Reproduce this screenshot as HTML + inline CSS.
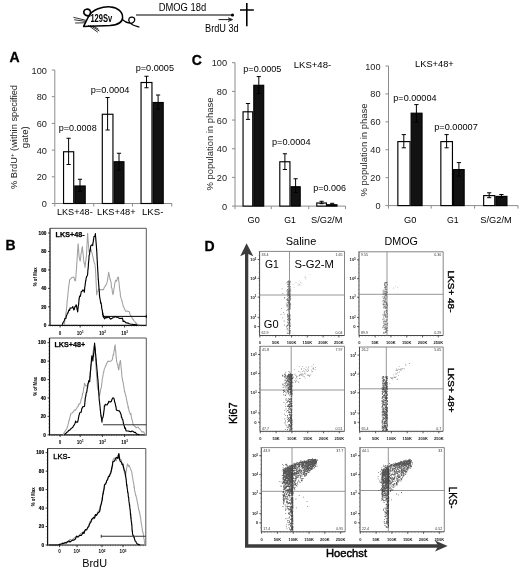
<!DOCTYPE html>
<html><head><meta charset="utf-8"><style>
html,body{margin:0;padding:0;background:#fff;}
svg{display:block;filter:blur(0.3px);}
</style></head><body>
<svg width="520" height="570" viewBox="0 0 520 570" font-family="Liberation Sans, sans-serif" style="font-family:'Liberation Sans',sans-serif">
<rect width="520" height="570" fill="#fff"/>
<g fill="none" stroke="#000" stroke-linecap="round" stroke-linejoin="round">
<path d="M83.6,26.4 L89.2,15.2 C93,9.5 102,6.4 110.5,6.9 C118,7.4 122.8,12 122.6,17.6 C122.4,22.6 117.5,25 110,25.6 C101,26.1 92,25.9 83.6,26.4 Z" stroke-width="1.5"/>
<path d="M89.8,15.6 C86.5,16.4 83.4,14.4 83.8,11.6 C84.3,8.9 88,8.5 89.8,10.2 C90.8,11.3 90.9,12.8 90.2,14" stroke-width="1.7"/>
<path d="M85.5,20.2 L73.8,17.4 M85.5,21.4 L74.5,19.8 M85.2,22.8 L75.5,23" stroke-width="0.8"/>
<path d="M88.5,25.5 L97.5,32 M90.5,25.6 L99,30.8 M93,25.8 L98.2,29" stroke-width="0.8"/>
<path d="M122.3,19.5 C124.5,21.5 127,22.8 129.5,23.2 C132.5,23.6 135.2,21.5 134.7,19 C134.2,16.8 130.8,16.4 129.3,18.2 C127.8,20.3 129.5,23.5 133,25 C135,25.9 137,26.4 139,27" stroke-width="1.2"/>
</g>
<text x="90.4" y="21.6" font-size="10" text-anchor="start" font-weight="bold" fill="#000" textLength="21.8" lengthAdjust="spacingAndGlyphs" >129Sv</text>
<line x1="136" y1="15" x2="232.5" y2="15" stroke="#000" stroke-width="1.1"/>
<circle cx="232.5" cy="15" r="1.6" fill="#000"/>
<text x="158.7" y="11.3" font-size="10" text-anchor="start" fill="#000" textLength="47.5" lengthAdjust="spacingAndGlyphs" >DMOG 18d</text>
<line x1="218.5" y1="19.6" x2="231" y2="19.6" stroke="#000" stroke-width="0.9"/>
<path d="M228,17.8 L232.5,19.6 L228,21.4" fill="none" stroke="#000" stroke-width="0.9"/>
<text x="205" y="32" font-size="10" text-anchor="start" fill="#000" textLength="33.7" lengthAdjust="spacingAndGlyphs" >BrdU 3d</text>
<line x1="246.8" y1="3" x2="246.8" y2="26.3" stroke="#000" stroke-width="1.6"/>
<line x1="240" y1="10" x2="253.8" y2="10" stroke="#000" stroke-width="1.5"/>
<text x="9.5" y="62.3" font-size="14" text-anchor="start" font-weight="bold" fill="#000" stroke="#000" stroke-width="0.3">A</text>
<line x1="54.8" y1="70" x2="54.8" y2="203.5" stroke="#8c8c8c" stroke-width="1"/>
<line x1="51.8" y1="203.50" x2="54.8" y2="203.50" stroke="#8c8c8c" stroke-width="1"/>
<text x="46.9" y="207.00" font-size="9.8" text-anchor="end" fill="#222" textLength="5.12" lengthAdjust="spacingAndGlyphs" >0</text>
<line x1="51.8" y1="176.80" x2="54.8" y2="176.80" stroke="#8c8c8c" stroke-width="1"/>
<text x="46.9" y="180.30" font-size="9.8" text-anchor="end" fill="#222" textLength="10.23" lengthAdjust="spacingAndGlyphs" >20</text>
<line x1="51.8" y1="150.10" x2="54.8" y2="150.10" stroke="#8c8c8c" stroke-width="1"/>
<text x="46.9" y="153.60" font-size="9.8" text-anchor="end" fill="#222" textLength="10.23" lengthAdjust="spacingAndGlyphs" >40</text>
<line x1="51.8" y1="123.40" x2="54.8" y2="123.40" stroke="#8c8c8c" stroke-width="1"/>
<text x="46.9" y="126.90" font-size="9.8" text-anchor="end" fill="#222" textLength="10.23" lengthAdjust="spacingAndGlyphs" >60</text>
<line x1="51.8" y1="96.70" x2="54.8" y2="96.70" stroke="#8c8c8c" stroke-width="1"/>
<text x="46.9" y="100.20" font-size="9.8" text-anchor="end" fill="#222" textLength="10.23" lengthAdjust="spacingAndGlyphs" >80</text>
<line x1="51.8" y1="70.00" x2="54.8" y2="70.00" stroke="#8c8c8c" stroke-width="1"/>
<text x="46.9" y="73.50" font-size="9.8" text-anchor="end" fill="#222" textLength="15.35" lengthAdjust="spacingAndGlyphs" >100</text>
<line x1="54.8" y1="203.5" x2="172" y2="203.5" stroke="#8c8c8c" stroke-width="1"/>
<line x1="54.8" y1="203.5" x2="54.8" y2="206.5" stroke="#8c8c8c" stroke-width="1"/>
<line x1="93.75" y1="203.5" x2="93.75" y2="206.5" stroke="#8c8c8c" stroke-width="1"/>
<line x1="132.5" y1="203.5" x2="132.5" y2="206.5" stroke="#8c8c8c" stroke-width="1"/>
<line x1="171.75" y1="203.5" x2="171.75" y2="206.5" stroke="#8c8c8c" stroke-width="1"/>
<rect x="63.55" y="151.75" width="10.15" height="51.75" fill="#fff" stroke="#000" stroke-width="1.15"/>
<rect x="74.8" y="186.0" width="10.4" height="17.5" fill="#121212" stroke="#000" stroke-width="1.15"/>
<rect x="102.3" y="114.25" width="10.65" height="89.25" fill="#fff" stroke="#000" stroke-width="1.15"/>
<rect x="114.05" y="161.75" width="9.9" height="41.75" fill="#121212" stroke="#000" stroke-width="1.15"/>
<rect x="141.05" y="82.5" width="10.9" height="121.0" fill="#fff" stroke="#000" stroke-width="1.15"/>
<rect x="153.05" y="102.5" width="10.15" height="101.0" fill="#121212" stroke="#000" stroke-width="1.15"/>
<path d="M68.6,138.25 V164.5 M66.5,138.25 H70.69999999999999 M66.5,164.5 H70.69999999999999" stroke="#000" stroke-width="1" fill="none"/>
<path d="M80,179.25 V191.25 M77.9,179.25 H82.1 M77.9,191.25 H82.1" stroke="#000" stroke-width="1" fill="none"/>
<path d="M107.6,97.5 V130 M105.5,97.5 H109.69999999999999 M105.5,130 H109.69999999999999" stroke="#000" stroke-width="1" fill="none"/>
<path d="M119,153.25 V170 M116.9,153.25 H121.1 M116.9,170 H121.1" stroke="#000" stroke-width="1" fill="none"/>
<path d="M146.5,76.25 V87.75 M144.4,76.25 H148.6 M144.4,87.75 H148.6" stroke="#000" stroke-width="1" fill="none"/>
<path d="M158.1,95 V109 M156.0,95 H160.2 M156.0,109 H160.2" stroke="#000" stroke-width="1" fill="none"/>
<text x="58.7" y="131" font-size="8.9" text-anchor="start" fill="#000" textLength="38" lengthAdjust="spacingAndGlyphs" >p=0.0008</text>
<text x="90.7" y="92.9" font-size="8.9" text-anchor="start" fill="#000" textLength="38.8" lengthAdjust="spacingAndGlyphs" >p=0.0004</text>
<text x="135.7" y="71.0" font-size="8.9" text-anchor="start" fill="#000" textLength="38.3" lengthAdjust="spacingAndGlyphs" >p=0.0005</text>
<text x="56.9" y="215.1" font-size="9.8" text-anchor="start" fill="#000" textLength="35.8" lengthAdjust="spacingAndGlyphs" >LKS+48-</text>
<text x="97" y="215.1" font-size="9.8" text-anchor="start" fill="#000" textLength="38.7" lengthAdjust="spacingAndGlyphs" >LKS+48+</text>
<text x="142" y="215.1" font-size="9.8" text-anchor="start" fill="#000" textLength="21.4" lengthAdjust="spacingAndGlyphs" >LKS-</text>
<text transform="translate(16.9,137) rotate(-90)" font-size="9.6" text-anchor="middle" textLength="104" lengthAdjust="spacingAndGlyphs" fill="#222">% BrdU<tspan font-size="6.2" dy="-3.4">+</tspan><tspan dy="3.4"> (within specified</tspan></text>
<text transform="translate(27.6,137.2) rotate(-90)" font-size="9.6" text-anchor="middle" fill="#222">gate)</text>
<text x="191.7" y="65.2" font-size="14" text-anchor="start" font-weight="bold" fill="#000" stroke="#000" stroke-width="0.3">C</text>
<line x1="235" y1="62.7" x2="235" y2="206.1" stroke="#8c8c8c" stroke-width="1"/>
<line x1="232" y1="206.10" x2="235" y2="206.10" stroke="#8c8c8c" stroke-width="1"/>
<text x="227.1" y="209.60" font-size="9.8" text-anchor="end" fill="#222" textLength="5.12" lengthAdjust="spacingAndGlyphs" >0</text>
<line x1="232" y1="177.42" x2="235" y2="177.42" stroke="#8c8c8c" stroke-width="1"/>
<text x="227.1" y="180.92" font-size="9.8" text-anchor="end" fill="#222" textLength="10.23" lengthAdjust="spacingAndGlyphs" >20</text>
<line x1="232" y1="148.74" x2="235" y2="148.74" stroke="#8c8c8c" stroke-width="1"/>
<text x="227.1" y="152.24" font-size="9.8" text-anchor="end" fill="#222" textLength="10.23" lengthAdjust="spacingAndGlyphs" >40</text>
<line x1="232" y1="120.06" x2="235" y2="120.06" stroke="#8c8c8c" stroke-width="1"/>
<text x="227.1" y="123.56" font-size="9.8" text-anchor="end" fill="#222" textLength="10.23" lengthAdjust="spacingAndGlyphs" >60</text>
<line x1="232" y1="91.38" x2="235" y2="91.38" stroke="#8c8c8c" stroke-width="1"/>
<text x="227.1" y="94.88" font-size="9.8" text-anchor="end" fill="#222" textLength="10.23" lengthAdjust="spacingAndGlyphs" >80</text>
<line x1="232" y1="62.70" x2="235" y2="62.70" stroke="#8c8c8c" stroke-width="1"/>
<text x="227.1" y="66.20" font-size="9.8" text-anchor="end" fill="#222" textLength="15.35" lengthAdjust="spacingAndGlyphs" >100</text>
<line x1="235" y1="206.1" x2="345.5" y2="206.1" stroke="#8c8c8c" stroke-width="1"/>
<line x1="235" y1="206.1" x2="235" y2="209.1" stroke="#8c8c8c" stroke-width="1"/>
<line x1="271.25" y1="206.1" x2="271.25" y2="209.1" stroke="#8c8c8c" stroke-width="1"/>
<line x1="308.75" y1="206.1" x2="308.75" y2="209.1" stroke="#8c8c8c" stroke-width="1"/>
<line x1="345.5" y1="206.1" x2="345.5" y2="209.1" stroke="#8c8c8c" stroke-width="1"/>
<rect x="243.05" y="111.8" width="9.65" height="94.3" fill="#fff" stroke="#000" stroke-width="1.15"/>
<rect x="253.8" y="85.3" width="9.9" height="120.8" fill="#121212" stroke="#000" stroke-width="1.15"/>
<rect x="279.8" y="161.75" width="10.15" height="44.349999999999994" fill="#fff" stroke="#000" stroke-width="1.15"/>
<rect x="291.05" y="186.75" width="9.15" height="19.349999999999994" fill="#121212" stroke="#000" stroke-width="1.15"/>
<rect x="316.8" y="203.0" width="9.65" height="3.0999999999999943" fill="#fff" stroke="#000" stroke-width="1.15"/>
<rect x="327.55" y="204.75" width="9.4" height="1.3499999999999943" fill="#121212" stroke="#000" stroke-width="1.15"/>
<path d="M248,103.5 V119.4 M245.9,103.5 H250.1 M245.9,119.4 H250.1" stroke="#000" stroke-width="1" fill="none"/>
<path d="M258.8,76.6 V93.5 M256.7,76.6 H260.90000000000003 M256.7,93.5 H260.90000000000003" stroke="#000" stroke-width="1" fill="none"/>
<path d="M284.9,153.75 V169.5 M282.79999999999995,153.75 H287.0 M282.79999999999995,169.5 H287.0" stroke="#000" stroke-width="1" fill="none"/>
<path d="M295.6,178.75 V192.5 M293.5,178.75 H297.70000000000005 M293.5,192.5 H297.70000000000005" stroke="#000" stroke-width="1" fill="none"/>
<path d="M321.6,201.3 V203.7 M319.5,201.3 H323.70000000000005 M319.5,203.7 H323.70000000000005" stroke="#000" stroke-width="1" fill="none"/>
<path d="M332.2,203.3 V205 M330.09999999999997,203.3 H334.3 M330.09999999999997,205 H334.3" stroke="#000" stroke-width="1" fill="none"/>
<text x="243.3" y="72.4" font-size="8.9" text-anchor="start" fill="#000" textLength="38.1" lengthAdjust="spacingAndGlyphs" >p=0.0005</text>
<text x="293.7" y="68.2" font-size="9.2" text-anchor="start" fill="#000" textLength="37.5" lengthAdjust="spacingAndGlyphs" >LKS+48-</text>
<text x="272" y="145" font-size="8.9" text-anchor="start" fill="#000" textLength="38.5" lengthAdjust="spacingAndGlyphs" >p=0.0004</text>
<text x="313.3" y="191.2" font-size="8.9" text-anchor="start" fill="#000" textLength="32.8" lengthAdjust="spacingAndGlyphs" >p=0.006</text>
<text x="247.6" y="223.2" font-size="9.4" text-anchor="start" fill="#000" textLength="12.2" lengthAdjust="spacingAndGlyphs" >G0</text>
<text x="284.3" y="223.2" font-size="9.4" text-anchor="start" fill="#000" textLength="11.6" lengthAdjust="spacingAndGlyphs" >G1</text>
<text x="311" y="223.2" font-size="9.4" text-anchor="start" fill="#000" textLength="31.4" lengthAdjust="spacingAndGlyphs" >S/G2/M</text>
<text transform="translate(213,144) rotate(-90)" font-size="9.6" fill="#222" text-anchor="middle" textLength="93" lengthAdjust="spacingAndGlyphs">% population in phase</text>
<line x1="388.5" y1="66" x2="388.5" y2="205.6" stroke="#8c8c8c" stroke-width="1"/>
<line x1="385.5" y1="205.60" x2="388.5" y2="205.60" stroke="#8c8c8c" stroke-width="1"/>
<text x="380.6" y="209.10" font-size="9.8" text-anchor="end" fill="#222" textLength="5.12" lengthAdjust="spacingAndGlyphs" >0</text>
<line x1="385.5" y1="177.68" x2="388.5" y2="177.68" stroke="#8c8c8c" stroke-width="1"/>
<text x="380.6" y="181.18" font-size="9.8" text-anchor="end" fill="#222" textLength="10.23" lengthAdjust="spacingAndGlyphs" >20</text>
<line x1="385.5" y1="149.76" x2="388.5" y2="149.76" stroke="#8c8c8c" stroke-width="1"/>
<text x="380.6" y="153.26" font-size="9.8" text-anchor="end" fill="#222" textLength="10.23" lengthAdjust="spacingAndGlyphs" >40</text>
<line x1="385.5" y1="121.84" x2="388.5" y2="121.84" stroke="#8c8c8c" stroke-width="1"/>
<text x="380.6" y="125.34" font-size="9.8" text-anchor="end" fill="#222" textLength="10.23" lengthAdjust="spacingAndGlyphs" >60</text>
<line x1="385.5" y1="93.92" x2="388.5" y2="93.92" stroke="#8c8c8c" stroke-width="1"/>
<text x="380.6" y="97.42" font-size="9.8" text-anchor="end" fill="#222" textLength="10.23" lengthAdjust="spacingAndGlyphs" >80</text>
<line x1="385.5" y1="66.00" x2="388.5" y2="66.00" stroke="#8c8c8c" stroke-width="1"/>
<text x="380.6" y="69.50" font-size="9.8" text-anchor="end" fill="#222" textLength="15.35" lengthAdjust="spacingAndGlyphs" >100</text>
<line x1="388.5" y1="205.6" x2="518" y2="205.6" stroke="#8c8c8c" stroke-width="1"/>
<line x1="388.5" y1="205.6" x2="388.5" y2="208.6" stroke="#8c8c8c" stroke-width="1"/>
<line x1="431.2" y1="205.6" x2="431.2" y2="208.6" stroke="#8c8c8c" stroke-width="1"/>
<line x1="474.6" y1="205.6" x2="474.6" y2="208.6" stroke="#8c8c8c" stroke-width="1"/>
<line x1="518" y1="205.6" x2="518" y2="208.6" stroke="#8c8c8c" stroke-width="1"/>
<rect x="397.85" y="141.6" width="12.200000000000012" height="64.0" fill="#fff" stroke="#000" stroke-width="1.15"/>
<rect x="411.15000000000003" y="113.2" width="10.9" height="92.39999999999999" fill="#121212" stroke="#000" stroke-width="1.15"/>
<rect x="440.85" y="141.6" width="11.599999999999989" height="64.0" fill="#fff" stroke="#000" stroke-width="1.15"/>
<rect x="453.55" y="169.6" width="10.599999999999989" height="36.0" fill="#121212" stroke="#000" stroke-width="1.15"/>
<rect x="483.65000000000003" y="195.6" width="11.099999999999989" height="10.0" fill="#fff" stroke="#000" stroke-width="1.15"/>
<rect x="495.85" y="196.4" width="11.099999999999989" height="9.199999999999989" fill="#121212" stroke="#000" stroke-width="1.15"/>
<path d="M403.8,134.6 V147.8 M401.7,134.6 H405.90000000000003 M401.7,147.8 H405.90000000000003" stroke="#000" stroke-width="1" fill="none"/>
<path d="M416.4,104.6 V122 M414.29999999999995,104.6 H418.5 M414.29999999999995,122 H418.5" stroke="#000" stroke-width="1" fill="none"/>
<path d="M446.6,134.6 V147.8 M444.5,134.6 H448.70000000000005 M444.5,147.8 H448.70000000000005" stroke="#000" stroke-width="1" fill="none"/>
<path d="M458.9,162.6 V176 M456.79999999999995,162.6 H461.0 M456.79999999999995,176 H461.0" stroke="#000" stroke-width="1" fill="none"/>
<path d="M489.2,192.8 V197.7 M487.09999999999997,192.8 H491.3 M487.09999999999997,197.7 H491.3" stroke="#000" stroke-width="1" fill="none"/>
<path d="M501.4,194.5 V197.2 M499.29999999999995,194.5 H503.5 M499.29999999999995,197.2 H503.5" stroke="#000" stroke-width="1" fill="none"/>
<text x="415" y="67.3" font-size="9" text-anchor="start" fill="#000" textLength="38.8" lengthAdjust="spacingAndGlyphs" >LKS+48+</text>
<text x="393.3" y="100.6" font-size="8.9" text-anchor="start" fill="#000" textLength="43.2" lengthAdjust="spacingAndGlyphs" >p=0.00004</text>
<text x="434.2" y="130.3" font-size="8.9" text-anchor="start" fill="#000" textLength="43.6" lengthAdjust="spacingAndGlyphs" >p=0.00007</text>
<text x="404" y="223.2" font-size="9.4" text-anchor="start" fill="#000" textLength="12.4" lengthAdjust="spacingAndGlyphs" >G0</text>
<text x="447" y="223.2" font-size="9.4" text-anchor="start" fill="#000" textLength="11.6" lengthAdjust="spacingAndGlyphs" >G1</text>
<text x="480.3" y="223.2" font-size="9.4" text-anchor="start" fill="#000" textLength="31.4" lengthAdjust="spacingAndGlyphs" >S/G2/M</text>
<text transform="translate(366.6,150) rotate(-90)" font-size="9.6" fill="#222" text-anchor="middle" textLength="93" lengthAdjust="spacingAndGlyphs">% population in phase</text>
<text x="5.4" y="249.6" font-size="14" text-anchor="start" font-weight="bold" fill="#000" stroke="#000" stroke-width="0.3">B</text>
<path d="M50,228.3 H146.3 V325.3" stroke="#444" stroke-width="0.9" fill="none"/>
<path d="M50,228.3 V325.3 H146.3" stroke="#111" stroke-width="1.2" fill="none"/>
<line x1="48" y1="325.30" x2="50" y2="325.30" stroke="#111" stroke-width="0.8"/>
<text x="46.4" y="327.00" font-size="4.7" text-anchor="end" font-weight="bold" fill="#000" stroke="#000" stroke-width="0.15">0</text>
<line x1="48" y1="306.84" x2="50" y2="306.84" stroke="#111" stroke-width="0.8"/>
<text x="46.4" y="308.54" font-size="4.7" text-anchor="end" font-weight="bold" fill="#000" stroke="#000" stroke-width="0.15">20</text>
<line x1="48" y1="288.38" x2="50" y2="288.38" stroke="#111" stroke-width="0.8"/>
<text x="46.4" y="290.08" font-size="4.7" text-anchor="end" font-weight="bold" fill="#000" stroke="#000" stroke-width="0.15">40</text>
<line x1="48" y1="269.92" x2="50" y2="269.92" stroke="#111" stroke-width="0.8"/>
<text x="46.4" y="271.62" font-size="4.7" text-anchor="end" font-weight="bold" fill="#000" stroke="#000" stroke-width="0.15">60</text>
<line x1="48" y1="251.46" x2="50" y2="251.46" stroke="#111" stroke-width="0.8"/>
<text x="46.4" y="253.16" font-size="4.7" text-anchor="end" font-weight="bold" fill="#000" stroke="#000" stroke-width="0.15">80</text>
<line x1="48" y1="233.00" x2="50" y2="233.00" stroke="#111" stroke-width="0.8"/>
<text x="46.4" y="234.70" font-size="4.7" text-anchor="end" font-weight="bold" fill="#000" stroke="#000" stroke-width="0.15">100</text>
<line x1="49" y1="325.30" x2="50" y2="325.30" stroke="#333" stroke-width="0.5"/>
<line x1="49" y1="321.61" x2="50" y2="321.61" stroke="#333" stroke-width="0.5"/>
<line x1="49" y1="317.92" x2="50" y2="317.92" stroke="#333" stroke-width="0.5"/>
<line x1="49" y1="314.22" x2="50" y2="314.22" stroke="#333" stroke-width="0.5"/>
<line x1="49" y1="310.53" x2="50" y2="310.53" stroke="#333" stroke-width="0.5"/>
<line x1="49" y1="306.84" x2="50" y2="306.84" stroke="#333" stroke-width="0.5"/>
<line x1="49" y1="303.15" x2="50" y2="303.15" stroke="#333" stroke-width="0.5"/>
<line x1="49" y1="299.46" x2="50" y2="299.46" stroke="#333" stroke-width="0.5"/>
<line x1="49" y1="295.76" x2="50" y2="295.76" stroke="#333" stroke-width="0.5"/>
<line x1="49" y1="292.07" x2="50" y2="292.07" stroke="#333" stroke-width="0.5"/>
<line x1="49" y1="288.38" x2="50" y2="288.38" stroke="#333" stroke-width="0.5"/>
<line x1="49" y1="284.69" x2="50" y2="284.69" stroke="#333" stroke-width="0.5"/>
<line x1="49" y1="281.00" x2="50" y2="281.00" stroke="#333" stroke-width="0.5"/>
<line x1="49" y1="277.30" x2="50" y2="277.30" stroke="#333" stroke-width="0.5"/>
<line x1="49" y1="273.61" x2="50" y2="273.61" stroke="#333" stroke-width="0.5"/>
<line x1="49" y1="269.92" x2="50" y2="269.92" stroke="#333" stroke-width="0.5"/>
<line x1="49" y1="266.23" x2="50" y2="266.23" stroke="#333" stroke-width="0.5"/>
<line x1="49" y1="262.54" x2="50" y2="262.54" stroke="#333" stroke-width="0.5"/>
<line x1="49" y1="258.84" x2="50" y2="258.84" stroke="#333" stroke-width="0.5"/>
<line x1="49" y1="255.15" x2="50" y2="255.15" stroke="#333" stroke-width="0.5"/>
<line x1="49" y1="251.46" x2="50" y2="251.46" stroke="#333" stroke-width="0.5"/>
<line x1="49" y1="247.77" x2="50" y2="247.77" stroke="#333" stroke-width="0.5"/>
<line x1="49" y1="244.08" x2="50" y2="244.08" stroke="#333" stroke-width="0.5"/>
<line x1="49" y1="240.38" x2="50" y2="240.38" stroke="#333" stroke-width="0.5"/>
<line x1="49" y1="236.69" x2="50" y2="236.69" stroke="#333" stroke-width="0.5"/>
<line x1="50.00" y1="325.3" x2="50.00" y2="326.5" stroke="#333" stroke-width="0.5"/>
<line x1="52.47" y1="325.3" x2="52.47" y2="326.5" stroke="#333" stroke-width="0.5"/>
<line x1="54.94" y1="325.3" x2="54.94" y2="326.5" stroke="#333" stroke-width="0.5"/>
<line x1="57.41" y1="325.3" x2="57.41" y2="326.5" stroke="#333" stroke-width="0.5"/>
<line x1="59.88" y1="325.3" x2="59.88" y2="326.5" stroke="#333" stroke-width="0.5"/>
<line x1="62.35" y1="325.3" x2="62.35" y2="326.5" stroke="#333" stroke-width="0.5"/>
<line x1="64.82" y1="325.3" x2="64.82" y2="326.5" stroke="#333" stroke-width="0.5"/>
<line x1="67.28" y1="325.3" x2="67.28" y2="326.5" stroke="#333" stroke-width="0.5"/>
<line x1="69.75" y1="325.3" x2="69.75" y2="326.5" stroke="#333" stroke-width="0.5"/>
<line x1="72.22" y1="325.3" x2="72.22" y2="326.5" stroke="#333" stroke-width="0.5"/>
<line x1="74.69" y1="325.3" x2="74.69" y2="326.5" stroke="#333" stroke-width="0.5"/>
<line x1="77.16" y1="325.3" x2="77.16" y2="326.5" stroke="#333" stroke-width="0.5"/>
<line x1="79.63" y1="325.3" x2="79.63" y2="326.5" stroke="#333" stroke-width="0.5"/>
<line x1="82.10" y1="325.3" x2="82.10" y2="326.5" stroke="#333" stroke-width="0.5"/>
<line x1="84.57" y1="325.3" x2="84.57" y2="326.5" stroke="#333" stroke-width="0.5"/>
<line x1="87.04" y1="325.3" x2="87.04" y2="326.5" stroke="#333" stroke-width="0.5"/>
<line x1="89.51" y1="325.3" x2="89.51" y2="326.5" stroke="#333" stroke-width="0.5"/>
<line x1="91.98" y1="325.3" x2="91.98" y2="326.5" stroke="#333" stroke-width="0.5"/>
<line x1="94.45" y1="325.3" x2="94.45" y2="326.5" stroke="#333" stroke-width="0.5"/>
<line x1="96.92" y1="325.3" x2="96.92" y2="326.5" stroke="#333" stroke-width="0.5"/>
<line x1="99.38" y1="325.3" x2="99.38" y2="326.5" stroke="#333" stroke-width="0.5"/>
<line x1="101.85" y1="325.3" x2="101.85" y2="326.5" stroke="#333" stroke-width="0.5"/>
<line x1="104.32" y1="325.3" x2="104.32" y2="326.5" stroke="#333" stroke-width="0.5"/>
<line x1="106.79" y1="325.3" x2="106.79" y2="326.5" stroke="#333" stroke-width="0.5"/>
<line x1="109.26" y1="325.3" x2="109.26" y2="326.5" stroke="#333" stroke-width="0.5"/>
<line x1="111.73" y1="325.3" x2="111.73" y2="326.5" stroke="#333" stroke-width="0.5"/>
<line x1="114.20" y1="325.3" x2="114.20" y2="326.5" stroke="#333" stroke-width="0.5"/>
<line x1="116.67" y1="325.3" x2="116.67" y2="326.5" stroke="#333" stroke-width="0.5"/>
<line x1="119.14" y1="325.3" x2="119.14" y2="326.5" stroke="#333" stroke-width="0.5"/>
<line x1="121.61" y1="325.3" x2="121.61" y2="326.5" stroke="#333" stroke-width="0.5"/>
<line x1="124.08" y1="325.3" x2="124.08" y2="326.5" stroke="#333" stroke-width="0.5"/>
<line x1="126.55" y1="325.3" x2="126.55" y2="326.5" stroke="#333" stroke-width="0.5"/>
<line x1="129.02" y1="325.3" x2="129.02" y2="326.5" stroke="#333" stroke-width="0.5"/>
<line x1="131.48" y1="325.3" x2="131.48" y2="326.5" stroke="#333" stroke-width="0.5"/>
<line x1="133.95" y1="325.3" x2="133.95" y2="326.5" stroke="#333" stroke-width="0.5"/>
<line x1="136.42" y1="325.3" x2="136.42" y2="326.5" stroke="#333" stroke-width="0.5"/>
<line x1="138.89" y1="325.3" x2="138.89" y2="326.5" stroke="#333" stroke-width="0.5"/>
<line x1="141.36" y1="325.3" x2="141.36" y2="326.5" stroke="#333" stroke-width="0.5"/>
<line x1="143.83" y1="325.3" x2="143.83" y2="326.5" stroke="#333" stroke-width="0.5"/>
<line x1="146.30" y1="325.3" x2="146.30" y2="326.5" stroke="#333" stroke-width="0.5"/>
<line x1="60.10" y1="325.3" x2="60.10" y2="327.5" stroke="#111" stroke-width="0.8"/>
<line x1="80.20" y1="325.3" x2="80.20" y2="327.5" stroke="#111" stroke-width="0.8"/>
<line x1="102.40" y1="325.3" x2="102.40" y2="327.5" stroke="#111" stroke-width="0.8"/>
<line x1="124.60" y1="325.3" x2="124.60" y2="327.5" stroke="#111" stroke-width="0.8"/>
<text x="60.10" y="335" font-size="4.6" text-anchor="middle" font-weight="bold" fill="#000" >0</text>
<text x="80.20" y="335" font-size="4.6" text-anchor="middle" font-weight="bold" fill="#000" >10<tspan font-size="3" dy="-1.6">1</tspan></text>
<text x="102.40" y="335" font-size="4.6" text-anchor="middle" font-weight="bold" fill="#000" >10<tspan font-size="3" dy="-1.6">2</tspan></text>
<text x="124.60" y="335" font-size="4.6" text-anchor="middle" font-weight="bold" fill="#000" >10<tspan font-size="3" dy="-1.6">3</tspan></text>
<text x="55.6" y="237.3" font-size="7.2" text-anchor="start" font-weight="bold" fill="#000" stroke="#000" stroke-width="0.25">LKS+48-</text>
<text transform="translate(37.1,276.8) rotate(-90)" font-size="5.2" font-weight="bold" text-anchor="middle" textLength="18.9" lengthAdjust="spacingAndGlyphs">% of Max</text>
<polyline points="64.33,324.85 64.49,323.68 64.65,322.71 64.82,321.14 64.98,319.54 65.14,318.67 65.30,317.12 65.47,316.69 65.63,316.41 65.79,313.96 65.95,312.70 66.12,312.30 66.28,311.04 66.44,309.69 66.55,307.85 66.66,307.37 66.78,306.76 66.89,304.22 67.00,303.73 67.11,301.60 67.22,300.92 67.33,299.42 67.44,299.43 67.56,297.59 67.67,297.56 67.78,296.36 67.89,295.01 68.00,292.27 68.11,292.54 68.22,291.77 68.34,290.77 68.45,288.50 68.56,288.13 68.71,286.57 68.86,285.48 69.01,285.58 69.16,283.06 69.31,282.39 69.46,281.83 69.62,279.59 70.32,279.08 71.03,278.39 71.73,277.51 73.85,277.03 74.41,279.00 74.97,280.95 75.54,279.97 75.62,280.54 75.70,278.91 75.79,277.26 75.87,277.99 75.95,276.01 76.03,273.52 76.11,273.29 76.20,272.53 76.28,270.88 76.36,270.37 76.44,268.73 76.53,268.13 76.61,267.55 76.69,264.95 76.77,264.45 76.85,262.87 76.94,262.17 77.02,260.13 77.09,259.43 77.15,258.58 77.22,258.22 77.28,257.27 77.35,254.42 77.42,253.66 77.48,253.55 77.55,250.58 77.61,250.52 77.68,249.66 77.75,249.48 77.81,247.96 77.88,246.12 77.94,244.97 78.01,243.93 78.08,244.05 78.17,243.83 78.25,245.06 78.34,246.67 78.43,247.48 78.52,248.57 78.61,249.08 78.69,250.99 78.78,251.84 78.87,254.11 78.96,254.90 79.05,255.57 79.13,257.20 79.49,257.90 79.84,260.29 80.19,260.96 80.36,260.23 80.52,257.78 80.68,257.79 80.84,255.22 81.01,253.84 81.17,253.91 81.33,252.36 81.49,251.96 81.66,252.28 81.82,248.99 81.98,248.00 82.14,247.44 82.31,246.50 82.42,247.16 82.53,248.27 82.65,250.03 82.76,251.03 82.87,251.07 82.98,252.87 83.10,254.08 83.21,254.44 83.32,256.49 83.44,256.84 83.55,259.24 83.66,259.83 83.77,260.88 83.89,261.53 84.00,262.99 84.35,263.09 84.71,265.11 85.06,267.56 85.19,264.66 85.33,265.59 85.46,262.62 85.60,263.22 85.73,260.95 85.87,260.93 86.00,259.32 86.13,257.00 86.27,257.80 86.40,256.78 86.54,254.57 86.59,253.31 86.65,252.28 86.71,250.59 86.76,250.93 86.82,248.67 86.87,247.90 86.93,246.27 86.98,245.27 87.04,243.70 87.10,244.36 87.15,242.26 87.21,241.93 87.26,240.15 87.32,238.54 87.37,237.69 87.43,236.41 87.48,235.69 87.54,234.31 87.60,233.25 87.68,233.62 87.77,235.14 87.86,237.98 87.94,237.47 88.03,238.32 88.12,240.42 88.21,242.29 88.29,241.40 88.38,243.39 88.47,244.22 88.55,244.55 88.64,247.41 88.73,248.00 88.82,249.19 88.90,249.73 88.99,251.70 89.08,252.12 89.50,251.34 89.92,249.61 90.35,248.48 90.77,249.20 91.07,249.12 91.37,250.89 91.68,251.87 91.98,252.80 92.28,253.96 92.58,255.96 92.88,256.52 93.17,257.80 93.45,259.10 93.73,261.08 94.01,261.91 94.29,262.87 94.58,263.39 94.86,263.99 95.14,266.80 95.42,267.98 95.47,268.31 95.52,269.89 95.58,271.15 95.63,272.29 95.68,273.45 95.73,273.59 95.78,276.07 95.83,275.24 95.88,277.81 95.93,278.65 95.98,280.02 96.03,281.82 96.08,282.65 96.13,281.91 96.18,282.63 96.24,285.48 96.29,285.30 96.34,287.10 96.39,288.80 96.44,288.16 96.49,288.93 96.54,291.69 96.59,292.64 96.64,293.54 96.69,294.83 97.06,293.15 97.43,291.63 97.80,291.52 98.17,289.90 99.23,288.90 100.29,289.87 101.88,289.48 103.46,289.80 104.10,287.77 104.73,286.94 105.37,285.65 106.00,284.67 106.63,284.37 106.85,282.52 107.06,282.15 107.27,280.98 107.48,280.99 107.69,277.44 107.90,277.87 108.12,276.02 108.33,274.91 108.54,272.74 108.75,272.27 108.99,274.29 109.22,274.89 109.46,276.18 109.69,277.09 109.93,279.28 110.16,279.63 110.40,279.28 110.63,281.51 110.87,281.79 111.08,282.06 111.29,285.13 111.50,287.60 111.71,287.86 111.92,288.17 112.13,289.50 112.35,292.11 112.56,292.59 112.77,293.68 112.98,294.77 113.17,293.68 113.37,293.06 113.56,291.73 113.75,290.34 113.94,288.31 114.13,288.24 114.33,286.25 114.52,286.34 114.71,283.53 114.90,283.17 115.10,282.11 115.73,280.13 116.37,281.21 117.00,279.96 117.63,277.56 118.27,277.37 118.40,278.22 118.53,277.25 118.67,280.37 118.80,281.28 118.93,282.50 119.06,282.82 119.19,284.50 119.33,285.69 119.46,287.77 119.59,288.30 119.72,289.18 119.86,291.38 119.99,291.05 120.12,292.29 120.25,292.41 120.38,295.91 120.69,296.69 120.99,297.87 121.29,298.90 121.59,299.72 121.90,301.00 122.20,301.88 122.50,303.13 122.85,304.36 123.21,306.44 123.56,306.83 123.91,307.46 124.26,308.15 124.62,309.17 125.67,311.27 126.73,311.03 127.79,311.25 128.85,311.49 129.38,312.01 129.90,313.80 130.43,315.52 130.96,315.69 131.49,316.86 132.02,317.92 132.55,319.21 133.08,319.08 133.92,320.87 134.77,321.29 135.62,323.35 136.46,323.04 137.31,324.42 138.89,324.63 140.48,324.85" fill="none" stroke="#a0a0a0" stroke-width="1.05" stroke-linejoin="round"/>
<polyline points="62.21,324.85 62.74,323.52 63.27,322.20 63.80,321.65 64.33,320.40 64.86,318.60 65.38,318.51 65.91,318.48 66.44,315.78 66.97,314.76 67.50,313.11 68.03,313.01 68.56,310.86 69.09,309.90 69.62,310.51 70.14,307.92 70.67,308.26 71.73,308.04 72.79,306.62 73.28,307.89 73.78,309.92 74.27,309.48 74.61,308.14 74.95,306.55 75.28,306.47 75.62,306.42 75.96,305.00 76.24,304.90 76.53,306.20 76.81,307.68 77.09,309.47 77.37,310.35 77.65,311.88 77.79,310.78 77.92,309.21 78.06,308.24 78.19,307.26 78.33,305.90 78.46,305.16 78.60,304.96 78.73,302.91 78.87,301.39 79.00,299.01 79.13,299.31 79.49,296.62 79.84,295.94 80.19,296.46 80.54,295.30 80.90,293.65 81.25,291.50 81.96,291.37 82.66,290.10 83.37,289.97 84.42,292.16 84.58,289.57 84.73,287.72 84.88,286.30 85.04,285.92 85.19,284.68 85.35,282.85 85.50,282.58 85.65,280.54 85.81,280.97 85.96,279.78 86.12,278.64 86.61,276.50 87.10,276.13 87.60,274.62 87.69,273.32 87.78,272.23 87.87,270.43 87.97,269.21 88.06,269.65 88.15,267.83 88.24,267.00 88.34,266.42 88.43,263.38 88.52,262.92 88.61,262.47 88.71,261.50 88.80,259.84 88.89,259.70 88.98,258.00 89.08,255.88 89.26,254.90 89.45,254.94 89.64,253.53 89.83,250.70 90.02,251.80 90.21,250.10 90.39,249.44 90.58,247.06 90.77,245.95 92.46,244.31 92.71,245.64 92.96,242.51 93.20,242.51 93.45,239.71 93.70,239.04 93.94,236.52 94.44,236.37 94.93,236.27 95.42,233.64 95.51,236.40 95.60,237.02 95.70,237.19 95.79,238.70 95.88,239.86 95.97,241.28 96.06,242.08 96.15,243.01 96.24,244.51 96.33,245.13 96.42,246.08 96.51,248.08 96.60,249.87 96.69,249.31 96.75,251.49 96.81,252.13 96.87,253.00 96.93,255.38 96.99,255.52 97.05,258.03 97.11,257.54 97.17,259.46 97.23,260.13 97.28,260.86 97.34,262.90 97.40,263.48 97.46,265.11 97.52,265.75 97.58,266.12 97.64,267.91 97.70,269.12 97.76,270.86 97.82,270.65 97.88,272.36 97.94,272.28 98.00,275.04 98.05,274.93 98.11,275.52 98.17,277.84 98.26,279.78 98.35,279.06 98.43,280.48 98.52,281.84 98.61,282.69 98.70,284.87 98.78,285.16 98.87,286.34 98.96,288.37 99.04,288.55 99.13,290.51 99.22,290.64 99.31,291.59 99.39,292.28 99.48,295.99 99.57,295.58 99.65,297.09 99.90,298.11 100.14,299.45 100.38,300.58 100.62,303.09 100.86,302.24 101.10,303.09 101.35,304.68 101.53,305.63 101.72,308.26 101.91,309.48 102.10,309.41 102.29,310.29 102.47,312.19 102.66,314.58 102.85,312.81 103.04,316.33 103.78,316.27 104.52,318.81 105.71,317.32 106.90,317.88 108.09,317.02 109.28,317.39 110.47,319.05 111.66,318.65 112.85,317.80 114.04,317.47 115.10,316.40 116.15,317.10 117.21,317.00 118.27,317.67 119.33,318.36 120.38,318.35 121.44,318.56 122.50,318.05 122.85,320.04 123.21,321.50 123.56,321.15 124.62,321.42 125.67,322.61 126.73,322.94 128.00,323.06 129.27,323.75 130.54,324.00 131.81,324.21 133.08,324.42 134.49,324.56 135.90,324.71 137.31,324.85" fill="none" stroke="#000" stroke-width="1.15" stroke-linejoin="round"/>
<path d="M103.46,316.38 H146.3 M103.46,314.88 V317.88 M146.3,314.88 V317.88" stroke="#000" stroke-width="1" fill="none"/>
<path d="M49.5,338 H146.3 V434.8" stroke="#444" stroke-width="0.9" fill="none"/>
<path d="M49.5,338 V434.8 H146.3" stroke="#111" stroke-width="1.2" fill="none"/>
<line x1="47.5" y1="434.80" x2="49.5" y2="434.80" stroke="#111" stroke-width="0.8"/>
<text x="45.9" y="436.50" font-size="4.7" text-anchor="end" font-weight="bold" fill="#000" stroke="#000" stroke-width="0.15">0</text>
<line x1="47.5" y1="416.38" x2="49.5" y2="416.38" stroke="#111" stroke-width="0.8"/>
<text x="45.9" y="418.08" font-size="4.7" text-anchor="end" font-weight="bold" fill="#000" stroke="#000" stroke-width="0.15">20</text>
<line x1="47.5" y1="397.96" x2="49.5" y2="397.96" stroke="#111" stroke-width="0.8"/>
<text x="45.9" y="399.66" font-size="4.7" text-anchor="end" font-weight="bold" fill="#000" stroke="#000" stroke-width="0.15">40</text>
<line x1="47.5" y1="379.54" x2="49.5" y2="379.54" stroke="#111" stroke-width="0.8"/>
<text x="45.9" y="381.24" font-size="4.7" text-anchor="end" font-weight="bold" fill="#000" stroke="#000" stroke-width="0.15">60</text>
<line x1="47.5" y1="361.12" x2="49.5" y2="361.12" stroke="#111" stroke-width="0.8"/>
<text x="45.9" y="362.82" font-size="4.7" text-anchor="end" font-weight="bold" fill="#000" stroke="#000" stroke-width="0.15">80</text>
<line x1="47.5" y1="342.70" x2="49.5" y2="342.70" stroke="#111" stroke-width="0.8"/>
<text x="45.9" y="344.40" font-size="4.7" text-anchor="end" font-weight="bold" fill="#000" stroke="#000" stroke-width="0.15">100</text>
<line x1="48.5" y1="434.80" x2="49.5" y2="434.80" stroke="#333" stroke-width="0.5"/>
<line x1="48.5" y1="431.12" x2="49.5" y2="431.12" stroke="#333" stroke-width="0.5"/>
<line x1="48.5" y1="427.43" x2="49.5" y2="427.43" stroke="#333" stroke-width="0.5"/>
<line x1="48.5" y1="423.75" x2="49.5" y2="423.75" stroke="#333" stroke-width="0.5"/>
<line x1="48.5" y1="420.06" x2="49.5" y2="420.06" stroke="#333" stroke-width="0.5"/>
<line x1="48.5" y1="416.38" x2="49.5" y2="416.38" stroke="#333" stroke-width="0.5"/>
<line x1="48.5" y1="412.70" x2="49.5" y2="412.70" stroke="#333" stroke-width="0.5"/>
<line x1="48.5" y1="409.01" x2="49.5" y2="409.01" stroke="#333" stroke-width="0.5"/>
<line x1="48.5" y1="405.33" x2="49.5" y2="405.33" stroke="#333" stroke-width="0.5"/>
<line x1="48.5" y1="401.64" x2="49.5" y2="401.64" stroke="#333" stroke-width="0.5"/>
<line x1="48.5" y1="397.96" x2="49.5" y2="397.96" stroke="#333" stroke-width="0.5"/>
<line x1="48.5" y1="394.28" x2="49.5" y2="394.28" stroke="#333" stroke-width="0.5"/>
<line x1="48.5" y1="390.59" x2="49.5" y2="390.59" stroke="#333" stroke-width="0.5"/>
<line x1="48.5" y1="386.91" x2="49.5" y2="386.91" stroke="#333" stroke-width="0.5"/>
<line x1="48.5" y1="383.22" x2="49.5" y2="383.22" stroke="#333" stroke-width="0.5"/>
<line x1="48.5" y1="379.54" x2="49.5" y2="379.54" stroke="#333" stroke-width="0.5"/>
<line x1="48.5" y1="375.86" x2="49.5" y2="375.86" stroke="#333" stroke-width="0.5"/>
<line x1="48.5" y1="372.17" x2="49.5" y2="372.17" stroke="#333" stroke-width="0.5"/>
<line x1="48.5" y1="368.49" x2="49.5" y2="368.49" stroke="#333" stroke-width="0.5"/>
<line x1="48.5" y1="364.80" x2="49.5" y2="364.80" stroke="#333" stroke-width="0.5"/>
<line x1="48.5" y1="361.12" x2="49.5" y2="361.12" stroke="#333" stroke-width="0.5"/>
<line x1="48.5" y1="357.44" x2="49.5" y2="357.44" stroke="#333" stroke-width="0.5"/>
<line x1="48.5" y1="353.75" x2="49.5" y2="353.75" stroke="#333" stroke-width="0.5"/>
<line x1="48.5" y1="350.07" x2="49.5" y2="350.07" stroke="#333" stroke-width="0.5"/>
<line x1="48.5" y1="346.38" x2="49.5" y2="346.38" stroke="#333" stroke-width="0.5"/>
<line x1="49.50" y1="434.8" x2="49.50" y2="436.0" stroke="#333" stroke-width="0.5"/>
<line x1="51.98" y1="434.8" x2="51.98" y2="436.0" stroke="#333" stroke-width="0.5"/>
<line x1="54.46" y1="434.8" x2="54.46" y2="436.0" stroke="#333" stroke-width="0.5"/>
<line x1="56.95" y1="434.8" x2="56.95" y2="436.0" stroke="#333" stroke-width="0.5"/>
<line x1="59.43" y1="434.8" x2="59.43" y2="436.0" stroke="#333" stroke-width="0.5"/>
<line x1="61.91" y1="434.8" x2="61.91" y2="436.0" stroke="#333" stroke-width="0.5"/>
<line x1="64.39" y1="434.8" x2="64.39" y2="436.0" stroke="#333" stroke-width="0.5"/>
<line x1="66.87" y1="434.8" x2="66.87" y2="436.0" stroke="#333" stroke-width="0.5"/>
<line x1="69.36" y1="434.8" x2="69.36" y2="436.0" stroke="#333" stroke-width="0.5"/>
<line x1="71.84" y1="434.8" x2="71.84" y2="436.0" stroke="#333" stroke-width="0.5"/>
<line x1="74.32" y1="434.8" x2="74.32" y2="436.0" stroke="#333" stroke-width="0.5"/>
<line x1="76.80" y1="434.8" x2="76.80" y2="436.0" stroke="#333" stroke-width="0.5"/>
<line x1="79.28" y1="434.8" x2="79.28" y2="436.0" stroke="#333" stroke-width="0.5"/>
<line x1="81.77" y1="434.8" x2="81.77" y2="436.0" stroke="#333" stroke-width="0.5"/>
<line x1="84.25" y1="434.8" x2="84.25" y2="436.0" stroke="#333" stroke-width="0.5"/>
<line x1="86.73" y1="434.8" x2="86.73" y2="436.0" stroke="#333" stroke-width="0.5"/>
<line x1="89.21" y1="434.8" x2="89.21" y2="436.0" stroke="#333" stroke-width="0.5"/>
<line x1="91.69" y1="434.8" x2="91.69" y2="436.0" stroke="#333" stroke-width="0.5"/>
<line x1="94.18" y1="434.8" x2="94.18" y2="436.0" stroke="#333" stroke-width="0.5"/>
<line x1="96.66" y1="434.8" x2="96.66" y2="436.0" stroke="#333" stroke-width="0.5"/>
<line x1="99.14" y1="434.8" x2="99.14" y2="436.0" stroke="#333" stroke-width="0.5"/>
<line x1="101.62" y1="434.8" x2="101.62" y2="436.0" stroke="#333" stroke-width="0.5"/>
<line x1="104.11" y1="434.8" x2="104.11" y2="436.0" stroke="#333" stroke-width="0.5"/>
<line x1="106.59" y1="434.8" x2="106.59" y2="436.0" stroke="#333" stroke-width="0.5"/>
<line x1="109.07" y1="434.8" x2="109.07" y2="436.0" stroke="#333" stroke-width="0.5"/>
<line x1="111.55" y1="434.8" x2="111.55" y2="436.0" stroke="#333" stroke-width="0.5"/>
<line x1="114.03" y1="434.8" x2="114.03" y2="436.0" stroke="#333" stroke-width="0.5"/>
<line x1="116.52" y1="434.8" x2="116.52" y2="436.0" stroke="#333" stroke-width="0.5"/>
<line x1="119.00" y1="434.8" x2="119.00" y2="436.0" stroke="#333" stroke-width="0.5"/>
<line x1="121.48" y1="434.8" x2="121.48" y2="436.0" stroke="#333" stroke-width="0.5"/>
<line x1="123.96" y1="434.8" x2="123.96" y2="436.0" stroke="#333" stroke-width="0.5"/>
<line x1="126.44" y1="434.8" x2="126.44" y2="436.0" stroke="#333" stroke-width="0.5"/>
<line x1="128.93" y1="434.8" x2="128.93" y2="436.0" stroke="#333" stroke-width="0.5"/>
<line x1="131.41" y1="434.8" x2="131.41" y2="436.0" stroke="#333" stroke-width="0.5"/>
<line x1="133.89" y1="434.8" x2="133.89" y2="436.0" stroke="#333" stroke-width="0.5"/>
<line x1="136.37" y1="434.8" x2="136.37" y2="436.0" stroke="#333" stroke-width="0.5"/>
<line x1="138.85" y1="434.8" x2="138.85" y2="436.0" stroke="#333" stroke-width="0.5"/>
<line x1="141.34" y1="434.8" x2="141.34" y2="436.0" stroke="#333" stroke-width="0.5"/>
<line x1="143.82" y1="434.8" x2="143.82" y2="436.0" stroke="#333" stroke-width="0.5"/>
<line x1="146.30" y1="434.8" x2="146.30" y2="436.0" stroke="#333" stroke-width="0.5"/>
<line x1="60.10" y1="434.8" x2="60.10" y2="437.0" stroke="#111" stroke-width="0.8"/>
<line x1="80.20" y1="434.8" x2="80.20" y2="437.0" stroke="#111" stroke-width="0.8"/>
<line x1="102.40" y1="434.8" x2="102.40" y2="437.0" stroke="#111" stroke-width="0.8"/>
<line x1="124.60" y1="434.8" x2="124.60" y2="437.0" stroke="#111" stroke-width="0.8"/>
<text x="60.10" y="443.9" font-size="4.6" text-anchor="middle" font-weight="bold" fill="#000" >0</text>
<text x="80.20" y="443.9" font-size="4.6" text-anchor="middle" font-weight="bold" fill="#000" >10<tspan font-size="3" dy="-1.6">1</tspan></text>
<text x="102.40" y="443.9" font-size="4.6" text-anchor="middle" font-weight="bold" fill="#000" >10<tspan font-size="3" dy="-1.6">2</tspan></text>
<text x="124.60" y="443.9" font-size="4.6" text-anchor="middle" font-weight="bold" fill="#000" >10<tspan font-size="3" dy="-1.6">3</tspan></text>
<text x="54.4" y="347.3" font-size="7.2" text-anchor="start" font-weight="bold" fill="#000" stroke="#000" stroke-width="0.25">LKS+48+</text>
<text transform="translate(36.6,386.4) rotate(-90)" font-size="5.2" font-weight="bold" text-anchor="middle" textLength="18.9" lengthAdjust="spacingAndGlyphs">% of Max</text>
<polyline points="63.27,434.71 63.87,433.14 64.48,431.93 65.08,431.37 65.69,430.10 66.29,429.59 66.90,428.36 67.50,426.35 67.79,426.20 68.08,424.06 68.37,423.41 68.65,422.49 68.94,420.09 69.23,420.45 69.52,419.34 69.81,417.97 70.10,416.63 70.38,415.51 70.67,413.93 71.73,413.37 72.79,412.11 73.58,411.77 74.38,410.07 75.17,410.29 75.96,409.43 76.67,408.17 77.37,406.90 78.08,406.54 78.78,403.93 79.49,404.36 80.19,403.15 80.49,402.12 80.80,401.13 81.10,399.35 81.40,398.57 81.70,398.14 82.01,396.94 82.31,395.72 82.54,393.34 82.78,393.60 83.01,392.87 83.25,391.58 83.48,389.86 83.72,387.44 83.95,388.01 84.19,386.07 84.42,383.23 86.12,386.32 87.60,385.01 87.97,383.83 88.34,382.97 88.71,382.98 89.08,380.51 89.23,379.81 89.38,379.69 89.54,378.42 89.69,376.08 89.85,374.83 90.00,372.96 90.15,372.21 90.31,371.84 90.46,370.66 90.62,369.31 90.77,368.77 90.92,366.38 91.08,365.73 91.23,365.13 91.38,363.87 91.54,363.06 91.69,361.43 91.85,359.78 92.00,359.10 92.15,356.99 92.31,355.39 92.46,355.79 92.70,354.17 92.93,353.25 93.17,350.67 93.40,350.43 93.64,349.09 93.87,347.73 94.11,345.58 94.34,345.75 94.58,345.44 94.65,346.18 94.72,346.60 94.79,348.12 94.86,349.77 94.93,348.42 95.00,351.37 95.07,352.94 95.14,354.15 95.21,355.97 95.28,356.68 95.35,357.22 95.42,358.32 95.49,359.76 95.56,359.94 95.63,361.40 95.71,363.17 95.78,365.01 95.85,364.64 95.92,365.83 95.99,367.11 96.06,369.02 96.14,369.17 96.22,371.34 96.30,370.75 96.39,372.41 96.47,373.52 96.55,375.33 96.63,376.62 96.72,375.95 96.80,377.48 96.88,379.48 96.96,379.90 97.04,380.41 97.13,383.32 97.21,384.05 97.29,385.17 97.37,385.61 97.46,387.78 97.54,388.01 97.84,390.00 98.14,389.65 98.45,390.75 98.75,392.55 99.05,392.97 99.35,394.99 99.65,395.76 99.87,393.74 100.08,393.25 100.29,391.76 100.50,391.46 100.71,389.18 100.92,388.13 101.13,388.10 101.35,387.62 101.52,386.22 101.70,383.63 101.88,382.51 102.05,382.20 102.23,379.80 102.40,377.97 102.64,377.56 102.87,376.62 103.11,374.55 103.34,372.80 103.58,371.77 103.81,372.07 104.05,369.90 104.28,369.15 104.52,368.23 105.05,367.45 105.58,365.73 106.11,365.25 106.63,363.22 107.34,362.54 108.04,361.01 108.75,361.47 109.81,361.18 110.87,361.21 111.61,360.43 112.35,359.46 112.60,358.84 112.85,355.96 113.11,355.08 113.36,354.27 113.62,355.04 113.80,352.83 113.99,350.97 114.17,350.44 114.36,350.27 114.54,347.55 114.73,346.35 114.91,346.34 115.10,344.73 115.19,346.01 115.29,346.34 115.39,349.20 115.49,350.21 115.59,350.56 115.69,351.80 115.79,351.06 115.89,354.08 115.98,354.66 116.08,356.25 116.18,357.58 116.28,358.02 116.38,358.23 116.48,360.83 116.58,361.21 116.88,362.56 117.18,363.42 117.48,364.66 117.79,364.34 118.09,367.87 118.39,368.25 118.69,369.91 118.93,369.31 119.18,366.73 119.42,364.25 119.66,363.67 119.90,362.25 120.14,361.53 120.38,360.73 120.51,360.40 120.63,363.18 120.75,363.02 120.87,365.41 120.99,366.26 121.11,367.25 121.23,368.55 121.35,369.36 121.47,370.44 121.59,370.83 121.71,373.12 121.84,375.56 121.96,376.79 122.08,377.46 122.27,378.19 122.46,378.37 122.65,381.01 122.85,381.11 123.04,382.26 123.23,383.26 123.42,384.68 123.62,385.46 123.81,386.86 124.00,387.32 124.19,388.97 124.47,392.00 124.76,391.53 125.04,392.59 125.32,394.30 125.60,395.60 125.88,395.50 126.17,397.31 126.45,399.28 126.73,400.00 126.97,401.07 127.20,403.25 127.44,402.86 127.67,404.57 127.91,405.32 128.14,407.90 128.38,406.67 128.61,408.74 128.85,410.01 129.38,411.91 129.90,412.92 130.43,414.53 130.96,413.51 131.20,416.32 131.43,416.76 131.67,417.68 131.90,419.69 132.14,419.85 132.37,420.21 132.61,422.58 132.84,422.97 133.08,424.74 134.13,425.98 135.19,426.47 136.25,427.89 137.31,427.17 138.15,427.08 139.00,428.47 139.85,429.20 140.69,429.84 141.54,431.84 142.60,431.88 143.65,431.74 144.71,433.92 145.77,434.71" fill="none" stroke="#a0a0a0" stroke-width="1.05" stroke-linejoin="round"/>
<polyline points="64.33,434.71 65.21,433.83 66.09,433.20 66.97,432.14 67.85,431.63 68.73,430.33 69.62,430.29 70.67,428.93 71.73,428.11 72.79,427.33 73.85,425.23 74.27,425.08 74.69,423.95 75.12,423.22 75.54,421.07 75.96,422.11 76.81,422.09 77.65,422.23 77.87,420.67 78.08,420.46 78.29,419.39 78.50,417.74 78.71,417.10 78.92,415.38 79.13,415.00 79.66,413.05 80.19,412.47 80.72,412.13 81.25,412.18 81.78,408.62 82.31,407.94 82.84,406.62 83.37,406.70 84.42,406.41 84.56,405.68 84.69,404.81 84.82,402.96 84.95,401.78 85.08,400.93 85.22,398.60 85.35,397.87 85.48,397.40 85.72,396.62 85.95,395.21 86.19,392.92 86.42,392.67 86.66,392.38 86.89,391.03 87.13,389.41 87.36,387.67 87.60,387.56 87.81,385.44 88.02,383.76 88.23,382.75 88.44,383.05 88.65,380.92 89.71,381.58 89.81,379.28 89.90,379.12 90.00,376.89 90.10,376.04 90.19,376.74 90.29,374.38 90.38,372.34 90.48,371.48 90.58,370.61 90.67,370.08 90.77,367.73 90.87,365.70 90.96,365.57 91.06,364.63 91.15,363.54 91.25,363.23 91.35,361.38 91.44,360.57 91.54,358.08 91.63,358.30 91.73,358.01 91.83,355.93 92.18,356.97 92.53,358.31 92.88,360.87 93.04,357.76 93.19,357.12 93.34,356.31 93.49,355.30 93.64,353.27 93.79,352.58 93.94,350.96 94.05,350.00 94.15,348.59 94.26,346.65 94.37,346.20 94.47,345.60 94.58,343.07 94.72,344.82 94.86,346.68 95.00,346.70 95.14,348.81 95.28,349.18 95.42,351.95 95.52,353.91 95.62,354.85 95.72,354.42 95.81,356.23 95.91,356.93 96.01,358.06 96.11,360.21 96.20,359.34 96.30,362.14 96.40,362.51 96.50,364.67 96.59,364.95 96.69,365.49 96.79,367.28 96.89,368.73 96.99,369.37 97.09,370.82 97.19,371.24 97.28,371.24 97.38,374.49 97.48,375.48 97.58,376.22 97.68,377.29 97.78,379.10 97.88,379.18 97.98,380.13 98.07,381.62 98.17,383.72 98.24,383.04 98.31,385.98 98.38,385.82 98.46,386.63 98.53,389.41 98.60,389.59 98.67,389.87 98.74,391.66 98.81,393.69 98.88,395.00 98.95,395.00 99.02,396.71 99.09,398.05 99.16,398.23 99.23,400.06 99.36,400.92 99.49,401.71 99.62,402.88 99.75,404.41 99.88,405.52 100.01,406.25 100.14,407.48 100.27,409.70 100.40,410.21 100.53,411.82 100.66,413.18 100.79,413.89 100.92,416.21 101.13,415.31 101.35,417.72 101.56,418.20 101.77,420.99 101.98,422.15 102.28,418.32 102.57,417.74 102.87,417.62 103.17,416.44 103.46,415.13 103.61,413.36 103.76,412.52 103.91,411.45 104.07,409.73 104.22,409.29 104.37,405.78 104.52,406.60 105.26,404.37 106.00,404.71 107.27,404.94 107.76,403.42 108.26,403.24 108.75,401.29 109.81,401.81 110.87,401.88 111.22,401.55 111.57,400.51 111.92,399.47 112.77,397.91 113.62,398.00 113.91,398.42 114.21,399.49 114.50,401.10 114.80,402.58 115.10,402.74 115.34,404.04 115.59,405.34 115.84,406.74 116.08,407.29 116.33,409.87 116.58,410.10 118.27,410.71 119.33,410.86 120.38,412.75 120.74,413.83 121.09,414.32 121.44,417.09 121.79,416.99 122.15,419.03 122.50,419.52 122.76,419.57 123.03,420.96 123.29,422.72 123.56,423.65 123.82,424.83 124.09,425.79 124.35,425.91 124.62,428.21 125.32,427.87 126.03,430.74 126.73,431.03 128.14,431.04 129.55,431.38 130.96,431.73 132.02,431.06 133.08,431.37 134.13,432.38 135.19,432.22 136.60,434.01 138.01,434.36 139.42,434.71" fill="none" stroke="#000" stroke-width="1.15" stroke-linejoin="round"/>
<path d="M103.04,424.77 H146.3" stroke="#333" stroke-width="1" fill="none"/>
<path d="M47.6,448.5 H145.8 V545" stroke="#444" stroke-width="0.9" fill="none"/>
<path d="M47.6,448.5 V545 H145.8" stroke="#111" stroke-width="1.2" fill="none"/>
<line x1="45.6" y1="545.00" x2="47.6" y2="545.00" stroke="#111" stroke-width="0.8"/>
<text x="44.0" y="546.70" font-size="4.7" text-anchor="end" font-weight="bold" fill="#000" stroke="#000" stroke-width="0.15">0</text>
<line x1="45.6" y1="526.54" x2="47.6" y2="526.54" stroke="#111" stroke-width="0.8"/>
<text x="44.0" y="528.24" font-size="4.7" text-anchor="end" font-weight="bold" fill="#000" stroke="#000" stroke-width="0.15">20</text>
<line x1="45.6" y1="508.08" x2="47.6" y2="508.08" stroke="#111" stroke-width="0.8"/>
<text x="44.0" y="509.78" font-size="4.7" text-anchor="end" font-weight="bold" fill="#000" stroke="#000" stroke-width="0.15">40</text>
<line x1="45.6" y1="489.62" x2="47.6" y2="489.62" stroke="#111" stroke-width="0.8"/>
<text x="44.0" y="491.32" font-size="4.7" text-anchor="end" font-weight="bold" fill="#000" stroke="#000" stroke-width="0.15">60</text>
<line x1="45.6" y1="471.16" x2="47.6" y2="471.16" stroke="#111" stroke-width="0.8"/>
<text x="44.0" y="472.86" font-size="4.7" text-anchor="end" font-weight="bold" fill="#000" stroke="#000" stroke-width="0.15">80</text>
<line x1="45.6" y1="452.70" x2="47.6" y2="452.70" stroke="#111" stroke-width="0.8"/>
<text x="44.0" y="454.40" font-size="4.7" text-anchor="end" font-weight="bold" fill="#000" stroke="#000" stroke-width="0.15">100</text>
<line x1="46.6" y1="545.00" x2="47.6" y2="545.00" stroke="#333" stroke-width="0.5"/>
<line x1="46.6" y1="541.31" x2="47.6" y2="541.31" stroke="#333" stroke-width="0.5"/>
<line x1="46.6" y1="537.62" x2="47.6" y2="537.62" stroke="#333" stroke-width="0.5"/>
<line x1="46.6" y1="533.92" x2="47.6" y2="533.92" stroke="#333" stroke-width="0.5"/>
<line x1="46.6" y1="530.23" x2="47.6" y2="530.23" stroke="#333" stroke-width="0.5"/>
<line x1="46.6" y1="526.54" x2="47.6" y2="526.54" stroke="#333" stroke-width="0.5"/>
<line x1="46.6" y1="522.85" x2="47.6" y2="522.85" stroke="#333" stroke-width="0.5"/>
<line x1="46.6" y1="519.16" x2="47.6" y2="519.16" stroke="#333" stroke-width="0.5"/>
<line x1="46.6" y1="515.46" x2="47.6" y2="515.46" stroke="#333" stroke-width="0.5"/>
<line x1="46.6" y1="511.77" x2="47.6" y2="511.77" stroke="#333" stroke-width="0.5"/>
<line x1="46.6" y1="508.08" x2="47.6" y2="508.08" stroke="#333" stroke-width="0.5"/>
<line x1="46.6" y1="504.39" x2="47.6" y2="504.39" stroke="#333" stroke-width="0.5"/>
<line x1="46.6" y1="500.70" x2="47.6" y2="500.70" stroke="#333" stroke-width="0.5"/>
<line x1="46.6" y1="497.00" x2="47.6" y2="497.00" stroke="#333" stroke-width="0.5"/>
<line x1="46.6" y1="493.31" x2="47.6" y2="493.31" stroke="#333" stroke-width="0.5"/>
<line x1="46.6" y1="489.62" x2="47.6" y2="489.62" stroke="#333" stroke-width="0.5"/>
<line x1="46.6" y1="485.93" x2="47.6" y2="485.93" stroke="#333" stroke-width="0.5"/>
<line x1="46.6" y1="482.24" x2="47.6" y2="482.24" stroke="#333" stroke-width="0.5"/>
<line x1="46.6" y1="478.54" x2="47.6" y2="478.54" stroke="#333" stroke-width="0.5"/>
<line x1="46.6" y1="474.85" x2="47.6" y2="474.85" stroke="#333" stroke-width="0.5"/>
<line x1="46.6" y1="471.16" x2="47.6" y2="471.16" stroke="#333" stroke-width="0.5"/>
<line x1="46.6" y1="467.47" x2="47.6" y2="467.47" stroke="#333" stroke-width="0.5"/>
<line x1="46.6" y1="463.78" x2="47.6" y2="463.78" stroke="#333" stroke-width="0.5"/>
<line x1="46.6" y1="460.08" x2="47.6" y2="460.08" stroke="#333" stroke-width="0.5"/>
<line x1="46.6" y1="456.39" x2="47.6" y2="456.39" stroke="#333" stroke-width="0.5"/>
<line x1="47.60" y1="545" x2="47.60" y2="546.2" stroke="#333" stroke-width="0.5"/>
<line x1="50.12" y1="545" x2="50.12" y2="546.2" stroke="#333" stroke-width="0.5"/>
<line x1="52.64" y1="545" x2="52.64" y2="546.2" stroke="#333" stroke-width="0.5"/>
<line x1="55.15" y1="545" x2="55.15" y2="546.2" stroke="#333" stroke-width="0.5"/>
<line x1="57.67" y1="545" x2="57.67" y2="546.2" stroke="#333" stroke-width="0.5"/>
<line x1="60.19" y1="545" x2="60.19" y2="546.2" stroke="#333" stroke-width="0.5"/>
<line x1="62.71" y1="545" x2="62.71" y2="546.2" stroke="#333" stroke-width="0.5"/>
<line x1="65.23" y1="545" x2="65.23" y2="546.2" stroke="#333" stroke-width="0.5"/>
<line x1="67.74" y1="545" x2="67.74" y2="546.2" stroke="#333" stroke-width="0.5"/>
<line x1="70.26" y1="545" x2="70.26" y2="546.2" stroke="#333" stroke-width="0.5"/>
<line x1="72.78" y1="545" x2="72.78" y2="546.2" stroke="#333" stroke-width="0.5"/>
<line x1="75.30" y1="545" x2="75.30" y2="546.2" stroke="#333" stroke-width="0.5"/>
<line x1="77.82" y1="545" x2="77.82" y2="546.2" stroke="#333" stroke-width="0.5"/>
<line x1="80.33" y1="545" x2="80.33" y2="546.2" stroke="#333" stroke-width="0.5"/>
<line x1="82.85" y1="545" x2="82.85" y2="546.2" stroke="#333" stroke-width="0.5"/>
<line x1="85.37" y1="545" x2="85.37" y2="546.2" stroke="#333" stroke-width="0.5"/>
<line x1="87.89" y1="545" x2="87.89" y2="546.2" stroke="#333" stroke-width="0.5"/>
<line x1="90.41" y1="545" x2="90.41" y2="546.2" stroke="#333" stroke-width="0.5"/>
<line x1="92.92" y1="545" x2="92.92" y2="546.2" stroke="#333" stroke-width="0.5"/>
<line x1="95.44" y1="545" x2="95.44" y2="546.2" stroke="#333" stroke-width="0.5"/>
<line x1="97.96" y1="545" x2="97.96" y2="546.2" stroke="#333" stroke-width="0.5"/>
<line x1="100.48" y1="545" x2="100.48" y2="546.2" stroke="#333" stroke-width="0.5"/>
<line x1="102.99" y1="545" x2="102.99" y2="546.2" stroke="#333" stroke-width="0.5"/>
<line x1="105.51" y1="545" x2="105.51" y2="546.2" stroke="#333" stroke-width="0.5"/>
<line x1="108.03" y1="545" x2="108.03" y2="546.2" stroke="#333" stroke-width="0.5"/>
<line x1="110.55" y1="545" x2="110.55" y2="546.2" stroke="#333" stroke-width="0.5"/>
<line x1="113.07" y1="545" x2="113.07" y2="546.2" stroke="#333" stroke-width="0.5"/>
<line x1="115.58" y1="545" x2="115.58" y2="546.2" stroke="#333" stroke-width="0.5"/>
<line x1="118.10" y1="545" x2="118.10" y2="546.2" stroke="#333" stroke-width="0.5"/>
<line x1="120.62" y1="545" x2="120.62" y2="546.2" stroke="#333" stroke-width="0.5"/>
<line x1="123.14" y1="545" x2="123.14" y2="546.2" stroke="#333" stroke-width="0.5"/>
<line x1="125.66" y1="545" x2="125.66" y2="546.2" stroke="#333" stroke-width="0.5"/>
<line x1="128.17" y1="545" x2="128.17" y2="546.2" stroke="#333" stroke-width="0.5"/>
<line x1="130.69" y1="545" x2="130.69" y2="546.2" stroke="#333" stroke-width="0.5"/>
<line x1="133.21" y1="545" x2="133.21" y2="546.2" stroke="#333" stroke-width="0.5"/>
<line x1="135.73" y1="545" x2="135.73" y2="546.2" stroke="#333" stroke-width="0.5"/>
<line x1="138.25" y1="545" x2="138.25" y2="546.2" stroke="#333" stroke-width="0.5"/>
<line x1="140.76" y1="545" x2="140.76" y2="546.2" stroke="#333" stroke-width="0.5"/>
<line x1="143.28" y1="545" x2="143.28" y2="546.2" stroke="#333" stroke-width="0.5"/>
<line x1="145.80" y1="545" x2="145.80" y2="546.2" stroke="#333" stroke-width="0.5"/>
<line x1="59.50" y1="545" x2="59.50" y2="547.2" stroke="#111" stroke-width="0.8"/>
<line x1="77.00" y1="545" x2="77.00" y2="547.2" stroke="#111" stroke-width="0.8"/>
<line x1="102.00" y1="545" x2="102.00" y2="547.2" stroke="#111" stroke-width="0.8"/>
<line x1="123.00" y1="545" x2="123.00" y2="547.2" stroke="#111" stroke-width="0.8"/>
<text x="59.50" y="553.3" font-size="4.6" text-anchor="middle" font-weight="bold" fill="#000" >0</text>
<text x="77.00" y="553.3" font-size="4.6" text-anchor="middle" font-weight="bold" fill="#000" >10<tspan font-size="3" dy="-1.6">1</tspan></text>
<text x="102.00" y="553.3" font-size="4.6" text-anchor="middle" font-weight="bold" fill="#000" >10<tspan font-size="3" dy="-1.6">2</tspan></text>
<text x="123.00" y="553.3" font-size="4.6" text-anchor="middle" font-weight="bold" fill="#000" >10<tspan font-size="3" dy="-1.6">3</tspan></text>
<text x="53.3" y="458.5" font-size="7.6" text-anchor="start" fill="#000" stroke="#000" stroke-width="0.35">LKS-</text>
<text transform="translate(34.7,496.8) rotate(-90)" font-size="5.2" font-weight="bold" text-anchor="middle" textLength="18.9" lengthAdjust="spacingAndGlyphs">% of Max</text>
<polyline points="48.75,545.00 50.00,545.00 51.25,545.00 52.50,545.00 53.75,545.00 55.00,545.00 56.25,545.00 57.50,545.00 58.75,544.56 60.00,544.12 61.25,543.77 62.50,542.57 63.75,543.22 65.00,542.20 66.25,542.52 67.50,541.47 68.75,542.22 70.00,539.11 71.25,539.79 72.50,540.12 73.50,538.60 74.50,537.65 75.50,537.36 76.50,535.93 77.50,536.33 78.50,537.31 79.50,535.75 80.50,533.52 81.50,533.04 82.50,532.72 83.44,532.95 84.38,530.92 85.31,530.27 86.25,530.62 87.12,529.61 88.00,527.74 88.50,525.97 89.00,524.42 89.50,523.76 90.00,521.44 90.67,522.36 91.33,520.23 92.00,519.84 92.88,519.56 93.75,517.82 94.62,515.44 95.50,516.11 96.50,515.06 97.50,512.48 98.17,511.33 98.83,510.92 99.50,508.88 99.75,509.96 100.00,506.17 100.25,506.01 100.50,505.53 100.75,504.48 101.00,503.69 101.25,502.69 101.50,501.10 101.75,500.80 102.00,497.25 102.25,497.50 102.50,495.75 102.72,495.23 102.94,494.18 103.17,492.28 103.39,491.36 103.61,491.25 103.83,489.83 104.06,488.00 104.28,488.79 104.50,487.87 104.94,483.98 105.38,483.96 105.81,484.26 106.25,481.80 107.50,479.65 108.00,478.23 108.50,476.87 109.00,475.98 109.50,474.61 109.94,474.27 110.38,472.22 110.81,470.94 111.25,469.16 111.44,468.85 111.64,467.15 111.83,466.54 112.03,466.28 112.22,464.70 112.42,463.69 112.61,462.47 112.81,461.15 113.00,459.91 113.75,458.53 114.50,458.03 115.38,457.99 116.25,460.94 116.67,458.77 117.08,456.98 117.50,455.91 118.75,454.53 119.17,456.36 119.58,457.00 120.00,459.55 120.62,459.45 121.25,459.66 121.69,461.99 122.12,462.34 122.56,464.97 123.00,466.99 123.31,467.80 123.62,467.50 123.94,469.00 124.25,471.87 124.56,471.94 124.88,472.82 125.19,474.65 125.50,476.72 125.70,474.78 125.90,472.85 126.10,471.87 126.30,470.93 126.50,468.95 126.70,467.51 126.90,467.16 127.10,465.34 127.30,464.83 127.50,463.82 128.75,466.64 129.25,465.40 129.75,466.91 130.25,467.88 130.75,469.31 131.25,470.73 131.44,470.77 131.64,471.65 131.83,472.18 132.03,473.80 132.22,475.93 132.42,476.70 132.61,477.07 132.81,478.63 133.00,480.02 133.18,481.49 133.36,481.86 133.55,483.23 133.73,483.27 133.91,484.88 134.09,487.95 134.27,486.42 134.45,488.85 134.64,490.38 134.82,491.10 135.00,491.93 135.28,493.57 135.56,494.72 135.83,495.78 136.11,495.63 136.39,497.95 136.67,498.57 136.94,499.89 137.22,501.55 137.50,502.95 137.73,504.26 137.95,504.43 138.18,506.56 138.41,507.87 138.64,508.98 138.86,510.29 139.09,510.35 139.32,511.47 139.55,513.30 139.77,512.91 140.00,515.15 140.18,515.76 140.36,517.01 140.55,517.19 140.73,518.92 140.91,520.67 141.09,522.44 141.27,523.65 141.45,524.03 141.64,525.09 141.82,525.78 142.00,527.78 142.19,528.44 142.39,530.15 142.58,532.06 142.78,531.92 142.97,532.01 143.17,533.56 143.36,534.26 143.56,535.55 143.75,538.41 143.96,538.91 144.17,538.94 144.38,541.71 144.58,543.38 144.79,543.50 145.00,545.00" fill="none" stroke="#a0a0a0" stroke-width="1.05" stroke-linejoin="round"/>
<polyline points="48.75,545.00 50.00,545.00 51.25,545.00 52.50,545.00 53.75,545.00 55.00,545.00 56.25,545.00 57.50,545.00 58.75,544.69 60.00,544.38 61.25,544.06 62.50,543.66 63.75,543.53 65.00,542.61 66.25,543.08 67.50,541.75 68.75,540.85 70.00,542.01 71.25,540.97 72.50,540.15 73.50,540.15 74.50,539.74 75.50,538.74 76.50,536.28 77.50,537.03 78.50,536.43 79.50,535.31 80.50,535.39 81.50,535.33 82.50,533.41 83.25,532.11 84.00,533.47 84.75,530.88 85.50,529.49 86.25,529.67 87.12,528.80 88.00,527.01 88.67,526.80 89.33,524.66 90.00,523.10 90.50,522.63 91.00,521.79 91.50,519.56 92.00,518.98 93.75,517.43 94.62,518.23 95.50,514.50 96.50,515.34 97.50,513.71 98.50,512.41 99.50,511.76 99.75,510.80 100.00,509.99 100.25,508.27 100.50,506.54 100.75,505.52 101.00,505.18 101.25,504.16 101.50,503.48 101.75,501.54 102.00,500.74 102.25,499.81 102.50,497.62 102.68,495.32 102.86,494.40 103.05,493.08 103.23,494.07 103.41,491.22 103.59,491.54 103.77,489.96 103.95,489.61 104.14,487.97 104.32,486.06 104.50,484.86 105.38,483.81 106.25,482.62 106.67,480.88 107.08,479.98 107.50,479.88 108.50,476.31 109.50,476.43 109.94,474.37 110.38,473.88 110.81,473.09 111.25,471.21 111.47,470.70 111.69,467.95 111.91,468.74 112.12,466.45 112.34,466.22 112.56,464.82 112.78,461.78 113.00,461.97 113.75,461.40 114.50,461.09 115.38,458.95 116.25,457.68 117.50,457.76 117.81,458.50 118.12,457.51 118.44,455.02 118.75,453.60 119.00,453.87 119.25,456.87 119.50,459.39 119.75,459.25 120.00,460.88 120.62,461.63 121.25,461.81 122.12,464.69 123.00,464.14 123.29,465.92 123.57,467.34 123.86,468.83 124.14,469.58 124.43,470.63 124.71,470.90 125.00,471.60 125.16,473.64 125.31,474.19 125.47,474.87 125.62,475.99 125.78,477.63 125.94,477.77 126.09,479.21 126.25,480.11 126.41,482.47 126.56,483.72 126.72,485.94 126.88,484.58 127.03,486.24 127.19,488.45 127.34,488.75 127.50,489.77 127.65,492.35 127.81,492.07 127.96,492.65 128.12,493.69 128.27,496.00 128.42,497.14 128.58,497.12 128.73,498.54 128.88,500.76 129.04,501.94 129.19,502.24 129.35,504.28 129.50,505.40 129.63,504.91 129.77,507.09 129.90,508.75 130.04,509.21 130.17,509.27 130.31,511.72 130.44,513.60 130.58,515.34 130.71,513.85 130.85,518.37 130.98,516.90 131.12,519.52 131.25,520.86 131.36,521.82 131.48,522.38 131.59,522.60 131.70,524.98 131.82,525.18 131.93,525.05 132.05,529.93 132.16,529.59 132.27,531.50 132.39,530.73 132.50,533.53 132.79,534.68 133.07,535.73 133.36,535.70 133.64,535.94 133.93,537.73 134.21,537.39 134.50,538.81 135.12,541.00 135.75,541.18 136.38,542.70 137.00,543.67 138.50,544.38 140.00,545.00" fill="none" stroke="#000" stroke-width="1.15" stroke-linejoin="round"/>
<path d="M101.25,536.25 H145.8 M101.25,534.75 V537.75" stroke="#333" stroke-width="1" fill="none"/>
<text x="82.2" y="566.5" font-size="11" text-anchor="start" fill="#000" textLength="24.8" lengthAdjust="spacingAndGlyphs" >BrdU</text>
<text x="204.5" y="250.8" font-size="14" text-anchor="start" font-weight="bold" fill="#000" stroke="#000" stroke-width="0.3">D</text>
<text x="301" y="245" font-size="11" text-anchor="middle" fill="#000" textLength="30.5" lengthAdjust="spacingAndGlyphs" >Saline</text>
<text x="401.2" y="245" font-size="11" text-anchor="middle" fill="#000" textLength="33.5" lengthAdjust="spacingAndGlyphs" >DMOG</text>
<path d="M259.6,251.4 H344.5 V335.5" fill="none" stroke="#666" stroke-width="0.8"/>
<path d="M259.6,251.4 V335.5 H344.5" fill="none" stroke="#333" stroke-width="0.9"/>
<line x1="289.5" y1="251.4" x2="289.5" y2="335.5" stroke="#8a8a8a" stroke-width="0.9"/>
<line x1="259.6" y1="295" x2="344.5" y2="295" stroke="#8a8a8a" stroke-width="0.9"/>
<line x1="257.6" y1="259.47" x2="259.6" y2="259.47" stroke="#222" stroke-width="0.7"/>
<text x="256.3" y="260.97" font-size="4.2" text-anchor="end" font-weight="bold" fill="#222" >10<tspan font-size="2.6" dy="-1.4">5</tspan></text>
<line x1="257.6" y1="278.40" x2="259.6" y2="278.40" stroke="#222" stroke-width="0.7"/>
<text x="256.3" y="279.90" font-size="4.2" text-anchor="end" font-weight="bold" fill="#222" >10<tspan font-size="2.6" dy="-1.4">4</tspan></text>
<line x1="257.6" y1="297.07" x2="259.6" y2="297.07" stroke="#222" stroke-width="0.7"/>
<text x="256.3" y="298.57" font-size="4.2" text-anchor="end" font-weight="bold" fill="#222" >10<tspan font-size="2.6" dy="-1.4">3</tspan></text>
<line x1="257.6" y1="317.33" x2="259.6" y2="317.33" stroke="#222" stroke-width="0.7"/>
<text x="256.3" y="318.83" font-size="4.2" text-anchor="end" font-weight="bold" fill="#222" >10<tspan font-size="2.6" dy="-1.4">2</tspan></text>
<line x1="257.6" y1="326.50" x2="259.6" y2="326.50" stroke="#222" stroke-width="0.7"/>
<text x="256.3" y="328.00" font-size="4.2" text-anchor="end" font-weight="bold" fill="#222" >0</text>
<line x1="258.6" y1="251.40" x2="259.6" y2="251.40" stroke="#444" stroke-width="0.4"/>
<line x1="258.6" y1="255.61" x2="259.6" y2="255.61" stroke="#444" stroke-width="0.4"/>
<line x1="258.6" y1="259.81" x2="259.6" y2="259.81" stroke="#444" stroke-width="0.4"/>
<line x1="258.6" y1="264.01" x2="259.6" y2="264.01" stroke="#444" stroke-width="0.4"/>
<line x1="258.6" y1="268.22" x2="259.6" y2="268.22" stroke="#444" stroke-width="0.4"/>
<line x1="258.6" y1="272.43" x2="259.6" y2="272.43" stroke="#444" stroke-width="0.4"/>
<line x1="258.6" y1="276.63" x2="259.6" y2="276.63" stroke="#444" stroke-width="0.4"/>
<line x1="258.6" y1="280.83" x2="259.6" y2="280.83" stroke="#444" stroke-width="0.4"/>
<line x1="258.6" y1="285.04" x2="259.6" y2="285.04" stroke="#444" stroke-width="0.4"/>
<line x1="258.6" y1="289.25" x2="259.6" y2="289.25" stroke="#444" stroke-width="0.4"/>
<line x1="258.6" y1="293.45" x2="259.6" y2="293.45" stroke="#444" stroke-width="0.4"/>
<line x1="258.6" y1="297.65" x2="259.6" y2="297.65" stroke="#444" stroke-width="0.4"/>
<line x1="258.6" y1="301.86" x2="259.6" y2="301.86" stroke="#444" stroke-width="0.4"/>
<line x1="258.6" y1="306.06" x2="259.6" y2="306.06" stroke="#444" stroke-width="0.4"/>
<line x1="258.6" y1="310.27" x2="259.6" y2="310.27" stroke="#444" stroke-width="0.4"/>
<line x1="258.6" y1="314.48" x2="259.6" y2="314.48" stroke="#444" stroke-width="0.4"/>
<line x1="258.6" y1="318.68" x2="259.6" y2="318.68" stroke="#444" stroke-width="0.4"/>
<line x1="258.6" y1="322.88" x2="259.6" y2="322.88" stroke="#444" stroke-width="0.4"/>
<line x1="258.6" y1="327.09" x2="259.6" y2="327.09" stroke="#444" stroke-width="0.4"/>
<line x1="258.6" y1="331.30" x2="259.6" y2="331.30" stroke="#444" stroke-width="0.4"/>
<line x1="259.90" y1="335.5" x2="259.90" y2="337.5" stroke="#222" stroke-width="0.7"/>
<text x="259.90" y="344.30" font-size="4.0" text-anchor="middle" font-weight="bold" fill="#222" >0</text>
<line x1="275.70" y1="335.5" x2="275.70" y2="337.5" stroke="#222" stroke-width="0.7"/>
<text x="275.70" y="344.30" font-size="4.0" text-anchor="middle" font-weight="bold" fill="#222" >50K</text>
<line x1="291.50" y1="335.5" x2="291.50" y2="337.5" stroke="#222" stroke-width="0.7"/>
<text x="291.50" y="344.30" font-size="4.0" text-anchor="middle" font-weight="bold" fill="#222" >100K</text>
<line x1="307.30" y1="335.5" x2="307.30" y2="337.5" stroke="#222" stroke-width="0.7"/>
<text x="307.30" y="344.30" font-size="4.0" text-anchor="middle" font-weight="bold" fill="#222" >150K</text>
<line x1="323.10" y1="335.5" x2="323.10" y2="337.5" stroke="#222" stroke-width="0.7"/>
<text x="323.10" y="344.30" font-size="4.0" text-anchor="middle" font-weight="bold" fill="#222" >200K</text>
<line x1="338.90" y1="335.5" x2="338.90" y2="337.5" stroke="#222" stroke-width="0.7"/>
<text x="338.90" y="344.30" font-size="4.0" text-anchor="middle" font-weight="bold" fill="#222" >250K</text>
<line x1="259.60" y1="335.5" x2="259.60" y2="336.5" stroke="#444" stroke-width="0.4"/>
<line x1="262.87" y1="335.5" x2="262.87" y2="336.5" stroke="#444" stroke-width="0.4"/>
<line x1="266.13" y1="335.5" x2="266.13" y2="336.5" stroke="#444" stroke-width="0.4"/>
<line x1="269.40" y1="335.5" x2="269.40" y2="336.5" stroke="#444" stroke-width="0.4"/>
<line x1="272.66" y1="335.5" x2="272.66" y2="336.5" stroke="#444" stroke-width="0.4"/>
<line x1="275.93" y1="335.5" x2="275.93" y2="336.5" stroke="#444" stroke-width="0.4"/>
<line x1="279.19" y1="335.5" x2="279.19" y2="336.5" stroke="#444" stroke-width="0.4"/>
<line x1="282.46" y1="335.5" x2="282.46" y2="336.5" stroke="#444" stroke-width="0.4"/>
<line x1="285.72" y1="335.5" x2="285.72" y2="336.5" stroke="#444" stroke-width="0.4"/>
<line x1="288.99" y1="335.5" x2="288.99" y2="336.5" stroke="#444" stroke-width="0.4"/>
<line x1="292.25" y1="335.5" x2="292.25" y2="336.5" stroke="#444" stroke-width="0.4"/>
<line x1="295.52" y1="335.5" x2="295.52" y2="336.5" stroke="#444" stroke-width="0.4"/>
<line x1="298.78" y1="335.5" x2="298.78" y2="336.5" stroke="#444" stroke-width="0.4"/>
<line x1="302.05" y1="335.5" x2="302.05" y2="336.5" stroke="#444" stroke-width="0.4"/>
<line x1="305.32" y1="335.5" x2="305.32" y2="336.5" stroke="#444" stroke-width="0.4"/>
<line x1="308.58" y1="335.5" x2="308.58" y2="336.5" stroke="#444" stroke-width="0.4"/>
<line x1="311.85" y1="335.5" x2="311.85" y2="336.5" stroke="#444" stroke-width="0.4"/>
<line x1="315.11" y1="335.5" x2="315.11" y2="336.5" stroke="#444" stroke-width="0.4"/>
<line x1="318.38" y1="335.5" x2="318.38" y2="336.5" stroke="#444" stroke-width="0.4"/>
<line x1="321.64" y1="335.5" x2="321.64" y2="336.5" stroke="#444" stroke-width="0.4"/>
<line x1="324.91" y1="335.5" x2="324.91" y2="336.5" stroke="#444" stroke-width="0.4"/>
<line x1="328.17" y1="335.5" x2="328.17" y2="336.5" stroke="#444" stroke-width="0.4"/>
<line x1="331.44" y1="335.5" x2="331.44" y2="336.5" stroke="#444" stroke-width="0.4"/>
<line x1="334.70" y1="335.5" x2="334.70" y2="336.5" stroke="#444" stroke-width="0.4"/>
<line x1="337.97" y1="335.5" x2="337.97" y2="336.5" stroke="#444" stroke-width="0.4"/>
<line x1="341.23" y1="335.5" x2="341.23" y2="336.5" stroke="#444" stroke-width="0.4"/>
<text x="261.6" y="255.8" font-size="3.6" text-anchor="start" fill="#333" >33.4</text>
<text x="342.5" y="255.8" font-size="3.6" text-anchor="end" fill="#333" >1.65</text>
<text x="261.6" y="333.7" font-size="3.6" text-anchor="start" fill="#333" >62.9</text>
<text x="342.5" y="333.7" font-size="3.6" text-anchor="end" fill="#333" >0.04</text>
<path d="M359,251.8 H443.2 V335.5" fill="none" stroke="#666" stroke-width="0.8"/>
<path d="M359,251.8 V335.5 H443.2" fill="none" stroke="#333" stroke-width="0.9"/>
<line x1="387" y1="251.8" x2="387" y2="335.5" stroke="#8a8a8a" stroke-width="0.9"/>
<line x1="359" y1="294.3" x2="443.2" y2="294.3" stroke="#8a8a8a" stroke-width="0.9"/>
<line x1="357" y1="259.84" x2="359" y2="259.84" stroke="#222" stroke-width="0.7"/>
<text x="355.7" y="261.34" font-size="4.2" text-anchor="end" font-weight="bold" fill="#222" >10<tspan font-size="2.6" dy="-1.4">5</tspan></text>
<line x1="357" y1="278.67" x2="359" y2="278.67" stroke="#222" stroke-width="0.7"/>
<text x="355.7" y="280.17" font-size="4.2" text-anchor="end" font-weight="bold" fill="#222" >10<tspan font-size="2.6" dy="-1.4">4</tspan></text>
<line x1="357" y1="297.25" x2="359" y2="297.25" stroke="#222" stroke-width="0.7"/>
<text x="355.7" y="298.75" font-size="4.2" text-anchor="end" font-weight="bold" fill="#222" >10<tspan font-size="2.6" dy="-1.4">3</tspan></text>
<line x1="357" y1="317.42" x2="359" y2="317.42" stroke="#222" stroke-width="0.7"/>
<text x="355.7" y="318.92" font-size="4.2" text-anchor="end" font-weight="bold" fill="#222" >10<tspan font-size="2.6" dy="-1.4">2</tspan></text>
<line x1="357" y1="326.54" x2="359" y2="326.54" stroke="#222" stroke-width="0.7"/>
<text x="355.7" y="328.04" font-size="4.2" text-anchor="end" font-weight="bold" fill="#222" >0</text>
<line x1="358" y1="251.80" x2="359" y2="251.80" stroke="#444" stroke-width="0.4"/>
<line x1="358" y1="255.99" x2="359" y2="255.99" stroke="#444" stroke-width="0.4"/>
<line x1="358" y1="260.17" x2="359" y2="260.17" stroke="#444" stroke-width="0.4"/>
<line x1="358" y1="264.36" x2="359" y2="264.36" stroke="#444" stroke-width="0.4"/>
<line x1="358" y1="268.54" x2="359" y2="268.54" stroke="#444" stroke-width="0.4"/>
<line x1="358" y1="272.73" x2="359" y2="272.73" stroke="#444" stroke-width="0.4"/>
<line x1="358" y1="276.91" x2="359" y2="276.91" stroke="#444" stroke-width="0.4"/>
<line x1="358" y1="281.10" x2="359" y2="281.10" stroke="#444" stroke-width="0.4"/>
<line x1="358" y1="285.28" x2="359" y2="285.28" stroke="#444" stroke-width="0.4"/>
<line x1="358" y1="289.47" x2="359" y2="289.47" stroke="#444" stroke-width="0.4"/>
<line x1="358" y1="293.65" x2="359" y2="293.65" stroke="#444" stroke-width="0.4"/>
<line x1="358" y1="297.83" x2="359" y2="297.83" stroke="#444" stroke-width="0.4"/>
<line x1="358" y1="302.02" x2="359" y2="302.02" stroke="#444" stroke-width="0.4"/>
<line x1="358" y1="306.20" x2="359" y2="306.20" stroke="#444" stroke-width="0.4"/>
<line x1="358" y1="310.39" x2="359" y2="310.39" stroke="#444" stroke-width="0.4"/>
<line x1="358" y1="314.57" x2="359" y2="314.57" stroke="#444" stroke-width="0.4"/>
<line x1="358" y1="318.76" x2="359" y2="318.76" stroke="#444" stroke-width="0.4"/>
<line x1="358" y1="322.94" x2="359" y2="322.94" stroke="#444" stroke-width="0.4"/>
<line x1="358" y1="327.13" x2="359" y2="327.13" stroke="#444" stroke-width="0.4"/>
<line x1="358" y1="331.31" x2="359" y2="331.31" stroke="#444" stroke-width="0.4"/>
<line x1="359.30" y1="335.5" x2="359.30" y2="337.5" stroke="#222" stroke-width="0.7"/>
<text x="359.30" y="344.30" font-size="4.0" text-anchor="middle" font-weight="bold" fill="#222" >0</text>
<line x1="375.10" y1="335.5" x2="375.10" y2="337.5" stroke="#222" stroke-width="0.7"/>
<text x="375.10" y="344.30" font-size="4.0" text-anchor="middle" font-weight="bold" fill="#222" >50K</text>
<line x1="390.90" y1="335.5" x2="390.90" y2="337.5" stroke="#222" stroke-width="0.7"/>
<text x="390.90" y="344.30" font-size="4.0" text-anchor="middle" font-weight="bold" fill="#222" >100K</text>
<line x1="406.70" y1="335.5" x2="406.70" y2="337.5" stroke="#222" stroke-width="0.7"/>
<text x="406.70" y="344.30" font-size="4.0" text-anchor="middle" font-weight="bold" fill="#222" >150K</text>
<line x1="422.50" y1="335.5" x2="422.50" y2="337.5" stroke="#222" stroke-width="0.7"/>
<text x="422.50" y="344.30" font-size="4.0" text-anchor="middle" font-weight="bold" fill="#222" >200K</text>
<line x1="438.30" y1="335.5" x2="438.30" y2="337.5" stroke="#222" stroke-width="0.7"/>
<text x="438.30" y="344.30" font-size="4.0" text-anchor="middle" font-weight="bold" fill="#222" >250K</text>
<line x1="359.00" y1="335.5" x2="359.00" y2="336.5" stroke="#444" stroke-width="0.4"/>
<line x1="362.24" y1="335.5" x2="362.24" y2="336.5" stroke="#444" stroke-width="0.4"/>
<line x1="365.48" y1="335.5" x2="365.48" y2="336.5" stroke="#444" stroke-width="0.4"/>
<line x1="368.72" y1="335.5" x2="368.72" y2="336.5" stroke="#444" stroke-width="0.4"/>
<line x1="371.95" y1="335.5" x2="371.95" y2="336.5" stroke="#444" stroke-width="0.4"/>
<line x1="375.19" y1="335.5" x2="375.19" y2="336.5" stroke="#444" stroke-width="0.4"/>
<line x1="378.43" y1="335.5" x2="378.43" y2="336.5" stroke="#444" stroke-width="0.4"/>
<line x1="381.67" y1="335.5" x2="381.67" y2="336.5" stroke="#444" stroke-width="0.4"/>
<line x1="384.91" y1="335.5" x2="384.91" y2="336.5" stroke="#444" stroke-width="0.4"/>
<line x1="388.15" y1="335.5" x2="388.15" y2="336.5" stroke="#444" stroke-width="0.4"/>
<line x1="391.38" y1="335.5" x2="391.38" y2="336.5" stroke="#444" stroke-width="0.4"/>
<line x1="394.62" y1="335.5" x2="394.62" y2="336.5" stroke="#444" stroke-width="0.4"/>
<line x1="397.86" y1="335.5" x2="397.86" y2="336.5" stroke="#444" stroke-width="0.4"/>
<line x1="401.10" y1="335.5" x2="401.10" y2="336.5" stroke="#444" stroke-width="0.4"/>
<line x1="404.34" y1="335.5" x2="404.34" y2="336.5" stroke="#444" stroke-width="0.4"/>
<line x1="407.58" y1="335.5" x2="407.58" y2="336.5" stroke="#444" stroke-width="0.4"/>
<line x1="410.82" y1="335.5" x2="410.82" y2="336.5" stroke="#444" stroke-width="0.4"/>
<line x1="414.05" y1="335.5" x2="414.05" y2="336.5" stroke="#444" stroke-width="0.4"/>
<line x1="417.29" y1="335.5" x2="417.29" y2="336.5" stroke="#444" stroke-width="0.4"/>
<line x1="420.53" y1="335.5" x2="420.53" y2="336.5" stroke="#444" stroke-width="0.4"/>
<line x1="423.77" y1="335.5" x2="423.77" y2="336.5" stroke="#444" stroke-width="0.4"/>
<line x1="427.01" y1="335.5" x2="427.01" y2="336.5" stroke="#444" stroke-width="0.4"/>
<line x1="430.25" y1="335.5" x2="430.25" y2="336.5" stroke="#444" stroke-width="0.4"/>
<line x1="433.48" y1="335.5" x2="433.48" y2="336.5" stroke="#444" stroke-width="0.4"/>
<line x1="436.72" y1="335.5" x2="436.72" y2="336.5" stroke="#444" stroke-width="0.4"/>
<line x1="439.96" y1="335.5" x2="439.96" y2="336.5" stroke="#444" stroke-width="0.4"/>
<text x="361" y="256.2" font-size="3.6" text-anchor="start" fill="#333" >9.55</text>
<text x="441.2" y="256.2" font-size="3.6" text-anchor="end" fill="#333" >0.30</text>
<text x="361" y="333.7" font-size="3.6" text-anchor="start" fill="#333" >89.9</text>
<text x="441.2" y="333.7" font-size="3.6" text-anchor="end" fill="#333" >0.29</text>
<path d="M260,346.3 H344.5 V431.3" fill="none" stroke="#666" stroke-width="0.8"/>
<path d="M260,346.3 V431.3 H344.5" fill="none" stroke="#333" stroke-width="0.9"/>
<line x1="291.2" y1="346.3" x2="291.2" y2="431.3" stroke="#8a8a8a" stroke-width="0.9"/>
<line x1="260" y1="390" x2="344.5" y2="390" stroke="#8a8a8a" stroke-width="0.9"/>
<line x1="258" y1="354.46" x2="260" y2="354.46" stroke="#222" stroke-width="0.7"/>
<text x="256.7" y="355.96" font-size="4.2" text-anchor="end" font-weight="bold" fill="#222" >10<tspan font-size="2.6" dy="-1.4">5</tspan></text>
<line x1="258" y1="373.59" x2="260" y2="373.59" stroke="#222" stroke-width="0.7"/>
<text x="256.7" y="375.09" font-size="4.2" text-anchor="end" font-weight="bold" fill="#222" >10<tspan font-size="2.6" dy="-1.4">4</tspan></text>
<line x1="258" y1="392.46" x2="260" y2="392.46" stroke="#222" stroke-width="0.7"/>
<text x="256.7" y="393.96" font-size="4.2" text-anchor="end" font-weight="bold" fill="#222" >10<tspan font-size="2.6" dy="-1.4">3</tspan></text>
<line x1="258" y1="412.94" x2="260" y2="412.94" stroke="#222" stroke-width="0.7"/>
<text x="256.7" y="414.44" font-size="4.2" text-anchor="end" font-weight="bold" fill="#222" >10<tspan font-size="2.6" dy="-1.4">2</tspan></text>
<line x1="258" y1="422.21" x2="260" y2="422.21" stroke="#222" stroke-width="0.7"/>
<text x="256.7" y="423.71" font-size="4.2" text-anchor="end" font-weight="bold" fill="#222" >0</text>
<line x1="259" y1="346.30" x2="260" y2="346.30" stroke="#444" stroke-width="0.4"/>
<line x1="259" y1="350.55" x2="260" y2="350.55" stroke="#444" stroke-width="0.4"/>
<line x1="259" y1="354.80" x2="260" y2="354.80" stroke="#444" stroke-width="0.4"/>
<line x1="259" y1="359.05" x2="260" y2="359.05" stroke="#444" stroke-width="0.4"/>
<line x1="259" y1="363.30" x2="260" y2="363.30" stroke="#444" stroke-width="0.4"/>
<line x1="259" y1="367.55" x2="260" y2="367.55" stroke="#444" stroke-width="0.4"/>
<line x1="259" y1="371.80" x2="260" y2="371.80" stroke="#444" stroke-width="0.4"/>
<line x1="259" y1="376.05" x2="260" y2="376.05" stroke="#444" stroke-width="0.4"/>
<line x1="259" y1="380.30" x2="260" y2="380.30" stroke="#444" stroke-width="0.4"/>
<line x1="259" y1="384.55" x2="260" y2="384.55" stroke="#444" stroke-width="0.4"/>
<line x1="259" y1="388.80" x2="260" y2="388.80" stroke="#444" stroke-width="0.4"/>
<line x1="259" y1="393.05" x2="260" y2="393.05" stroke="#444" stroke-width="0.4"/>
<line x1="259" y1="397.30" x2="260" y2="397.30" stroke="#444" stroke-width="0.4"/>
<line x1="259" y1="401.55" x2="260" y2="401.55" stroke="#444" stroke-width="0.4"/>
<line x1="259" y1="405.80" x2="260" y2="405.80" stroke="#444" stroke-width="0.4"/>
<line x1="259" y1="410.05" x2="260" y2="410.05" stroke="#444" stroke-width="0.4"/>
<line x1="259" y1="414.30" x2="260" y2="414.30" stroke="#444" stroke-width="0.4"/>
<line x1="259" y1="418.55" x2="260" y2="418.55" stroke="#444" stroke-width="0.4"/>
<line x1="259" y1="422.80" x2="260" y2="422.80" stroke="#444" stroke-width="0.4"/>
<line x1="259" y1="427.05" x2="260" y2="427.05" stroke="#444" stroke-width="0.4"/>
<line x1="260.30" y1="431.3" x2="260.30" y2="433.3" stroke="#222" stroke-width="0.7"/>
<text x="260.30" y="440.10" font-size="4.0" text-anchor="middle" font-weight="bold" fill="#222" >0</text>
<line x1="276.10" y1="431.3" x2="276.10" y2="433.3" stroke="#222" stroke-width="0.7"/>
<text x="276.10" y="440.10" font-size="4.0" text-anchor="middle" font-weight="bold" fill="#222" >50K</text>
<line x1="291.90" y1="431.3" x2="291.90" y2="433.3" stroke="#222" stroke-width="0.7"/>
<text x="291.90" y="440.10" font-size="4.0" text-anchor="middle" font-weight="bold" fill="#222" >100K</text>
<line x1="307.70" y1="431.3" x2="307.70" y2="433.3" stroke="#222" stroke-width="0.7"/>
<text x="307.70" y="440.10" font-size="4.0" text-anchor="middle" font-weight="bold" fill="#222" >150K</text>
<line x1="323.50" y1="431.3" x2="323.50" y2="433.3" stroke="#222" stroke-width="0.7"/>
<text x="323.50" y="440.10" font-size="4.0" text-anchor="middle" font-weight="bold" fill="#222" >200K</text>
<line x1="339.30" y1="431.3" x2="339.30" y2="433.3" stroke="#222" stroke-width="0.7"/>
<text x="339.30" y="440.10" font-size="4.0" text-anchor="middle" font-weight="bold" fill="#222" >250K</text>
<line x1="260.00" y1="431.3" x2="260.00" y2="432.3" stroke="#444" stroke-width="0.4"/>
<line x1="263.25" y1="431.3" x2="263.25" y2="432.3" stroke="#444" stroke-width="0.4"/>
<line x1="266.50" y1="431.3" x2="266.50" y2="432.3" stroke="#444" stroke-width="0.4"/>
<line x1="269.75" y1="431.3" x2="269.75" y2="432.3" stroke="#444" stroke-width="0.4"/>
<line x1="273.00" y1="431.3" x2="273.00" y2="432.3" stroke="#444" stroke-width="0.4"/>
<line x1="276.25" y1="431.3" x2="276.25" y2="432.3" stroke="#444" stroke-width="0.4"/>
<line x1="279.50" y1="431.3" x2="279.50" y2="432.3" stroke="#444" stroke-width="0.4"/>
<line x1="282.75" y1="431.3" x2="282.75" y2="432.3" stroke="#444" stroke-width="0.4"/>
<line x1="286.00" y1="431.3" x2="286.00" y2="432.3" stroke="#444" stroke-width="0.4"/>
<line x1="289.25" y1="431.3" x2="289.25" y2="432.3" stroke="#444" stroke-width="0.4"/>
<line x1="292.50" y1="431.3" x2="292.50" y2="432.3" stroke="#444" stroke-width="0.4"/>
<line x1="295.75" y1="431.3" x2="295.75" y2="432.3" stroke="#444" stroke-width="0.4"/>
<line x1="299.00" y1="431.3" x2="299.00" y2="432.3" stroke="#444" stroke-width="0.4"/>
<line x1="302.25" y1="431.3" x2="302.25" y2="432.3" stroke="#444" stroke-width="0.4"/>
<line x1="305.50" y1="431.3" x2="305.50" y2="432.3" stroke="#444" stroke-width="0.4"/>
<line x1="308.75" y1="431.3" x2="308.75" y2="432.3" stroke="#444" stroke-width="0.4"/>
<line x1="312.00" y1="431.3" x2="312.00" y2="432.3" stroke="#444" stroke-width="0.4"/>
<line x1="315.25" y1="431.3" x2="315.25" y2="432.3" stroke="#444" stroke-width="0.4"/>
<line x1="318.50" y1="431.3" x2="318.50" y2="432.3" stroke="#444" stroke-width="0.4"/>
<line x1="321.75" y1="431.3" x2="321.75" y2="432.3" stroke="#444" stroke-width="0.4"/>
<line x1="325.00" y1="431.3" x2="325.00" y2="432.3" stroke="#444" stroke-width="0.4"/>
<line x1="328.25" y1="431.3" x2="328.25" y2="432.3" stroke="#444" stroke-width="0.4"/>
<line x1="331.50" y1="431.3" x2="331.50" y2="432.3" stroke="#444" stroke-width="0.4"/>
<line x1="334.75" y1="431.3" x2="334.75" y2="432.3" stroke="#444" stroke-width="0.4"/>
<line x1="338.00" y1="431.3" x2="338.00" y2="432.3" stroke="#444" stroke-width="0.4"/>
<line x1="341.25" y1="431.3" x2="341.25" y2="432.3" stroke="#444" stroke-width="0.4"/>
<text x="262" y="350.7" font-size="3.6" text-anchor="start" fill="#333" >41.8</text>
<text x="342.5" y="350.7" font-size="3.6" text-anchor="end" fill="#333" >7.97</text>
<text x="262" y="429.5" font-size="3.6" text-anchor="start" fill="#333" >47.7</text>
<text x="342.5" y="429.5" font-size="3.6" text-anchor="end" fill="#333" >0.51</text>
<path d="M359.5,347 H443.2 V431.3" fill="none" stroke="#666" stroke-width="0.8"/>
<path d="M359.5,347 V431.3 H443.2" fill="none" stroke="#333" stroke-width="0.9"/>
<line x1="386.3" y1="347" x2="386.3" y2="431.3" stroke="#8a8a8a" stroke-width="0.9"/>
<line x1="359.5" y1="388.8" x2="443.2" y2="388.8" stroke="#8a8a8a" stroke-width="0.9"/>
<line x1="357.5" y1="355.09" x2="359.5" y2="355.09" stroke="#222" stroke-width="0.7"/>
<text x="356.2" y="356.59" font-size="4.2" text-anchor="end" font-weight="bold" fill="#222" >10<tspan font-size="2.6" dy="-1.4">5</tspan></text>
<line x1="357.5" y1="374.06" x2="359.5" y2="374.06" stroke="#222" stroke-width="0.7"/>
<text x="356.2" y="375.56" font-size="4.2" text-anchor="end" font-weight="bold" fill="#222" >10<tspan font-size="2.6" dy="-1.4">4</tspan></text>
<line x1="357.5" y1="392.77" x2="359.5" y2="392.77" stroke="#222" stroke-width="0.7"/>
<text x="356.2" y="394.27" font-size="4.2" text-anchor="end" font-weight="bold" fill="#222" >10<tspan font-size="2.6" dy="-1.4">3</tspan></text>
<line x1="357.5" y1="413.09" x2="359.5" y2="413.09" stroke="#222" stroke-width="0.7"/>
<text x="356.2" y="414.59" font-size="4.2" text-anchor="end" font-weight="bold" fill="#222" >10<tspan font-size="2.6" dy="-1.4">2</tspan></text>
<line x1="357.5" y1="422.28" x2="359.5" y2="422.28" stroke="#222" stroke-width="0.7"/>
<text x="356.2" y="423.78" font-size="4.2" text-anchor="end" font-weight="bold" fill="#222" >0</text>
<line x1="358.5" y1="347.00" x2="359.5" y2="347.00" stroke="#444" stroke-width="0.4"/>
<line x1="358.5" y1="351.21" x2="359.5" y2="351.21" stroke="#444" stroke-width="0.4"/>
<line x1="358.5" y1="355.43" x2="359.5" y2="355.43" stroke="#444" stroke-width="0.4"/>
<line x1="358.5" y1="359.64" x2="359.5" y2="359.64" stroke="#444" stroke-width="0.4"/>
<line x1="358.5" y1="363.86" x2="359.5" y2="363.86" stroke="#444" stroke-width="0.4"/>
<line x1="358.5" y1="368.07" x2="359.5" y2="368.07" stroke="#444" stroke-width="0.4"/>
<line x1="358.5" y1="372.29" x2="359.5" y2="372.29" stroke="#444" stroke-width="0.4"/>
<line x1="358.5" y1="376.50" x2="359.5" y2="376.50" stroke="#444" stroke-width="0.4"/>
<line x1="358.5" y1="380.72" x2="359.5" y2="380.72" stroke="#444" stroke-width="0.4"/>
<line x1="358.5" y1="384.94" x2="359.5" y2="384.94" stroke="#444" stroke-width="0.4"/>
<line x1="358.5" y1="389.15" x2="359.5" y2="389.15" stroke="#444" stroke-width="0.4"/>
<line x1="358.5" y1="393.37" x2="359.5" y2="393.37" stroke="#444" stroke-width="0.4"/>
<line x1="358.5" y1="397.58" x2="359.5" y2="397.58" stroke="#444" stroke-width="0.4"/>
<line x1="358.5" y1="401.80" x2="359.5" y2="401.80" stroke="#444" stroke-width="0.4"/>
<line x1="358.5" y1="406.01" x2="359.5" y2="406.01" stroke="#444" stroke-width="0.4"/>
<line x1="358.5" y1="410.23" x2="359.5" y2="410.23" stroke="#444" stroke-width="0.4"/>
<line x1="358.5" y1="414.44" x2="359.5" y2="414.44" stroke="#444" stroke-width="0.4"/>
<line x1="358.5" y1="418.65" x2="359.5" y2="418.65" stroke="#444" stroke-width="0.4"/>
<line x1="358.5" y1="422.87" x2="359.5" y2="422.87" stroke="#444" stroke-width="0.4"/>
<line x1="358.5" y1="427.09" x2="359.5" y2="427.09" stroke="#444" stroke-width="0.4"/>
<line x1="359.80" y1="431.3" x2="359.80" y2="433.3" stroke="#222" stroke-width="0.7"/>
<text x="359.80" y="440.10" font-size="4.0" text-anchor="middle" font-weight="bold" fill="#222" >0</text>
<line x1="375.60" y1="431.3" x2="375.60" y2="433.3" stroke="#222" stroke-width="0.7"/>
<text x="375.60" y="440.10" font-size="4.0" text-anchor="middle" font-weight="bold" fill="#222" >50K</text>
<line x1="391.40" y1="431.3" x2="391.40" y2="433.3" stroke="#222" stroke-width="0.7"/>
<text x="391.40" y="440.10" font-size="4.0" text-anchor="middle" font-weight="bold" fill="#222" >100K</text>
<line x1="407.20" y1="431.3" x2="407.20" y2="433.3" stroke="#222" stroke-width="0.7"/>
<text x="407.20" y="440.10" font-size="4.0" text-anchor="middle" font-weight="bold" fill="#222" >150K</text>
<line x1="423.00" y1="431.3" x2="423.00" y2="433.3" stroke="#222" stroke-width="0.7"/>
<text x="423.00" y="440.10" font-size="4.0" text-anchor="middle" font-weight="bold" fill="#222" >200K</text>
<line x1="438.80" y1="431.3" x2="438.80" y2="433.3" stroke="#222" stroke-width="0.7"/>
<text x="438.80" y="440.10" font-size="4.0" text-anchor="middle" font-weight="bold" fill="#222" >250K</text>
<line x1="359.50" y1="431.3" x2="359.50" y2="432.3" stroke="#444" stroke-width="0.4"/>
<line x1="362.72" y1="431.3" x2="362.72" y2="432.3" stroke="#444" stroke-width="0.4"/>
<line x1="365.94" y1="431.3" x2="365.94" y2="432.3" stroke="#444" stroke-width="0.4"/>
<line x1="369.16" y1="431.3" x2="369.16" y2="432.3" stroke="#444" stroke-width="0.4"/>
<line x1="372.38" y1="431.3" x2="372.38" y2="432.3" stroke="#444" stroke-width="0.4"/>
<line x1="375.60" y1="431.3" x2="375.60" y2="432.3" stroke="#444" stroke-width="0.4"/>
<line x1="378.82" y1="431.3" x2="378.82" y2="432.3" stroke="#444" stroke-width="0.4"/>
<line x1="382.03" y1="431.3" x2="382.03" y2="432.3" stroke="#444" stroke-width="0.4"/>
<line x1="385.25" y1="431.3" x2="385.25" y2="432.3" stroke="#444" stroke-width="0.4"/>
<line x1="388.47" y1="431.3" x2="388.47" y2="432.3" stroke="#444" stroke-width="0.4"/>
<line x1="391.69" y1="431.3" x2="391.69" y2="432.3" stroke="#444" stroke-width="0.4"/>
<line x1="394.91" y1="431.3" x2="394.91" y2="432.3" stroke="#444" stroke-width="0.4"/>
<line x1="398.13" y1="431.3" x2="398.13" y2="432.3" stroke="#444" stroke-width="0.4"/>
<line x1="401.35" y1="431.3" x2="401.35" y2="432.3" stroke="#444" stroke-width="0.4"/>
<line x1="404.57" y1="431.3" x2="404.57" y2="432.3" stroke="#444" stroke-width="0.4"/>
<line x1="407.79" y1="431.3" x2="407.79" y2="432.3" stroke="#444" stroke-width="0.4"/>
<line x1="411.01" y1="431.3" x2="411.01" y2="432.3" stroke="#444" stroke-width="0.4"/>
<line x1="414.23" y1="431.3" x2="414.23" y2="432.3" stroke="#444" stroke-width="0.4"/>
<line x1="417.45" y1="431.3" x2="417.45" y2="432.3" stroke="#444" stroke-width="0.4"/>
<line x1="420.67" y1="431.3" x2="420.67" y2="432.3" stroke="#444" stroke-width="0.4"/>
<line x1="423.88" y1="431.3" x2="423.88" y2="432.3" stroke="#444" stroke-width="0.4"/>
<line x1="427.10" y1="431.3" x2="427.10" y2="432.3" stroke="#444" stroke-width="0.4"/>
<line x1="430.32" y1="431.3" x2="430.32" y2="432.3" stroke="#444" stroke-width="0.4"/>
<line x1="433.54" y1="431.3" x2="433.54" y2="432.3" stroke="#444" stroke-width="0.4"/>
<line x1="436.76" y1="431.3" x2="436.76" y2="432.3" stroke="#444" stroke-width="0.4"/>
<line x1="439.98" y1="431.3" x2="439.98" y2="432.3" stroke="#444" stroke-width="0.4"/>
<text x="361.5" y="351.4" font-size="3.6" text-anchor="start" fill="#333" >26.2</text>
<text x="441.2" y="351.4" font-size="3.6" text-anchor="end" fill="#333" >5.65</text>
<text x="361.5" y="429.5" font-size="3.6" text-anchor="start" fill="#333" >65.4</text>
<text x="441.2" y="429.5" font-size="3.6" text-anchor="end" fill="#333" >0.7</text>
<path d="M261.3,447.6 H345.2 V531.8" fill="none" stroke="#666" stroke-width="0.8"/>
<path d="M261.3,447.6 V531.8 H345.2" fill="none" stroke="#333" stroke-width="0.9"/>
<line x1="292" y1="447.6" x2="292" y2="531.8" stroke="#8a8a8a" stroke-width="0.9"/>
<line x1="261.3" y1="491.3" x2="345.2" y2="491.3" stroke="#8a8a8a" stroke-width="0.9"/>
<line x1="259.3" y1="455.68" x2="261.3" y2="455.68" stroke="#222" stroke-width="0.7"/>
<text x="258.0" y="457.18" font-size="4.2" text-anchor="end" font-weight="bold" fill="#222" >10<tspan font-size="2.6" dy="-1.4">5</tspan></text>
<line x1="259.3" y1="474.63" x2="261.3" y2="474.63" stroke="#222" stroke-width="0.7"/>
<text x="258.0" y="476.13" font-size="4.2" text-anchor="end" font-weight="bold" fill="#222" >10<tspan font-size="2.6" dy="-1.4">4</tspan></text>
<line x1="259.3" y1="493.32" x2="261.3" y2="493.32" stroke="#222" stroke-width="0.7"/>
<text x="258.0" y="494.82" font-size="4.2" text-anchor="end" font-weight="bold" fill="#222" >10<tspan font-size="2.6" dy="-1.4">3</tspan></text>
<line x1="259.3" y1="513.61" x2="261.3" y2="513.61" stroke="#222" stroke-width="0.7"/>
<text x="258.0" y="515.11" font-size="4.2" text-anchor="end" font-weight="bold" fill="#222" >10<tspan font-size="2.6" dy="-1.4">2</tspan></text>
<line x1="259.3" y1="522.79" x2="261.3" y2="522.79" stroke="#222" stroke-width="0.7"/>
<text x="258.0" y="524.29" font-size="4.2" text-anchor="end" font-weight="bold" fill="#222" >0</text>
<line x1="260.3" y1="447.60" x2="261.3" y2="447.60" stroke="#444" stroke-width="0.4"/>
<line x1="260.3" y1="451.81" x2="261.3" y2="451.81" stroke="#444" stroke-width="0.4"/>
<line x1="260.3" y1="456.02" x2="261.3" y2="456.02" stroke="#444" stroke-width="0.4"/>
<line x1="260.3" y1="460.23" x2="261.3" y2="460.23" stroke="#444" stroke-width="0.4"/>
<line x1="260.3" y1="464.44" x2="261.3" y2="464.44" stroke="#444" stroke-width="0.4"/>
<line x1="260.3" y1="468.65" x2="261.3" y2="468.65" stroke="#444" stroke-width="0.4"/>
<line x1="260.3" y1="472.86" x2="261.3" y2="472.86" stroke="#444" stroke-width="0.4"/>
<line x1="260.3" y1="477.07" x2="261.3" y2="477.07" stroke="#444" stroke-width="0.4"/>
<line x1="260.3" y1="481.28" x2="261.3" y2="481.28" stroke="#444" stroke-width="0.4"/>
<line x1="260.3" y1="485.49" x2="261.3" y2="485.49" stroke="#444" stroke-width="0.4"/>
<line x1="260.3" y1="489.70" x2="261.3" y2="489.70" stroke="#444" stroke-width="0.4"/>
<line x1="260.3" y1="493.91" x2="261.3" y2="493.91" stroke="#444" stroke-width="0.4"/>
<line x1="260.3" y1="498.12" x2="261.3" y2="498.12" stroke="#444" stroke-width="0.4"/>
<line x1="260.3" y1="502.33" x2="261.3" y2="502.33" stroke="#444" stroke-width="0.4"/>
<line x1="260.3" y1="506.54" x2="261.3" y2="506.54" stroke="#444" stroke-width="0.4"/>
<line x1="260.3" y1="510.75" x2="261.3" y2="510.75" stroke="#444" stroke-width="0.4"/>
<line x1="260.3" y1="514.96" x2="261.3" y2="514.96" stroke="#444" stroke-width="0.4"/>
<line x1="260.3" y1="519.17" x2="261.3" y2="519.17" stroke="#444" stroke-width="0.4"/>
<line x1="260.3" y1="523.38" x2="261.3" y2="523.38" stroke="#444" stroke-width="0.4"/>
<line x1="260.3" y1="527.59" x2="261.3" y2="527.59" stroke="#444" stroke-width="0.4"/>
<line x1="261.60" y1="531.8" x2="261.60" y2="533.8" stroke="#222" stroke-width="0.7"/>
<text x="261.60" y="540.60" font-size="4.0" text-anchor="middle" font-weight="bold" fill="#222" >0</text>
<line x1="277.40" y1="531.8" x2="277.40" y2="533.8" stroke="#222" stroke-width="0.7"/>
<text x="277.40" y="540.60" font-size="4.0" text-anchor="middle" font-weight="bold" fill="#222" >50K</text>
<line x1="293.20" y1="531.8" x2="293.20" y2="533.8" stroke="#222" stroke-width="0.7"/>
<text x="293.20" y="540.60" font-size="4.0" text-anchor="middle" font-weight="bold" fill="#222" >100K</text>
<line x1="309.00" y1="531.8" x2="309.00" y2="533.8" stroke="#222" stroke-width="0.7"/>
<text x="309.00" y="540.60" font-size="4.0" text-anchor="middle" font-weight="bold" fill="#222" >150K</text>
<line x1="324.80" y1="531.8" x2="324.80" y2="533.8" stroke="#222" stroke-width="0.7"/>
<text x="324.80" y="540.60" font-size="4.0" text-anchor="middle" font-weight="bold" fill="#222" >200K</text>
<line x1="340.60" y1="531.8" x2="340.60" y2="533.8" stroke="#222" stroke-width="0.7"/>
<text x="340.60" y="540.60" font-size="4.0" text-anchor="middle" font-weight="bold" fill="#222" >250K</text>
<line x1="261.30" y1="531.8" x2="261.30" y2="532.8" stroke="#444" stroke-width="0.4"/>
<line x1="264.53" y1="531.8" x2="264.53" y2="532.8" stroke="#444" stroke-width="0.4"/>
<line x1="267.75" y1="531.8" x2="267.75" y2="532.8" stroke="#444" stroke-width="0.4"/>
<line x1="270.98" y1="531.8" x2="270.98" y2="532.8" stroke="#444" stroke-width="0.4"/>
<line x1="274.21" y1="531.8" x2="274.21" y2="532.8" stroke="#444" stroke-width="0.4"/>
<line x1="277.43" y1="531.8" x2="277.43" y2="532.8" stroke="#444" stroke-width="0.4"/>
<line x1="280.66" y1="531.8" x2="280.66" y2="532.8" stroke="#444" stroke-width="0.4"/>
<line x1="283.89" y1="531.8" x2="283.89" y2="532.8" stroke="#444" stroke-width="0.4"/>
<line x1="287.12" y1="531.8" x2="287.12" y2="532.8" stroke="#444" stroke-width="0.4"/>
<line x1="290.34" y1="531.8" x2="290.34" y2="532.8" stroke="#444" stroke-width="0.4"/>
<line x1="293.57" y1="531.8" x2="293.57" y2="532.8" stroke="#444" stroke-width="0.4"/>
<line x1="296.80" y1="531.8" x2="296.80" y2="532.8" stroke="#444" stroke-width="0.4"/>
<line x1="300.02" y1="531.8" x2="300.02" y2="532.8" stroke="#444" stroke-width="0.4"/>
<line x1="303.25" y1="531.8" x2="303.25" y2="532.8" stroke="#444" stroke-width="0.4"/>
<line x1="306.48" y1="531.8" x2="306.48" y2="532.8" stroke="#444" stroke-width="0.4"/>
<line x1="309.70" y1="531.8" x2="309.70" y2="532.8" stroke="#444" stroke-width="0.4"/>
<line x1="312.93" y1="531.8" x2="312.93" y2="532.8" stroke="#444" stroke-width="0.4"/>
<line x1="316.16" y1="531.8" x2="316.16" y2="532.8" stroke="#444" stroke-width="0.4"/>
<line x1="319.38" y1="531.8" x2="319.38" y2="532.8" stroke="#444" stroke-width="0.4"/>
<line x1="322.61" y1="531.8" x2="322.61" y2="532.8" stroke="#444" stroke-width="0.4"/>
<line x1="325.84" y1="531.8" x2="325.84" y2="532.8" stroke="#444" stroke-width="0.4"/>
<line x1="329.07" y1="531.8" x2="329.07" y2="532.8" stroke="#444" stroke-width="0.4"/>
<line x1="332.29" y1="531.8" x2="332.29" y2="532.8" stroke="#444" stroke-width="0.4"/>
<line x1="335.52" y1="531.8" x2="335.52" y2="532.8" stroke="#444" stroke-width="0.4"/>
<line x1="338.75" y1="531.8" x2="338.75" y2="532.8" stroke="#444" stroke-width="0.4"/>
<line x1="341.97" y1="531.8" x2="341.97" y2="532.8" stroke="#444" stroke-width="0.4"/>
<text x="263.3" y="452.0" font-size="3.6" text-anchor="start" fill="#333" >43.9</text>
<text x="343.2" y="452.0" font-size="3.6" text-anchor="end" fill="#333" >37.7</text>
<text x="263.3" y="530.0" font-size="3.6" text-anchor="start" fill="#333" >17.4</text>
<text x="343.2" y="530.0" font-size="3.6" text-anchor="end" fill="#333" >0.95</text>
<path d="M360,447.6 H444.3 V531.8" fill="none" stroke="#666" stroke-width="0.8"/>
<path d="M360,447.6 V531.8 H444.3" fill="none" stroke="#333" stroke-width="0.9"/>
<line x1="388.3" y1="447.6" x2="388.3" y2="531.8" stroke="#8a8a8a" stroke-width="0.9"/>
<line x1="360" y1="490.5" x2="444.3" y2="490.5" stroke="#8a8a8a" stroke-width="0.9"/>
<line x1="358" y1="455.68" x2="360" y2="455.68" stroke="#222" stroke-width="0.7"/>
<text x="356.7" y="457.18" font-size="4.2" text-anchor="end" font-weight="bold" fill="#222" >10<tspan font-size="2.6" dy="-1.4">5</tspan></text>
<line x1="358" y1="474.63" x2="360" y2="474.63" stroke="#222" stroke-width="0.7"/>
<text x="356.7" y="476.13" font-size="4.2" text-anchor="end" font-weight="bold" fill="#222" >10<tspan font-size="2.6" dy="-1.4">4</tspan></text>
<line x1="358" y1="493.32" x2="360" y2="493.32" stroke="#222" stroke-width="0.7"/>
<text x="356.7" y="494.82" font-size="4.2" text-anchor="end" font-weight="bold" fill="#222" >10<tspan font-size="2.6" dy="-1.4">3</tspan></text>
<line x1="358" y1="513.61" x2="360" y2="513.61" stroke="#222" stroke-width="0.7"/>
<text x="356.7" y="515.11" font-size="4.2" text-anchor="end" font-weight="bold" fill="#222" >10<tspan font-size="2.6" dy="-1.4">2</tspan></text>
<line x1="358" y1="522.79" x2="360" y2="522.79" stroke="#222" stroke-width="0.7"/>
<text x="356.7" y="524.29" font-size="4.2" text-anchor="end" font-weight="bold" fill="#222" >0</text>
<line x1="359" y1="447.60" x2="360" y2="447.60" stroke="#444" stroke-width="0.4"/>
<line x1="359" y1="451.81" x2="360" y2="451.81" stroke="#444" stroke-width="0.4"/>
<line x1="359" y1="456.02" x2="360" y2="456.02" stroke="#444" stroke-width="0.4"/>
<line x1="359" y1="460.23" x2="360" y2="460.23" stroke="#444" stroke-width="0.4"/>
<line x1="359" y1="464.44" x2="360" y2="464.44" stroke="#444" stroke-width="0.4"/>
<line x1="359" y1="468.65" x2="360" y2="468.65" stroke="#444" stroke-width="0.4"/>
<line x1="359" y1="472.86" x2="360" y2="472.86" stroke="#444" stroke-width="0.4"/>
<line x1="359" y1="477.07" x2="360" y2="477.07" stroke="#444" stroke-width="0.4"/>
<line x1="359" y1="481.28" x2="360" y2="481.28" stroke="#444" stroke-width="0.4"/>
<line x1="359" y1="485.49" x2="360" y2="485.49" stroke="#444" stroke-width="0.4"/>
<line x1="359" y1="489.70" x2="360" y2="489.70" stroke="#444" stroke-width="0.4"/>
<line x1="359" y1="493.91" x2="360" y2="493.91" stroke="#444" stroke-width="0.4"/>
<line x1="359" y1="498.12" x2="360" y2="498.12" stroke="#444" stroke-width="0.4"/>
<line x1="359" y1="502.33" x2="360" y2="502.33" stroke="#444" stroke-width="0.4"/>
<line x1="359" y1="506.54" x2="360" y2="506.54" stroke="#444" stroke-width="0.4"/>
<line x1="359" y1="510.75" x2="360" y2="510.75" stroke="#444" stroke-width="0.4"/>
<line x1="359" y1="514.96" x2="360" y2="514.96" stroke="#444" stroke-width="0.4"/>
<line x1="359" y1="519.17" x2="360" y2="519.17" stroke="#444" stroke-width="0.4"/>
<line x1="359" y1="523.38" x2="360" y2="523.38" stroke="#444" stroke-width="0.4"/>
<line x1="359" y1="527.59" x2="360" y2="527.59" stroke="#444" stroke-width="0.4"/>
<line x1="360.30" y1="531.8" x2="360.30" y2="533.8" stroke="#222" stroke-width="0.7"/>
<text x="360.30" y="540.60" font-size="4.0" text-anchor="middle" font-weight="bold" fill="#222" >0</text>
<line x1="376.10" y1="531.8" x2="376.10" y2="533.8" stroke="#222" stroke-width="0.7"/>
<text x="376.10" y="540.60" font-size="4.0" text-anchor="middle" font-weight="bold" fill="#222" >50K</text>
<line x1="391.90" y1="531.8" x2="391.90" y2="533.8" stroke="#222" stroke-width="0.7"/>
<text x="391.90" y="540.60" font-size="4.0" text-anchor="middle" font-weight="bold" fill="#222" >100K</text>
<line x1="407.70" y1="531.8" x2="407.70" y2="533.8" stroke="#222" stroke-width="0.7"/>
<text x="407.70" y="540.60" font-size="4.0" text-anchor="middle" font-weight="bold" fill="#222" >150K</text>
<line x1="423.50" y1="531.8" x2="423.50" y2="533.8" stroke="#222" stroke-width="0.7"/>
<text x="423.50" y="540.60" font-size="4.0" text-anchor="middle" font-weight="bold" fill="#222" >200K</text>
<line x1="439.30" y1="531.8" x2="439.30" y2="533.8" stroke="#222" stroke-width="0.7"/>
<text x="439.30" y="540.60" font-size="4.0" text-anchor="middle" font-weight="bold" fill="#222" >250K</text>
<line x1="360.00" y1="531.8" x2="360.00" y2="532.8" stroke="#444" stroke-width="0.4"/>
<line x1="363.24" y1="531.8" x2="363.24" y2="532.8" stroke="#444" stroke-width="0.4"/>
<line x1="366.48" y1="531.8" x2="366.48" y2="532.8" stroke="#444" stroke-width="0.4"/>
<line x1="369.73" y1="531.8" x2="369.73" y2="532.8" stroke="#444" stroke-width="0.4"/>
<line x1="372.97" y1="531.8" x2="372.97" y2="532.8" stroke="#444" stroke-width="0.4"/>
<line x1="376.21" y1="531.8" x2="376.21" y2="532.8" stroke="#444" stroke-width="0.4"/>
<line x1="379.45" y1="531.8" x2="379.45" y2="532.8" stroke="#444" stroke-width="0.4"/>
<line x1="382.70" y1="531.8" x2="382.70" y2="532.8" stroke="#444" stroke-width="0.4"/>
<line x1="385.94" y1="531.8" x2="385.94" y2="532.8" stroke="#444" stroke-width="0.4"/>
<line x1="389.18" y1="531.8" x2="389.18" y2="532.8" stroke="#444" stroke-width="0.4"/>
<line x1="392.42" y1="531.8" x2="392.42" y2="532.8" stroke="#444" stroke-width="0.4"/>
<line x1="395.67" y1="531.8" x2="395.67" y2="532.8" stroke="#444" stroke-width="0.4"/>
<line x1="398.91" y1="531.8" x2="398.91" y2="532.8" stroke="#444" stroke-width="0.4"/>
<line x1="402.15" y1="531.8" x2="402.15" y2="532.8" stroke="#444" stroke-width="0.4"/>
<line x1="405.39" y1="531.8" x2="405.39" y2="532.8" stroke="#444" stroke-width="0.4"/>
<line x1="408.63" y1="531.8" x2="408.63" y2="532.8" stroke="#444" stroke-width="0.4"/>
<line x1="411.88" y1="531.8" x2="411.88" y2="532.8" stroke="#444" stroke-width="0.4"/>
<line x1="415.12" y1="531.8" x2="415.12" y2="532.8" stroke="#444" stroke-width="0.4"/>
<line x1="418.36" y1="531.8" x2="418.36" y2="532.8" stroke="#444" stroke-width="0.4"/>
<line x1="421.60" y1="531.8" x2="421.60" y2="532.8" stroke="#444" stroke-width="0.4"/>
<line x1="424.85" y1="531.8" x2="424.85" y2="532.8" stroke="#444" stroke-width="0.4"/>
<line x1="428.09" y1="531.8" x2="428.09" y2="532.8" stroke="#444" stroke-width="0.4"/>
<line x1="431.33" y1="531.8" x2="431.33" y2="532.8" stroke="#444" stroke-width="0.4"/>
<line x1="434.57" y1="531.8" x2="434.57" y2="532.8" stroke="#444" stroke-width="0.4"/>
<line x1="437.82" y1="531.8" x2="437.82" y2="532.8" stroke="#444" stroke-width="0.4"/>
<line x1="441.06" y1="531.8" x2="441.06" y2="532.8" stroke="#444" stroke-width="0.4"/>
<text x="362" y="452.0" font-size="3.6" text-anchor="start" fill="#333" >44.1</text>
<text x="442.3" y="452.0" font-size="3.6" text-anchor="end" fill="#333" >33</text>
<text x="362" y="530.0" font-size="3.6" text-anchor="start" fill="#333" >22.4</text>
<text x="442.3" y="530.0" font-size="3.6" text-anchor="end" fill="#333" >0.52</text>
<text x="265" y="267.9" font-size="11.4" text-anchor="start" fill="#000" textLength="13.8" lengthAdjust="spacingAndGlyphs" >G1</text>
<text x="294.5" y="267.9" font-size="11.4" text-anchor="start" fill="#000" textLength="39.3" lengthAdjust="spacingAndGlyphs" >S-G2-M</text>
<text x="263.8" y="327.8" font-size="11.4" text-anchor="start" fill="#000" textLength="14.8" lengthAdjust="spacingAndGlyphs" >G0</text>
<path d="M289.9,299.2h0.8v0.8h-0.8zM288.5,307.3h0.8v0.8h-0.8zM289.4,290.8h0.8v0.8h-0.8zM289.6,296.8h0.8v0.8h-0.8zM288.6,296.7h0.8v0.8h-0.8zM288.9,332.9h0.8v0.8h-0.8zM290.3,298.3h0.8v0.8h-0.8zM290.0,292.6h0.8v0.8h-0.8zM289.4,330.3h0.8v0.8h-0.8zM290.0,287.8h0.8v0.8h-0.8zM286.7,331.7h0.8v0.8h-0.8zM286.5,325.7h0.8v0.8h-0.8zM289.4,314.8h0.8v0.8h-0.8zM288.0,303.2h0.8v0.8h-0.8zM288.0,291.0h0.8v0.8h-0.8zM288.6,286.1h0.8v0.8h-0.8zM287.4,286.0h0.8v0.8h-0.8zM288.4,299.0h0.8v0.8h-0.8zM288.1,302.1h0.8v0.8h-0.8zM288.5,329.5h0.8v0.8h-0.8zM287.4,308.9h0.8v0.8h-0.8zM287.1,333.0h0.8v0.8h-0.8zM288.6,318.7h0.8v0.8h-0.8zM288.2,288.3h0.8v0.8h-0.8zM287.7,309.8h0.8v0.8h-0.8zM289.5,288.9h0.8v0.8h-0.8zM288.7,282.6h0.8v0.8h-0.8zM289.6,330.5h0.8v0.8h-0.8zM287.3,298.4h0.8v0.8h-0.8zM287.0,290.5h0.8v0.8h-0.8zM288.1,285.9h0.8v0.8h-0.8zM289.4,315.1h0.8v0.8h-0.8zM289.6,304.9h0.8v0.8h-0.8zM289.8,281.1h0.8v0.8h-0.8zM288.8,318.4h0.8v0.8h-0.8zM289.5,294.1h0.8v0.8h-0.8zM288.4,321.9h0.8v0.8h-0.8zM288.8,306.4h0.8v0.8h-0.8zM288.7,308.9h0.8v0.8h-0.8zM288.3,304.7h0.8v0.8h-0.8zM287.1,316.3h0.8v0.8h-0.8zM287.7,333.0h0.8v0.8h-0.8zM289.7,322.8h0.8v0.8h-0.8zM289.6,284.2h0.8v0.8h-0.8zM288.9,306.7h0.8v0.8h-0.8zM290.0,292.9h0.8v0.8h-0.8zM287.7,285.9h0.8v0.8h-0.8zM289.2,290.8h0.8v0.8h-0.8zM288.5,293.7h0.8v0.8h-0.8zM289.3,331.4h0.8v0.8h-0.8zM288.7,320.0h0.8v0.8h-0.8zM289.4,325.7h0.8v0.8h-0.8zM289.7,317.5h0.8v0.8h-0.8zM288.9,297.2h0.8v0.8h-0.8zM289.0,301.2h0.8v0.8h-0.8zM287.6,303.9h0.8v0.8h-0.8zM289.2,296.1h0.8v0.8h-0.8zM289.2,302.8h0.8v0.8h-0.8zM286.9,321.4h0.8v0.8h-0.8zM288.1,284.5h0.8v0.8h-0.8zM287.9,295.2h0.8v0.8h-0.8zM288.7,305.9h0.8v0.8h-0.8zM289.2,316.3h0.8v0.8h-0.8zM289.9,314.7h0.8v0.8h-0.8zM290.1,318.9h0.8v0.8h-0.8zM288.2,286.1h0.8v0.8h-0.8zM288.2,290.1h0.8v0.8h-0.8zM289.3,296.9h0.8v0.8h-0.8zM287.4,295.4h0.8v0.8h-0.8zM288.2,320.5h0.8v0.8h-0.8zM289.5,333.1h0.8v0.8h-0.8zM287.0,316.7h0.8v0.8h-0.8zM286.6,282.3h0.8v0.8h-0.8zM287.5,296.3h0.8v0.8h-0.8zM288.4,323.1h0.8v0.8h-0.8zM286.9,329.5h0.8v0.8h-0.8zM288.9,312.0h0.8v0.8h-0.8zM286.9,299.0h0.8v0.8h-0.8zM286.5,299.3h0.8v0.8h-0.8zM289.4,314.1h0.8v0.8h-0.8zM290.0,326.3h0.8v0.8h-0.8zM290.1,298.6h0.8v0.8h-0.8zM287.4,290.6h0.8v0.8h-0.8zM288.1,280.6h0.8v0.8h-0.8zM289.4,287.8h0.8v0.8h-0.8zM287.0,325.6h0.8v0.8h-0.8zM288.8,313.6h0.8v0.8h-0.8zM289.5,333.0h0.8v0.8h-0.8zM287.0,284.2h0.8v0.8h-0.8zM288.4,299.9h0.8v0.8h-0.8zM289.6,322.7h0.8v0.8h-0.8zM289.6,315.5h0.8v0.8h-0.8zM288.6,284.0h0.8v0.8h-0.8zM287.5,301.8h0.8v0.8h-0.8zM287.0,314.3h0.8v0.8h-0.8zM289.3,317.0h0.8v0.8h-0.8zM290.4,304.4h0.8v0.8h-0.8zM288.8,290.5h0.8v0.8h-0.8zM289.1,331.7h0.8v0.8h-0.8zM288.9,305.2h0.8v0.8h-0.8zM289.4,318.5h0.8v0.8h-0.8zM289.8,308.8h0.8v0.8h-0.8zM288.7,284.8h0.8v0.8h-0.8zM289.8,293.0h0.8v0.8h-0.8zM287.8,283.8h0.8v0.8h-0.8zM286.3,290.6h0.8v0.8h-0.8zM288.4,291.1h0.8v0.8h-0.8zM288.3,302.5h0.8v0.8h-0.8zM288.2,297.5h0.8v0.8h-0.8zM288.1,299.7h0.8v0.8h-0.8zM287.0,323.8h0.8v0.8h-0.8zM288.5,281.6h0.8v0.8h-0.8zM290.2,286.0h0.8v0.8h-0.8zM289.4,323.3h0.8v0.8h-0.8zM287.9,308.8h0.8v0.8h-0.8zM289.6,303.8h0.8v0.8h-0.8zM288.5,294.7h0.8v0.8h-0.8zM288.7,309.2h0.8v0.8h-0.8zM288.2,292.2h0.8v0.8h-0.8zM289.2,326.0h0.8v0.8h-0.8zM288.6,324.2h0.8v0.8h-0.8zM289.7,297.6h0.8v0.8h-0.8zM290.0,281.8h0.8v0.8h-0.8zM286.3,327.5h0.8v0.8h-0.8zM290.0,296.3h0.8v0.8h-0.8zM287.1,315.3h0.8v0.8h-0.8zM289.4,326.0h0.8v0.8h-0.8zM288.9,322.8h0.8v0.8h-0.8zM286.2,326.2h0.8v0.8h-0.8zM289.3,306.4h0.8v0.8h-0.8zM289.0,325.1h0.8v0.8h-0.8zM286.8,304.9h0.8v0.8h-0.8zM289.3,294.5h0.8v0.8h-0.8zM286.7,306.0h0.8v0.8h-0.8zM287.2,298.3h0.8v0.8h-0.8zM289.4,321.2h0.8v0.8h-0.8zM289.9,324.6h0.8v0.8h-0.8zM288.2,288.0h0.8v0.8h-0.8zM288.8,289.2h0.8v0.8h-0.8zM288.9,300.8h0.8v0.8h-0.8zM289.6,305.1h0.8v0.8h-0.8zM289.7,331.2h0.8v0.8h-0.8zM288.4,330.4h0.8v0.8h-0.8zM289.3,331.8h0.8v0.8h-0.8zM288.1,319.2h0.8v0.8h-0.8zM288.1,316.4h0.8v0.8h-0.8zM288.0,294.8h0.8v0.8h-0.8zM289.8,300.3h0.8v0.8h-0.8zM288.2,280.6h0.8v0.8h-0.8zM288.1,324.6h0.8v0.8h-0.8zM288.6,295.1h0.8v0.8h-0.8zM288.6,284.7h0.8v0.8h-0.8zM289.0,297.2h0.8v0.8h-0.8zM287.8,297.6h0.8v0.8h-0.8zM288.6,318.9h0.8v0.8h-0.8zM289.7,280.8h0.8v0.8h-0.8zM289.7,292.7h0.8v0.8h-0.8zM289.6,328.0h0.8v0.8h-0.8zM289.1,325.8h0.8v0.8h-0.8zM287.1,313.8h0.8v0.8h-0.8zM287.9,310.1h0.8v0.8h-0.8zM287.3,292.3h0.8v0.8h-0.8zM288.7,326.9h0.8v0.8h-0.8zM288.8,320.8h0.8v0.8h-0.8zM289.9,307.7h0.8v0.8h-0.8zM287.3,289.0h0.8v0.8h-0.8zM289.0,291.9h0.8v0.8h-0.8zM288.2,300.6h0.8v0.8h-0.8zM289.4,298.0h0.8v0.8h-0.8zM288.5,283.7h0.8v0.8h-0.8zM287.5,302.0h0.8v0.8h-0.8zM290.2,304.3h0.8v0.8h-0.8zM289.4,295.7h0.8v0.8h-0.8zM288.9,300.9h0.8v0.8h-0.8zM287.5,298.1h0.8v0.8h-0.8zM288.1,300.5h0.8v0.8h-0.8zM287.9,313.3h0.8v0.8h-0.8zM289.3,306.9h0.8v0.8h-0.8zM288.8,291.0h0.8v0.8h-0.8zM289.9,322.6h0.8v0.8h-0.8zM288.8,307.7h0.8v0.8h-0.8zM287.0,304.8h0.8v0.8h-0.8zM288.0,318.3h0.8v0.8h-0.8zM289.1,320.4h0.8v0.8h-0.8zM289.5,325.5h0.8v0.8h-0.8zM288.0,323.5h0.8v0.8h-0.8zM287.9,316.0h0.8v0.8h-0.8zM287.2,318.7h0.8v0.8h-0.8zM289.7,288.8h0.8v0.8h-0.8zM289.6,317.6h0.8v0.8h-0.8zM289.1,294.0h0.8v0.8h-0.8zM289.6,294.2h0.8v0.8h-0.8zM287.9,286.9h0.8v0.8h-0.8zM288.0,301.5h0.8v0.8h-0.8zM289.2,281.6h0.8v0.8h-0.8zM288.2,315.3h0.8v0.8h-0.8zM288.2,320.1h0.8v0.8h-0.8zM288.9,321.6h0.8v0.8h-0.8zM289.6,287.3h0.8v0.8h-0.8zM287.6,314.5h0.8v0.8h-0.8zM286.7,324.9h0.8v0.8h-0.8zM286.3,282.4h0.8v0.8h-0.8zM289.8,290.7h0.8v0.8h-0.8zM288.4,294.7h0.8v0.8h-0.8zM287.2,305.0h0.8v0.8h-0.8zM289.9,289.6h0.8v0.8h-0.8zM287.3,309.1h0.8v0.8h-0.8zM289.8,298.7h0.8v0.8h-0.8zM287.4,315.2h0.8v0.8h-0.8zM288.2,308.7h0.8v0.8h-0.8zM287.7,316.9h0.8v0.8h-0.8zM288.4,293.6h0.8v0.8h-0.8zM289.1,318.0h0.8v0.8h-0.8zM287.3,319.4h0.8v0.8h-0.8zM289.3,318.8h0.8v0.8h-0.8zM288.6,284.1h0.8v0.8h-0.8zM289.6,330.6h0.8v0.8h-0.8zM288.6,311.1h0.8v0.8h-0.8zM288.9,294.9h0.8v0.8h-0.8zM288.0,303.5h0.8v0.8h-0.8zM289.6,307.9h0.8v0.8h-0.8zM289.4,307.9h0.8v0.8h-0.8zM286.8,293.6h0.8v0.8h-0.8zM287.4,294.5h0.8v0.8h-0.8zM287.3,299.8h0.8v0.8h-0.8zM288.5,321.9h0.8v0.8h-0.8zM289.1,303.7h0.8v0.8h-0.8zM287.6,282.5h0.8v0.8h-0.8zM289.0,304.5h0.8v0.8h-0.8zM289.8,291.2h0.8v0.8h-0.8zM287.3,281.2h0.8v0.8h-0.8zM288.8,332.3h0.8v0.8h-0.8zM289.4,296.1h0.8v0.8h-0.8zM288.8,309.0h0.8v0.8h-0.8zM286.6,299.5h0.8v0.8h-0.8zM289.4,283.3h0.8v0.8h-0.8zM288.8,328.2h0.8v0.8h-0.8zM289.9,330.1h0.8v0.8h-0.8zM289.8,290.4h0.8v0.8h-0.8zM290.2,302.7h0.8v0.8h-0.8zM287.1,300.3h0.8v0.8h-0.8zM289.6,289.4h0.8v0.8h-0.8zM289.6,315.6h0.8v0.8h-0.8zM288.9,321.9h0.8v0.8h-0.8zM289.3,320.8h0.8v0.8h-0.8zM287.8,316.3h0.8v0.8h-0.8zM287.5,281.4h0.8v0.8h-0.8zM288.1,292.7h0.8v0.8h-0.8zM287.9,307.8h0.8v0.8h-0.8zM289.0,317.8h0.8v0.8h-0.8zM289.0,301.0h0.8v0.8h-0.8zM289.3,304.3h0.8v0.8h-0.8zM287.4,325.1h0.8v0.8h-0.8zM288.3,281.7h0.8v0.8h-0.8zM290.2,294.7h0.8v0.8h-0.8zM289.8,295.9h0.8v0.8h-0.8zM287.7,333.1h0.8v0.8h-0.8zM288.5,292.6h0.8v0.8h-0.8zM289.4,283.0h0.8v0.8h-0.8zM287.6,302.6h0.8v0.8h-0.8zM288.7,314.9h0.8v0.8h-0.8zM288.2,288.6h0.8v0.8h-0.8zM289.4,325.0h0.8v0.8h-0.8zM289.2,290.9h0.8v0.8h-0.8zM288.4,317.8h0.8v0.8h-0.8zM287.0,289.1h0.8v0.8h-0.8zM288.9,327.2h0.8v0.8h-0.8zM287.6,291.2h0.8v0.8h-0.8zM287.1,319.3h0.8v0.8h-0.8zM287.3,325.0h0.8v0.8h-0.8zM287.7,294.0h0.8v0.8h-0.8zM288.5,285.4h0.8v0.8h-0.8zM288.4,311.6h0.8v0.8h-0.8zM289.2,306.9h0.8v0.8h-0.8zM290.0,305.9h0.8v0.8h-0.8zM287.4,321.9h0.8v0.8h-0.8zM288.4,305.0h0.8v0.8h-0.8zM286.9,306.8h0.8v0.8h-0.8zM288.3,306.3h0.8v0.8h-0.8zM287.3,304.6h0.8v0.8h-0.8zM289.2,302.0h0.8v0.8h-0.8zM289.1,289.0h0.8v0.8h-0.8zM290.2,296.2h0.8v0.8h-0.8zM288.9,294.5h0.8v0.8h-0.8zM289.0,293.7h0.8v0.8h-0.8zM289.2,322.0h0.8v0.8h-0.8zM287.5,286.5h0.8v0.8h-0.8zM287.8,291.4h0.8v0.8h-0.8zM289.5,308.4h0.8v0.8h-0.8zM288.9,297.1h0.8v0.8h-0.8zM287.5,293.2h0.8v0.8h-0.8zM289.0,300.3h0.8v0.8h-0.8zM289.5,307.1h0.8v0.8h-0.8zM288.2,316.2h0.8v0.8h-0.8zM289.8,332.0h0.8v0.8h-0.8zM289.9,325.7h0.8v0.8h-0.8zM289.6,303.3h0.8v0.8h-0.8zM289.1,304.4h0.8v0.8h-0.8zM289.5,302.5h0.8v0.8h-0.8zM287.1,293.2h0.8v0.8h-0.8zM287.2,327.9h0.8v0.8h-0.8zM289.0,296.3h0.8v0.8h-0.8zM289.2,318.1h0.8v0.8h-0.8zM282.4,317.4h0.8v0.8h-0.8zM289.2,302.4h0.8v0.8h-0.8zM284.0,297.7h0.8v0.8h-0.8zM286.8,329.2h0.8v0.8h-0.8zM289.5,289.8h0.8v0.8h-0.8zM286.0,299.4h0.8v0.8h-0.8zM285.8,302.7h0.8v0.8h-0.8zM280.7,314.3h0.8v0.8h-0.8zM286.0,304.6h0.8v0.8h-0.8zM282.4,293.0h0.8v0.8h-0.8zM283.9,313.7h0.8v0.8h-0.8zM283.8,320.6h0.8v0.8h-0.8zM289.7,319.7h0.8v0.8h-0.8zM286.4,310.0h0.8v0.8h-0.8zM287.2,301.8h0.8v0.8h-0.8zM281.7,288.5h0.8v0.8h-0.8zM283.0,312.0h0.8v0.8h-0.8zM288.8,316.3h0.8v0.8h-0.8zM281.2,307.9h0.8v0.8h-0.8zM289.5,331.2h0.8v0.8h-0.8zM284.3,297.1h0.8v0.8h-0.8zM283.9,324.6h0.8v0.8h-0.8z" fill="#444" fill-opacity="0.75"/>
<path d="M301.3,282.8h0.8v0.8h-0.8zM299.3,283.9h0.8v0.8h-0.8zM299.5,280.5h0.8v0.8h-0.8zM299.6,285.2h0.8v0.8h-0.8zM305.4,277.0h0.8v0.8h-0.8zM292.5,284.0h0.8v0.8h-0.8zM293.6,286.9h0.8v0.8h-0.8zM297.8,283.0h0.8v0.8h-0.8zM290.5,290.7h0.8v0.8h-0.8zM298.5,284.1h0.8v0.8h-0.8zM300.2,282.1h0.8v0.8h-0.8zM305.4,278.6h0.8v0.8h-0.8zM290.5,289.2h0.8v0.8h-0.8zM297.7,285.5h0.8v0.8h-0.8zM309.5,274.4h0.8v0.8h-0.8zM295.5,282.1h0.8v0.8h-0.8zM303.9,277.3h0.8v0.8h-0.8zM305.1,275.6h0.8v0.8h-0.8z" fill="#999" fill-opacity="0.6"/>
<path d="M385.1,304.5h0.8v0.8h-0.8zM384.7,328.5h0.8v0.8h-0.8zM383.8,310.8h0.8v0.8h-0.8zM383.6,303.9h0.8v0.8h-0.8zM383.0,332.3h0.8v0.8h-0.8zM382.6,300.2h0.8v0.8h-0.8zM385.7,319.4h0.8v0.8h-0.8zM385.2,294.0h0.8v0.8h-0.8zM384.2,321.0h0.8v0.8h-0.8zM385.8,320.7h0.8v0.8h-0.8zM383.6,324.6h0.8v0.8h-0.8zM386.7,307.0h0.8v0.8h-0.8zM385.7,293.4h0.8v0.8h-0.8zM384.3,314.5h0.8v0.8h-0.8zM384.7,328.9h0.8v0.8h-0.8zM385.5,298.0h0.8v0.8h-0.8zM384.6,283.0h0.8v0.8h-0.8zM385.0,291.5h0.8v0.8h-0.8zM386.1,330.0h0.8v0.8h-0.8zM386.5,282.3h0.8v0.8h-0.8zM384.0,284.8h0.8v0.8h-0.8zM384.9,287.1h0.8v0.8h-0.8zM386.6,327.9h0.8v0.8h-0.8zM383.5,301.7h0.8v0.8h-0.8zM383.4,317.6h0.8v0.8h-0.8zM383.6,318.4h0.8v0.8h-0.8zM384.2,304.4h0.8v0.8h-0.8zM386.6,319.7h0.8v0.8h-0.8zM385.2,305.8h0.8v0.8h-0.8zM386.5,309.9h0.8v0.8h-0.8zM384.4,297.8h0.8v0.8h-0.8zM386.2,282.1h0.8v0.8h-0.8zM384.2,312.6h0.8v0.8h-0.8zM386.2,295.7h0.8v0.8h-0.8zM384.8,296.2h0.8v0.8h-0.8zM384.7,327.3h0.8v0.8h-0.8zM385.2,300.6h0.8v0.8h-0.8zM385.2,287.3h0.8v0.8h-0.8zM382.5,314.5h0.8v0.8h-0.8zM385.9,309.7h0.8v0.8h-0.8zM385.0,285.0h0.8v0.8h-0.8zM383.1,300.0h0.8v0.8h-0.8zM384.7,313.5h0.8v0.8h-0.8zM382.1,296.4h0.8v0.8h-0.8zM383.0,332.8h0.8v0.8h-0.8zM387.3,323.1h0.8v0.8h-0.8zM385.0,308.0h0.8v0.8h-0.8zM385.9,329.1h0.8v0.8h-0.8zM384.7,283.8h0.8v0.8h-0.8zM385.4,293.6h0.8v0.8h-0.8zM385.8,329.1h0.8v0.8h-0.8zM386.7,308.2h0.8v0.8h-0.8zM384.6,290.8h0.8v0.8h-0.8zM384.2,311.4h0.8v0.8h-0.8zM383.6,319.6h0.8v0.8h-0.8zM387.0,313.1h0.8v0.8h-0.8zM386.9,284.4h0.8v0.8h-0.8zM384.1,283.9h0.8v0.8h-0.8zM385.7,303.0h0.8v0.8h-0.8zM384.6,282.8h0.8v0.8h-0.8zM385.0,286.3h0.8v0.8h-0.8zM385.4,315.1h0.8v0.8h-0.8zM383.2,304.6h0.8v0.8h-0.8zM386.0,286.4h0.8v0.8h-0.8zM384.3,327.1h0.8v0.8h-0.8zM385.7,301.0h0.8v0.8h-0.8zM382.3,327.5h0.8v0.8h-0.8zM386.7,313.4h0.8v0.8h-0.8zM385.1,314.0h0.8v0.8h-0.8zM386.8,303.8h0.8v0.8h-0.8zM385.3,316.6h0.8v0.8h-0.8zM383.7,294.5h0.8v0.8h-0.8zM385.0,295.3h0.8v0.8h-0.8zM382.5,327.1h0.8v0.8h-0.8zM383.9,292.5h0.8v0.8h-0.8zM386.0,301.9h0.8v0.8h-0.8zM384.4,320.4h0.8v0.8h-0.8zM385.5,299.0h0.8v0.8h-0.8zM382.5,300.8h0.8v0.8h-0.8zM385.8,328.8h0.8v0.8h-0.8zM384.7,292.6h0.8v0.8h-0.8zM385.6,294.4h0.8v0.8h-0.8zM386.1,327.7h0.8v0.8h-0.8zM384.8,296.2h0.8v0.8h-0.8zM384.9,299.0h0.8v0.8h-0.8zM387.0,327.4h0.8v0.8h-0.8zM384.7,298.5h0.8v0.8h-0.8zM383.8,333.3h0.8v0.8h-0.8zM384.3,324.3h0.8v0.8h-0.8zM383.3,325.6h0.8v0.8h-0.8zM383.5,293.6h0.8v0.8h-0.8zM385.3,293.2h0.8v0.8h-0.8zM385.6,320.8h0.8v0.8h-0.8zM387.0,324.6h0.8v0.8h-0.8zM386.2,293.6h0.8v0.8h-0.8zM383.6,292.6h0.8v0.8h-0.8zM385.4,294.5h0.8v0.8h-0.8zM385.5,289.1h0.8v0.8h-0.8zM382.2,303.7h0.8v0.8h-0.8zM385.5,307.9h0.8v0.8h-0.8zM386.8,314.4h0.8v0.8h-0.8zM384.1,284.9h0.8v0.8h-0.8zM387.0,291.9h0.8v0.8h-0.8zM385.3,288.0h0.8v0.8h-0.8zM383.6,295.9h0.8v0.8h-0.8zM386.3,291.6h0.8v0.8h-0.8zM387.3,330.2h0.8v0.8h-0.8zM384.3,301.2h0.8v0.8h-0.8zM386.3,289.2h0.8v0.8h-0.8zM387.0,316.3h0.8v0.8h-0.8zM385.5,332.1h0.8v0.8h-0.8zM383.5,322.9h0.8v0.8h-0.8zM385.1,315.4h0.8v0.8h-0.8zM383.7,301.5h0.8v0.8h-0.8zM386.5,302.8h0.8v0.8h-0.8zM384.3,297.6h0.8v0.8h-0.8zM385.3,323.5h0.8v0.8h-0.8zM385.5,323.4h0.8v0.8h-0.8zM384.9,307.2h0.8v0.8h-0.8zM383.6,326.4h0.8v0.8h-0.8zM384.9,315.6h0.8v0.8h-0.8zM386.6,317.3h0.8v0.8h-0.8zM384.2,295.8h0.8v0.8h-0.8zM386.0,294.4h0.8v0.8h-0.8zM382.4,293.7h0.8v0.8h-0.8zM385.9,329.0h0.8v0.8h-0.8zM383.8,323.2h0.8v0.8h-0.8zM385.6,328.3h0.8v0.8h-0.8zM385.2,324.4h0.8v0.8h-0.8zM385.1,323.5h0.8v0.8h-0.8zM386.2,304.5h0.8v0.8h-0.8zM385.7,321.4h0.8v0.8h-0.8zM385.6,290.6h0.8v0.8h-0.8zM386.6,315.8h0.8v0.8h-0.8zM383.9,284.2h0.8v0.8h-0.8zM386.1,331.7h0.8v0.8h-0.8zM385.1,327.3h0.8v0.8h-0.8zM382.6,290.5h0.8v0.8h-0.8zM384.6,321.6h0.8v0.8h-0.8zM386.4,324.4h0.8v0.8h-0.8zM387.2,284.2h0.8v0.8h-0.8zM386.8,311.2h0.8v0.8h-0.8zM382.9,303.6h0.8v0.8h-0.8zM383.7,313.9h0.8v0.8h-0.8zM384.7,327.6h0.8v0.8h-0.8zM386.8,319.2h0.8v0.8h-0.8zM384.9,292.9h0.8v0.8h-0.8zM385.4,310.6h0.8v0.8h-0.8zM385.6,310.9h0.8v0.8h-0.8zM386.0,282.6h0.8v0.8h-0.8zM383.7,288.8h0.8v0.8h-0.8zM384.1,300.5h0.8v0.8h-0.8zM386.4,291.2h0.8v0.8h-0.8zM385.8,294.2h0.8v0.8h-0.8zM385.0,316.8h0.8v0.8h-0.8zM385.2,331.5h0.8v0.8h-0.8zM386.9,305.6h0.8v0.8h-0.8zM385.4,315.3h0.8v0.8h-0.8zM384.8,321.2h0.8v0.8h-0.8zM386.8,316.7h0.8v0.8h-0.8zM383.2,315.8h0.8v0.8h-0.8zM385.0,282.1h0.8v0.8h-0.8zM386.5,326.8h0.8v0.8h-0.8zM383.6,290.3h0.8v0.8h-0.8zM386.2,291.3h0.8v0.8h-0.8zM383.6,308.3h0.8v0.8h-0.8zM385.8,312.2h0.8v0.8h-0.8zM383.1,320.9h0.8v0.8h-0.8zM384.7,297.1h0.8v0.8h-0.8zM385.4,330.7h0.8v0.8h-0.8zM382.9,314.4h0.8v0.8h-0.8zM382.7,325.5h0.8v0.8h-0.8zM386.1,306.6h0.8v0.8h-0.8zM385.6,285.7h0.8v0.8h-0.8zM384.0,282.6h0.8v0.8h-0.8zM384.1,315.0h0.8v0.8h-0.8zM385.7,303.9h0.8v0.8h-0.8zM383.7,304.7h0.8v0.8h-0.8zM385.8,298.8h0.8v0.8h-0.8zM384.3,291.2h0.8v0.8h-0.8zM383.0,306.4h0.8v0.8h-0.8zM385.6,295.1h0.8v0.8h-0.8zM385.9,328.0h0.8v0.8h-0.8zM382.8,291.2h0.8v0.8h-0.8zM383.6,331.8h0.8v0.8h-0.8zM385.2,326.3h0.8v0.8h-0.8zM385.1,301.8h0.8v0.8h-0.8zM384.8,321.8h0.8v0.8h-0.8zM386.1,311.9h0.8v0.8h-0.8zM384.8,306.0h0.8v0.8h-0.8zM385.1,323.8h0.8v0.8h-0.8zM384.4,324.8h0.8v0.8h-0.8zM382.9,292.4h0.8v0.8h-0.8zM385.4,328.7h0.8v0.8h-0.8zM384.6,283.7h0.8v0.8h-0.8zM385.5,282.3h0.8v0.8h-0.8zM385.0,306.9h0.8v0.8h-0.8zM383.5,297.5h0.8v0.8h-0.8zM386.8,303.8h0.8v0.8h-0.8zM384.0,306.7h0.8v0.8h-0.8zM384.2,306.1h0.8v0.8h-0.8zM384.7,328.8h0.8v0.8h-0.8zM383.7,329.3h0.8v0.8h-0.8zM384.5,299.8h0.8v0.8h-0.8zM386.8,296.8h0.8v0.8h-0.8zM384.7,315.7h0.8v0.8h-0.8zM385.9,292.2h0.8v0.8h-0.8zM383.7,302.6h0.8v0.8h-0.8zM382.3,319.0h0.8v0.8h-0.8zM386.8,282.3h0.8v0.8h-0.8zM383.3,321.7h0.8v0.8h-0.8zM386.8,319.8h0.8v0.8h-0.8zM384.0,301.9h0.8v0.8h-0.8zM385.7,294.8h0.8v0.8h-0.8zM386.7,309.8h0.8v0.8h-0.8zM384.2,297.2h0.8v0.8h-0.8zM385.4,324.3h0.8v0.8h-0.8zM383.7,312.4h0.8v0.8h-0.8zM383.3,297.8h0.8v0.8h-0.8zM385.6,323.6h0.8v0.8h-0.8zM386.9,313.3h0.8v0.8h-0.8zM384.9,288.8h0.8v0.8h-0.8zM386.3,303.3h0.8v0.8h-0.8zM385.6,307.2h0.8v0.8h-0.8zM386.1,330.7h0.8v0.8h-0.8zM382.8,298.5h0.8v0.8h-0.8zM387.2,305.1h0.8v0.8h-0.8zM384.7,332.3h0.8v0.8h-0.8zM386.9,303.9h0.8v0.8h-0.8zM386.6,324.6h0.8v0.8h-0.8zM385.6,287.0h0.8v0.8h-0.8zM385.4,302.3h0.8v0.8h-0.8zM386.3,291.5h0.8v0.8h-0.8zM384.8,327.5h0.8v0.8h-0.8zM386.0,310.5h0.8v0.8h-0.8zM383.7,293.3h0.8v0.8h-0.8zM384.0,286.7h0.8v0.8h-0.8zM385.9,303.7h0.8v0.8h-0.8zM384.4,287.0h0.8v0.8h-0.8zM383.1,307.0h0.8v0.8h-0.8z" fill="#444" fill-opacity="0.75"/>
<path d="M397.4,287.3h0.8v0.8h-0.8zM393.2,287.4h0.8v0.8h-0.8zM393.3,287.9h0.8v0.8h-0.8zM395.3,286.2h0.8v0.8h-0.8z" fill="#999" fill-opacity="0.6"/>
<path d="M289.0,381.3h0.8v0.8h-0.8zM291.0,424.3h0.8v0.8h-0.8zM285.6,382.3h0.8v0.8h-0.8zM290.9,376.4h0.8v0.8h-0.8zM291.4,397.8h0.8v0.8h-0.8zM290.3,416.0h0.8v0.8h-0.8zM288.3,391.3h0.8v0.8h-0.8zM291.5,419.2h0.8v0.8h-0.8zM290.2,391.0h0.8v0.8h-0.8zM289.1,417.3h0.8v0.8h-0.8zM291.6,377.3h0.8v0.8h-0.8zM288.5,385.0h0.8v0.8h-0.8zM289.9,377.7h0.8v0.8h-0.8zM290.0,412.2h0.8v0.8h-0.8zM285.1,395.1h0.8v0.8h-0.8zM289.4,406.6h0.8v0.8h-0.8zM291.7,382.8h0.8v0.8h-0.8zM287.9,411.8h0.8v0.8h-0.8zM289.2,430.0h0.8v0.8h-0.8zM291.1,376.1h0.8v0.8h-0.8zM290.8,386.8h0.8v0.8h-0.8zM288.0,421.1h0.8v0.8h-0.8zM291.7,419.9h0.8v0.8h-0.8zM289.4,421.3h0.8v0.8h-0.8zM291.0,382.2h0.8v0.8h-0.8zM289.0,400.8h0.8v0.8h-0.8zM288.7,376.3h0.8v0.8h-0.8zM291.5,392.9h0.8v0.8h-0.8zM290.4,401.6h0.8v0.8h-0.8zM290.1,383.7h0.8v0.8h-0.8zM290.5,392.4h0.8v0.8h-0.8zM289.7,389.3h0.8v0.8h-0.8zM287.3,376.3h0.8v0.8h-0.8zM288.5,375.7h0.8v0.8h-0.8zM287.2,415.0h0.8v0.8h-0.8zM291.8,374.0h0.8v0.8h-0.8zM290.3,429.5h0.8v0.8h-0.8zM291.4,423.1h0.8v0.8h-0.8zM291.2,429.6h0.8v0.8h-0.8zM291.0,415.3h0.8v0.8h-0.8zM291.8,374.0h0.8v0.8h-0.8zM290.5,377.4h0.8v0.8h-0.8zM290.1,386.8h0.8v0.8h-0.8zM287.7,380.1h0.8v0.8h-0.8zM290.1,375.5h0.8v0.8h-0.8zM291.4,424.5h0.8v0.8h-0.8zM289.5,424.0h0.8v0.8h-0.8zM289.5,414.0h0.8v0.8h-0.8zM291.2,383.5h0.8v0.8h-0.8zM290.9,419.9h0.8v0.8h-0.8zM289.6,417.6h0.8v0.8h-0.8zM288.1,387.0h0.8v0.8h-0.8zM291.6,377.9h0.8v0.8h-0.8zM291.6,378.2h0.8v0.8h-0.8zM285.2,391.7h0.8v0.8h-0.8zM289.7,418.5h0.8v0.8h-0.8zM289.8,376.0h0.8v0.8h-0.8zM291.0,392.8h0.8v0.8h-0.8zM291.5,388.7h0.8v0.8h-0.8zM284.6,422.7h0.8v0.8h-0.8zM291.6,378.9h0.8v0.8h-0.8zM288.7,406.6h0.8v0.8h-0.8zM290.5,387.0h0.8v0.8h-0.8zM290.8,406.0h0.8v0.8h-0.8zM291.2,417.8h0.8v0.8h-0.8zM290.4,418.0h0.8v0.8h-0.8zM288.2,419.4h0.8v0.8h-0.8zM290.4,385.4h0.8v0.8h-0.8zM290.1,384.6h0.8v0.8h-0.8zM290.9,377.7h0.8v0.8h-0.8zM291.1,383.6h0.8v0.8h-0.8zM288.7,377.6h0.8v0.8h-0.8zM285.3,415.2h0.8v0.8h-0.8zM291.8,375.1h0.8v0.8h-0.8zM289.7,380.6h0.8v0.8h-0.8zM291.5,415.6h0.8v0.8h-0.8zM289.7,414.1h0.8v0.8h-0.8zM291.3,428.6h0.8v0.8h-0.8zM291.7,390.3h0.8v0.8h-0.8zM289.9,375.0h0.8v0.8h-0.8zM291.2,416.8h0.8v0.8h-0.8zM287.3,385.1h0.8v0.8h-0.8zM291.4,414.4h0.8v0.8h-0.8zM283.9,374.3h0.8v0.8h-0.8zM288.0,374.7h0.8v0.8h-0.8zM291.6,403.0h0.8v0.8h-0.8zM290.5,408.5h0.8v0.8h-0.8zM290.1,400.7h0.8v0.8h-0.8zM291.2,398.9h0.8v0.8h-0.8zM290.8,402.9h0.8v0.8h-0.8zM289.7,378.0h0.8v0.8h-0.8zM283.5,375.6h0.8v0.8h-0.8zM289.8,388.4h0.8v0.8h-0.8zM285.9,399.8h0.8v0.8h-0.8zM290.4,383.3h0.8v0.8h-0.8zM291.5,380.0h0.8v0.8h-0.8zM290.4,393.8h0.8v0.8h-0.8zM289.6,391.7h0.8v0.8h-0.8zM282.5,384.2h0.8v0.8h-0.8zM289.7,425.2h0.8v0.8h-0.8zM289.4,426.3h0.8v0.8h-0.8zM288.9,375.1h0.8v0.8h-0.8zM291.2,395.8h0.8v0.8h-0.8zM290.6,382.7h0.8v0.8h-0.8zM291.2,387.7h0.8v0.8h-0.8zM289.2,374.6h0.8v0.8h-0.8zM284.4,376.1h0.8v0.8h-0.8zM289.0,374.7h0.8v0.8h-0.8zM290.9,377.8h0.8v0.8h-0.8zM286.9,406.2h0.8v0.8h-0.8zM287.9,376.1h0.8v0.8h-0.8zM284.6,422.3h0.8v0.8h-0.8zM290.2,416.5h0.8v0.8h-0.8zM288.9,384.3h0.8v0.8h-0.8zM290.9,409.0h0.8v0.8h-0.8zM290.2,427.0h0.8v0.8h-0.8zM291.5,377.4h0.8v0.8h-0.8zM291.3,400.6h0.8v0.8h-0.8zM291.6,394.9h0.8v0.8h-0.8zM291.8,386.3h0.8v0.8h-0.8zM291.7,385.2h0.8v0.8h-0.8zM289.3,376.3h0.8v0.8h-0.8zM290.9,406.1h0.8v0.8h-0.8zM290.2,380.9h0.8v0.8h-0.8zM291.2,392.4h0.8v0.8h-0.8zM290.1,425.3h0.8v0.8h-0.8zM287.7,388.3h0.8v0.8h-0.8zM290.2,386.6h0.8v0.8h-0.8zM291.6,425.6h0.8v0.8h-0.8zM289.3,402.1h0.8v0.8h-0.8zM289.5,401.2h0.8v0.8h-0.8zM291.3,382.0h0.8v0.8h-0.8zM287.5,405.7h0.8v0.8h-0.8zM286.9,390.0h0.8v0.8h-0.8zM291.4,399.6h0.8v0.8h-0.8zM284.4,391.0h0.8v0.8h-0.8zM291.1,376.2h0.8v0.8h-0.8zM290.0,421.7h0.8v0.8h-0.8zM289.3,409.0h0.8v0.8h-0.8zM288.1,427.5h0.8v0.8h-0.8zM291.4,386.1h0.8v0.8h-0.8zM290.5,384.9h0.8v0.8h-0.8zM288.4,378.2h0.8v0.8h-0.8zM288.9,386.1h0.8v0.8h-0.8zM290.2,387.1h0.8v0.8h-0.8zM290.5,380.3h0.8v0.8h-0.8zM290.9,384.0h0.8v0.8h-0.8zM291.4,385.5h0.8v0.8h-0.8zM291.7,420.3h0.8v0.8h-0.8zM288.6,393.8h0.8v0.8h-0.8zM289.9,417.6h0.8v0.8h-0.8zM288.7,375.1h0.8v0.8h-0.8zM287.0,380.5h0.8v0.8h-0.8zM291.4,427.1h0.8v0.8h-0.8zM291.1,375.2h0.8v0.8h-0.8zM289.4,375.8h0.8v0.8h-0.8zM290.4,398.0h0.8v0.8h-0.8zM288.8,385.3h0.8v0.8h-0.8zM291.5,380.7h0.8v0.8h-0.8zM290.9,403.6h0.8v0.8h-0.8zM291.3,403.7h0.8v0.8h-0.8zM291.5,380.4h0.8v0.8h-0.8zM289.3,399.3h0.8v0.8h-0.8zM291.5,394.3h0.8v0.8h-0.8zM290.0,419.5h0.8v0.8h-0.8zM286.8,375.7h0.8v0.8h-0.8zM284.6,382.5h0.8v0.8h-0.8zM290.5,400.9h0.8v0.8h-0.8zM288.9,374.7h0.8v0.8h-0.8zM289.2,419.4h0.8v0.8h-0.8zM291.6,428.2h0.8v0.8h-0.8zM291.0,387.3h0.8v0.8h-0.8zM291.2,414.5h0.8v0.8h-0.8zM284.6,383.3h0.8v0.8h-0.8zM290.9,426.7h0.8v0.8h-0.8zM291.7,381.5h0.8v0.8h-0.8zM289.3,374.1h0.8v0.8h-0.8zM285.8,375.7h0.8v0.8h-0.8zM283.1,394.5h0.8v0.8h-0.8zM282.0,374.8h0.8v0.8h-0.8zM287.0,429.1h0.8v0.8h-0.8zM288.2,405.1h0.8v0.8h-0.8zM288.8,401.1h0.8v0.8h-0.8zM289.7,404.7h0.8v0.8h-0.8zM291.1,392.2h0.8v0.8h-0.8zM291.3,422.3h0.8v0.8h-0.8zM291.6,410.4h0.8v0.8h-0.8zM288.1,392.9h0.8v0.8h-0.8zM284.3,385.0h0.8v0.8h-0.8zM290.8,378.6h0.8v0.8h-0.8zM290.5,386.6h0.8v0.8h-0.8zM288.5,388.6h0.8v0.8h-0.8zM291.6,376.1h0.8v0.8h-0.8zM291.0,425.1h0.8v0.8h-0.8zM289.7,383.7h0.8v0.8h-0.8zM285.3,399.4h0.8v0.8h-0.8zM291.7,375.7h0.8v0.8h-0.8zM291.2,400.1h0.8v0.8h-0.8zM291.5,406.0h0.8v0.8h-0.8zM287.1,376.1h0.8v0.8h-0.8zM289.2,428.7h0.8v0.8h-0.8zM286.8,379.4h0.8v0.8h-0.8zM288.2,383.9h0.8v0.8h-0.8zM288.4,412.0h0.8v0.8h-0.8zM286.8,387.7h0.8v0.8h-0.8zM291.5,421.6h0.8v0.8h-0.8zM290.7,382.8h0.8v0.8h-0.8zM283.6,386.5h0.8v0.8h-0.8zM291.6,409.0h0.8v0.8h-0.8zM289.6,420.4h0.8v0.8h-0.8zM291.5,422.1h0.8v0.8h-0.8zM291.3,385.2h0.8v0.8h-0.8zM290.8,398.8h0.8v0.8h-0.8zM288.1,391.8h0.8v0.8h-0.8zM288.1,408.0h0.8v0.8h-0.8zM290.7,382.2h0.8v0.8h-0.8zM287.0,419.0h0.8v0.8h-0.8zM288.4,410.4h0.8v0.8h-0.8zM284.5,379.9h0.8v0.8h-0.8zM287.7,386.5h0.8v0.8h-0.8zM290.4,387.7h0.8v0.8h-0.8zM286.4,425.4h0.8v0.8h-0.8zM290.3,394.4h0.8v0.8h-0.8zM287.9,404.1h0.8v0.8h-0.8zM290.0,425.5h0.8v0.8h-0.8zM286.9,391.0h0.8v0.8h-0.8zM290.4,426.6h0.8v0.8h-0.8zM291.6,385.4h0.8v0.8h-0.8zM283.9,374.2h0.8v0.8h-0.8zM288.7,376.9h0.8v0.8h-0.8zM290.0,409.0h0.8v0.8h-0.8zM291.7,390.1h0.8v0.8h-0.8zM284.4,418.6h0.8v0.8h-0.8zM288.7,398.9h0.8v0.8h-0.8zM285.7,408.6h0.8v0.8h-0.8zM291.1,388.6h0.8v0.8h-0.8zM286.3,402.3h0.8v0.8h-0.8zM288.3,409.4h0.8v0.8h-0.8zM283.1,389.9h0.8v0.8h-0.8zM291.5,396.4h0.8v0.8h-0.8zM289.2,419.3h0.8v0.8h-0.8zM286.4,425.4h0.8v0.8h-0.8zM289.8,388.5h0.8v0.8h-0.8zM287.5,375.7h0.8v0.8h-0.8zM291.4,419.2h0.8v0.8h-0.8zM291.8,393.9h0.8v0.8h-0.8zM291.2,428.3h0.8v0.8h-0.8zM291.5,413.7h0.8v0.8h-0.8zM290.3,389.4h0.8v0.8h-0.8zM288.1,419.8h0.8v0.8h-0.8zM286.8,399.8h0.8v0.8h-0.8zM291.0,410.4h0.8v0.8h-0.8zM290.2,422.2h0.8v0.8h-0.8zM291.6,401.8h0.8v0.8h-0.8zM287.7,426.7h0.8v0.8h-0.8zM283.7,391.1h0.8v0.8h-0.8zM290.1,390.0h0.8v0.8h-0.8zM287.0,405.6h0.8v0.8h-0.8zM291.7,391.4h0.8v0.8h-0.8zM284.4,410.0h0.8v0.8h-0.8zM291.1,398.8h0.8v0.8h-0.8zM289.3,412.4h0.8v0.8h-0.8zM288.0,418.1h0.8v0.8h-0.8zM291.4,401.0h0.8v0.8h-0.8zM289.5,424.3h0.8v0.8h-0.8zM291.0,415.0h0.8v0.8h-0.8zM291.7,420.2h0.8v0.8h-0.8zM288.8,374.3h0.8v0.8h-0.8zM288.3,374.2h0.8v0.8h-0.8zM290.7,405.3h0.8v0.8h-0.8zM290.5,387.5h0.8v0.8h-0.8zM291.1,421.4h0.8v0.8h-0.8zM291.7,390.7h0.8v0.8h-0.8zM289.5,412.5h0.8v0.8h-0.8zM290.5,383.1h0.8v0.8h-0.8zM291.8,405.0h0.8v0.8h-0.8zM290.8,423.3h0.8v0.8h-0.8zM291.6,420.6h0.8v0.8h-0.8zM289.6,389.3h0.8v0.8h-0.8zM290.8,395.9h0.8v0.8h-0.8zM289.8,399.1h0.8v0.8h-0.8zM290.8,388.1h0.8v0.8h-0.8zM291.0,396.0h0.8v0.8h-0.8zM291.8,427.9h0.8v0.8h-0.8zM290.9,421.8h0.8v0.8h-0.8zM289.3,386.6h0.8v0.8h-0.8zM291.7,408.5h0.8v0.8h-0.8zM290.0,426.7h0.8v0.8h-0.8zM288.0,389.1h0.8v0.8h-0.8zM290.4,419.6h0.8v0.8h-0.8zM290.6,416.1h0.8v0.8h-0.8zM290.6,422.3h0.8v0.8h-0.8zM288.8,376.3h0.8v0.8h-0.8zM289.5,424.9h0.8v0.8h-0.8zM289.8,429.1h0.8v0.8h-0.8zM287.5,382.9h0.8v0.8h-0.8zM291.1,405.2h0.8v0.8h-0.8zM290.3,376.5h0.8v0.8h-0.8zM290.1,403.2h0.8v0.8h-0.8zM287.0,410.1h0.8v0.8h-0.8zM291.1,412.6h0.8v0.8h-0.8zM288.3,420.2h0.8v0.8h-0.8zM291.7,385.5h0.8v0.8h-0.8zM291.2,377.4h0.8v0.8h-0.8zM286.8,417.4h0.8v0.8h-0.8zM285.0,374.5h0.8v0.8h-0.8zM291.5,382.5h0.8v0.8h-0.8zM289.3,382.7h0.8v0.8h-0.8zM289.2,414.6h0.8v0.8h-0.8zM291.5,393.6h0.8v0.8h-0.8zM291.4,418.9h0.8v0.8h-0.8zM289.0,407.4h0.8v0.8h-0.8zM291.6,419.2h0.8v0.8h-0.8zM289.8,415.3h0.8v0.8h-0.8zM291.8,421.9h0.8v0.8h-0.8zM290.0,384.6h0.8v0.8h-0.8zM290.8,388.7h0.8v0.8h-0.8zM291.7,404.9h0.8v0.8h-0.8zM283.5,402.0h0.8v0.8h-0.8zM290.3,414.8h0.8v0.8h-0.8zM290.0,416.9h0.8v0.8h-0.8zM290.8,386.1h0.8v0.8h-0.8zM287.9,377.6h0.8v0.8h-0.8zM288.6,412.3h0.8v0.8h-0.8zM289.4,408.7h0.8v0.8h-0.8zM288.3,384.6h0.8v0.8h-0.8zM290.9,375.4h0.8v0.8h-0.8zM291.8,374.4h0.8v0.8h-0.8zM287.7,383.2h0.8v0.8h-0.8zM286.8,384.5h0.8v0.8h-0.8zM287.6,381.3h0.8v0.8h-0.8zM288.6,375.2h0.8v0.8h-0.8zM291.4,379.7h0.8v0.8h-0.8zM289.1,388.4h0.8v0.8h-0.8zM290.6,376.6h0.8v0.8h-0.8zM291.7,381.3h0.8v0.8h-0.8zM291.7,393.3h0.8v0.8h-0.8zM289.6,419.6h0.8v0.8h-0.8zM290.0,421.3h0.8v0.8h-0.8zM290.7,391.5h0.8v0.8h-0.8zM288.7,377.8h0.8v0.8h-0.8zM287.0,384.3h0.8v0.8h-0.8zM288.3,407.9h0.8v0.8h-0.8zM291.1,391.6h0.8v0.8h-0.8zM287.2,401.2h0.8v0.8h-0.8zM289.5,412.0h0.8v0.8h-0.8zM289.1,406.8h0.8v0.8h-0.8zM291.6,420.4h0.8v0.8h-0.8zM290.6,376.3h0.8v0.8h-0.8zM291.0,385.7h0.8v0.8h-0.8zM290.1,374.7h0.8v0.8h-0.8zM288.0,398.2h0.8v0.8h-0.8zM289.4,404.0h0.8v0.8h-0.8zM282.5,383.5h0.8v0.8h-0.8zM282.1,375.3h0.8v0.8h-0.8zM289.2,394.8h0.8v0.8h-0.8zM289.9,379.5h0.8v0.8h-0.8zM288.8,380.7h0.8v0.8h-0.8zM282.9,390.1h0.8v0.8h-0.8zM291.1,426.5h0.8v0.8h-0.8zM291.1,389.0h0.8v0.8h-0.8zM290.6,410.1h0.8v0.8h-0.8zM283.8,389.6h0.8v0.8h-0.8zM288.2,391.5h0.8v0.8h-0.8zM287.1,378.4h0.8v0.8h-0.8zM291.4,380.3h0.8v0.8h-0.8zM289.4,414.3h0.8v0.8h-0.8zM291.6,392.8h0.8v0.8h-0.8zM286.1,385.1h0.8v0.8h-0.8zM291.7,429.6h0.8v0.8h-0.8zM287.0,421.7h0.8v0.8h-0.8zM291.6,384.0h0.8v0.8h-0.8zM291.8,393.1h0.8v0.8h-0.8zM289.1,401.0h0.8v0.8h-0.8zM291.6,379.5h0.8v0.8h-0.8zM288.3,392.7h0.8v0.8h-0.8zM291.7,385.0h0.8v0.8h-0.8zM287.7,417.0h0.8v0.8h-0.8zM289.9,376.6h0.8v0.8h-0.8zM289.8,429.9h0.8v0.8h-0.8zM291.8,382.6h0.8v0.8h-0.8zM291.6,387.4h0.8v0.8h-0.8zM291.4,376.0h0.8v0.8h-0.8zM291.0,424.2h0.8v0.8h-0.8zM290.6,418.2h0.8v0.8h-0.8zM282.1,375.7h0.8v0.8h-0.8zM288.9,398.6h0.8v0.8h-0.8zM287.9,390.6h0.8v0.8h-0.8zM290.2,403.5h0.8v0.8h-0.8zM291.0,387.7h0.8v0.8h-0.8zM286.8,427.3h0.8v0.8h-0.8zM285.9,381.8h0.8v0.8h-0.8zM290.4,417.7h0.8v0.8h-0.8zM289.5,384.2h0.8v0.8h-0.8zM285.2,406.2h0.8v0.8h-0.8zM291.1,392.7h0.8v0.8h-0.8zM291.4,398.5h0.8v0.8h-0.8zM285.8,398.3h0.8v0.8h-0.8zM291.2,404.7h0.8v0.8h-0.8zM291.5,375.7h0.8v0.8h-0.8zM291.1,375.4h0.8v0.8h-0.8zM291.4,428.4h0.8v0.8h-0.8zM287.4,383.5h0.8v0.8h-0.8zM290.5,388.8h0.8v0.8h-0.8zM290.1,382.8h0.8v0.8h-0.8zM291.0,406.0h0.8v0.8h-0.8zM284.9,429.3h0.8v0.8h-0.8zM290.2,391.3h0.8v0.8h-0.8zM282.7,386.9h0.8v0.8h-0.8zM289.5,388.4h0.8v0.8h-0.8zM288.2,374.5h0.8v0.8h-0.8zM291.5,376.5h0.8v0.8h-0.8zM291.6,375.1h0.8v0.8h-0.8zM290.6,387.0h0.8v0.8h-0.8zM287.0,429.4h0.8v0.8h-0.8zM290.3,378.4h0.8v0.8h-0.8zM288.1,399.9h0.8v0.8h-0.8zM291.4,381.3h0.8v0.8h-0.8zM291.6,374.8h0.8v0.8h-0.8zM291.0,418.8h0.8v0.8h-0.8zM288.0,377.9h0.8v0.8h-0.8zM291.0,378.2h0.8v0.8h-0.8zM289.6,417.5h0.8v0.8h-0.8zM291.4,383.0h0.8v0.8h-0.8zM285.9,380.9h0.8v0.8h-0.8zM289.1,426.4h0.8v0.8h-0.8zM286.7,380.7h0.8v0.8h-0.8zM291.4,418.5h0.8v0.8h-0.8zM289.3,386.2h0.8v0.8h-0.8zM287.7,400.9h0.8v0.8h-0.8zM291.0,386.4h0.8v0.8h-0.8zM290.7,387.9h0.8v0.8h-0.8zM287.9,425.6h0.8v0.8h-0.8zM291.5,423.8h0.8v0.8h-0.8zM291.0,379.9h0.8v0.8h-0.8zM288.8,411.2h0.8v0.8h-0.8zM289.8,378.4h0.8v0.8h-0.8zM288.9,385.8h0.8v0.8h-0.8zM290.6,375.8h0.8v0.8h-0.8zM290.1,406.1h0.8v0.8h-0.8zM291.1,411.3h0.8v0.8h-0.8zM291.2,412.6h0.8v0.8h-0.8zM289.7,414.5h0.8v0.8h-0.8zM290.8,390.9h0.8v0.8h-0.8zM291.3,380.0h0.8v0.8h-0.8zM290.0,374.0h0.8v0.8h-0.8zM290.7,393.4h0.8v0.8h-0.8zM291.3,425.6h0.8v0.8h-0.8zM291.6,393.9h0.8v0.8h-0.8zM289.0,404.1h0.8v0.8h-0.8zM285.5,424.5h0.8v0.8h-0.8zM285.0,420.6h0.8v0.8h-0.8zM291.5,412.2h0.8v0.8h-0.8zM289.5,402.6h0.8v0.8h-0.8zM284.9,382.4h0.8v0.8h-0.8zM289.1,412.8h0.8v0.8h-0.8zM289.4,392.2h0.8v0.8h-0.8zM291.0,410.0h0.8v0.8h-0.8zM291.0,382.1h0.8v0.8h-0.8zM290.2,426.2h0.8v0.8h-0.8zM290.4,379.4h0.8v0.8h-0.8zM287.1,415.6h0.8v0.8h-0.8zM291.2,422.6h0.8v0.8h-0.8zM289.4,378.9h0.8v0.8h-0.8zM289.9,420.8h0.8v0.8h-0.8zM288.8,405.9h0.8v0.8h-0.8zM289.6,403.3h0.8v0.8h-0.8zM289.5,383.5h0.8v0.8h-0.8zM286.5,387.3h0.8v0.8h-0.8zM289.1,382.6h0.8v0.8h-0.8zM290.5,393.5h0.8v0.8h-0.8zM287.9,406.1h0.8v0.8h-0.8zM286.2,411.4h0.8v0.8h-0.8zM290.9,409.9h0.8v0.8h-0.8zM290.3,388.3h0.8v0.8h-0.8zM290.4,387.7h0.8v0.8h-0.8zM284.1,413.8h0.8v0.8h-0.8zM289.5,428.6h0.8v0.8h-0.8zM287.7,382.0h0.8v0.8h-0.8zM289.9,391.9h0.8v0.8h-0.8zM290.5,384.6h0.8v0.8h-0.8zM289.3,428.6h0.8v0.8h-0.8zM289.5,374.3h0.8v0.8h-0.8zM290.0,422.7h0.8v0.8h-0.8zM288.8,414.1h0.8v0.8h-0.8zM288.1,387.5h0.8v0.8h-0.8zM289.9,408.3h0.8v0.8h-0.8zM286.4,389.5h0.8v0.8h-0.8zM289.4,405.4h0.8v0.8h-0.8zM291.5,392.6h0.8v0.8h-0.8zM289.0,424.3h0.8v0.8h-0.8zM284.7,394.5h0.8v0.8h-0.8zM290.8,417.1h0.8v0.8h-0.8zM287.1,401.6h0.8v0.8h-0.8zM290.8,389.6h0.8v0.8h-0.8zM290.6,428.1h0.8v0.8h-0.8zM291.3,380.8h0.8v0.8h-0.8zM291.8,423.9h0.8v0.8h-0.8zM291.3,429.1h0.8v0.8h-0.8zM289.0,419.7h0.8v0.8h-0.8zM285.3,403.7h0.8v0.8h-0.8zM289.7,404.5h0.8v0.8h-0.8zM288.8,425.3h0.8v0.8h-0.8zM290.3,393.0h0.8v0.8h-0.8zM290.6,418.0h0.8v0.8h-0.8zM289.7,414.5h0.8v0.8h-0.8zM291.2,420.3h0.8v0.8h-0.8zM286.4,393.5h0.8v0.8h-0.8zM291.8,406.4h0.8v0.8h-0.8zM289.7,376.6h0.8v0.8h-0.8zM289.2,375.9h0.8v0.8h-0.8zM289.5,377.1h0.8v0.8h-0.8zM290.9,411.9h0.8v0.8h-0.8zM290.1,388.7h0.8v0.8h-0.8zM288.3,423.9h0.8v0.8h-0.8zM289.6,376.1h0.8v0.8h-0.8zM286.9,379.7h0.8v0.8h-0.8zM284.4,418.8h0.8v0.8h-0.8zM283.1,392.2h0.8v0.8h-0.8zM289.4,381.9h0.8v0.8h-0.8zM291.2,378.6h0.8v0.8h-0.8zM288.6,384.4h0.8v0.8h-0.8zM290.8,381.9h0.8v0.8h-0.8zM289.3,378.2h0.8v0.8h-0.8zM290.0,380.0h0.8v0.8h-0.8zM288.3,378.1h0.8v0.8h-0.8zM285.0,383.7h0.8v0.8h-0.8zM288.1,375.2h0.8v0.8h-0.8zM289.5,383.8h0.8v0.8h-0.8zM290.8,381.4h0.8v0.8h-0.8zM288.0,374.1h0.8v0.8h-0.8zM290.6,379.0h0.8v0.8h-0.8zM289.6,391.5h0.8v0.8h-0.8zM290.6,384.4h0.8v0.8h-0.8zM285.0,375.2h0.8v0.8h-0.8zM290.2,384.4h0.8v0.8h-0.8zM288.7,386.7h0.8v0.8h-0.8zM291.4,376.4h0.8v0.8h-0.8zM291.3,381.2h0.8v0.8h-0.8zM286.5,377.8h0.8v0.8h-0.8zM290.5,383.8h0.8v0.8h-0.8zM291.2,388.8h0.8v0.8h-0.8zM291.5,378.3h0.8v0.8h-0.8zM291.1,376.5h0.8v0.8h-0.8zM291.4,376.5h0.8v0.8h-0.8zM291.4,385.1h0.8v0.8h-0.8zM290.4,375.2h0.8v0.8h-0.8zM290.4,383.5h0.8v0.8h-0.8zM291.4,388.6h0.8v0.8h-0.8zM290.8,387.8h0.8v0.8h-0.8zM291.4,386.1h0.8v0.8h-0.8zM290.7,374.2h0.8v0.8h-0.8zM288.6,381.8h0.8v0.8h-0.8zM289.0,378.4h0.8v0.8h-0.8zM291.0,383.3h0.8v0.8h-0.8zM289.8,376.7h0.8v0.8h-0.8zM289.5,376.4h0.8v0.8h-0.8zM291.1,391.1h0.8v0.8h-0.8zM291.3,389.9h0.8v0.8h-0.8zM285.0,375.8h0.8v0.8h-0.8zM289.4,388.9h0.8v0.8h-0.8zM285.0,375.2h0.8v0.8h-0.8zM290.9,380.1h0.8v0.8h-0.8zM286.6,391.9h0.8v0.8h-0.8zM286.9,390.9h0.8v0.8h-0.8zM291.0,382.4h0.8v0.8h-0.8zM290.0,386.6h0.8v0.8h-0.8zM288.1,380.9h0.8v0.8h-0.8zM289.0,389.3h0.8v0.8h-0.8zM289.3,379.7h0.8v0.8h-0.8zM290.9,377.7h0.8v0.8h-0.8zM290.0,376.6h0.8v0.8h-0.8zM290.8,385.4h0.8v0.8h-0.8zM291.0,384.0h0.8v0.8h-0.8zM291.4,390.2h0.8v0.8h-0.8zM291.2,376.6h0.8v0.8h-0.8zM291.4,388.5h0.8v0.8h-0.8zM291.3,391.0h0.8v0.8h-0.8zM289.3,387.4h0.8v0.8h-0.8zM290.5,376.1h0.8v0.8h-0.8zM289.8,376.8h0.8v0.8h-0.8zM291.2,375.6h0.8v0.8h-0.8zM285.0,380.0h0.8v0.8h-0.8zM291.4,387.7h0.8v0.8h-0.8zM286.9,376.6h0.8v0.8h-0.8zM290.1,382.1h0.8v0.8h-0.8zM290.8,374.8h0.8v0.8h-0.8zM289.6,386.2h0.8v0.8h-0.8zM290.8,375.8h0.8v0.8h-0.8zM290.7,388.3h0.8v0.8h-0.8zM290.1,385.0h0.8v0.8h-0.8zM290.8,377.4h0.8v0.8h-0.8zM291.0,386.6h0.8v0.8h-0.8zM290.9,380.3h0.8v0.8h-0.8zM290.6,383.4h0.8v0.8h-0.8zM291.2,384.0h0.8v0.8h-0.8zM290.9,378.9h0.8v0.8h-0.8zM288.2,381.5h0.8v0.8h-0.8zM290.8,388.2h0.8v0.8h-0.8zM290.5,389.6h0.8v0.8h-0.8zM290.4,389.3h0.8v0.8h-0.8zM290.1,384.2h0.8v0.8h-0.8zM290.2,389.7h0.8v0.8h-0.8zM291.1,376.5h0.8v0.8h-0.8zM290.5,391.7h0.8v0.8h-0.8zM289.3,374.8h0.8v0.8h-0.8zM287.8,390.2h0.8v0.8h-0.8zM291.3,388.3h0.8v0.8h-0.8zM291.5,381.0h0.8v0.8h-0.8zM289.5,388.2h0.8v0.8h-0.8zM290.7,391.2h0.8v0.8h-0.8zM291.3,377.0h0.8v0.8h-0.8zM285.0,385.7h0.8v0.8h-0.8zM290.9,374.1h0.8v0.8h-0.8zM289.9,386.0h0.8v0.8h-0.8zM287.7,375.1h0.8v0.8h-0.8zM286.5,386.0h0.8v0.8h-0.8zM291.3,374.5h0.8v0.8h-0.8zM291.0,381.3h0.8v0.8h-0.8zM290.9,389.6h0.8v0.8h-0.8zM291.1,379.5h0.8v0.8h-0.8zM287.0,391.4h0.8v0.8h-0.8zM290.0,382.5h0.8v0.8h-0.8zM291.1,377.3h0.8v0.8h-0.8zM290.8,390.9h0.8v0.8h-0.8zM289.7,376.8h0.8v0.8h-0.8zM289.0,384.7h0.8v0.8h-0.8zM291.5,391.0h0.8v0.8h-0.8zM286.9,390.9h0.8v0.8h-0.8zM291.1,384.0h0.8v0.8h-0.8zM290.8,377.8h0.8v0.8h-0.8zM291.2,383.0h0.8v0.8h-0.8zM289.4,379.3h0.8v0.8h-0.8zM289.5,379.7h0.8v0.8h-0.8zM290.3,379.7h0.8v0.8h-0.8zM290.7,377.6h0.8v0.8h-0.8zM288.0,374.7h0.8v0.8h-0.8zM285.0,387.5h0.8v0.8h-0.8zM290.0,374.2h0.8v0.8h-0.8zM290.6,384.3h0.8v0.8h-0.8zM284.6,373.6h0.8v0.8h-0.8zM287.3,379.7h0.8v0.8h-0.8zM289.1,379.5h0.8v0.8h-0.8zM289.8,379.3h0.8v0.8h-0.8zM292.1,374.6h0.8v0.8h-0.8zM284.6,379.6h0.8v0.8h-0.8zM288.6,373.5h0.8v0.8h-0.8zM290.4,382.5h0.8v0.8h-0.8zM285.6,378.4h0.8v0.8h-0.8zM288.4,374.5h0.8v0.8h-0.8zM292.6,382.0h0.8v0.8h-0.8zM291.4,381.5h0.8v0.8h-0.8zM289.7,376.0h0.8v0.8h-0.8zM282.7,384.6h0.8v0.8h-0.8zM288.2,375.0h0.8v0.8h-0.8zM289.4,378.9h0.8v0.8h-0.8zM287.8,381.5h0.8v0.8h-0.8zM288.4,371.2h0.8v0.8h-0.8zM295.3,381.0h0.8v0.8h-0.8zM288.0,377.8h0.8v0.8h-0.8zM286.4,378.0h0.8v0.8h-0.8zM289.0,374.8h0.8v0.8h-0.8zM287.8,379.0h0.8v0.8h-0.8zM287.8,374.7h0.8v0.8h-0.8zM288.3,375.1h0.8v0.8h-0.8zM290.2,376.7h0.8v0.8h-0.8zM289.0,374.3h0.8v0.8h-0.8zM285.9,382.7h0.8v0.8h-0.8zM288.2,374.0h0.8v0.8h-0.8zM289.5,375.7h0.8v0.8h-0.8zM287.5,377.1h0.8v0.8h-0.8zM291.0,378.0h0.8v0.8h-0.8zM290.2,380.4h0.8v0.8h-0.8zM286.3,380.5h0.8v0.8h-0.8zM289.2,377.1h0.8v0.8h-0.8zM292.9,376.8h0.8v0.8h-0.8zM291.9,378.1h0.8v0.8h-0.8zM288.4,380.5h0.8v0.8h-0.8zM290.5,380.1h0.8v0.8h-0.8zM287.0,376.5h0.8v0.8h-0.8zM285.3,371.8h0.8v0.8h-0.8zM289.7,384.4h0.8v0.8h-0.8zM289.0,380.9h0.8v0.8h-0.8zM289.6,378.8h0.8v0.8h-0.8zM288.4,379.0h0.8v0.8h-0.8zM289.2,376.4h0.8v0.8h-0.8zM287.4,375.0h0.8v0.8h-0.8zM289.5,377.0h0.8v0.8h-0.8zM290.3,377.3h0.8v0.8h-0.8zM288.4,376.1h0.8v0.8h-0.8zM290.3,373.6h0.8v0.8h-0.8zM284.6,377.1h0.8v0.8h-0.8zM286.8,379.7h0.8v0.8h-0.8zM291.7,376.5h0.8v0.8h-0.8zM292.4,378.1h0.8v0.8h-0.8zM289.1,371.8h0.8v0.8h-0.8zM288.3,377.4h0.8v0.8h-0.8zM285.7,377.6h0.8v0.8h-0.8zM289.3,374.3h0.8v0.8h-0.8zM290.2,372.8h0.8v0.8h-0.8z" fill="#222" fill-opacity="0.75"/>
<path d="M294.3,369.2h0.8v0.8h-0.8zM290.2,379.1h0.8v0.8h-0.8zM311.5,371.4h0.8v0.8h-0.8zM311.5,365.9h0.8v0.8h-0.8zM312.2,370.9h0.8v0.8h-0.8zM290.2,384.8h0.8v0.8h-0.8zM310.4,374.4h0.8v0.8h-0.8zM304.8,377.8h0.8v0.8h-0.8zM300.8,374.3h0.8v0.8h-0.8zM300.6,375.3h0.8v0.8h-0.8zM313.1,368.6h0.8v0.8h-0.8zM302.2,371.3h0.8v0.8h-0.8zM296.1,375.8h0.8v0.8h-0.8zM299.7,371.6h0.8v0.8h-0.8zM309.1,376.3h0.8v0.8h-0.8zM296.9,375.7h0.8v0.8h-0.8zM305.4,369.1h0.8v0.8h-0.8zM299.1,375.2h0.8v0.8h-0.8zM301.5,374.3h0.8v0.8h-0.8zM295.3,375.3h0.8v0.8h-0.8zM292.5,377.1h0.8v0.8h-0.8zM313.2,364.3h0.8v0.8h-0.8zM298.1,371.3h0.8v0.8h-0.8zM307.9,367.4h0.8v0.8h-0.8zM312.5,368.4h0.8v0.8h-0.8zM298.3,381.9h0.8v0.8h-0.8zM287.8,382.9h0.8v0.8h-0.8zM304.8,377.8h0.8v0.8h-0.8zM299.6,378.1h0.8v0.8h-0.8zM312.8,367.6h0.8v0.8h-0.8zM300.0,374.0h0.8v0.8h-0.8zM308.2,370.0h0.8v0.8h-0.8zM294.7,373.7h0.8v0.8h-0.8zM302.1,375.4h0.8v0.8h-0.8zM295.3,381.9h0.8v0.8h-0.8zM314.8,369.0h0.8v0.8h-0.8zM309.4,374.8h0.8v0.8h-0.8zM308.0,369.7h0.8v0.8h-0.8zM298.9,375.0h0.8v0.8h-0.8zM300.9,374.4h0.8v0.8h-0.8zM308.3,366.5h0.8v0.8h-0.8zM308.1,374.8h0.8v0.8h-0.8zM308.8,375.0h0.8v0.8h-0.8zM303.7,371.0h0.8v0.8h-0.8zM296.7,376.2h0.8v0.8h-0.8zM315.0,366.9h0.8v0.8h-0.8zM299.1,375.4h0.8v0.8h-0.8zM293.6,374.2h0.8v0.8h-0.8zM307.0,371.2h0.8v0.8h-0.8zM295.9,379.9h0.8v0.8h-0.8zM306.0,370.4h0.8v0.8h-0.8zM305.7,366.7h0.8v0.8h-0.8zM299.0,374.4h0.8v0.8h-0.8zM301.1,368.0h0.8v0.8h-0.8zM303.2,375.8h0.8v0.8h-0.8zM296.4,376.2h0.8v0.8h-0.8zM299.0,378.2h0.8v0.8h-0.8zM302.7,373.9h0.8v0.8h-0.8zM295.0,378.4h0.8v0.8h-0.8zM299.1,374.5h0.8v0.8h-0.8zM303.4,370.0h0.8v0.8h-0.8zM304.1,376.2h0.8v0.8h-0.8zM304.8,373.6h0.8v0.8h-0.8zM296.5,378.4h0.8v0.8h-0.8zM307.6,375.3h0.8v0.8h-0.8zM307.4,368.7h0.8v0.8h-0.8zM304.5,372.4h0.8v0.8h-0.8zM305.7,370.5h0.8v0.8h-0.8zM293.9,379.9h0.8v0.8h-0.8zM311.1,369.8h0.8v0.8h-0.8zM304.2,372.8h0.8v0.8h-0.8zM296.0,376.9h0.8v0.8h-0.8zM307.3,371.3h0.8v0.8h-0.8zM307.2,374.6h0.8v0.8h-0.8zM302.3,366.3h0.8v0.8h-0.8zM301.6,373.1h0.8v0.8h-0.8zM303.6,368.2h0.8v0.8h-0.8zM301.1,369.0h0.8v0.8h-0.8zM298.9,366.3h0.8v0.8h-0.8zM297.7,381.2h0.8v0.8h-0.8z" fill="#444" fill-opacity="0.6"/>
<path d="M384.6,413.1h0.8v0.8h-0.8zM386.4,417.5h0.8v0.8h-0.8zM385.4,406.9h0.8v0.8h-0.8zM386.3,409.1h0.8v0.8h-0.8zM381.7,391.3h0.8v0.8h-0.8zM387.1,408.3h0.8v0.8h-0.8zM386.9,422.0h0.8v0.8h-0.8zM384.4,399.9h0.8v0.8h-0.8zM386.9,417.0h0.8v0.8h-0.8zM382.6,403.7h0.8v0.8h-0.8zM383.6,403.9h0.8v0.8h-0.8zM382.5,409.1h0.8v0.8h-0.8zM385.4,383.6h0.8v0.8h-0.8zM386.8,387.7h0.8v0.8h-0.8zM386.9,385.6h0.8v0.8h-0.8zM382.0,405.2h0.8v0.8h-0.8zM386.0,412.5h0.8v0.8h-0.8zM384.7,414.6h0.8v0.8h-0.8zM382.8,387.4h0.8v0.8h-0.8zM386.7,394.2h0.8v0.8h-0.8zM384.6,383.9h0.8v0.8h-0.8zM381.7,411.6h0.8v0.8h-0.8zM383.7,398.9h0.8v0.8h-0.8zM385.5,390.9h0.8v0.8h-0.8zM386.4,388.3h0.8v0.8h-0.8zM382.7,427.7h0.8v0.8h-0.8zM384.9,402.3h0.8v0.8h-0.8zM382.0,430.0h0.8v0.8h-0.8zM386.8,393.5h0.8v0.8h-0.8zM381.6,387.8h0.8v0.8h-0.8zM387.1,415.0h0.8v0.8h-0.8zM384.8,425.7h0.8v0.8h-0.8zM385.9,384.9h0.8v0.8h-0.8zM385.4,423.0h0.8v0.8h-0.8zM384.4,408.0h0.8v0.8h-0.8zM384.0,425.3h0.8v0.8h-0.8zM382.7,427.6h0.8v0.8h-0.8zM383.2,399.3h0.8v0.8h-0.8zM382.0,427.3h0.8v0.8h-0.8zM383.1,385.8h0.8v0.8h-0.8zM385.3,400.2h0.8v0.8h-0.8zM384.7,400.2h0.8v0.8h-0.8zM384.8,389.4h0.8v0.8h-0.8zM384.6,402.4h0.8v0.8h-0.8zM387.0,417.0h0.8v0.8h-0.8zM386.4,381.9h0.8v0.8h-0.8zM383.0,402.2h0.8v0.8h-0.8zM384.7,404.6h0.8v0.8h-0.8zM387.1,386.7h0.8v0.8h-0.8zM383.1,411.0h0.8v0.8h-0.8zM385.6,389.8h0.8v0.8h-0.8zM385.3,407.1h0.8v0.8h-0.8zM385.4,407.2h0.8v0.8h-0.8zM384.7,416.8h0.8v0.8h-0.8zM385.8,426.9h0.8v0.8h-0.8zM383.7,426.5h0.8v0.8h-0.8zM386.9,403.4h0.8v0.8h-0.8zM384.8,390.3h0.8v0.8h-0.8zM383.5,389.2h0.8v0.8h-0.8zM385.2,418.9h0.8v0.8h-0.8zM385.5,417.4h0.8v0.8h-0.8zM386.8,419.3h0.8v0.8h-0.8zM385.2,421.4h0.8v0.8h-0.8zM384.5,406.8h0.8v0.8h-0.8zM383.5,424.9h0.8v0.8h-0.8zM384.0,411.8h0.8v0.8h-0.8zM383.2,410.4h0.8v0.8h-0.8zM385.1,421.6h0.8v0.8h-0.8zM386.5,411.5h0.8v0.8h-0.8zM384.9,417.8h0.8v0.8h-0.8zM382.7,426.7h0.8v0.8h-0.8zM381.7,397.6h0.8v0.8h-0.8zM386.6,416.9h0.8v0.8h-0.8zM383.2,392.3h0.8v0.8h-0.8zM385.5,402.5h0.8v0.8h-0.8zM387.0,423.6h0.8v0.8h-0.8zM387.0,429.1h0.8v0.8h-0.8zM384.7,427.6h0.8v0.8h-0.8zM386.8,417.3h0.8v0.8h-0.8zM383.8,422.2h0.8v0.8h-0.8zM387.0,424.2h0.8v0.8h-0.8zM385.4,409.2h0.8v0.8h-0.8zM382.0,389.3h0.8v0.8h-0.8zM386.2,377.0h0.8v0.8h-0.8zM382.4,417.5h0.8v0.8h-0.8zM387.3,417.4h0.8v0.8h-0.8zM381.8,415.8h0.8v0.8h-0.8zM385.9,407.6h0.8v0.8h-0.8zM382.4,411.9h0.8v0.8h-0.8zM384.6,415.2h0.8v0.8h-0.8zM383.7,405.0h0.8v0.8h-0.8zM386.6,411.9h0.8v0.8h-0.8zM383.1,388.2h0.8v0.8h-0.8zM385.7,405.1h0.8v0.8h-0.8zM387.0,410.3h0.8v0.8h-0.8zM381.9,407.0h0.8v0.8h-0.8zM385.6,390.0h0.8v0.8h-0.8zM382.0,382.9h0.8v0.8h-0.8zM386.0,411.7h0.8v0.8h-0.8zM386.5,382.1h0.8v0.8h-0.8zM382.3,419.3h0.8v0.8h-0.8zM386.6,385.9h0.8v0.8h-0.8zM384.0,418.1h0.8v0.8h-0.8zM383.3,395.4h0.8v0.8h-0.8zM387.1,425.1h0.8v0.8h-0.8zM383.7,388.3h0.8v0.8h-0.8zM382.7,384.6h0.8v0.8h-0.8zM383.4,412.8h0.8v0.8h-0.8zM386.7,418.2h0.8v0.8h-0.8zM387.2,395.0h0.8v0.8h-0.8zM384.1,401.7h0.8v0.8h-0.8zM384.4,412.1h0.8v0.8h-0.8zM385.0,392.1h0.8v0.8h-0.8zM386.4,397.2h0.8v0.8h-0.8zM381.6,406.9h0.8v0.8h-0.8zM386.1,392.5h0.8v0.8h-0.8zM387.1,384.0h0.8v0.8h-0.8zM383.9,425.5h0.8v0.8h-0.8zM384.0,382.7h0.8v0.8h-0.8zM387.1,429.8h0.8v0.8h-0.8zM383.9,422.0h0.8v0.8h-0.8zM383.7,400.4h0.8v0.8h-0.8zM386.5,422.9h0.8v0.8h-0.8zM384.2,379.5h0.8v0.8h-0.8zM385.3,406.7h0.8v0.8h-0.8zM383.2,395.3h0.8v0.8h-0.8zM385.4,392.4h0.8v0.8h-0.8zM383.6,424.8h0.8v0.8h-0.8zM386.0,378.1h0.8v0.8h-0.8zM384.4,423.0h0.8v0.8h-0.8zM386.8,380.3h0.8v0.8h-0.8zM384.7,412.9h0.8v0.8h-0.8zM386.5,391.6h0.8v0.8h-0.8zM384.1,404.7h0.8v0.8h-0.8zM385.4,426.4h0.8v0.8h-0.8zM383.0,419.5h0.8v0.8h-0.8zM384.9,381.4h0.8v0.8h-0.8zM385.3,392.6h0.8v0.8h-0.8zM382.6,402.6h0.8v0.8h-0.8zM384.7,415.1h0.8v0.8h-0.8zM386.8,376.3h0.8v0.8h-0.8zM382.7,423.1h0.8v0.8h-0.8zM384.3,421.9h0.8v0.8h-0.8zM386.4,428.1h0.8v0.8h-0.8zM384.0,387.0h0.8v0.8h-0.8zM381.7,387.6h0.8v0.8h-0.8zM384.5,421.4h0.8v0.8h-0.8zM384.2,404.1h0.8v0.8h-0.8zM386.9,389.4h0.8v0.8h-0.8zM385.4,376.9h0.8v0.8h-0.8zM386.0,387.8h0.8v0.8h-0.8zM383.6,412.8h0.8v0.8h-0.8zM386.7,415.9h0.8v0.8h-0.8zM386.3,395.3h0.8v0.8h-0.8zM382.0,426.0h0.8v0.8h-0.8zM385.3,403.8h0.8v0.8h-0.8zM386.7,404.2h0.8v0.8h-0.8zM385.3,397.5h0.8v0.8h-0.8zM387.1,398.0h0.8v0.8h-0.8zM383.0,395.6h0.8v0.8h-0.8zM384.9,420.9h0.8v0.8h-0.8zM384.6,400.0h0.8v0.8h-0.8zM383.2,388.6h0.8v0.8h-0.8zM386.0,399.7h0.8v0.8h-0.8zM384.0,426.4h0.8v0.8h-0.8zM385.3,410.8h0.8v0.8h-0.8zM386.0,381.7h0.8v0.8h-0.8zM385.7,398.8h0.8v0.8h-0.8zM382.1,401.4h0.8v0.8h-0.8zM381.8,376.8h0.8v0.8h-0.8zM386.3,428.4h0.8v0.8h-0.8zM385.3,425.9h0.8v0.8h-0.8zM382.4,381.5h0.8v0.8h-0.8zM382.3,406.1h0.8v0.8h-0.8zM384.4,393.0h0.8v0.8h-0.8zM382.5,387.5h0.8v0.8h-0.8zM386.9,390.9h0.8v0.8h-0.8zM382.8,378.9h0.8v0.8h-0.8zM387.0,413.5h0.8v0.8h-0.8zM385.7,396.0h0.8v0.8h-0.8zM384.7,414.1h0.8v0.8h-0.8zM385.4,420.4h0.8v0.8h-0.8zM385.5,407.2h0.8v0.8h-0.8zM383.2,394.7h0.8v0.8h-0.8zM384.3,383.6h0.8v0.8h-0.8zM381.9,411.5h0.8v0.8h-0.8zM381.8,412.8h0.8v0.8h-0.8zM387.0,418.6h0.8v0.8h-0.8zM386.4,383.5h0.8v0.8h-0.8zM385.9,378.5h0.8v0.8h-0.8zM382.1,423.9h0.8v0.8h-0.8zM385.1,409.0h0.8v0.8h-0.8zM385.6,381.1h0.8v0.8h-0.8zM384.0,414.6h0.8v0.8h-0.8zM383.7,379.1h0.8v0.8h-0.8zM385.7,410.4h0.8v0.8h-0.8zM381.6,406.2h0.8v0.8h-0.8zM384.2,415.0h0.8v0.8h-0.8zM383.0,381.1h0.8v0.8h-0.8zM384.1,425.5h0.8v0.8h-0.8zM384.7,427.3h0.8v0.8h-0.8zM383.9,429.7h0.8v0.8h-0.8zM386.6,417.7h0.8v0.8h-0.8zM386.6,393.0h0.8v0.8h-0.8zM385.9,429.3h0.8v0.8h-0.8zM386.1,409.5h0.8v0.8h-0.8zM384.4,415.2h0.8v0.8h-0.8zM383.1,412.0h0.8v0.8h-0.8zM386.2,387.3h0.8v0.8h-0.8zM382.2,422.5h0.8v0.8h-0.8zM384.9,411.3h0.8v0.8h-0.8zM385.2,388.0h0.8v0.8h-0.8zM382.1,396.6h0.8v0.8h-0.8zM382.7,383.8h0.8v0.8h-0.8zM385.4,399.6h0.8v0.8h-0.8zM386.5,429.9h0.8v0.8h-0.8zM383.8,396.9h0.8v0.8h-0.8zM384.6,397.6h0.8v0.8h-0.8zM385.6,419.8h0.8v0.8h-0.8zM384.9,380.5h0.8v0.8h-0.8zM384.2,382.5h0.8v0.8h-0.8zM385.2,416.6h0.8v0.8h-0.8zM385.6,383.1h0.8v0.8h-0.8zM386.1,409.3h0.8v0.8h-0.8zM384.8,420.5h0.8v0.8h-0.8zM385.3,406.7h0.8v0.8h-0.8zM382.6,380.4h0.8v0.8h-0.8zM382.4,387.3h0.8v0.8h-0.8zM386.2,405.5h0.8v0.8h-0.8zM382.8,428.0h0.8v0.8h-0.8zM384.0,411.6h0.8v0.8h-0.8zM386.6,414.0h0.8v0.8h-0.8zM382.4,408.5h0.8v0.8h-0.8zM385.4,393.8h0.8v0.8h-0.8zM382.9,409.1h0.8v0.8h-0.8zM385.1,376.5h0.8v0.8h-0.8zM386.2,398.6h0.8v0.8h-0.8zM386.3,420.2h0.8v0.8h-0.8zM386.0,387.1h0.8v0.8h-0.8zM384.5,411.3h0.8v0.8h-0.8zM384.7,415.3h0.8v0.8h-0.8zM382.5,384.5h0.8v0.8h-0.8zM382.2,422.8h0.8v0.8h-0.8zM385.8,389.3h0.8v0.8h-0.8zM381.8,428.5h0.8v0.8h-0.8zM386.9,394.8h0.8v0.8h-0.8zM382.6,409.3h0.8v0.8h-0.8zM385.7,427.7h0.8v0.8h-0.8zM384.1,420.7h0.8v0.8h-0.8zM385.1,402.5h0.8v0.8h-0.8zM385.9,386.6h0.8v0.8h-0.8zM383.2,409.5h0.8v0.8h-0.8zM386.3,408.0h0.8v0.8h-0.8zM385.9,379.5h0.8v0.8h-0.8zM384.9,396.8h0.8v0.8h-0.8zM384.8,426.2h0.8v0.8h-0.8zM383.7,404.7h0.8v0.8h-0.8zM387.1,385.9h0.8v0.8h-0.8zM383.7,411.1h0.8v0.8h-0.8zM382.9,400.7h0.8v0.8h-0.8zM384.7,425.8h0.8v0.8h-0.8zM386.8,402.7h0.8v0.8h-0.8zM386.9,377.4h0.8v0.8h-0.8zM384.9,384.8h0.8v0.8h-0.8zM383.8,385.6h0.8v0.8h-0.8zM385.8,427.8h0.8v0.8h-0.8zM384.7,395.6h0.8v0.8h-0.8zM386.3,395.0h0.8v0.8h-0.8zM386.3,429.2h0.8v0.8h-0.8zM385.6,387.2h0.8v0.8h-0.8zM387.1,409.9h0.8v0.8h-0.8zM385.3,427.7h0.8v0.8h-0.8zM387.2,425.6h0.8v0.8h-0.8zM385.3,384.7h0.8v0.8h-0.8zM382.8,401.7h0.8v0.8h-0.8zM385.1,389.7h0.8v0.8h-0.8zM386.0,414.1h0.8v0.8h-0.8zM384.0,389.4h0.8v0.8h-0.8zM382.5,385.6h0.8v0.8h-0.8zM383.5,390.8h0.8v0.8h-0.8zM386.0,383.1h0.8v0.8h-0.8zM382.7,415.0h0.8v0.8h-0.8zM381.6,391.2h0.8v0.8h-0.8zM386.6,397.8h0.8v0.8h-0.8zM387.1,391.0h0.8v0.8h-0.8zM386.5,396.7h0.8v0.8h-0.8zM386.1,392.6h0.8v0.8h-0.8zM385.7,395.3h0.8v0.8h-0.8zM384.7,414.6h0.8v0.8h-0.8zM385.3,385.5h0.8v0.8h-0.8zM385.8,413.4h0.8v0.8h-0.8zM383.4,394.9h0.8v0.8h-0.8zM382.7,381.1h0.8v0.8h-0.8zM385.5,382.5h0.8v0.8h-0.8zM385.0,425.1h0.8v0.8h-0.8zM387.2,378.3h0.8v0.8h-0.8zM383.9,391.1h0.8v0.8h-0.8zM383.9,423.1h0.8v0.8h-0.8zM382.2,380.3h0.8v0.8h-0.8zM381.6,387.5h0.8v0.8h-0.8zM382.3,390.6h0.8v0.8h-0.8zM384.9,421.6h0.8v0.8h-0.8zM387.1,382.3h0.8v0.8h-0.8zM382.2,427.5h0.8v0.8h-0.8zM382.4,382.5h0.8v0.8h-0.8zM385.5,406.8h0.8v0.8h-0.8zM383.3,418.1h0.8v0.8h-0.8zM381.8,406.4h0.8v0.8h-0.8zM386.6,403.7h0.8v0.8h-0.8zM382.4,399.8h0.8v0.8h-0.8zM384.0,389.8h0.8v0.8h-0.8zM385.9,430.1h0.8v0.8h-0.8zM386.0,398.0h0.8v0.8h-0.8zM387.0,410.9h0.8v0.8h-0.8zM384.9,407.7h0.8v0.8h-0.8zM382.4,428.4h0.8v0.8h-0.8zM382.0,389.3h0.8v0.8h-0.8zM385.2,384.4h0.8v0.8h-0.8zM384.6,425.0h0.8v0.8h-0.8zM382.9,403.7h0.8v0.8h-0.8zM382.5,410.9h0.8v0.8h-0.8zM383.5,410.1h0.8v0.8h-0.8zM383.2,418.6h0.8v0.8h-0.8zM383.6,421.7h0.8v0.8h-0.8zM383.5,414.2h0.8v0.8h-0.8zM385.9,376.3h0.8v0.8h-0.8zM384.2,421.6h0.8v0.8h-0.8zM386.4,378.3h0.8v0.8h-0.8zM384.4,422.7h0.8v0.8h-0.8zM383.2,376.1h0.8v0.8h-0.8zM386.9,418.2h0.8v0.8h-0.8zM385.3,410.8h0.8v0.8h-0.8zM386.4,377.4h0.8v0.8h-0.8zM382.9,417.1h0.8v0.8h-0.8zM387.1,407.6h0.8v0.8h-0.8zM385.2,382.6h0.8v0.8h-0.8zM383.7,423.8h0.8v0.8h-0.8zM383.0,408.2h0.8v0.8h-0.8zM382.1,401.2h0.8v0.8h-0.8zM381.7,427.5h0.8v0.8h-0.8zM382.6,387.1h0.8v0.8h-0.8zM383.3,385.6h0.8v0.8h-0.8zM384.6,424.6h0.8v0.8h-0.8zM383.8,384.7h0.8v0.8h-0.8zM381.8,420.6h0.8v0.8h-0.8zM382.3,387.4h0.8v0.8h-0.8zM381.6,420.4h0.8v0.8h-0.8zM381.7,398.2h0.8v0.8h-0.8zM383.2,409.6h0.8v0.8h-0.8zM385.2,409.1h0.8v0.8h-0.8zM382.4,397.5h0.8v0.8h-0.8zM386.6,404.3h0.8v0.8h-0.8zM387.2,411.4h0.8v0.8h-0.8zM385.1,383.4h0.8v0.8h-0.8zM381.8,425.9h0.8v0.8h-0.8zM382.6,420.9h0.8v0.8h-0.8zM384.5,387.3h0.8v0.8h-0.8zM386.9,388.3h0.8v0.8h-0.8zM387.2,397.5h0.8v0.8h-0.8zM385.8,418.1h0.8v0.8h-0.8zM386.7,404.2h0.8v0.8h-0.8zM382.1,393.2h0.8v0.8h-0.8zM384.4,417.9h0.8v0.8h-0.8zM384.3,386.7h0.8v0.8h-0.8zM382.8,414.6h0.8v0.8h-0.8zM384.8,417.1h0.8v0.8h-0.8zM384.8,381.6h0.8v0.8h-0.8zM387.1,407.1h0.8v0.8h-0.8zM381.9,408.4h0.8v0.8h-0.8zM383.2,428.9h0.8v0.8h-0.8zM382.5,392.3h0.8v0.8h-0.8zM382.8,401.1h0.8v0.8h-0.8zM383.3,427.0h0.8v0.8h-0.8zM383.6,383.1h0.8v0.8h-0.8zM387.1,424.9h0.8v0.8h-0.8zM383.4,395.9h0.8v0.8h-0.8zM384.3,394.7h0.8v0.8h-0.8zM382.5,430.2h0.8v0.8h-0.8zM382.8,397.3h0.8v0.8h-0.8zM382.8,389.5h0.8v0.8h-0.8zM384.8,387.3h0.8v0.8h-0.8zM383.2,413.9h0.8v0.8h-0.8zM383.1,410.7h0.8v0.8h-0.8zM384.5,389.0h0.8v0.8h-0.8zM381.6,403.0h0.8v0.8h-0.8zM386.5,391.6h0.8v0.8h-0.8zM381.8,421.6h0.8v0.8h-0.8zM383.9,395.5h0.8v0.8h-0.8zM387.2,409.6h0.8v0.8h-0.8zM382.5,425.8h0.8v0.8h-0.8zM381.8,389.0h0.8v0.8h-0.8zM384.3,427.9h0.8v0.8h-0.8zM385.2,402.5h0.8v0.8h-0.8zM383.7,410.9h0.8v0.8h-0.8zM382.8,390.8h0.8v0.8h-0.8zM385.5,413.8h0.8v0.8h-0.8zM384.9,415.4h0.8v0.8h-0.8zM383.5,408.3h0.8v0.8h-0.8zM385.1,423.0h0.8v0.8h-0.8zM386.4,401.7h0.8v0.8h-0.8zM384.5,376.8h0.8v0.8h-0.8zM383.7,425.8h0.8v0.8h-0.8zM385.1,407.0h0.8v0.8h-0.8zM384.4,409.5h0.8v0.8h-0.8zM382.1,408.6h0.8v0.8h-0.8zM386.7,378.2h0.8v0.8h-0.8zM382.2,391.7h0.8v0.8h-0.8zM385.8,380.9h0.8v0.8h-0.8zM384.0,411.4h0.8v0.8h-0.8zM386.0,422.6h0.8v0.8h-0.8zM384.5,412.0h0.8v0.8h-0.8zM386.3,420.3h0.8v0.8h-0.8zM384.2,394.1h0.8v0.8h-0.8zM382.9,377.7h0.8v0.8h-0.8zM386.0,398.3h0.8v0.8h-0.8zM386.3,385.2h0.8v0.8h-0.8zM384.4,392.6h0.8v0.8h-0.8zM386.9,389.0h0.8v0.8h-0.8zM385.6,385.8h0.8v0.8h-0.8zM386.9,413.5h0.8v0.8h-0.8zM382.6,408.6h0.8v0.8h-0.8zM387.0,420.8h0.8v0.8h-0.8zM386.0,429.6h0.8v0.8h-0.8zM387.0,388.9h0.8v0.8h-0.8zM383.5,427.1h0.8v0.8h-0.8zM384.7,417.8h0.8v0.8h-0.8zM386.7,406.7h0.8v0.8h-0.8zM385.4,429.0h0.8v0.8h-0.8zM383.2,403.9h0.8v0.8h-0.8zM383.2,377.5h0.8v0.8h-0.8zM387.0,382.8h0.8v0.8h-0.8zM385.4,393.0h0.8v0.8h-0.8zM381.8,413.9h0.8v0.8h-0.8zM383.0,406.9h0.8v0.8h-0.8zM384.7,413.2h0.8v0.8h-0.8zM382.6,377.0h0.8v0.8h-0.8zM384.2,389.5h0.8v0.8h-0.8zM385.4,406.2h0.8v0.8h-0.8zM382.0,411.7h0.8v0.8h-0.8zM383.0,399.5h0.8v0.8h-0.8zM386.6,387.9h0.8v0.8h-0.8zM381.7,392.9h0.8v0.8h-0.8zM382.1,417.5h0.8v0.8h-0.8zM386.3,415.1h0.8v0.8h-0.8zM385.4,389.5h0.8v0.8h-0.8zM384.2,427.8h0.8v0.8h-0.8zM386.5,378.4h0.8v0.8h-0.8zM382.7,388.8h0.8v0.8h-0.8zM381.5,399.9h0.8v0.8h-0.8zM386.2,419.8h0.8v0.8h-0.8zM385.2,406.8h0.8v0.8h-0.8zM383.5,412.8h0.8v0.8h-0.8zM384.9,427.8h0.8v0.8h-0.8zM382.0,396.0h0.8v0.8h-0.8zM383.3,385.9h0.8v0.8h-0.8zM384.8,398.3h0.8v0.8h-0.8zM386.4,406.7h0.8v0.8h-0.8zM383.3,383.3h0.8v0.8h-0.8zM381.9,378.1h0.8v0.8h-0.8zM382.0,415.6h0.8v0.8h-0.8zM383.3,429.9h0.8v0.8h-0.8zM385.1,426.8h0.8v0.8h-0.8zM385.6,396.5h0.8v0.8h-0.8zM385.5,400.8h0.8v0.8h-0.8zM386.6,421.2h0.8v0.8h-0.8zM385.5,429.7h0.8v0.8h-0.8zM385.4,395.4h0.8v0.8h-0.8zM384.9,427.9h0.8v0.8h-0.8zM385.4,414.1h0.8v0.8h-0.8zM385.7,384.0h0.8v0.8h-0.8zM387.2,400.5h0.8v0.8h-0.8zM382.5,376.2h0.8v0.8h-0.8zM385.2,398.2h0.8v0.8h-0.8zM382.2,404.5h0.8v0.8h-0.8zM382.7,419.5h0.8v0.8h-0.8zM386.9,394.0h0.8v0.8h-0.8zM383.8,411.4h0.8v0.8h-0.8zM384.8,412.1h0.8v0.8h-0.8zM382.7,404.6h0.8v0.8h-0.8zM384.5,409.4h0.8v0.8h-0.8zM381.6,401.1h0.8v0.8h-0.8zM384.9,409.3h0.8v0.8h-0.8zM387.0,401.1h0.8v0.8h-0.8zM385.5,425.7h0.8v0.8h-0.8zM385.4,382.2h0.8v0.8h-0.8zM384.7,423.1h0.8v0.8h-0.8zM383.4,416.6h0.8v0.8h-0.8zM386.0,376.6h0.8v0.8h-0.8zM383.8,415.2h0.8v0.8h-0.8zM383.5,395.8h0.8v0.8h-0.8zM384.7,403.6h0.8v0.8h-0.8zM387.2,404.2h0.8v0.8h-0.8zM385.8,416.1h0.8v0.8h-0.8zM385.4,402.5h0.8v0.8h-0.8zM382.2,410.6h0.8v0.8h-0.8zM386.2,387.9h0.8v0.8h-0.8zM384.0,379.9h0.8v0.8h-0.8zM385.1,412.4h0.8v0.8h-0.8zM384.8,429.9h0.8v0.8h-0.8zM386.1,380.2h0.8v0.8h-0.8zM381.7,425.6h0.8v0.8h-0.8zM382.1,397.0h0.8v0.8h-0.8zM383.1,411.6h0.8v0.8h-0.8zM382.7,390.5h0.8v0.8h-0.8zM385.5,413.7h0.8v0.8h-0.8zM382.2,399.8h0.8v0.8h-0.8zM382.0,419.3h0.8v0.8h-0.8zM384.6,391.1h0.8v0.8h-0.8zM381.9,394.1h0.8v0.8h-0.8zM386.1,410.1h0.8v0.8h-0.8zM383.4,381.7h0.8v0.8h-0.8zM383.3,429.1h0.8v0.8h-0.8zM385.0,409.1h0.8v0.8h-0.8zM387.2,429.0h0.8v0.8h-0.8zM383.1,385.7h0.8v0.8h-0.8zM382.8,414.6h0.8v0.8h-0.8zM383.6,387.0h0.8v0.8h-0.8zM386.0,380.5h0.8v0.8h-0.8zM386.9,400.1h0.8v0.8h-0.8zM382.4,401.7h0.8v0.8h-0.8zM381.7,406.4h0.8v0.8h-0.8zM383.3,401.4h0.8v0.8h-0.8zM383.4,386.7h0.8v0.8h-0.8zM385.8,413.2h0.8v0.8h-0.8zM385.4,390.5h0.8v0.8h-0.8zM385.8,391.8h0.8v0.8h-0.8zM383.8,418.6h0.8v0.8h-0.8zM384.0,413.2h0.8v0.8h-0.8zM387.0,415.6h0.8v0.8h-0.8zM381.8,426.2h0.8v0.8h-0.8zM381.6,422.5h0.8v0.8h-0.8zM381.6,388.0h0.8v0.8h-0.8zM386.2,429.2h0.8v0.8h-0.8zM384.5,404.3h0.8v0.8h-0.8zM385.5,406.4h0.8v0.8h-0.8zM385.3,391.2h0.8v0.8h-0.8zM386.2,397.1h0.8v0.8h-0.8zM384.6,406.4h0.8v0.8h-0.8zM383.4,377.8h0.8v0.8h-0.8zM382.1,415.3h0.8v0.8h-0.8zM383.9,395.0h0.8v0.8h-0.8zM382.6,413.7h0.8v0.8h-0.8zM386.9,415.9h0.8v0.8h-0.8zM385.9,409.7h0.8v0.8h-0.8zM383.2,380.1h0.8v0.8h-0.8zM384.5,406.7h0.8v0.8h-0.8zM384.2,395.3h0.8v0.8h-0.8zM385.0,414.9h0.8v0.8h-0.8zM387.0,414.8h0.8v0.8h-0.8zM383.1,403.4h0.8v0.8h-0.8zM385.1,415.9h0.8v0.8h-0.8zM384.4,383.8h0.8v0.8h-0.8zM387.0,420.5h0.8v0.8h-0.8zM382.8,428.8h0.8v0.8h-0.8zM385.3,425.1h0.8v0.8h-0.8zM382.0,420.2h0.8v0.8h-0.8zM384.7,398.1h0.8v0.8h-0.8zM387.1,426.8h0.8v0.8h-0.8zM385.7,406.6h0.8v0.8h-0.8zM381.7,387.7h0.8v0.8h-0.8z" fill="#222" fill-opacity="0.75"/>
<path d="M408.9,363.2h0.8v0.8h-0.8zM397.0,370.2h0.8v0.8h-0.8zM395.6,370.0h0.8v0.8h-0.8zM405.0,363.9h0.8v0.8h-0.8zM399.1,371.6h0.8v0.8h-0.8zM393.4,376.8h0.8v0.8h-0.8zM395.5,373.9h0.8v0.8h-0.8zM401.5,369.4h0.8v0.8h-0.8zM398.2,375.0h0.8v0.8h-0.8zM389.4,383.2h0.8v0.8h-0.8zM397.1,378.8h0.8v0.8h-0.8zM391.2,377.7h0.8v0.8h-0.8zM386.8,378.9h0.8v0.8h-0.8zM390.4,377.1h0.8v0.8h-0.8zM396.3,370.0h0.8v0.8h-0.8zM391.9,376.9h0.8v0.8h-0.8zM387.3,376.6h0.8v0.8h-0.8zM398.8,365.9h0.8v0.8h-0.8zM400.2,369.8h0.8v0.8h-0.8zM402.7,367.9h0.8v0.8h-0.8zM391.1,378.2h0.8v0.8h-0.8zM397.5,369.5h0.8v0.8h-0.8zM391.9,378.7h0.8v0.8h-0.8zM396.6,373.5h0.8v0.8h-0.8zM393.1,374.4h0.8v0.8h-0.8zM395.6,372.7h0.8v0.8h-0.8zM399.4,369.1h0.8v0.8h-0.8zM405.6,364.9h0.8v0.8h-0.8zM397.8,368.8h0.8v0.8h-0.8zM394.1,377.3h0.8v0.8h-0.8zM404.2,368.5h0.8v0.8h-0.8zM394.2,376.8h0.8v0.8h-0.8zM400.8,369.8h0.8v0.8h-0.8zM399.9,368.7h0.8v0.8h-0.8zM396.7,379.3h0.8v0.8h-0.8zM402.2,368.0h0.8v0.8h-0.8zM392.5,378.1h0.8v0.8h-0.8zM383.1,379.1h0.8v0.8h-0.8zM395.6,376.2h0.8v0.8h-0.8zM397.3,372.3h0.8v0.8h-0.8zM396.1,368.6h0.8v0.8h-0.8zM395.1,377.1h0.8v0.8h-0.8zM400.8,368.2h0.8v0.8h-0.8zM408.9,363.3h0.8v0.8h-0.8zM409.3,363.0h0.8v0.8h-0.8z" fill="#666" fill-opacity="0.7"/>
<path d="M291.4,478.6h0.8v0.8h-0.8zM289.1,513.3h0.8v0.8h-0.8zM290.8,486.4h0.8v0.8h-0.8zM290.5,474.0h0.8v0.8h-0.8zM292.0,475.7h0.8v0.8h-0.8zM290.2,469.0h0.8v0.8h-0.8zM284.9,479.2h0.8v0.8h-0.8zM291.3,478.0h0.8v0.8h-0.8zM289.7,484.7h0.8v0.8h-0.8zM292.2,498.9h0.8v0.8h-0.8zM290.4,523.5h0.8v0.8h-0.8zM288.2,512.7h0.8v0.8h-0.8zM284.7,492.5h0.8v0.8h-0.8zM290.7,479.2h0.8v0.8h-0.8zM284.1,471.1h0.8v0.8h-0.8zM292.2,493.8h0.8v0.8h-0.8zM286.3,468.6h0.8v0.8h-0.8zM290.4,468.4h0.8v0.8h-0.8zM291.4,497.7h0.8v0.8h-0.8zM282.7,470.9h0.8v0.8h-0.8zM292.4,515.7h0.8v0.8h-0.8zM292.6,499.9h0.8v0.8h-0.8zM291.4,489.0h0.8v0.8h-0.8zM289.4,524.3h0.8v0.8h-0.8zM282.6,470.0h0.8v0.8h-0.8zM283.0,476.6h0.8v0.8h-0.8zM292.6,487.9h0.8v0.8h-0.8zM291.6,527.3h0.8v0.8h-0.8zM291.7,468.8h0.8v0.8h-0.8zM291.2,494.6h0.8v0.8h-0.8zM291.4,522.6h0.8v0.8h-0.8zM290.6,470.4h0.8v0.8h-0.8zM292.6,502.7h0.8v0.8h-0.8zM291.6,501.6h0.8v0.8h-0.8zM291.7,479.1h0.8v0.8h-0.8zM289.7,489.8h0.8v0.8h-0.8zM291.0,524.2h0.8v0.8h-0.8zM291.7,485.3h0.8v0.8h-0.8zM292.2,484.6h0.8v0.8h-0.8zM291.9,491.8h0.8v0.8h-0.8zM288.6,468.2h0.8v0.8h-0.8zM289.7,512.0h0.8v0.8h-0.8zM291.2,468.4h0.8v0.8h-0.8zM289.4,528.7h0.8v0.8h-0.8zM291.5,527.9h0.8v0.8h-0.8zM291.4,512.8h0.8v0.8h-0.8zM292.6,520.2h0.8v0.8h-0.8zM284.2,495.6h0.8v0.8h-0.8zM292.4,476.4h0.8v0.8h-0.8zM289.1,494.7h0.8v0.8h-0.8zM292.4,500.6h0.8v0.8h-0.8zM289.2,470.3h0.8v0.8h-0.8zM285.7,508.8h0.8v0.8h-0.8zM285.7,476.3h0.8v0.8h-0.8zM292.0,488.2h0.8v0.8h-0.8zM290.7,474.7h0.8v0.8h-0.8zM292.3,475.3h0.8v0.8h-0.8zM291.9,518.4h0.8v0.8h-0.8zM285.5,508.4h0.8v0.8h-0.8zM289.7,468.6h0.8v0.8h-0.8zM292.5,508.5h0.8v0.8h-0.8zM291.4,523.2h0.8v0.8h-0.8zM292.0,502.7h0.8v0.8h-0.8zM292.4,501.7h0.8v0.8h-0.8zM290.8,474.6h0.8v0.8h-0.8zM286.1,502.3h0.8v0.8h-0.8zM289.7,480.1h0.8v0.8h-0.8zM291.0,523.0h0.8v0.8h-0.8zM291.9,502.7h0.8v0.8h-0.8zM290.7,477.2h0.8v0.8h-0.8zM290.2,519.1h0.8v0.8h-0.8zM292.3,508.8h0.8v0.8h-0.8zM289.8,472.1h0.8v0.8h-0.8zM291.4,472.6h0.8v0.8h-0.8zM287.3,468.0h0.8v0.8h-0.8zM289.8,508.4h0.8v0.8h-0.8zM286.3,469.0h0.8v0.8h-0.8zM291.2,475.0h0.8v0.8h-0.8zM292.5,505.4h0.8v0.8h-0.8zM292.4,476.4h0.8v0.8h-0.8zM291.7,475.5h0.8v0.8h-0.8zM291.8,468.6h0.8v0.8h-0.8zM283.9,468.4h0.8v0.8h-0.8zM292.3,492.4h0.8v0.8h-0.8zM288.2,470.2h0.8v0.8h-0.8zM288.6,527.2h0.8v0.8h-0.8zM291.6,468.1h0.8v0.8h-0.8zM291.3,476.9h0.8v0.8h-0.8zM291.2,471.5h0.8v0.8h-0.8zM291.9,520.6h0.8v0.8h-0.8zM292.2,506.7h0.8v0.8h-0.8zM292.0,469.5h0.8v0.8h-0.8zM287.1,468.5h0.8v0.8h-0.8zM290.9,468.9h0.8v0.8h-0.8zM289.7,505.7h0.8v0.8h-0.8zM284.9,506.4h0.8v0.8h-0.8zM292.3,496.9h0.8v0.8h-0.8zM292.1,486.7h0.8v0.8h-0.8zM292.2,485.0h0.8v0.8h-0.8zM292.4,494.1h0.8v0.8h-0.8zM292.3,469.4h0.8v0.8h-0.8zM292.4,510.6h0.8v0.8h-0.8zM288.6,509.1h0.8v0.8h-0.8zM292.0,500.8h0.8v0.8h-0.8zM292.6,473.4h0.8v0.8h-0.8zM289.9,472.6h0.8v0.8h-0.8zM291.1,528.9h0.8v0.8h-0.8zM289.9,525.6h0.8v0.8h-0.8zM291.7,506.5h0.8v0.8h-0.8zM290.6,509.8h0.8v0.8h-0.8zM292.5,484.7h0.8v0.8h-0.8zM291.3,518.4h0.8v0.8h-0.8zM286.3,501.6h0.8v0.8h-0.8zM292.1,483.5h0.8v0.8h-0.8zM291.7,500.8h0.8v0.8h-0.8zM292.5,468.9h0.8v0.8h-0.8zM289.8,481.0h0.8v0.8h-0.8zM292.3,515.2h0.8v0.8h-0.8zM292.3,486.1h0.8v0.8h-0.8zM292.4,491.2h0.8v0.8h-0.8zM288.5,491.6h0.8v0.8h-0.8zM290.5,525.0h0.8v0.8h-0.8zM291.4,472.1h0.8v0.8h-0.8zM292.1,500.8h0.8v0.8h-0.8zM291.1,484.2h0.8v0.8h-0.8zM291.8,473.4h0.8v0.8h-0.8zM291.4,468.4h0.8v0.8h-0.8zM291.6,495.2h0.8v0.8h-0.8zM292.4,471.5h0.8v0.8h-0.8zM291.1,493.1h0.8v0.8h-0.8zM285.6,483.0h0.8v0.8h-0.8zM291.2,481.6h0.8v0.8h-0.8zM291.3,519.5h0.8v0.8h-0.8zM292.5,469.1h0.8v0.8h-0.8zM292.2,491.6h0.8v0.8h-0.8zM291.1,482.1h0.8v0.8h-0.8zM288.2,470.5h0.8v0.8h-0.8zM288.8,481.0h0.8v0.8h-0.8zM288.8,517.4h0.8v0.8h-0.8zM285.6,472.0h0.8v0.8h-0.8zM286.3,500.7h0.8v0.8h-0.8zM291.5,474.7h0.8v0.8h-0.8zM288.8,488.7h0.8v0.8h-0.8zM290.5,490.9h0.8v0.8h-0.8zM288.7,468.7h0.8v0.8h-0.8zM291.4,511.9h0.8v0.8h-0.8zM284.8,480.1h0.8v0.8h-0.8zM292.5,472.4h0.8v0.8h-0.8zM289.5,472.4h0.8v0.8h-0.8zM290.2,529.4h0.8v0.8h-0.8zM290.3,525.0h0.8v0.8h-0.8zM292.3,485.4h0.8v0.8h-0.8zM291.4,474.8h0.8v0.8h-0.8zM289.3,503.0h0.8v0.8h-0.8zM289.2,468.4h0.8v0.8h-0.8zM288.9,516.7h0.8v0.8h-0.8zM291.9,468.0h0.8v0.8h-0.8zM286.6,468.4h0.8v0.8h-0.8zM289.9,477.8h0.8v0.8h-0.8zM291.5,484.6h0.8v0.8h-0.8zM283.7,468.0h0.8v0.8h-0.8zM290.9,475.5h0.8v0.8h-0.8zM290.1,529.3h0.8v0.8h-0.8zM285.0,508.7h0.8v0.8h-0.8zM290.4,468.5h0.8v0.8h-0.8zM292.5,518.4h0.8v0.8h-0.8zM289.7,485.2h0.8v0.8h-0.8zM290.0,529.9h0.8v0.8h-0.8zM291.2,477.1h0.8v0.8h-0.8zM292.2,476.6h0.8v0.8h-0.8zM286.5,500.6h0.8v0.8h-0.8zM289.5,486.6h0.8v0.8h-0.8zM291.3,475.1h0.8v0.8h-0.8zM291.8,489.0h0.8v0.8h-0.8zM291.4,497.3h0.8v0.8h-0.8zM289.3,476.7h0.8v0.8h-0.8zM288.2,513.4h0.8v0.8h-0.8zM289.6,506.5h0.8v0.8h-0.8zM291.7,506.9h0.8v0.8h-0.8zM290.9,499.1h0.8v0.8h-0.8zM292.0,473.2h0.8v0.8h-0.8zM290.4,502.9h0.8v0.8h-0.8zM292.0,471.2h0.8v0.8h-0.8zM288.7,470.3h0.8v0.8h-0.8zM291.6,487.6h0.8v0.8h-0.8zM290.5,471.2h0.8v0.8h-0.8zM289.9,469.9h0.8v0.8h-0.8zM291.3,493.9h0.8v0.8h-0.8zM291.6,528.4h0.8v0.8h-0.8zM290.0,468.5h0.8v0.8h-0.8zM287.7,483.9h0.8v0.8h-0.8zM291.1,469.1h0.8v0.8h-0.8zM289.9,490.0h0.8v0.8h-0.8zM291.7,492.6h0.8v0.8h-0.8zM284.4,486.8h0.8v0.8h-0.8zM286.6,468.3h0.8v0.8h-0.8zM292.3,502.4h0.8v0.8h-0.8zM285.2,487.9h0.8v0.8h-0.8zM291.5,492.5h0.8v0.8h-0.8zM292.5,499.7h0.8v0.8h-0.8zM289.2,521.3h0.8v0.8h-0.8zM292.3,483.3h0.8v0.8h-0.8zM288.8,522.0h0.8v0.8h-0.8zM291.9,471.3h0.8v0.8h-0.8zM292.2,484.4h0.8v0.8h-0.8zM283.4,471.3h0.8v0.8h-0.8zM291.8,479.7h0.8v0.8h-0.8zM292.3,521.0h0.8v0.8h-0.8zM289.0,528.4h0.8v0.8h-0.8zM292.6,485.6h0.8v0.8h-0.8zM289.0,475.1h0.8v0.8h-0.8zM292.0,477.2h0.8v0.8h-0.8zM291.9,520.8h0.8v0.8h-0.8zM288.9,483.5h0.8v0.8h-0.8zM286.2,472.0h0.8v0.8h-0.8zM290.6,514.4h0.8v0.8h-0.8zM283.7,488.1h0.8v0.8h-0.8zM292.5,482.8h0.8v0.8h-0.8zM291.6,521.0h0.8v0.8h-0.8zM287.5,506.3h0.8v0.8h-0.8zM291.7,468.0h0.8v0.8h-0.8zM292.5,527.5h0.8v0.8h-0.8zM292.0,484.5h0.8v0.8h-0.8zM291.1,471.4h0.8v0.8h-0.8zM292.5,521.7h0.8v0.8h-0.8zM292.3,482.4h0.8v0.8h-0.8zM287.0,501.1h0.8v0.8h-0.8zM286.7,506.7h0.8v0.8h-0.8zM292.0,471.9h0.8v0.8h-0.8zM291.5,529.2h0.8v0.8h-0.8zM287.6,491.7h0.8v0.8h-0.8zM292.2,468.5h0.8v0.8h-0.8zM289.3,489.9h0.8v0.8h-0.8zM292.0,468.1h0.8v0.8h-0.8zM291.7,528.8h0.8v0.8h-0.8zM289.7,499.6h0.8v0.8h-0.8zM284.4,480.1h0.8v0.8h-0.8zM292.5,511.0h0.8v0.8h-0.8zM291.2,510.6h0.8v0.8h-0.8zM291.5,502.4h0.8v0.8h-0.8zM292.3,473.4h0.8v0.8h-0.8zM291.4,469.1h0.8v0.8h-0.8zM291.2,516.4h0.8v0.8h-0.8zM291.1,519.5h0.8v0.8h-0.8zM287.0,478.3h0.8v0.8h-0.8zM290.4,480.5h0.8v0.8h-0.8zM290.0,481.4h0.8v0.8h-0.8zM290.1,475.1h0.8v0.8h-0.8zM286.0,524.5h0.8v0.8h-0.8zM286.5,489.5h0.8v0.8h-0.8zM288.4,503.1h0.8v0.8h-0.8zM291.2,494.8h0.8v0.8h-0.8zM289.4,469.0h0.8v0.8h-0.8zM292.2,468.7h0.8v0.8h-0.8zM290.5,470.4h0.8v0.8h-0.8zM289.4,487.2h0.8v0.8h-0.8zM289.0,496.6h0.8v0.8h-0.8zM292.6,530.5h0.8v0.8h-0.8zM292.2,520.7h0.8v0.8h-0.8zM286.2,505.7h0.8v0.8h-0.8zM292.3,480.3h0.8v0.8h-0.8zM291.4,478.3h0.8v0.8h-0.8zM289.5,502.1h0.8v0.8h-0.8zM288.5,478.4h0.8v0.8h-0.8zM290.8,508.0h0.8v0.8h-0.8zM292.6,504.8h0.8v0.8h-0.8zM290.8,469.7h0.8v0.8h-0.8zM291.0,511.5h0.8v0.8h-0.8zM282.6,469.1h0.8v0.8h-0.8zM285.8,477.0h0.8v0.8h-0.8zM291.2,528.4h0.8v0.8h-0.8zM284.4,498.4h0.8v0.8h-0.8zM289.1,516.4h0.8v0.8h-0.8zM289.7,523.4h0.8v0.8h-0.8zM291.8,474.6h0.8v0.8h-0.8zM292.0,510.7h0.8v0.8h-0.8zM292.2,479.7h0.8v0.8h-0.8zM290.0,468.6h0.8v0.8h-0.8zM282.6,469.4h0.8v0.8h-0.8zM291.2,469.9h0.8v0.8h-0.8zM289.0,496.8h0.8v0.8h-0.8zM290.5,497.6h0.8v0.8h-0.8zM291.5,515.6h0.8v0.8h-0.8zM292.6,475.9h0.8v0.8h-0.8zM287.3,507.7h0.8v0.8h-0.8zM291.0,474.7h0.8v0.8h-0.8zM291.8,476.8h0.8v0.8h-0.8zM292.3,498.8h0.8v0.8h-0.8zM291.1,480.9h0.8v0.8h-0.8zM291.6,530.8h0.8v0.8h-0.8zM283.1,476.9h0.8v0.8h-0.8zM289.0,473.5h0.8v0.8h-0.8zM290.7,518.6h0.8v0.8h-0.8zM292.2,518.0h0.8v0.8h-0.8zM286.0,470.9h0.8v0.8h-0.8zM291.1,477.9h0.8v0.8h-0.8zM292.2,488.1h0.8v0.8h-0.8zM291.3,468.6h0.8v0.8h-0.8zM291.8,479.7h0.8v0.8h-0.8zM287.5,508.4h0.8v0.8h-0.8zM288.3,508.3h0.8v0.8h-0.8zM292.6,470.5h0.8v0.8h-0.8zM292.0,476.3h0.8v0.8h-0.8zM290.8,474.7h0.8v0.8h-0.8zM291.6,501.1h0.8v0.8h-0.8zM292.4,470.0h0.8v0.8h-0.8zM292.2,529.5h0.8v0.8h-0.8zM291.7,469.6h0.8v0.8h-0.8zM292.3,489.3h0.8v0.8h-0.8zM290.8,502.6h0.8v0.8h-0.8zM292.2,525.6h0.8v0.8h-0.8zM292.0,495.5h0.8v0.8h-0.8zM292.0,516.3h0.8v0.8h-0.8zM288.8,489.5h0.8v0.8h-0.8zM291.8,472.8h0.8v0.8h-0.8zM287.5,482.5h0.8v0.8h-0.8zM288.4,495.0h0.8v0.8h-0.8zM291.4,489.5h0.8v0.8h-0.8zM290.8,509.5h0.8v0.8h-0.8zM290.5,490.1h0.8v0.8h-0.8zM291.8,480.3h0.8v0.8h-0.8zM290.3,488.4h0.8v0.8h-0.8zM292.6,488.7h0.8v0.8h-0.8zM291.7,468.0h0.8v0.8h-0.8zM289.3,477.5h0.8v0.8h-0.8zM291.9,492.4h0.8v0.8h-0.8zM286.8,503.4h0.8v0.8h-0.8zM290.3,482.9h0.8v0.8h-0.8zM292.5,506.3h0.8v0.8h-0.8zM291.4,487.6h0.8v0.8h-0.8zM290.3,479.6h0.8v0.8h-0.8zM289.3,473.7h0.8v0.8h-0.8zM291.7,510.9h0.8v0.8h-0.8zM292.5,522.9h0.8v0.8h-0.8zM292.3,504.8h0.8v0.8h-0.8zM288.0,472.8h0.8v0.8h-0.8zM292.1,502.9h0.8v0.8h-0.8zM292.1,487.7h0.8v0.8h-0.8zM290.4,523.2h0.8v0.8h-0.8zM288.5,468.0h0.8v0.8h-0.8zM291.7,508.7h0.8v0.8h-0.8zM287.3,485.2h0.8v0.8h-0.8zM291.4,516.3h0.8v0.8h-0.8zM289.0,494.9h0.8v0.8h-0.8zM291.9,468.0h0.8v0.8h-0.8zM292.4,501.7h0.8v0.8h-0.8zM291.4,489.6h0.8v0.8h-0.8zM289.9,473.5h0.8v0.8h-0.8zM289.8,469.8h0.8v0.8h-0.8zM292.5,481.2h0.8v0.8h-0.8zM292.4,491.6h0.8v0.8h-0.8zM291.6,486.0h0.8v0.8h-0.8zM289.6,468.1h0.8v0.8h-0.8zM289.9,470.4h0.8v0.8h-0.8zM292.1,500.8h0.8v0.8h-0.8zM286.2,490.5h0.8v0.8h-0.8zM287.6,506.0h0.8v0.8h-0.8zM286.0,482.1h0.8v0.8h-0.8zM291.2,474.3h0.8v0.8h-0.8zM291.8,510.9h0.8v0.8h-0.8zM289.6,472.7h0.8v0.8h-0.8zM292.5,468.5h0.8v0.8h-0.8zM291.7,479.5h0.8v0.8h-0.8zM290.5,484.3h0.8v0.8h-0.8zM291.2,472.4h0.8v0.8h-0.8zM291.8,526.3h0.8v0.8h-0.8zM291.0,473.2h0.8v0.8h-0.8zM291.2,469.8h0.8v0.8h-0.8zM287.3,499.2h0.8v0.8h-0.8zM291.6,470.3h0.8v0.8h-0.8zM291.4,475.2h0.8v0.8h-0.8zM292.2,482.1h0.8v0.8h-0.8zM291.7,475.0h0.8v0.8h-0.8zM286.2,498.6h0.8v0.8h-0.8zM290.1,470.2h0.8v0.8h-0.8zM292.5,497.8h0.8v0.8h-0.8zM290.5,469.6h0.8v0.8h-0.8zM289.6,493.0h0.8v0.8h-0.8zM292.5,528.7h0.8v0.8h-0.8zM291.5,509.9h0.8v0.8h-0.8zM291.0,525.4h0.8v0.8h-0.8zM291.8,490.5h0.8v0.8h-0.8zM288.6,470.8h0.8v0.8h-0.8zM290.1,479.6h0.8v0.8h-0.8zM290.4,509.0h0.8v0.8h-0.8zM289.0,470.0h0.8v0.8h-0.8zM291.7,499.4h0.8v0.8h-0.8zM285.8,477.2h0.8v0.8h-0.8zM289.8,522.4h0.8v0.8h-0.8zM291.9,478.6h0.8v0.8h-0.8zM287.6,477.2h0.8v0.8h-0.8zM282.9,474.9h0.8v0.8h-0.8zM287.3,490.1h0.8v0.8h-0.8zM291.7,526.0h0.8v0.8h-0.8zM288.0,490.1h0.8v0.8h-0.8zM291.3,505.9h0.8v0.8h-0.8zM291.5,488.8h0.8v0.8h-0.8zM290.2,468.9h0.8v0.8h-0.8zM291.2,493.4h0.8v0.8h-0.8zM288.0,494.0h0.8v0.8h-0.8zM286.0,494.2h0.8v0.8h-0.8zM290.7,476.1h0.8v0.8h-0.8zM292.2,474.7h0.8v0.8h-0.8zM290.6,477.5h0.8v0.8h-0.8zM289.0,468.2h0.8v0.8h-0.8zM287.3,470.8h0.8v0.8h-0.8zM292.6,475.5h0.8v0.8h-0.8zM292.0,488.2h0.8v0.8h-0.8zM291.1,521.8h0.8v0.8h-0.8zM292.4,502.4h0.8v0.8h-0.8zM291.2,488.5h0.8v0.8h-0.8zM292.5,503.8h0.8v0.8h-0.8zM290.6,483.9h0.8v0.8h-0.8zM292.3,468.4h0.8v0.8h-0.8zM290.9,501.2h0.8v0.8h-0.8zM290.5,502.8h0.8v0.8h-0.8zM288.2,498.7h0.8v0.8h-0.8zM290.9,516.0h0.8v0.8h-0.8zM290.2,509.4h0.8v0.8h-0.8zM292.3,513.8h0.8v0.8h-0.8zM283.7,468.3h0.8v0.8h-0.8zM291.4,531.0h0.8v0.8h-0.8zM292.4,493.6h0.8v0.8h-0.8zM288.2,493.9h0.8v0.8h-0.8zM290.6,495.4h0.8v0.8h-0.8zM289.8,474.8h0.8v0.8h-0.8zM290.7,476.3h0.8v0.8h-0.8zM285.6,518.4h0.8v0.8h-0.8zM291.3,494.5h0.8v0.8h-0.8zM292.5,526.8h0.8v0.8h-0.8zM292.4,472.4h0.8v0.8h-0.8zM291.2,493.4h0.8v0.8h-0.8zM291.4,494.4h0.8v0.8h-0.8zM286.2,468.2h0.8v0.8h-0.8zM287.1,496.4h0.8v0.8h-0.8zM292.6,480.4h0.8v0.8h-0.8zM291.2,483.0h0.8v0.8h-0.8zM292.2,471.6h0.8v0.8h-0.8zM286.4,494.0h0.8v0.8h-0.8zM289.2,500.2h0.8v0.8h-0.8zM291.6,519.9h0.8v0.8h-0.8zM291.1,515.0h0.8v0.8h-0.8zM292.5,528.9h0.8v0.8h-0.8zM292.3,528.4h0.8v0.8h-0.8zM291.0,502.4h0.8v0.8h-0.8zM291.1,475.3h0.8v0.8h-0.8zM288.4,490.1h0.8v0.8h-0.8zM291.6,468.9h0.8v0.8h-0.8zM287.1,492.0h0.8v0.8h-0.8zM292.4,476.4h0.8v0.8h-0.8zM292.3,489.9h0.8v0.8h-0.8zM290.7,506.6h0.8v0.8h-0.8zM292.1,468.5h0.8v0.8h-0.8zM285.6,518.3h0.8v0.8h-0.8zM285.0,468.2h0.8v0.8h-0.8zM291.8,486.7h0.8v0.8h-0.8zM290.5,472.7h0.8v0.8h-0.8zM288.8,468.3h0.8v0.8h-0.8zM286.6,486.1h0.8v0.8h-0.8zM286.6,474.5h0.8v0.8h-0.8zM291.4,468.9h0.8v0.8h-0.8zM290.7,513.4h0.8v0.8h-0.8zM291.1,473.8h0.8v0.8h-0.8zM288.1,524.5h0.8v0.8h-0.8zM289.4,495.1h0.8v0.8h-0.8zM292.4,478.8h0.8v0.8h-0.8zM290.5,468.5h0.8v0.8h-0.8zM291.1,516.3h0.8v0.8h-0.8zM292.0,469.5h0.8v0.8h-0.8zM291.3,509.0h0.8v0.8h-0.8zM289.6,489.3h0.8v0.8h-0.8zM288.2,484.6h0.8v0.8h-0.8zM288.6,468.9h0.8v0.8h-0.8zM287.4,482.4h0.8v0.8h-0.8zM290.8,468.1h0.8v0.8h-0.8zM292.2,507.8h0.8v0.8h-0.8zM291.2,503.0h0.8v0.8h-0.8zM291.1,470.1h0.8v0.8h-0.8zM292.3,488.0h0.8v0.8h-0.8zM291.6,471.4h0.8v0.8h-0.8zM290.0,503.4h0.8v0.8h-0.8zM285.2,471.7h0.8v0.8h-0.8zM285.7,471.2h0.8v0.8h-0.8zM291.6,475.4h0.8v0.8h-0.8zM291.1,528.0h0.8v0.8h-0.8zM291.9,512.8h0.8v0.8h-0.8zM289.2,481.5h0.8v0.8h-0.8zM292.2,510.6h0.8v0.8h-0.8zM290.4,479.2h0.8v0.8h-0.8zM291.9,471.7h0.8v0.8h-0.8zM292.3,520.4h0.8v0.8h-0.8zM289.2,468.2h0.8v0.8h-0.8zM292.2,510.5h0.8v0.8h-0.8zM291.0,526.8h0.8v0.8h-0.8zM291.5,468.9h0.8v0.8h-0.8zM292.6,516.7h0.8v0.8h-0.8zM289.5,509.3h0.8v0.8h-0.8zM285.1,468.3h0.8v0.8h-0.8zM291.3,483.9h0.8v0.8h-0.8zM290.3,474.4h0.8v0.8h-0.8zM289.4,480.4h0.8v0.8h-0.8zM287.0,480.3h0.8v0.8h-0.8zM292.1,481.0h0.8v0.8h-0.8zM287.4,468.0h0.8v0.8h-0.8zM287.6,474.9h0.8v0.8h-0.8zM291.8,475.7h0.8v0.8h-0.8zM291.4,498.2h0.8v0.8h-0.8zM292.6,502.0h0.8v0.8h-0.8zM292.0,506.7h0.8v0.8h-0.8zM291.7,497.3h0.8v0.8h-0.8zM288.5,520.1h0.8v0.8h-0.8zM288.6,491.2h0.8v0.8h-0.8zM292.0,476.8h0.8v0.8h-0.8zM290.9,468.3h0.8v0.8h-0.8zM284.8,504.6h0.8v0.8h-0.8zM291.1,491.7h0.8v0.8h-0.8zM289.4,470.9h0.8v0.8h-0.8zM289.4,488.2h0.8v0.8h-0.8zM292.1,525.2h0.8v0.8h-0.8zM292.5,494.8h0.8v0.8h-0.8zM287.2,476.6h0.8v0.8h-0.8zM292.0,511.7h0.8v0.8h-0.8zM292.5,481.0h0.8v0.8h-0.8zM285.8,468.0h0.8v0.8h-0.8zM292.4,468.9h0.8v0.8h-0.8zM292.6,526.9h0.8v0.8h-0.8zM291.3,469.1h0.8v0.8h-0.8zM288.7,509.6h0.8v0.8h-0.8zM290.1,468.2h0.8v0.8h-0.8zM289.9,482.6h0.8v0.8h-0.8zM292.3,475.3h0.8v0.8h-0.8zM290.3,478.3h0.8v0.8h-0.8zM291.1,469.1h0.8v0.8h-0.8zM291.6,481.4h0.8v0.8h-0.8zM291.5,507.4h0.8v0.8h-0.8zM291.6,489.1h0.8v0.8h-0.8zM292.2,470.0h0.8v0.8h-0.8zM291.5,511.6h0.8v0.8h-0.8zM291.4,517.8h0.8v0.8h-0.8zM290.2,484.6h0.8v0.8h-0.8zM289.7,479.1h0.8v0.8h-0.8zM288.1,468.1h0.8v0.8h-0.8zM290.6,468.7h0.8v0.8h-0.8zM290.2,479.9h0.8v0.8h-0.8zM291.3,469.6h0.8v0.8h-0.8zM291.3,527.8h0.8v0.8h-0.8zM291.7,497.8h0.8v0.8h-0.8zM290.5,476.7h0.8v0.8h-0.8zM286.2,493.3h0.8v0.8h-0.8zM289.3,471.0h0.8v0.8h-0.8zM291.7,522.4h0.8v0.8h-0.8zM289.2,487.4h0.8v0.8h-0.8zM291.3,502.3h0.8v0.8h-0.8zM292.5,471.5h0.8v0.8h-0.8zM291.9,485.7h0.8v0.8h-0.8zM287.6,503.5h0.8v0.8h-0.8zM283.5,480.6h0.8v0.8h-0.8zM284.8,468.6h0.8v0.8h-0.8zM292.2,485.4h0.8v0.8h-0.8zM285.3,513.3h0.8v0.8h-0.8zM292.3,485.0h0.8v0.8h-0.8zM292.3,528.8h0.8v0.8h-0.8zM289.6,491.5h0.8v0.8h-0.8zM292.3,519.0h0.8v0.8h-0.8zM292.3,468.2h0.8v0.8h-0.8zM292.3,496.8h0.8v0.8h-0.8zM292.2,488.1h0.8v0.8h-0.8zM290.7,479.0h0.8v0.8h-0.8zM289.1,520.9h0.8v0.8h-0.8zM290.2,469.1h0.8v0.8h-0.8zM291.5,486.5h0.8v0.8h-0.8zM291.7,476.4h0.8v0.8h-0.8zM292.0,526.8h0.8v0.8h-0.8zM291.0,509.4h0.8v0.8h-0.8zM288.2,472.1h0.8v0.8h-0.8zM291.2,469.9h0.8v0.8h-0.8zM292.2,468.1h0.8v0.8h-0.8zM290.8,471.4h0.8v0.8h-0.8zM292.6,523.6h0.8v0.8h-0.8zM287.6,518.0h0.8v0.8h-0.8zM290.7,511.1h0.8v0.8h-0.8zM290.4,481.3h0.8v0.8h-0.8zM285.5,486.2h0.8v0.8h-0.8zM292.4,492.6h0.8v0.8h-0.8zM291.5,512.1h0.8v0.8h-0.8zM292.4,468.0h0.8v0.8h-0.8zM284.6,471.5h0.8v0.8h-0.8zM292.3,493.1h0.8v0.8h-0.8zM288.2,470.3h0.8v0.8h-0.8zM288.3,524.5h0.8v0.8h-0.8zM288.4,468.3h0.8v0.8h-0.8zM292.2,528.2h0.8v0.8h-0.8zM288.4,472.6h0.8v0.8h-0.8zM285.1,471.9h0.8v0.8h-0.8zM290.7,482.7h0.8v0.8h-0.8zM292.0,497.3h0.8v0.8h-0.8zM291.6,528.8h0.8v0.8h-0.8zM289.4,485.9h0.8v0.8h-0.8zM291.8,520.5h0.8v0.8h-0.8zM291.7,519.7h0.8v0.8h-0.8zM292.5,529.3h0.8v0.8h-0.8zM291.2,479.1h0.8v0.8h-0.8zM292.0,485.7h0.8v0.8h-0.8zM292.2,468.1h0.8v0.8h-0.8zM290.7,480.4h0.8v0.8h-0.8zM284.4,478.8h0.8v0.8h-0.8zM291.9,469.8h0.8v0.8h-0.8zM289.2,514.1h0.8v0.8h-0.8zM292.0,475.2h0.8v0.8h-0.8zM290.9,470.0h0.8v0.8h-0.8zM292.3,469.6h0.8v0.8h-0.8zM290.4,468.1h0.8v0.8h-0.8zM292.6,507.1h0.8v0.8h-0.8zM288.7,489.5h0.8v0.8h-0.8zM291.4,489.0h0.8v0.8h-0.8zM283.4,482.1h0.8v0.8h-0.8zM292.2,527.2h0.8v0.8h-0.8zM287.0,480.1h0.8v0.8h-0.8zM292.6,485.8h0.8v0.8h-0.8zM291.6,501.5h0.8v0.8h-0.8zM292.2,523.6h0.8v0.8h-0.8zM292.3,516.6h0.8v0.8h-0.8zM292.3,518.8h0.8v0.8h-0.8zM289.5,471.5h0.8v0.8h-0.8zM290.8,525.2h0.8v0.8h-0.8zM289.3,513.3h0.8v0.8h-0.8zM289.8,477.6h0.8v0.8h-0.8zM290.4,511.6h0.8v0.8h-0.8zM292.6,526.0h0.8v0.8h-0.8zM290.8,506.0h0.8v0.8h-0.8zM291.7,505.6h0.8v0.8h-0.8zM290.1,514.7h0.8v0.8h-0.8zM291.0,518.6h0.8v0.8h-0.8zM288.2,509.4h0.8v0.8h-0.8zM290.7,468.8h0.8v0.8h-0.8zM292.6,472.4h0.8v0.8h-0.8zM288.2,469.7h0.8v0.8h-0.8zM290.0,485.2h0.8v0.8h-0.8zM290.1,468.6h0.8v0.8h-0.8zM291.0,490.8h0.8v0.8h-0.8zM290.0,523.1h0.8v0.8h-0.8zM291.8,529.0h0.8v0.8h-0.8zM292.0,468.2h0.8v0.8h-0.8zM292.3,500.9h0.8v0.8h-0.8zM288.7,470.3h0.8v0.8h-0.8zM292.4,517.0h0.8v0.8h-0.8zM291.6,468.2h0.8v0.8h-0.8zM289.9,469.3h0.8v0.8h-0.8zM287.2,477.3h0.8v0.8h-0.8zM292.1,468.0h0.8v0.8h-0.8zM292.6,499.3h0.8v0.8h-0.8zM290.3,472.3h0.8v0.8h-0.8zM290.2,504.0h0.8v0.8h-0.8zM290.3,525.7h0.8v0.8h-0.8zM290.9,485.5h0.8v0.8h-0.8zM289.5,485.5h0.8v0.8h-0.8zM291.3,530.6h0.8v0.8h-0.8zM292.0,476.8h0.8v0.8h-0.8zM292.1,519.3h0.8v0.8h-0.8zM287.7,503.5h0.8v0.8h-0.8zM291.6,468.0h0.8v0.8h-0.8zM289.8,476.0h0.8v0.8h-0.8zM291.8,504.1h0.8v0.8h-0.8zM287.1,468.3h0.8v0.8h-0.8zM291.3,516.5h0.8v0.8h-0.8zM288.3,521.9h0.8v0.8h-0.8zM289.9,507.5h0.8v0.8h-0.8zM292.2,512.1h0.8v0.8h-0.8zM292.4,494.2h0.8v0.8h-0.8zM290.9,511.9h0.8v0.8h-0.8zM287.8,485.3h0.8v0.8h-0.8zM291.8,481.7h0.8v0.8h-0.8zM291.9,502.6h0.8v0.8h-0.8zM292.6,485.2h0.8v0.8h-0.8zM290.0,476.6h0.8v0.8h-0.8zM291.0,474.6h0.8v0.8h-0.8zM289.0,483.4h0.8v0.8h-0.8zM288.9,480.3h0.8v0.8h-0.8zM290.2,507.0h0.8v0.8h-0.8zM290.2,509.7h0.8v0.8h-0.8zM289.8,511.0h0.8v0.8h-0.8zM290.7,515.3h0.8v0.8h-0.8zM290.5,479.2h0.8v0.8h-0.8zM291.9,479.6h0.8v0.8h-0.8zM292.1,514.7h0.8v0.8h-0.8zM291.7,471.4h0.8v0.8h-0.8zM288.0,502.5h0.8v0.8h-0.8zM287.7,489.1h0.8v0.8h-0.8zM291.2,499.6h0.8v0.8h-0.8zM287.2,502.1h0.8v0.8h-0.8zM291.6,499.8h0.8v0.8h-0.8zM291.9,473.4h0.8v0.8h-0.8zM291.7,468.1h0.8v0.8h-0.8zM291.6,526.0h0.8v0.8h-0.8zM291.1,520.4h0.8v0.8h-0.8zM290.7,487.7h0.8v0.8h-0.8zM292.4,499.2h0.8v0.8h-0.8zM288.0,469.1h0.8v0.8h-0.8zM292.3,484.7h0.8v0.8h-0.8zM291.5,493.5h0.8v0.8h-0.8zM288.8,502.3h0.8v0.8h-0.8zM292.4,472.8h0.8v0.8h-0.8zM291.5,469.1h0.8v0.8h-0.8zM291.0,526.9h0.8v0.8h-0.8zM291.7,515.7h0.8v0.8h-0.8zM288.8,471.4h0.8v0.8h-0.8zM292.1,513.2h0.8v0.8h-0.8zM288.7,512.2h0.8v0.8h-0.8zM286.8,471.5h0.8v0.8h-0.8zM291.7,511.5h0.8v0.8h-0.8zM291.1,480.3h0.8v0.8h-0.8zM287.5,477.8h0.8v0.8h-0.8zM292.4,470.8h0.8v0.8h-0.8zM292.1,493.8h0.8v0.8h-0.8zM289.7,495.4h0.8v0.8h-0.8zM289.2,488.1h0.8v0.8h-0.8zM292.6,469.3h0.8v0.8h-0.8zM290.6,510.7h0.8v0.8h-0.8zM292.5,476.9h0.8v0.8h-0.8zM292.1,474.6h0.8v0.8h-0.8zM291.8,497.6h0.8v0.8h-0.8zM291.9,471.6h0.8v0.8h-0.8zM287.0,521.7h0.8v0.8h-0.8zM291.7,498.1h0.8v0.8h-0.8zM290.5,510.1h0.8v0.8h-0.8zM289.3,478.1h0.8v0.8h-0.8zM290.7,482.9h0.8v0.8h-0.8zM292.3,474.0h0.8v0.8h-0.8zM287.8,474.0h0.8v0.8h-0.8zM287.4,482.1h0.8v0.8h-0.8zM285.1,509.9h0.8v0.8h-0.8zM284.0,487.6h0.8v0.8h-0.8zM292.4,514.2h0.8v0.8h-0.8zM289.6,469.5h0.8v0.8h-0.8zM288.4,475.6h0.8v0.8h-0.8zM292.6,468.2h0.8v0.8h-0.8zM288.9,522.0h0.8v0.8h-0.8zM292.4,468.6h0.8v0.8h-0.8zM291.2,490.2h0.8v0.8h-0.8zM290.6,500.2h0.8v0.8h-0.8zM290.1,472.2h0.8v0.8h-0.8zM291.9,528.9h0.8v0.8h-0.8zM289.5,528.9h0.8v0.8h-0.8zM291.7,473.5h0.8v0.8h-0.8zM291.7,470.2h0.8v0.8h-0.8zM291.1,498.3h0.8v0.8h-0.8zM283.8,488.4h0.8v0.8h-0.8zM289.3,494.8h0.8v0.8h-0.8zM287.3,495.8h0.8v0.8h-0.8zM286.1,526.4h0.8v0.8h-0.8zM289.7,508.3h0.8v0.8h-0.8zM288.6,476.7h0.8v0.8h-0.8zM291.5,506.4h0.8v0.8h-0.8zM289.3,484.2h0.8v0.8h-0.8zM291.7,528.4h0.8v0.8h-0.8zM283.6,485.9h0.8v0.8h-0.8zM291.9,468.0h0.8v0.8h-0.8zM291.5,522.4h0.8v0.8h-0.8zM289.5,475.1h0.8v0.8h-0.8zM291.7,513.1h0.8v0.8h-0.8zM288.4,495.3h0.8v0.8h-0.8zM288.6,506.1h0.8v0.8h-0.8zM286.7,505.7h0.8v0.8h-0.8zM292.5,521.2h0.8v0.8h-0.8zM292.1,514.2h0.8v0.8h-0.8zM292.5,497.9h0.8v0.8h-0.8zM291.8,477.4h0.8v0.8h-0.8zM291.5,487.0h0.8v0.8h-0.8zM286.9,475.2h0.8v0.8h-0.8zM292.1,477.9h0.8v0.8h-0.8zM290.1,484.9h0.8v0.8h-0.8zM289.5,482.6h0.8v0.8h-0.8zM286.7,475.7h0.8v0.8h-0.8zM287.7,476.3h0.8v0.8h-0.8zM288.6,476.7h0.8v0.8h-0.8zM289.7,471.8h0.8v0.8h-0.8zM284.1,493.2h0.8v0.8h-0.8zM290.6,469.1h0.8v0.8h-0.8zM285.5,473.9h0.8v0.8h-0.8zM292.3,471.1h0.8v0.8h-0.8zM290.3,502.9h0.8v0.8h-0.8zM291.8,475.2h0.8v0.8h-0.8zM292.1,469.3h0.8v0.8h-0.8zM288.1,513.1h0.8v0.8h-0.8zM292.2,483.5h0.8v0.8h-0.8zM291.4,511.5h0.8v0.8h-0.8zM292.0,477.1h0.8v0.8h-0.8zM290.8,478.4h0.8v0.8h-0.8zM289.8,491.4h0.8v0.8h-0.8zM291.4,468.7h0.8v0.8h-0.8zM286.6,528.5h0.8v0.8h-0.8zM290.0,470.1h0.8v0.8h-0.8zM288.8,522.0h0.8v0.8h-0.8zM290.6,499.0h0.8v0.8h-0.8zM292.5,507.9h0.8v0.8h-0.8zM289.6,472.4h0.8v0.8h-0.8zM287.2,519.9h0.8v0.8h-0.8zM286.7,489.8h0.8v0.8h-0.8zM283.4,482.0h0.8v0.8h-0.8zM291.9,471.8h0.8v0.8h-0.8zM295.8,473.0h0.8v0.8h-0.8zM307.2,461.9h0.8v0.8h-0.8zM311.7,462.3h0.8v0.8h-0.8zM292.2,466.4h0.8v0.8h-0.8zM298.0,476.6h0.8v0.8h-0.8zM312.9,461.0h0.8v0.8h-0.8zM313.1,458.9h0.8v0.8h-0.8zM307.9,468.1h0.8v0.8h-0.8zM302.3,464.4h0.8v0.8h-0.8zM290.3,489.5h0.8v0.8h-0.8zM304.3,464.7h0.8v0.8h-0.8zM296.2,472.8h0.8v0.8h-0.8zM286.9,486.2h0.8v0.8h-0.8zM296.7,470.6h0.8v0.8h-0.8zM300.9,478.6h0.8v0.8h-0.8zM310.4,467.9h0.8v0.8h-0.8zM283.6,495.5h0.8v0.8h-0.8zM297.7,468.8h0.8v0.8h-0.8zM309.2,460.9h0.8v0.8h-0.8zM284.6,470.6h0.8v0.8h-0.8zM304.7,461.6h0.8v0.8h-0.8zM296.7,467.7h0.8v0.8h-0.8zM283.5,500.8h0.8v0.8h-0.8zM283.2,481.3h0.8v0.8h-0.8zM315.2,461.5h0.8v0.8h-0.8zM288.0,469.2h0.8v0.8h-0.8zM313.9,461.2h0.8v0.8h-0.8zM300.5,462.7h0.8v0.8h-0.8zM294.9,468.2h0.8v0.8h-0.8zM301.4,465.6h0.8v0.8h-0.8zM290.4,492.6h0.8v0.8h-0.8zM283.6,473.5h0.8v0.8h-0.8zM312.3,465.6h0.8v0.8h-0.8zM288.1,466.4h0.8v0.8h-0.8zM306.6,461.8h0.8v0.8h-0.8zM293.4,478.1h0.8v0.8h-0.8zM295.1,467.9h0.8v0.8h-0.8zM293.9,463.5h0.8v0.8h-0.8zM285.4,472.5h0.8v0.8h-0.8zM297.4,471.1h0.8v0.8h-0.8zM287.3,492.8h0.8v0.8h-0.8zM284.3,471.7h0.8v0.8h-0.8zM301.3,460.7h0.8v0.8h-0.8zM286.3,486.0h0.8v0.8h-0.8zM302.4,467.6h0.8v0.8h-0.8zM289.8,469.8h0.8v0.8h-0.8zM310.8,461.9h0.8v0.8h-0.8zM305.4,462.7h0.8v0.8h-0.8zM294.3,474.8h0.8v0.8h-0.8zM309.8,466.4h0.8v0.8h-0.8zM288.1,467.4h0.8v0.8h-0.8zM304.3,474.9h0.8v0.8h-0.8zM297.9,463.9h0.8v0.8h-0.8zM287.4,474.6h0.8v0.8h-0.8zM311.4,459.0h0.8v0.8h-0.8zM314.7,461.0h0.8v0.8h-0.8zM300.2,462.6h0.8v0.8h-0.8zM310.6,462.2h0.8v0.8h-0.8zM284.3,475.9h0.8v0.8h-0.8zM310.1,463.5h0.8v0.8h-0.8zM296.1,478.8h0.8v0.8h-0.8zM307.1,463.5h0.8v0.8h-0.8zM314.6,463.8h0.8v0.8h-0.8zM293.5,462.7h0.8v0.8h-0.8zM305.0,464.5h0.8v0.8h-0.8zM304.6,460.4h0.8v0.8h-0.8zM310.9,468.1h0.8v0.8h-0.8zM302.1,464.5h0.8v0.8h-0.8zM311.1,464.0h0.8v0.8h-0.8zM286.2,477.8h0.8v0.8h-0.8zM301.7,466.8h0.8v0.8h-0.8zM295.2,464.0h0.8v0.8h-0.8zM293.9,483.6h0.8v0.8h-0.8zM289.3,473.0h0.8v0.8h-0.8zM313.6,460.1h0.8v0.8h-0.8zM309.2,459.3h0.8v0.8h-0.8zM305.2,463.8h0.8v0.8h-0.8zM305.2,466.4h0.8v0.8h-0.8zM312.7,460.4h0.8v0.8h-0.8zM313.5,459.9h0.8v0.8h-0.8zM283.0,491.0h0.8v0.8h-0.8zM284.8,481.2h0.8v0.8h-0.8zM305.9,461.4h0.8v0.8h-0.8zM306.2,468.6h0.8v0.8h-0.8zM285.0,468.2h0.8v0.8h-0.8zM315.0,463.2h0.8v0.8h-0.8zM283.3,494.5h0.8v0.8h-0.8zM304.0,462.3h0.8v0.8h-0.8zM283.6,499.3h0.8v0.8h-0.8zM294.8,485.2h0.8v0.8h-0.8zM303.1,461.6h0.8v0.8h-0.8zM301.1,471.1h0.8v0.8h-0.8zM311.2,463.6h0.8v0.8h-0.8zM302.2,461.1h0.8v0.8h-0.8zM311.9,460.4h0.8v0.8h-0.8zM296.3,464.1h0.8v0.8h-0.8zM291.8,475.9h0.8v0.8h-0.8zM292.3,473.6h0.8v0.8h-0.8zM301.7,480.4h0.8v0.8h-0.8zM308.0,460.7h0.8v0.8h-0.8zM294.3,469.8h0.8v0.8h-0.8zM309.7,461.0h0.8v0.8h-0.8zM314.1,460.9h0.8v0.8h-0.8zM294.1,473.1h0.8v0.8h-0.8zM289.0,486.1h0.8v0.8h-0.8zM315.1,463.1h0.8v0.8h-0.8zM296.7,464.1h0.8v0.8h-0.8zM285.3,470.4h0.8v0.8h-0.8zM294.3,475.2h0.8v0.8h-0.8zM305.3,470.5h0.8v0.8h-0.8zM283.2,495.5h0.8v0.8h-0.8zM290.3,468.3h0.8v0.8h-0.8zM299.1,465.7h0.8v0.8h-0.8zM300.0,461.6h0.8v0.8h-0.8zM298.1,470.4h0.8v0.8h-0.8zM290.3,469.7h0.8v0.8h-0.8zM285.7,476.9h0.8v0.8h-0.8zM284.7,481.9h0.8v0.8h-0.8zM296.3,464.0h0.8v0.8h-0.8zM285.0,470.7h0.8v0.8h-0.8zM309.7,464.3h0.8v0.8h-0.8zM315.7,462.4h0.8v0.8h-0.8zM282.9,502.5h0.8v0.8h-0.8zM301.6,467.3h0.8v0.8h-0.8zM290.8,466.1h0.8v0.8h-0.8zM311.5,459.8h0.8v0.8h-0.8zM287.1,498.4h0.8v0.8h-0.8zM301.1,470.5h0.8v0.8h-0.8zM313.8,462.4h0.8v0.8h-0.8zM310.1,462.3h0.8v0.8h-0.8zM299.4,463.8h0.8v0.8h-0.8zM299.5,472.3h0.8v0.8h-0.8zM296.4,476.0h0.8v0.8h-0.8zM311.7,468.9h0.8v0.8h-0.8zM302.7,471.8h0.8v0.8h-0.8zM297.9,466.3h0.8v0.8h-0.8zM283.6,495.7h0.8v0.8h-0.8zM289.9,470.5h0.8v0.8h-0.8zM287.0,485.2h0.8v0.8h-0.8zM283.6,472.2h0.8v0.8h-0.8zM306.2,461.4h0.8v0.8h-0.8zM283.8,481.6h0.8v0.8h-0.8zM312.7,460.7h0.8v0.8h-0.8zM283.8,493.4h0.8v0.8h-0.8zM309.6,464.3h0.8v0.8h-0.8zM306.2,471.1h0.8v0.8h-0.8zM293.9,471.9h0.8v0.8h-0.8zM293.4,473.0h0.8v0.8h-0.8zM296.6,469.4h0.8v0.8h-0.8zM311.6,460.3h0.8v0.8h-0.8zM283.8,472.5h0.8v0.8h-0.8zM283.3,497.6h0.8v0.8h-0.8zM292.5,478.4h0.8v0.8h-0.8zM314.1,463.3h0.8v0.8h-0.8zM306.7,463.4h0.8v0.8h-0.8zM285.6,471.2h0.8v0.8h-0.8zM307.9,469.6h0.8v0.8h-0.8zM294.5,467.7h0.8v0.8h-0.8zM296.8,475.2h0.8v0.8h-0.8zM289.4,465.3h0.8v0.8h-0.8zM310.4,462.0h0.8v0.8h-0.8zM290.7,477.0h0.8v0.8h-0.8zM316.7,465.7h0.8v0.8h-0.8zM300.7,462.3h0.8v0.8h-0.8zM291.7,490.2h0.8v0.8h-0.8zM310.8,465.9h0.8v0.8h-0.8zM313.3,461.1h0.8v0.8h-0.8zM287.0,468.2h0.8v0.8h-0.8zM306.2,473.6h0.8v0.8h-0.8zM287.5,479.6h0.8v0.8h-0.8zM312.0,464.6h0.8v0.8h-0.8zM284.2,474.7h0.8v0.8h-0.8zM286.8,466.7h0.8v0.8h-0.8zM302.0,465.2h0.8v0.8h-0.8zM296.5,473.4h0.8v0.8h-0.8zM288.2,468.8h0.8v0.8h-0.8zM306.6,473.3h0.8v0.8h-0.8zM295.7,476.9h0.8v0.8h-0.8zM303.6,460.5h0.8v0.8h-0.8zM313.9,460.6h0.8v0.8h-0.8zM282.6,497.5h0.8v0.8h-0.8zM288.4,484.2h0.8v0.8h-0.8zM295.2,477.9h0.8v0.8h-0.8zM285.3,471.4h0.8v0.8h-0.8zM307.5,471.9h0.8v0.8h-0.8zM292.6,477.0h0.8v0.8h-0.8zM314.2,461.3h0.8v0.8h-0.8zM312.1,465.2h0.8v0.8h-0.8zM290.9,466.7h0.8v0.8h-0.8zM283.9,494.9h0.8v0.8h-0.8zM310.4,461.0h0.8v0.8h-0.8zM312.5,460.0h0.8v0.8h-0.8zM311.3,465.0h0.8v0.8h-0.8zM285.6,474.0h0.8v0.8h-0.8zM305.0,473.3h0.8v0.8h-0.8zM282.6,492.1h0.8v0.8h-0.8zM301.7,469.9h0.8v0.8h-0.8zM305.3,463.3h0.8v0.8h-0.8zM298.5,466.5h0.8v0.8h-0.8zM306.7,461.8h0.8v0.8h-0.8zM283.4,472.4h0.8v0.8h-0.8zM290.6,465.2h0.8v0.8h-0.8zM304.9,460.9h0.8v0.8h-0.8zM308.4,466.3h0.8v0.8h-0.8zM314.1,461.6h0.8v0.8h-0.8zM285.5,472.4h0.8v0.8h-0.8zM293.5,467.1h0.8v0.8h-0.8zM310.7,460.6h0.8v0.8h-0.8zM283.9,471.0h0.8v0.8h-0.8zM297.6,464.8h0.8v0.8h-0.8zM290.0,475.3h0.8v0.8h-0.8zM311.6,468.7h0.8v0.8h-0.8zM310.3,466.2h0.8v0.8h-0.8zM296.3,466.2h0.8v0.8h-0.8zM290.8,472.6h0.8v0.8h-0.8zM298.1,462.6h0.8v0.8h-0.8zM305.8,462.0h0.8v0.8h-0.8zM309.9,462.1h0.8v0.8h-0.8zM286.7,477.1h0.8v0.8h-0.8zM301.1,470.1h0.8v0.8h-0.8zM294.9,466.6h0.8v0.8h-0.8zM282.9,498.9h0.8v0.8h-0.8zM311.6,459.8h0.8v0.8h-0.8zM303.5,467.0h0.8v0.8h-0.8zM291.8,478.6h0.8v0.8h-0.8zM292.4,465.1h0.8v0.8h-0.8zM289.7,467.9h0.8v0.8h-0.8zM308.8,465.3h0.8v0.8h-0.8zM296.1,472.1h0.8v0.8h-0.8zM307.5,467.6h0.8v0.8h-0.8zM311.2,464.1h0.8v0.8h-0.8zM307.7,459.7h0.8v0.8h-0.8zM308.0,460.7h0.8v0.8h-0.8zM309.8,470.0h0.8v0.8h-0.8zM286.3,468.4h0.8v0.8h-0.8zM290.8,469.0h0.8v0.8h-0.8zM304.2,471.2h0.8v0.8h-0.8zM288.1,466.4h0.8v0.8h-0.8zM305.6,470.4h0.8v0.8h-0.8zM283.1,482.7h0.8v0.8h-0.8zM299.0,464.4h0.8v0.8h-0.8zM290.4,467.4h0.8v0.8h-0.8zM315.2,462.8h0.8v0.8h-0.8zM287.9,485.4h0.8v0.8h-0.8zM313.3,460.6h0.8v0.8h-0.8zM293.5,468.1h0.8v0.8h-0.8zM296.8,468.4h0.8v0.8h-0.8zM294.8,480.0h0.8v0.8h-0.8zM297.3,467.2h0.8v0.8h-0.8zM305.7,462.9h0.8v0.8h-0.8zM293.0,487.3h0.8v0.8h-0.8zM310.1,464.7h0.8v0.8h-0.8zM300.5,472.1h0.8v0.8h-0.8zM308.4,466.6h0.8v0.8h-0.8zM297.9,469.9h0.8v0.8h-0.8zM305.0,462.6h0.8v0.8h-0.8zM284.1,482.6h0.8v0.8h-0.8zM314.2,464.0h0.8v0.8h-0.8zM293.0,464.7h0.8v0.8h-0.8zM309.5,460.8h0.8v0.8h-0.8zM301.4,464.0h0.8v0.8h-0.8zM298.9,475.0h0.8v0.8h-0.8zM286.9,471.1h0.8v0.8h-0.8zM302.1,465.3h0.8v0.8h-0.8zM302.4,466.5h0.8v0.8h-0.8zM285.4,497.5h0.8v0.8h-0.8zM284.2,470.1h0.8v0.8h-0.8zM284.5,470.3h0.8v0.8h-0.8zM310.7,469.2h0.8v0.8h-0.8zM314.1,460.2h0.8v0.8h-0.8zM305.5,462.5h0.8v0.8h-0.8zM284.0,501.5h0.8v0.8h-0.8zM308.7,461.1h0.8v0.8h-0.8zM314.5,459.4h0.8v0.8h-0.8zM285.8,494.0h0.8v0.8h-0.8zM292.6,480.4h0.8v0.8h-0.8zM315.0,461.5h0.8v0.8h-0.8zM283.1,470.2h0.8v0.8h-0.8zM305.2,469.9h0.8v0.8h-0.8zM314.0,461.2h0.8v0.8h-0.8zM286.2,474.1h0.8v0.8h-0.8zM307.6,462.2h0.8v0.8h-0.8zM302.2,463.8h0.8v0.8h-0.8zM315.4,460.2h0.8v0.8h-0.8zM288.5,473.4h0.8v0.8h-0.8zM303.9,465.3h0.8v0.8h-0.8zM296.0,485.1h0.8v0.8h-0.8zM310.5,459.1h0.8v0.8h-0.8zM301.6,467.6h0.8v0.8h-0.8zM301.5,462.8h0.8v0.8h-0.8zM286.9,470.7h0.8v0.8h-0.8zM289.4,466.7h0.8v0.8h-0.8zM303.3,478.3h0.8v0.8h-0.8zM301.0,462.5h0.8v0.8h-0.8zM313.4,460.4h0.8v0.8h-0.8zM303.6,470.6h0.8v0.8h-0.8zM290.8,488.2h0.8v0.8h-0.8zM310.3,465.0h0.8v0.8h-0.8zM307.8,461.3h0.8v0.8h-0.8zM313.6,467.8h0.8v0.8h-0.8zM285.7,477.9h0.8v0.8h-0.8zM310.8,461.7h0.8v0.8h-0.8zM298.3,480.0h0.8v0.8h-0.8zM298.9,461.7h0.8v0.8h-0.8zM307.0,467.1h0.8v0.8h-0.8zM296.9,476.6h0.8v0.8h-0.8zM292.5,477.1h0.8v0.8h-0.8zM298.0,462.6h0.8v0.8h-0.8zM314.5,464.4h0.8v0.8h-0.8zM310.0,461.8h0.8v0.8h-0.8zM289.2,469.6h0.8v0.8h-0.8zM287.7,488.7h0.8v0.8h-0.8zM299.0,481.5h0.8v0.8h-0.8zM285.3,470.8h0.8v0.8h-0.8zM286.7,476.3h0.8v0.8h-0.8zM285.3,489.8h0.8v0.8h-0.8zM299.5,470.3h0.8v0.8h-0.8zM306.4,461.4h0.8v0.8h-0.8zM301.9,462.2h0.8v0.8h-0.8zM313.2,461.2h0.8v0.8h-0.8zM298.6,473.4h0.8v0.8h-0.8zM312.7,461.5h0.8v0.8h-0.8zM284.3,471.3h0.8v0.8h-0.8zM305.6,470.1h0.8v0.8h-0.8zM313.1,459.9h0.8v0.8h-0.8zM312.4,460.1h0.8v0.8h-0.8zM300.0,464.2h0.8v0.8h-0.8zM311.5,460.6h0.8v0.8h-0.8zM306.6,461.0h0.8v0.8h-0.8zM310.5,462.7h0.8v0.8h-0.8zM309.0,461.4h0.8v0.8h-0.8zM301.6,468.6h0.8v0.8h-0.8zM292.1,464.8h0.8v0.8h-0.8zM314.4,459.1h0.8v0.8h-0.8zM285.0,495.8h0.8v0.8h-0.8zM316.1,461.2h0.8v0.8h-0.8zM283.4,496.1h0.8v0.8h-0.8zM287.6,470.0h0.8v0.8h-0.8zM307.2,471.2h0.8v0.8h-0.8zM284.6,471.0h0.8v0.8h-0.8zM283.1,500.8h0.8v0.8h-0.8zM311.1,469.3h0.8v0.8h-0.8zM311.5,463.7h0.8v0.8h-0.8zM306.1,462.3h0.8v0.8h-0.8zM302.5,471.7h0.8v0.8h-0.8zM286.4,486.4h0.8v0.8h-0.8zM297.6,471.7h0.8v0.8h-0.8zM314.6,463.6h0.8v0.8h-0.8zM303.2,463.5h0.8v0.8h-0.8zM288.3,486.4h0.8v0.8h-0.8zM306.1,462.8h0.8v0.8h-0.8zM302.1,465.9h0.8v0.8h-0.8zM307.7,462.1h0.8v0.8h-0.8zM290.5,466.9h0.8v0.8h-0.8zM299.2,466.3h0.8v0.8h-0.8zM287.4,491.4h0.8v0.8h-0.8zM301.0,462.1h0.8v0.8h-0.8zM292.9,470.6h0.8v0.8h-0.8zM293.7,470.7h0.8v0.8h-0.8zM288.4,466.4h0.8v0.8h-0.8zM287.1,466.6h0.8v0.8h-0.8zM289.6,472.3h0.8v0.8h-0.8zM303.0,464.0h0.8v0.8h-0.8zM283.0,472.1h0.8v0.8h-0.8zM298.3,463.7h0.8v0.8h-0.8zM306.3,460.4h0.8v0.8h-0.8zM295.1,473.4h0.8v0.8h-0.8zM286.3,498.1h0.8v0.8h-0.8zM291.9,467.6h0.8v0.8h-0.8zM302.7,465.0h0.8v0.8h-0.8zM304.8,468.9h0.8v0.8h-0.8zM312.6,460.9h0.8v0.8h-0.8zM309.5,460.8h0.8v0.8h-0.8zM311.7,463.3h0.8v0.8h-0.8zM290.8,470.3h0.8v0.8h-0.8zM307.3,459.5h0.8v0.8h-0.8zM307.3,463.1h0.8v0.8h-0.8zM307.7,470.6h0.8v0.8h-0.8zM312.4,460.3h0.8v0.8h-0.8zM284.3,494.6h0.8v0.8h-0.8zM283.6,480.6h0.8v0.8h-0.8zM312.6,465.0h0.8v0.8h-0.8zM299.3,468.6h0.8v0.8h-0.8zM304.4,469.7h0.8v0.8h-0.8zM283.8,494.3h0.8v0.8h-0.8zM299.6,463.9h0.8v0.8h-0.8zM292.2,465.4h0.8v0.8h-0.8zM308.8,464.6h0.8v0.8h-0.8zM284.6,476.6h0.8v0.8h-0.8zM287.1,474.6h0.8v0.8h-0.8zM307.7,462.5h0.8v0.8h-0.8zM301.6,477.9h0.8v0.8h-0.8zM283.2,481.9h0.8v0.8h-0.8zM284.8,479.9h0.8v0.8h-0.8zM292.4,464.5h0.8v0.8h-0.8zM310.5,460.3h0.8v0.8h-0.8zM300.0,464.4h0.8v0.8h-0.8zM294.4,489.3h0.8v0.8h-0.8zM296.4,463.4h0.8v0.8h-0.8zM286.9,475.2h0.8v0.8h-0.8zM291.4,480.8h0.8v0.8h-0.8zM312.6,463.8h0.8v0.8h-0.8zM283.4,488.8h0.8v0.8h-0.8zM297.2,467.3h0.8v0.8h-0.8zM290.8,466.1h0.8v0.8h-0.8zM305.5,461.1h0.8v0.8h-0.8zM283.6,480.7h0.8v0.8h-0.8zM308.8,463.9h0.8v0.8h-0.8zM285.6,472.9h0.8v0.8h-0.8zM308.1,472.3h0.8v0.8h-0.8zM301.2,464.4h0.8v0.8h-0.8zM302.7,463.9h0.8v0.8h-0.8zM296.4,471.9h0.8v0.8h-0.8zM288.2,476.2h0.8v0.8h-0.8zM308.1,469.4h0.8v0.8h-0.8zM288.2,478.5h0.8v0.8h-0.8zM304.7,461.0h0.8v0.8h-0.8zM306.3,464.6h0.8v0.8h-0.8zM314.3,459.6h0.8v0.8h-0.8zM287.1,469.2h0.8v0.8h-0.8zM301.3,471.3h0.8v0.8h-0.8zM288.8,492.7h0.8v0.8h-0.8zM294.7,480.2h0.8v0.8h-0.8zM313.3,461.0h0.8v0.8h-0.8zM310.6,460.6h0.8v0.8h-0.8zM308.8,467.8h0.8v0.8h-0.8zM311.5,468.5h0.8v0.8h-0.8zM310.2,460.1h0.8v0.8h-0.8zM297.5,464.3h0.8v0.8h-0.8zM285.4,480.3h0.8v0.8h-0.8zM300.8,462.3h0.8v0.8h-0.8zM315.1,458.7h0.8v0.8h-0.8zM290.5,467.6h0.8v0.8h-0.8zM287.4,476.7h0.8v0.8h-0.8zM306.3,467.7h0.8v0.8h-0.8zM316.3,462.7h0.8v0.8h-0.8zM283.5,481.1h0.8v0.8h-0.8zM307.3,465.8h0.8v0.8h-0.8zM314.1,462.9h0.8v0.8h-0.8zM312.6,464.7h0.8v0.8h-0.8zM315.8,462.2h0.8v0.8h-0.8zM309.3,465.0h0.8v0.8h-0.8zM285.3,492.2h0.8v0.8h-0.8zM301.7,462.4h0.8v0.8h-0.8zM313.1,460.0h0.8v0.8h-0.8zM289.9,474.7h0.8v0.8h-0.8zM312.1,460.1h0.8v0.8h-0.8zM309.9,470.0h0.8v0.8h-0.8zM313.9,459.8h0.8v0.8h-0.8zM291.5,477.7h0.8v0.8h-0.8zM314.0,463.1h0.8v0.8h-0.8zM293.7,465.7h0.8v0.8h-0.8zM308.7,460.4h0.8v0.8h-0.8zM295.6,468.1h0.8v0.8h-0.8zM304.7,462.1h0.8v0.8h-0.8zM284.4,472.0h0.8v0.8h-0.8zM288.1,474.6h0.8v0.8h-0.8zM297.9,464.1h0.8v0.8h-0.8zM305.5,465.7h0.8v0.8h-0.8zM286.1,481.0h0.8v0.8h-0.8zM288.5,471.8h0.8v0.8h-0.8zM303.9,467.6h0.8v0.8h-0.8zM309.9,460.8h0.8v0.8h-0.8zM312.3,462.6h0.8v0.8h-0.8zM305.9,469.0h0.8v0.8h-0.8zM313.8,465.1h0.8v0.8h-0.8zM314.7,459.0h0.8v0.8h-0.8zM314.3,461.3h0.8v0.8h-0.8zM310.6,466.0h0.8v0.8h-0.8zM304.5,466.3h0.8v0.8h-0.8zM301.3,465.7h0.8v0.8h-0.8zM308.9,470.3h0.8v0.8h-0.8zM313.1,466.0h0.8v0.8h-0.8zM297.8,468.8h0.8v0.8h-0.8zM295.0,465.1h0.8v0.8h-0.8zM312.4,467.5h0.8v0.8h-0.8zM305.8,465.6h0.8v0.8h-0.8zM282.9,475.1h0.8v0.8h-0.8zM288.0,466.6h0.8v0.8h-0.8zM283.4,497.2h0.8v0.8h-0.8zM310.9,466.5h0.8v0.8h-0.8zM286.9,466.8h0.8v0.8h-0.8zM283.9,470.3h0.8v0.8h-0.8zM295.7,483.3h0.8v0.8h-0.8zM303.0,462.3h0.8v0.8h-0.8zM283.6,484.6h0.8v0.8h-0.8zM303.9,466.6h0.8v0.8h-0.8zM308.0,464.3h0.8v0.8h-0.8zM309.7,467.7h0.8v0.8h-0.8zM283.0,475.1h0.8v0.8h-0.8zM303.1,468.4h0.8v0.8h-0.8zM300.5,475.3h0.8v0.8h-0.8zM313.9,461.5h0.8v0.8h-0.8zM299.6,469.0h0.8v0.8h-0.8zM284.8,479.1h0.8v0.8h-0.8zM308.5,461.5h0.8v0.8h-0.8zM316.7,460.0h0.8v0.8h-0.8zM307.7,466.7h0.8v0.8h-0.8zM299.9,469.3h0.8v0.8h-0.8zM303.6,461.5h0.8v0.8h-0.8zM310.2,466.7h0.8v0.8h-0.8zM298.3,466.1h0.8v0.8h-0.8zM298.7,463.9h0.8v0.8h-0.8zM301.5,462.0h0.8v0.8h-0.8zM306.8,471.2h0.8v0.8h-0.8zM295.1,478.2h0.8v0.8h-0.8zM284.1,473.5h0.8v0.8h-0.8zM297.5,464.6h0.8v0.8h-0.8zM307.5,471.0h0.8v0.8h-0.8zM287.5,467.7h0.8v0.8h-0.8zM286.4,475.7h0.8v0.8h-0.8zM314.1,463.8h0.8v0.8h-0.8zM294.5,484.3h0.8v0.8h-0.8zM311.3,465.0h0.8v0.8h-0.8zM305.3,461.2h0.8v0.8h-0.8zM282.7,477.6h0.8v0.8h-0.8zM283.3,498.2h0.8v0.8h-0.8zM285.2,468.5h0.8v0.8h-0.8zM314.8,460.2h0.8v0.8h-0.8zM293.7,463.3h0.8v0.8h-0.8zM294.2,482.2h0.8v0.8h-0.8zM299.8,482.3h0.8v0.8h-0.8zM309.6,463.9h0.8v0.8h-0.8zM302.9,462.8h0.8v0.8h-0.8zM284.8,472.5h0.8v0.8h-0.8zM293.2,464.4h0.8v0.8h-0.8zM291.0,468.6h0.8v0.8h-0.8zM306.0,463.6h0.8v0.8h-0.8zM307.2,464.2h0.8v0.8h-0.8zM302.1,461.6h0.8v0.8h-0.8zM288.8,495.3h0.8v0.8h-0.8zM300.2,470.0h0.8v0.8h-0.8zM283.3,478.5h0.8v0.8h-0.8zM283.7,494.6h0.8v0.8h-0.8zM288.4,467.9h0.8v0.8h-0.8zM299.0,469.8h0.8v0.8h-0.8zM301.9,465.3h0.8v0.8h-0.8zM287.2,480.9h0.8v0.8h-0.8zM303.9,476.0h0.8v0.8h-0.8zM309.5,460.6h0.8v0.8h-0.8zM294.4,464.5h0.8v0.8h-0.8zM295.4,464.6h0.8v0.8h-0.8zM293.9,472.7h0.8v0.8h-0.8zM293.1,485.0h0.8v0.8h-0.8zM315.0,461.7h0.8v0.8h-0.8zM306.1,466.1h0.8v0.8h-0.8zM307.7,460.0h0.8v0.8h-0.8zM313.1,462.8h0.8v0.8h-0.8zM303.4,465.7h0.8v0.8h-0.8zM290.0,466.4h0.8v0.8h-0.8zM304.2,475.3h0.8v0.8h-0.8zM295.4,480.2h0.8v0.8h-0.8zM314.2,462.0h0.8v0.8h-0.8zM313.0,461.7h0.8v0.8h-0.8zM291.9,473.7h0.8v0.8h-0.8zM316.2,461.0h0.8v0.8h-0.8zM308.1,465.9h0.8v0.8h-0.8zM292.5,464.7h0.8v0.8h-0.8zM304.7,468.2h0.8v0.8h-0.8zM294.8,471.9h0.8v0.8h-0.8zM310.8,466.9h0.8v0.8h-0.8zM310.5,464.8h0.8v0.8h-0.8zM308.9,467.2h0.8v0.8h-0.8zM283.8,473.1h0.8v0.8h-0.8zM302.1,466.1h0.8v0.8h-0.8zM287.2,471.2h0.8v0.8h-0.8zM311.4,469.1h0.8v0.8h-0.8zM296.7,485.8h0.8v0.8h-0.8zM302.1,462.5h0.8v0.8h-0.8zM295.8,473.1h0.8v0.8h-0.8zM312.5,459.1h0.8v0.8h-0.8zM302.9,467.1h0.8v0.8h-0.8zM314.7,466.1h0.8v0.8h-0.8zM308.6,460.9h0.8v0.8h-0.8zM311.7,463.0h0.8v0.8h-0.8zM309.3,463.5h0.8v0.8h-0.8zM283.5,501.8h0.8v0.8h-0.8zM292.9,469.9h0.8v0.8h-0.8zM291.6,482.8h0.8v0.8h-0.8zM290.8,476.1h0.8v0.8h-0.8zM303.5,474.0h0.8v0.8h-0.8zM312.7,466.2h0.8v0.8h-0.8zM284.4,480.1h0.8v0.8h-0.8zM293.9,466.4h0.8v0.8h-0.8zM287.5,477.0h0.8v0.8h-0.8zM310.2,465.6h0.8v0.8h-0.8zM287.3,489.3h0.8v0.8h-0.8zM304.0,466.5h0.8v0.8h-0.8zM285.5,475.1h0.8v0.8h-0.8zM312.0,458.2h0.8v0.8h-0.8zM315.8,460.3h0.8v0.8h-0.8zM304.6,469.2h0.8v0.8h-0.8zM307.0,463.4h0.8v0.8h-0.8zM284.7,483.9h0.8v0.8h-0.8zM310.2,463.0h0.8v0.8h-0.8zM306.0,463.4h0.8v0.8h-0.8zM286.9,468.8h0.8v0.8h-0.8zM294.5,481.5h0.8v0.8h-0.8zM297.7,464.8h0.8v0.8h-0.8zM284.7,481.5h0.8v0.8h-0.8zM312.9,460.0h0.8v0.8h-0.8zM283.8,498.8h0.8v0.8h-0.8zM305.0,461.6h0.8v0.8h-0.8zM288.4,473.1h0.8v0.8h-0.8zM312.5,468.2h0.8v0.8h-0.8zM287.6,468.1h0.8v0.8h-0.8zM292.0,478.4h0.8v0.8h-0.8zM283.8,475.0h0.8v0.8h-0.8zM289.9,488.6h0.8v0.8h-0.8zM313.3,460.4h0.8v0.8h-0.8zM311.5,461.6h0.8v0.8h-0.8zM311.1,463.5h0.8v0.8h-0.8zM294.5,475.1h0.8v0.8h-0.8zM310.7,464.4h0.8v0.8h-0.8zM315.3,459.2h0.8v0.8h-0.8zM297.7,467.3h0.8v0.8h-0.8zM301.9,461.8h0.8v0.8h-0.8zM294.3,474.2h0.8v0.8h-0.8zM307.8,463.5h0.8v0.8h-0.8zM284.7,498.3h0.8v0.8h-0.8zM311.6,463.0h0.8v0.8h-0.8zM287.4,465.4h0.8v0.8h-0.8zM283.9,469.6h0.8v0.8h-0.8zM302.9,462.9h0.8v0.8h-0.8zM303.4,464.3h0.8v0.8h-0.8zM295.1,481.4h0.8v0.8h-0.8zM293.3,477.8h0.8v0.8h-0.8zM303.0,464.6h0.8v0.8h-0.8zM307.6,462.8h0.8v0.8h-0.8zM308.6,459.3h0.8v0.8h-0.8zM309.8,460.5h0.8v0.8h-0.8zM315.3,462.0h0.8v0.8h-0.8zM307.7,462.1h0.8v0.8h-0.8zM307.7,469.1h0.8v0.8h-0.8zM307.4,462.9h0.8v0.8h-0.8zM283.6,484.9h0.8v0.8h-0.8zM313.8,462.3h0.8v0.8h-0.8zM299.2,463.0h0.8v0.8h-0.8zM298.2,474.9h0.8v0.8h-0.8zM308.9,468.5h0.8v0.8h-0.8zM291.4,465.1h0.8v0.8h-0.8zM311.3,468.1h0.8v0.8h-0.8zM293.2,480.9h0.8v0.8h-0.8zM313.5,462.9h0.8v0.8h-0.8zM310.0,463.9h0.8v0.8h-0.8zM300.1,462.8h0.8v0.8h-0.8zM311.0,461.1h0.8v0.8h-0.8zM295.4,484.3h0.8v0.8h-0.8zM298.2,479.8h0.8v0.8h-0.8zM288.8,467.8h0.8v0.8h-0.8zM296.0,470.5h0.8v0.8h-0.8zM296.3,466.7h0.8v0.8h-0.8zM286.1,470.3h0.8v0.8h-0.8zM301.0,473.7h0.8v0.8h-0.8zM292.7,477.6h0.8v0.8h-0.8zM310.9,460.2h0.8v0.8h-0.8zM287.6,481.4h0.8v0.8h-0.8zM309.5,459.3h0.8v0.8h-0.8zM316.4,459.4h0.8v0.8h-0.8zM283.5,475.8h0.8v0.8h-0.8zM310.0,461.8h0.8v0.8h-0.8zM286.7,475.4h0.8v0.8h-0.8zM291.5,475.9h0.8v0.8h-0.8zM292.1,467.1h0.8v0.8h-0.8zM284.7,483.6h0.8v0.8h-0.8zM304.3,460.6h0.8v0.8h-0.8zM304.3,461.1h0.8v0.8h-0.8zM284.6,476.3h0.8v0.8h-0.8zM290.2,466.5h0.8v0.8h-0.8zM306.9,468.2h0.8v0.8h-0.8zM306.2,472.9h0.8v0.8h-0.8zM300.5,461.8h0.8v0.8h-0.8zM299.9,474.7h0.8v0.8h-0.8zM311.8,463.4h0.8v0.8h-0.8zM305.8,474.6h0.8v0.8h-0.8zM287.7,486.2h0.8v0.8h-0.8zM299.9,477.6h0.8v0.8h-0.8zM301.5,475.7h0.8v0.8h-0.8zM283.7,489.1h0.8v0.8h-0.8zM285.1,487.2h0.8v0.8h-0.8zM312.4,466.7h0.8v0.8h-0.8zM299.0,462.6h0.8v0.8h-0.8zM313.0,463.7h0.8v0.8h-0.8zM303.8,469.0h0.8v0.8h-0.8zM306.4,462.8h0.8v0.8h-0.8zM296.2,466.6h0.8v0.8h-0.8zM302.6,462.2h0.8v0.8h-0.8zM302.8,464.4h0.8v0.8h-0.8zM307.0,467.9h0.8v0.8h-0.8zM311.3,462.3h0.8v0.8h-0.8zM288.8,491.2h0.8v0.8h-0.8zM309.0,460.6h0.8v0.8h-0.8zM312.8,460.9h0.8v0.8h-0.8zM293.3,480.3h0.8v0.8h-0.8zM294.2,487.6h0.8v0.8h-0.8zM314.2,461.1h0.8v0.8h-0.8zM297.8,466.3h0.8v0.8h-0.8zM306.7,460.4h0.8v0.8h-0.8zM285.5,470.9h0.8v0.8h-0.8zM291.5,487.0h0.8v0.8h-0.8zM283.6,499.2h0.8v0.8h-0.8zM287.5,471.5h0.8v0.8h-0.8zM283.3,491.7h0.8v0.8h-0.8zM308.0,460.6h0.8v0.8h-0.8zM287.0,479.7h0.8v0.8h-0.8zM292.3,485.7h0.8v0.8h-0.8zM283.9,473.2h0.8v0.8h-0.8zM299.3,470.4h0.8v0.8h-0.8zM308.0,468.5h0.8v0.8h-0.8zM283.3,470.2h0.8v0.8h-0.8zM288.8,467.9h0.8v0.8h-0.8zM307.3,465.5h0.8v0.8h-0.8zM311.2,461.2h0.8v0.8h-0.8zM314.6,459.5h0.8v0.8h-0.8zM308.5,462.1h0.8v0.8h-0.8zM295.2,479.3h0.8v0.8h-0.8zM309.1,462.8h0.8v0.8h-0.8zM292.4,472.2h0.8v0.8h-0.8zM299.8,471.1h0.8v0.8h-0.8zM310.2,461.1h0.8v0.8h-0.8zM289.2,478.3h0.8v0.8h-0.8zM310.0,462.3h0.8v0.8h-0.8zM305.6,462.1h0.8v0.8h-0.8zM285.6,477.2h0.8v0.8h-0.8zM311.5,462.7h0.8v0.8h-0.8zM295.5,475.4h0.8v0.8h-0.8zM314.9,465.0h0.8v0.8h-0.8zM297.4,463.4h0.8v0.8h-0.8zM287.6,478.4h0.8v0.8h-0.8zM289.0,481.7h0.8v0.8h-0.8zM306.8,465.1h0.8v0.8h-0.8zM301.3,464.7h0.8v0.8h-0.8zM288.4,482.8h0.8v0.8h-0.8zM303.7,466.5h0.8v0.8h-0.8zM283.6,477.0h0.8v0.8h-0.8zM291.5,477.1h0.8v0.8h-0.8zM294.4,473.4h0.8v0.8h-0.8zM294.8,464.3h0.8v0.8h-0.8zM301.9,463.1h0.8v0.8h-0.8zM314.7,465.3h0.8v0.8h-0.8zM286.0,470.0h0.8v0.8h-0.8zM307.6,463.7h0.8v0.8h-0.8zM283.5,482.4h0.8v0.8h-0.8zM291.9,464.9h0.8v0.8h-0.8zM314.4,460.5h0.8v0.8h-0.8zM287.1,471.2h0.8v0.8h-0.8zM284.0,479.7h0.8v0.8h-0.8zM289.9,466.3h0.8v0.8h-0.8zM308.7,467.6h0.8v0.8h-0.8zM311.7,464.0h0.8v0.8h-0.8zM307.8,470.5h0.8v0.8h-0.8zM312.1,459.7h0.8v0.8h-0.8zM301.9,467.5h0.8v0.8h-0.8zM285.9,489.8h0.8v0.8h-0.8zM296.9,467.2h0.8v0.8h-0.8zM310.2,465.1h0.8v0.8h-0.8zM293.8,469.9h0.8v0.8h-0.8zM287.1,485.2h0.8v0.8h-0.8zM305.9,466.1h0.8v0.8h-0.8zM313.1,463.0h0.8v0.8h-0.8zM305.2,475.4h0.8v0.8h-0.8zM312.1,463.5h0.8v0.8h-0.8zM314.3,461.9h0.8v0.8h-0.8zM292.0,466.0h0.8v0.8h-0.8zM305.5,466.2h0.8v0.8h-0.8zM289.7,492.0h0.8v0.8h-0.8zM302.0,478.1h0.8v0.8h-0.8zM291.2,466.8h0.8v0.8h-0.8zM287.5,481.7h0.8v0.8h-0.8zM288.1,468.7h0.8v0.8h-0.8zM284.2,471.4h0.8v0.8h-0.8zM308.2,462.7h0.8v0.8h-0.8zM311.3,460.5h0.8v0.8h-0.8zM295.5,473.4h0.8v0.8h-0.8zM289.6,471.2h0.8v0.8h-0.8zM283.0,476.3h0.8v0.8h-0.8zM313.0,465.0h0.8v0.8h-0.8zM295.4,467.7h0.8v0.8h-0.8zM287.5,470.5h0.8v0.8h-0.8zM308.9,460.4h0.8v0.8h-0.8zM284.5,470.8h0.8v0.8h-0.8zM305.6,471.7h0.8v0.8h-0.8zM293.2,474.6h0.8v0.8h-0.8zM285.9,474.4h0.8v0.8h-0.8zM309.1,467.2h0.8v0.8h-0.8zM296.7,464.8h0.8v0.8h-0.8zM290.3,466.3h0.8v0.8h-0.8zM308.0,460.8h0.8v0.8h-0.8zM304.6,463.0h0.8v0.8h-0.8zM307.9,462.7h0.8v0.8h-0.8zM314.6,461.2h0.8v0.8h-0.8zM309.0,462.7h0.8v0.8h-0.8zM311.7,461.0h0.8v0.8h-0.8zM305.7,461.5h0.8v0.8h-0.8zM305.5,467.8h0.8v0.8h-0.8zM295.2,467.7h0.8v0.8h-0.8zM300.8,472.6h0.8v0.8h-0.8zM312.0,464.6h0.8v0.8h-0.8zM301.3,465.1h0.8v0.8h-0.8zM302.1,464.8h0.8v0.8h-0.8zM297.1,476.9h0.8v0.8h-0.8zM286.2,469.2h0.8v0.8h-0.8zM310.6,466.4h0.8v0.8h-0.8zM303.8,464.4h0.8v0.8h-0.8zM284.8,471.9h0.8v0.8h-0.8zM293.9,468.5h0.8v0.8h-0.8zM296.5,473.7h0.8v0.8h-0.8zM303.7,474.1h0.8v0.8h-0.8zM308.8,466.6h0.8v0.8h-0.8zM294.7,464.3h0.8v0.8h-0.8zM304.4,462.7h0.8v0.8h-0.8zM296.9,464.7h0.8v0.8h-0.8zM309.5,459.0h0.8v0.8h-0.8zM299.5,466.9h0.8v0.8h-0.8zM302.1,465.4h0.8v0.8h-0.8zM308.2,463.1h0.8v0.8h-0.8zM312.1,460.9h0.8v0.8h-0.8zM295.2,463.2h0.8v0.8h-0.8zM309.9,464.5h0.8v0.8h-0.8zM307.2,462.2h0.8v0.8h-0.8zM300.3,460.5h0.8v0.8h-0.8zM294.2,478.5h0.8v0.8h-0.8zM307.1,460.5h0.8v0.8h-0.8zM305.4,461.2h0.8v0.8h-0.8zM289.8,466.6h0.8v0.8h-0.8zM290.4,475.2h0.8v0.8h-0.8zM292.6,466.3h0.8v0.8h-0.8zM286.5,480.7h0.8v0.8h-0.8zM315.3,461.8h0.8v0.8h-0.8zM286.3,473.2h0.8v0.8h-0.8zM294.0,487.9h0.8v0.8h-0.8zM298.5,473.3h0.8v0.8h-0.8zM287.7,467.6h0.8v0.8h-0.8zM290.0,467.6h0.8v0.8h-0.8zM283.5,469.4h0.8v0.8h-0.8zM302.4,472.0h0.8v0.8h-0.8zM287.5,468.4h0.8v0.8h-0.8zM289.5,473.1h0.8v0.8h-0.8zM285.4,472.0h0.8v0.8h-0.8zM295.3,482.9h0.8v0.8h-0.8zM303.3,469.8h0.8v0.8h-0.8zM314.0,461.6h0.8v0.8h-0.8zM304.2,468.2h0.8v0.8h-0.8zM311.9,462.2h0.8v0.8h-0.8zM294.7,464.3h0.8v0.8h-0.8zM282.8,469.8h0.8v0.8h-0.8zM290.9,470.2h0.8v0.8h-0.8zM313.2,466.1h0.8v0.8h-0.8zM304.1,462.5h0.8v0.8h-0.8zM303.8,462.2h0.8v0.8h-0.8zM296.5,469.9h0.8v0.8h-0.8zM306.8,461.3h0.8v0.8h-0.8zM293.9,468.2h0.8v0.8h-0.8zM310.7,464.0h0.8v0.8h-0.8zM315.1,459.4h0.8v0.8h-0.8zM284.2,473.1h0.8v0.8h-0.8zM291.8,466.5h0.8v0.8h-0.8zM289.6,467.7h0.8v0.8h-0.8zM303.3,473.3h0.8v0.8h-0.8zM314.2,467.3h0.8v0.8h-0.8zM307.9,465.0h0.8v0.8h-0.8zM299.3,464.0h0.8v0.8h-0.8zM292.2,466.4h0.8v0.8h-0.8zM313.3,464.1h0.8v0.8h-0.8zM285.6,483.4h0.8v0.8h-0.8zM312.2,467.1h0.8v0.8h-0.8zM282.9,470.7h0.8v0.8h-0.8zM310.2,460.8h0.8v0.8h-0.8zM294.9,466.4h0.8v0.8h-0.8zM306.4,463.8h0.8v0.8h-0.8zM284.2,488.9h0.8v0.8h-0.8zM285.3,469.4h0.8v0.8h-0.8zM314.2,461.6h0.8v0.8h-0.8zM311.5,460.6h0.8v0.8h-0.8zM292.4,484.6h0.8v0.8h-0.8zM283.6,485.0h0.8v0.8h-0.8zM291.1,481.9h0.8v0.8h-0.8zM284.7,469.9h0.8v0.8h-0.8zM286.8,476.2h0.8v0.8h-0.8zM288.5,489.5h0.8v0.8h-0.8zM289.7,466.8h0.8v0.8h-0.8zM291.0,482.3h0.8v0.8h-0.8zM288.6,486.0h0.8v0.8h-0.8zM286.0,475.6h0.8v0.8h-0.8zM294.4,480.5h0.8v0.8h-0.8zM306.1,466.7h0.8v0.8h-0.8zM308.9,461.7h0.8v0.8h-0.8zM309.7,470.5h0.8v0.8h-0.8zM289.9,486.6h0.8v0.8h-0.8zM288.4,468.3h0.8v0.8h-0.8zM285.5,496.7h0.8v0.8h-0.8zM294.6,472.7h0.8v0.8h-0.8zM286.7,474.1h0.8v0.8h-0.8zM307.1,470.1h0.8v0.8h-0.8zM292.3,487.0h0.8v0.8h-0.8zM293.7,465.8h0.8v0.8h-0.8zM304.1,461.1h0.8v0.8h-0.8zM300.1,476.1h0.8v0.8h-0.8zM294.7,468.0h0.8v0.8h-0.8zM311.1,463.7h0.8v0.8h-0.8zM287.5,473.6h0.8v0.8h-0.8zM282.7,495.1h0.8v0.8h-0.8zM288.3,475.7h0.8v0.8h-0.8zM303.0,470.5h0.8v0.8h-0.8zM304.2,470.6h0.8v0.8h-0.8zM291.0,465.4h0.8v0.8h-0.8zM305.0,467.2h0.8v0.8h-0.8zM306.1,467.1h0.8v0.8h-0.8zM284.9,469.3h0.8v0.8h-0.8zM289.4,465.1h0.8v0.8h-0.8zM311.6,459.0h0.8v0.8h-0.8zM313.1,463.1h0.8v0.8h-0.8zM309.6,466.7h0.8v0.8h-0.8zM299.6,462.3h0.8v0.8h-0.8zM287.7,491.5h0.8v0.8h-0.8zM310.7,459.3h0.8v0.8h-0.8zM303.2,463.8h0.8v0.8h-0.8zM295.1,465.7h0.8v0.8h-0.8zM300.9,480.0h0.8v0.8h-0.8zM304.6,462.7h0.8v0.8h-0.8zM291.4,482.9h0.8v0.8h-0.8zM284.3,476.1h0.8v0.8h-0.8zM312.5,460.7h0.8v0.8h-0.8zM292.1,469.2h0.8v0.8h-0.8zM313.4,460.1h0.8v0.8h-0.8zM304.1,468.3h0.8v0.8h-0.8zM297.9,472.3h0.8v0.8h-0.8zM316.7,459.2h0.8v0.8h-0.8zM309.1,468.4h0.8v0.8h-0.8zM304.1,471.9h0.8v0.8h-0.8zM286.1,483.4h0.8v0.8h-0.8zM315.5,466.0h0.8v0.8h-0.8zM295.5,467.9h0.8v0.8h-0.8zM312.2,460.9h0.8v0.8h-0.8zM315.4,461.0h0.8v0.8h-0.8zM283.1,478.0h0.8v0.8h-0.8zM305.0,461.8h0.8v0.8h-0.8zM291.1,479.0h0.8v0.8h-0.8zM301.9,466.4h0.8v0.8h-0.8zM309.1,464.2h0.8v0.8h-0.8zM314.8,460.6h0.8v0.8h-0.8zM307.1,462.0h0.8v0.8h-0.8zM283.8,471.8h0.8v0.8h-0.8zM294.0,483.5h0.8v0.8h-0.8zM297.8,473.2h0.8v0.8h-0.8zM303.5,465.2h0.8v0.8h-0.8zM304.4,461.3h0.8v0.8h-0.8zM301.7,463.6h0.8v0.8h-0.8zM304.3,472.6h0.8v0.8h-0.8zM286.2,495.7h0.8v0.8h-0.8zM311.7,460.8h0.8v0.8h-0.8zM283.3,497.3h0.8v0.8h-0.8zM301.2,462.3h0.8v0.8h-0.8zM291.6,464.8h0.8v0.8h-0.8zM293.3,464.9h0.8v0.8h-0.8zM285.7,468.2h0.8v0.8h-0.8zM304.9,462.8h0.8v0.8h-0.8zM291.1,482.5h0.8v0.8h-0.8zM295.7,469.0h0.8v0.8h-0.8zM310.0,466.1h0.8v0.8h-0.8zM287.2,467.4h0.8v0.8h-0.8zM305.7,469.6h0.8v0.8h-0.8zM314.6,460.1h0.8v0.8h-0.8zM305.3,461.9h0.8v0.8h-0.8zM308.6,472.0h0.8v0.8h-0.8zM300.9,472.7h0.8v0.8h-0.8zM290.5,480.7h0.8v0.8h-0.8zM312.4,463.7h0.8v0.8h-0.8zM306.9,463.5h0.8v0.8h-0.8zM288.5,479.0h0.8v0.8h-0.8zM304.8,464.2h0.8v0.8h-0.8zM303.2,472.0h0.8v0.8h-0.8zM307.7,464.4h0.8v0.8h-0.8zM295.0,483.5h0.8v0.8h-0.8zM289.7,486.8h0.8v0.8h-0.8zM310.0,468.7h0.8v0.8h-0.8zM317.1,460.0h0.8v0.8h-0.8zM290.6,464.8h0.8v0.8h-0.8zM282.5,474.9h0.8v0.8h-0.8zM292.1,490.4h0.8v0.8h-0.8zM293.3,473.3h0.8v0.8h-0.8zM307.7,464.6h0.8v0.8h-0.8zM303.8,472.3h0.8v0.8h-0.8zM312.0,463.3h0.8v0.8h-0.8zM286.3,467.9h0.8v0.8h-0.8zM308.1,463.7h0.8v0.8h-0.8zM292.9,486.7h0.8v0.8h-0.8zM310.1,468.1h0.8v0.8h-0.8zM310.0,460.9h0.8v0.8h-0.8zM282.6,506.1h0.8v0.8h-0.8zM305.0,465.3h0.8v0.8h-0.8zM309.8,462.1h0.8v0.8h-0.8zM309.6,462.0h0.8v0.8h-0.8zM295.3,483.5h0.8v0.8h-0.8zM312.3,463.8h0.8v0.8h-0.8zM312.3,461.7h0.8v0.8h-0.8zM313.1,462.3h0.8v0.8h-0.8zM294.5,463.6h0.8v0.8h-0.8zM312.0,463.6h0.8v0.8h-0.8zM290.6,465.5h0.8v0.8h-0.8zM311.7,466.1h0.8v0.8h-0.8zM291.0,468.0h0.8v0.8h-0.8zM289.3,465.3h0.8v0.8h-0.8zM302.2,462.1h0.8v0.8h-0.8zM283.4,503.7h0.8v0.8h-0.8zM310.8,461.3h0.8v0.8h-0.8zM300.9,466.1h0.8v0.8h-0.8zM308.5,458.9h0.8v0.8h-0.8zM313.6,460.7h0.8v0.8h-0.8zM302.6,472.9h0.8v0.8h-0.8zM284.7,471.3h0.8v0.8h-0.8zM300.9,473.0h0.8v0.8h-0.8zM307.6,463.5h0.8v0.8h-0.8zM294.5,464.2h0.8v0.8h-0.8zM307.3,471.8h0.8v0.8h-0.8zM314.3,459.1h0.8v0.8h-0.8zM296.6,474.6h0.8v0.8h-0.8zM297.7,480.9h0.8v0.8h-0.8zM308.9,466.9h0.8v0.8h-0.8zM288.5,470.6h0.8v0.8h-0.8zM296.4,471.5h0.8v0.8h-0.8zM307.8,468.3h0.8v0.8h-0.8zM295.0,465.0h0.8v0.8h-0.8zM291.1,491.2h0.8v0.8h-0.8zM298.1,464.4h0.8v0.8h-0.8zM296.1,462.7h0.8v0.8h-0.8zM302.4,466.0h0.8v0.8h-0.8zM308.9,462.8h0.8v0.8h-0.8zM306.1,461.0h0.8v0.8h-0.8zM312.3,461.3h0.8v0.8h-0.8zM304.6,461.4h0.8v0.8h-0.8zM285.0,490.0h0.8v0.8h-0.8zM311.7,463.0h0.8v0.8h-0.8zM309.7,464.9h0.8v0.8h-0.8zM311.2,460.9h0.8v0.8h-0.8zM283.0,499.9h0.8v0.8h-0.8zM287.6,467.8h0.8v0.8h-0.8zM307.9,465.5h0.8v0.8h-0.8zM283.6,489.3h0.8v0.8h-0.8zM307.4,466.0h0.8v0.8h-0.8zM314.2,462.5h0.8v0.8h-0.8zM298.1,472.5h0.8v0.8h-0.8zM313.9,462.9h0.8v0.8h-0.8zM303.6,461.1h0.8v0.8h-0.8zM287.1,468.3h0.8v0.8h-0.8zM300.4,461.6h0.8v0.8h-0.8zM304.8,462.5h0.8v0.8h-0.8zM313.5,462.2h0.8v0.8h-0.8zM301.7,479.7h0.8v0.8h-0.8zM291.8,466.6h0.8v0.8h-0.8zM285.3,497.2h0.8v0.8h-0.8zM298.6,465.5h0.8v0.8h-0.8zM294.6,485.5h0.8v0.8h-0.8zM285.4,468.0h0.8v0.8h-0.8zM283.2,473.3h0.8v0.8h-0.8zM284.7,488.4h0.8v0.8h-0.8zM303.1,473.9h0.8v0.8h-0.8zM285.6,487.7h0.8v0.8h-0.8zM306.5,468.6h0.8v0.8h-0.8zM314.8,460.8h0.8v0.8h-0.8zM297.0,483.6h0.8v0.8h-0.8zM289.6,473.2h0.8v0.8h-0.8zM284.9,487.6h0.8v0.8h-0.8zM308.6,461.8h0.8v0.8h-0.8zM285.4,496.2h0.8v0.8h-0.8zM283.7,479.5h0.8v0.8h-0.8zM291.9,480.0h0.8v0.8h-0.8zM308.5,461.6h0.8v0.8h-0.8zM314.0,461.0h0.8v0.8h-0.8zM306.0,461.0h0.8v0.8h-0.8zM295.5,466.6h0.8v0.8h-0.8zM309.1,464.9h0.8v0.8h-0.8zM282.9,473.1h0.8v0.8h-0.8zM308.1,459.4h0.8v0.8h-0.8zM305.5,463.5h0.8v0.8h-0.8zM285.1,484.3h0.8v0.8h-0.8zM303.0,464.4h0.8v0.8h-0.8zM308.5,468.5h0.8v0.8h-0.8zM289.3,469.4h0.8v0.8h-0.8zM286.7,477.1h0.8v0.8h-0.8zM311.2,460.6h0.8v0.8h-0.8zM296.1,463.2h0.8v0.8h-0.8zM282.9,492.2h0.8v0.8h-0.8zM314.9,462.0h0.8v0.8h-0.8zM315.5,463.4h0.8v0.8h-0.8zM297.8,475.4h0.8v0.8h-0.8zM305.6,470.0h0.8v0.8h-0.8zM314.1,460.9h0.8v0.8h-0.8zM314.6,460.7h0.8v0.8h-0.8zM308.5,460.2h0.8v0.8h-0.8zM285.9,473.6h0.8v0.8h-0.8zM298.8,470.6h0.8v0.8h-0.8zM296.3,478.5h0.8v0.8h-0.8zM293.1,492.6h0.8v0.8h-0.8zM305.0,470.9h0.8v0.8h-0.8zM288.6,475.0h0.8v0.8h-0.8zM294.1,465.1h0.8v0.8h-0.8zM285.2,477.7h0.8v0.8h-0.8zM283.7,471.6h0.8v0.8h-0.8zM306.2,470.7h0.8v0.8h-0.8zM299.3,462.5h0.8v0.8h-0.8zM308.7,461.6h0.8v0.8h-0.8zM290.5,466.7h0.8v0.8h-0.8zM283.8,471.9h0.8v0.8h-0.8zM290.6,480.7h0.8v0.8h-0.8zM297.4,463.2h0.8v0.8h-0.8zM304.4,461.8h0.8v0.8h-0.8zM314.1,459.1h0.8v0.8h-0.8zM304.5,473.8h0.8v0.8h-0.8zM303.7,474.2h0.8v0.8h-0.8zM288.3,471.2h0.8v0.8h-0.8zM301.0,480.5h0.8v0.8h-0.8zM310.3,460.9h0.8v0.8h-0.8zM313.0,460.2h0.8v0.8h-0.8zM284.9,479.3h0.8v0.8h-0.8zM299.3,465.1h0.8v0.8h-0.8zM286.1,494.2h0.8v0.8h-0.8zM288.0,495.2h0.8v0.8h-0.8zM309.4,461.5h0.8v0.8h-0.8zM298.8,468.2h0.8v0.8h-0.8zM315.6,460.6h0.8v0.8h-0.8zM289.3,494.4h0.8v0.8h-0.8zM305.0,473.5h0.8v0.8h-0.8zM291.2,466.4h0.8v0.8h-0.8zM315.7,463.9h0.8v0.8h-0.8zM298.7,471.4h0.8v0.8h-0.8zM303.6,464.7h0.8v0.8h-0.8zM289.1,473.6h0.8v0.8h-0.8zM283.2,495.9h0.8v0.8h-0.8zM306.6,460.3h0.8v0.8h-0.8zM313.3,460.8h0.8v0.8h-0.8zM298.1,463.5h0.8v0.8h-0.8zM295.9,466.4h0.8v0.8h-0.8zM303.1,473.7h0.8v0.8h-0.8zM313.3,463.9h0.8v0.8h-0.8zM293.7,466.4h0.8v0.8h-0.8zM295.4,464.4h0.8v0.8h-0.8zM283.7,486.3h0.8v0.8h-0.8zM295.6,465.0h0.8v0.8h-0.8zM307.8,461.3h0.8v0.8h-0.8zM306.7,469.2h0.8v0.8h-0.8zM295.0,463.7h0.8v0.8h-0.8zM304.6,472.9h0.8v0.8h-0.8zM296.9,471.6h0.8v0.8h-0.8zM291.8,468.9h0.8v0.8h-0.8zM294.3,466.7h0.8v0.8h-0.8zM288.7,471.1h0.8v0.8h-0.8zM292.7,486.4h0.8v0.8h-0.8zM293.2,473.7h0.8v0.8h-0.8zM296.4,462.3h0.8v0.8h-0.8zM296.4,469.7h0.8v0.8h-0.8zM297.6,463.7h0.8v0.8h-0.8zM302.4,474.3h0.8v0.8h-0.8zM303.5,462.4h0.8v0.8h-0.8zM287.6,475.0h0.8v0.8h-0.8zM290.5,466.0h0.8v0.8h-0.8zM295.3,463.9h0.8v0.8h-0.8zM289.7,479.6h0.8v0.8h-0.8zM313.9,462.2h0.8v0.8h-0.8zM297.2,482.0h0.8v0.8h-0.8zM301.3,462.4h0.8v0.8h-0.8zM306.6,463.6h0.8v0.8h-0.8zM291.6,465.4h0.8v0.8h-0.8zM288.8,479.7h0.8v0.8h-0.8zM305.8,462.4h0.8v0.8h-0.8zM282.7,499.0h0.8v0.8h-0.8zM287.3,473.2h0.8v0.8h-0.8zM303.4,467.3h0.8v0.8h-0.8zM293.9,467.6h0.8v0.8h-0.8zM293.9,467.3h0.8v0.8h-0.8zM285.4,492.4h0.8v0.8h-0.8zM313.8,463.2h0.8v0.8h-0.8zM302.9,464.3h0.8v0.8h-0.8zM299.4,474.3h0.8v0.8h-0.8zM298.8,464.9h0.8v0.8h-0.8zM283.6,468.7h0.8v0.8h-0.8zM284.2,470.8h0.8v0.8h-0.8zM305.4,465.1h0.8v0.8h-0.8zM308.9,462.5h0.8v0.8h-0.8zM288.9,466.9h0.8v0.8h-0.8zM283.3,486.2h0.8v0.8h-0.8zM291.1,465.5h0.8v0.8h-0.8zM288.8,479.7h0.8v0.8h-0.8zM288.4,475.9h0.8v0.8h-0.8zM314.0,461.6h0.8v0.8h-0.8zM301.2,475.7h0.8v0.8h-0.8zM289.2,481.5h0.8v0.8h-0.8zM284.9,478.6h0.8v0.8h-0.8zM294.9,474.2h0.8v0.8h-0.8zM310.2,462.4h0.8v0.8h-0.8zM301.9,479.5h0.8v0.8h-0.8zM282.5,494.2h0.8v0.8h-0.8zM302.0,462.9h0.8v0.8h-0.8zM314.2,461.3h0.8v0.8h-0.8zM312.1,460.4h0.8v0.8h-0.8zM309.9,469.7h0.8v0.8h-0.8zM302.9,463.8h0.8v0.8h-0.8zM300.8,464.5h0.8v0.8h-0.8zM284.9,498.6h0.8v0.8h-0.8zM295.2,477.5h0.8v0.8h-0.8zM307.8,464.6h0.8v0.8h-0.8zM292.9,466.0h0.8v0.8h-0.8zM312.0,459.7h0.8v0.8h-0.8zM305.6,462.4h0.8v0.8h-0.8zM290.2,465.9h0.8v0.8h-0.8zM282.7,494.7h0.8v0.8h-0.8zM296.4,469.3h0.8v0.8h-0.8zM296.2,470.6h0.8v0.8h-0.8zM315.2,462.8h0.8v0.8h-0.8zM285.7,476.6h0.8v0.8h-0.8zM309.9,461.1h0.8v0.8h-0.8zM299.8,472.7h0.8v0.8h-0.8zM313.0,464.3h0.8v0.8h-0.8zM283.0,496.2h0.8v0.8h-0.8zM292.8,470.6h0.8v0.8h-0.8zM314.6,460.1h0.8v0.8h-0.8zM283.8,498.5h0.8v0.8h-0.8zM297.8,462.7h0.8v0.8h-0.8zM312.1,460.2h0.8v0.8h-0.8zM294.3,475.2h0.8v0.8h-0.8zM306.8,471.2h0.8v0.8h-0.8zM290.6,491.3h0.8v0.8h-0.8zM305.8,465.3h0.8v0.8h-0.8zM289.4,470.1h0.8v0.8h-0.8zM297.1,462.2h0.8v0.8h-0.8zM284.6,488.8h0.8v0.8h-0.8zM288.6,477.8h0.8v0.8h-0.8zM288.8,466.6h0.8v0.8h-0.8zM284.8,486.8h0.8v0.8h-0.8zM306.3,474.6h0.8v0.8h-0.8zM285.6,470.3h0.8v0.8h-0.8zM283.2,481.1h0.8v0.8h-0.8zM294.9,466.5h0.8v0.8h-0.8zM310.6,464.5h0.8v0.8h-0.8zM298.3,464.5h0.8v0.8h-0.8zM310.9,467.6h0.8v0.8h-0.8zM310.4,460.9h0.8v0.8h-0.8zM316.2,462.1h0.8v0.8h-0.8zM289.1,468.6h0.8v0.8h-0.8zM287.2,470.5h0.8v0.8h-0.8zM308.7,469.7h0.8v0.8h-0.8zM305.6,462.7h0.8v0.8h-0.8zM309.0,471.4h0.8v0.8h-0.8zM299.8,476.8h0.8v0.8h-0.8zM311.6,462.1h0.8v0.8h-0.8zM314.8,462.5h0.8v0.8h-0.8zM285.8,469.7h0.8v0.8h-0.8zM292.6,479.7h0.8v0.8h-0.8zM297.3,473.1h0.8v0.8h-0.8zM306.9,466.2h0.8v0.8h-0.8zM282.8,491.3h0.8v0.8h-0.8zM308.6,464.7h0.8v0.8h-0.8zM310.8,461.5h0.8v0.8h-0.8zM284.0,487.7h0.8v0.8h-0.8zM311.3,463.0h0.8v0.8h-0.8zM305.9,465.9h0.8v0.8h-0.8zM293.7,464.2h0.8v0.8h-0.8zM307.9,462.5h0.8v0.8h-0.8zM294.2,465.8h0.8v0.8h-0.8zM312.6,465.6h0.8v0.8h-0.8zM305.3,475.7h0.8v0.8h-0.8zM311.2,467.5h0.8v0.8h-0.8zM295.0,470.0h0.8v0.8h-0.8zM284.1,488.8h0.8v0.8h-0.8zM288.9,466.0h0.8v0.8h-0.8zM303.9,462.7h0.8v0.8h-0.8zM283.8,500.0h0.8v0.8h-0.8zM290.1,469.3h0.8v0.8h-0.8zM301.2,463.4h0.8v0.8h-0.8zM307.6,464.1h0.8v0.8h-0.8zM305.3,470.7h0.8v0.8h-0.8zM283.1,503.0h0.8v0.8h-0.8zM288.6,466.5h0.8v0.8h-0.8zM289.3,477.9h0.8v0.8h-0.8zM288.8,486.0h0.8v0.8h-0.8zM295.8,477.6h0.8v0.8h-0.8zM305.7,473.2h0.8v0.8h-0.8zM303.9,465.9h0.8v0.8h-0.8zM301.6,475.6h0.8v0.8h-0.8zM310.1,462.6h0.8v0.8h-0.8zM289.4,474.6h0.8v0.8h-0.8zM315.1,461.9h0.8v0.8h-0.8zM289.5,472.1h0.8v0.8h-0.8zM284.5,474.8h0.8v0.8h-0.8zM295.3,476.2h0.8v0.8h-0.8zM290.2,467.5h0.8v0.8h-0.8zM293.4,482.7h0.8v0.8h-0.8zM305.0,468.2h0.8v0.8h-0.8zM291.6,467.2h0.8v0.8h-0.8zM295.5,466.4h0.8v0.8h-0.8zM308.5,468.6h0.8v0.8h-0.8zM309.6,461.8h0.8v0.8h-0.8zM296.7,477.1h0.8v0.8h-0.8zM292.9,467.8h0.8v0.8h-0.8zM304.5,474.8h0.8v0.8h-0.8zM309.1,463.2h0.8v0.8h-0.8zM294.0,487.5h0.8v0.8h-0.8zM288.9,469.6h0.8v0.8h-0.8zM314.1,461.8h0.8v0.8h-0.8zM313.4,458.9h0.8v0.8h-0.8zM294.7,487.2h0.8v0.8h-0.8zM286.6,464.7h0.8v0.8h-0.8zM283.1,486.9h0.8v0.8h-0.8zM292.1,479.0h0.8v0.8h-0.8zM286.0,472.2h0.8v0.8h-0.8zM287.1,481.3h0.8v0.8h-0.8zM287.1,477.6h0.8v0.8h-0.8zM289.6,484.6h0.8v0.8h-0.8zM289.7,472.5h0.8v0.8h-0.8zM287.2,483.2h0.8v0.8h-0.8zM290.7,471.9h0.8v0.8h-0.8zM285.0,479.3h0.8v0.8h-0.8zM289.4,481.5h0.8v0.8h-0.8zM285.8,476.9h0.8v0.8h-0.8zM289.5,481.2h0.8v0.8h-0.8zM285.7,473.8h0.8v0.8h-0.8zM286.3,483.7h0.8v0.8h-0.8zM291.7,474.3h0.8v0.8h-0.8zM284.4,473.1h0.8v0.8h-0.8zM284.2,476.7h0.8v0.8h-0.8zM289.1,477.0h0.8v0.8h-0.8zM286.8,472.3h0.8v0.8h-0.8zM286.3,482.1h0.8v0.8h-0.8zM287.1,476.6h0.8v0.8h-0.8zM293.5,481.0h0.8v0.8h-0.8zM284.6,468.4h0.8v0.8h-0.8zM286.8,469.5h0.8v0.8h-0.8zM288.0,475.8h0.8v0.8h-0.8zM284.9,471.4h0.8v0.8h-0.8zM287.4,476.6h0.8v0.8h-0.8zM288.9,480.7h0.8v0.8h-0.8zM285.0,484.0h0.8v0.8h-0.8zM290.7,486.2h0.8v0.8h-0.8zM284.3,482.1h0.8v0.8h-0.8zM287.1,473.1h0.8v0.8h-0.8zM288.5,480.7h0.8v0.8h-0.8zM296.4,474.2h0.8v0.8h-0.8zM282.6,480.6h0.8v0.8h-0.8zM288.3,471.0h0.8v0.8h-0.8zM294.6,485.4h0.8v0.8h-0.8zM285.8,479.8h0.8v0.8h-0.8zM290.6,475.7h0.8v0.8h-0.8zM288.1,469.2h0.8v0.8h-0.8zM283.5,479.1h0.8v0.8h-0.8zM288.6,474.2h0.8v0.8h-0.8zM285.0,478.9h0.8v0.8h-0.8zM287.8,473.1h0.8v0.8h-0.8zM283.3,474.1h0.8v0.8h-0.8zM289.6,481.1h0.8v0.8h-0.8zM280.7,486.2h0.8v0.8h-0.8zM287.0,469.8h0.8v0.8h-0.8zM291.1,476.2h0.8v0.8h-0.8zM289.0,479.7h0.8v0.8h-0.8zM286.5,476.5h0.8v0.8h-0.8zM286.9,474.7h0.8v0.8h-0.8zM286.3,490.4h0.8v0.8h-0.8zM295.1,472.3h0.8v0.8h-0.8zM287.4,479.5h0.8v0.8h-0.8zM287.5,474.5h0.8v0.8h-0.8zM285.4,476.8h0.8v0.8h-0.8zM286.2,463.7h0.8v0.8h-0.8zM289.2,482.7h0.8v0.8h-0.8zM285.8,476.1h0.8v0.8h-0.8zM285.2,471.6h0.8v0.8h-0.8zM286.0,487.4h0.8v0.8h-0.8zM286.5,475.7h0.8v0.8h-0.8zM288.0,473.7h0.8v0.8h-0.8zM286.1,472.3h0.8v0.8h-0.8zM287.0,483.8h0.8v0.8h-0.8zM285.4,477.6h0.8v0.8h-0.8zM291.0,475.5h0.8v0.8h-0.8zM287.8,469.4h0.8v0.8h-0.8zM286.6,472.0h0.8v0.8h-0.8zM288.3,479.5h0.8v0.8h-0.8zM287.4,477.3h0.8v0.8h-0.8zM283.1,465.3h0.8v0.8h-0.8zM287.0,472.1h0.8v0.8h-0.8zM292.1,478.8h0.8v0.8h-0.8zM288.9,493.5h0.8v0.8h-0.8zM290.8,472.9h0.8v0.8h-0.8zM285.6,464.1h0.8v0.8h-0.8zM283.3,482.0h0.8v0.8h-0.8zM285.5,474.5h0.8v0.8h-0.8zM291.3,469.5h0.8v0.8h-0.8zM284.7,480.8h0.8v0.8h-0.8zM285.3,476.0h0.8v0.8h-0.8zM290.6,471.6h0.8v0.8h-0.8zM286.8,469.5h0.8v0.8h-0.8zM286.9,476.7h0.8v0.8h-0.8zM288.6,477.9h0.8v0.8h-0.8zM287.7,466.7h0.8v0.8h-0.8zM286.7,483.3h0.8v0.8h-0.8zM288.2,469.8h0.8v0.8h-0.8zM285.5,485.8h0.8v0.8h-0.8zM287.4,479.4h0.8v0.8h-0.8zM289.3,476.3h0.8v0.8h-0.8zM284.5,479.4h0.8v0.8h-0.8zM286.9,473.8h0.8v0.8h-0.8zM284.3,477.0h0.8v0.8h-0.8zM289.6,487.3h0.8v0.8h-0.8zM289.2,474.0h0.8v0.8h-0.8zM290.1,482.3h0.8v0.8h-0.8zM290.4,472.0h0.8v0.8h-0.8zM290.4,477.3h0.8v0.8h-0.8zM289.5,483.2h0.8v0.8h-0.8zM285.3,470.2h0.8v0.8h-0.8zM290.1,479.4h0.8v0.8h-0.8zM284.9,464.5h0.8v0.8h-0.8zM294.0,470.5h0.8v0.8h-0.8zM288.3,474.9h0.8v0.8h-0.8zM289.2,482.7h0.8v0.8h-0.8zM284.0,481.7h0.8v0.8h-0.8zM290.5,471.9h0.8v0.8h-0.8zM290.8,476.6h0.8v0.8h-0.8zM283.1,478.5h0.8v0.8h-0.8zM285.9,468.0h0.8v0.8h-0.8zM286.2,479.9h0.8v0.8h-0.8zM285.7,485.5h0.8v0.8h-0.8zM291.4,484.9h0.8v0.8h-0.8zM293.6,473.8h0.8v0.8h-0.8zM284.5,474.9h0.8v0.8h-0.8zM290.4,471.8h0.8v0.8h-0.8zM286.8,474.4h0.8v0.8h-0.8zM291.3,475.9h0.8v0.8h-0.8zM280.6,481.5h0.8v0.8h-0.8zM286.3,477.9h0.8v0.8h-0.8zM290.9,471.8h0.8v0.8h-0.8zM285.4,482.3h0.8v0.8h-0.8zM290.8,482.7h0.8v0.8h-0.8zM286.1,473.7h0.8v0.8h-0.8zM290.7,475.9h0.8v0.8h-0.8zM289.1,476.8h0.8v0.8h-0.8zM286.3,467.5h0.8v0.8h-0.8zM285.4,478.2h0.8v0.8h-0.8zM287.0,481.4h0.8v0.8h-0.8zM290.7,489.1h0.8v0.8h-0.8zM287.5,478.6h0.8v0.8h-0.8zM285.6,475.7h0.8v0.8h-0.8zM296.8,476.5h0.8v0.8h-0.8zM283.1,481.1h0.8v0.8h-0.8zM286.9,482.2h0.8v0.8h-0.8zM289.0,472.3h0.8v0.8h-0.8zM284.6,478.6h0.8v0.8h-0.8zM287.5,481.3h0.8v0.8h-0.8zM286.3,465.4h0.8v0.8h-0.8zM283.3,485.6h0.8v0.8h-0.8zM288.8,476.1h0.8v0.8h-0.8zM284.3,482.6h0.8v0.8h-0.8zM285.4,477.1h0.8v0.8h-0.8zM290.9,475.9h0.8v0.8h-0.8zM284.4,477.0h0.8v0.8h-0.8zM289.2,479.1h0.8v0.8h-0.8zM290.8,482.6h0.8v0.8h-0.8zM290.3,475.8h0.8v0.8h-0.8zM288.8,470.7h0.8v0.8h-0.8zM286.8,473.2h0.8v0.8h-0.8zM283.6,471.6h0.8v0.8h-0.8zM287.9,482.0h0.8v0.8h-0.8zM288.7,471.7h0.8v0.8h-0.8zM286.1,486.6h0.8v0.8h-0.8zM284.7,478.2h0.8v0.8h-0.8zM289.9,476.9h0.8v0.8h-0.8zM284.5,485.3h0.8v0.8h-0.8zM288.7,475.2h0.8v0.8h-0.8zM286.1,475.7h0.8v0.8h-0.8zM282.8,482.1h0.8v0.8h-0.8zM292.0,481.9h0.8v0.8h-0.8zM289.2,471.5h0.8v0.8h-0.8zM289.0,492.2h0.8v0.8h-0.8zM283.5,480.9h0.8v0.8h-0.8zM287.1,469.9h0.8v0.8h-0.8zM288.3,476.4h0.8v0.8h-0.8zM285.4,483.0h0.8v0.8h-0.8zM292.1,478.8h0.8v0.8h-0.8zM281.8,482.6h0.8v0.8h-0.8zM289.4,491.7h0.8v0.8h-0.8zM282.2,483.1h0.8v0.8h-0.8zM283.1,489.5h0.8v0.8h-0.8zM283.9,481.6h0.8v0.8h-0.8zM289.0,473.5h0.8v0.8h-0.8zM285.4,486.6h0.8v0.8h-0.8zM285.5,473.3h0.8v0.8h-0.8zM284.9,483.3h0.8v0.8h-0.8zM283.3,481.5h0.8v0.8h-0.8zM284.9,472.5h0.8v0.8h-0.8zM284.6,473.3h0.8v0.8h-0.8zM286.5,476.5h0.8v0.8h-0.8zM286.3,480.0h0.8v0.8h-0.8zM280.7,485.6h0.8v0.8h-0.8zM285.6,478.0h0.8v0.8h-0.8zM290.8,489.0h0.8v0.8h-0.8zM286.0,482.9h0.8v0.8h-0.8zM287.2,473.8h0.8v0.8h-0.8zM285.3,473.9h0.8v0.8h-0.8zM285.4,478.2h0.8v0.8h-0.8zM287.1,474.5h0.8v0.8h-0.8zM283.5,477.1h0.8v0.8h-0.8zM286.8,482.3h0.8v0.8h-0.8zM282.6,479.3h0.8v0.8h-0.8zM288.2,483.6h0.8v0.8h-0.8zM282.9,473.6h0.8v0.8h-0.8zM289.1,472.5h0.8v0.8h-0.8zM290.1,469.3h0.8v0.8h-0.8zM282.7,467.0h0.8v0.8h-0.8zM289.2,475.1h0.8v0.8h-0.8zM286.1,478.2h0.8v0.8h-0.8zM290.5,476.6h0.8v0.8h-0.8zM285.8,477.8h0.8v0.8h-0.8zM286.5,490.0h0.8v0.8h-0.8zM286.4,471.2h0.8v0.8h-0.8zM290.8,476.2h0.8v0.8h-0.8zM281.8,474.9h0.8v0.8h-0.8zM289.4,472.3h0.8v0.8h-0.8zM287.5,485.9h0.8v0.8h-0.8zM285.9,477.6h0.8v0.8h-0.8zM286.6,485.3h0.8v0.8h-0.8zM289.8,471.0h0.8v0.8h-0.8zM289.5,489.1h0.8v0.8h-0.8zM292.0,491.4h0.8v0.8h-0.8zM285.4,472.6h0.8v0.8h-0.8zM281.9,477.8h0.8v0.8h-0.8zM285.7,477.0h0.8v0.8h-0.8zM286.7,481.2h0.8v0.8h-0.8zM286.0,470.0h0.8v0.8h-0.8zM290.6,480.6h0.8v0.8h-0.8zM293.6,482.2h0.8v0.8h-0.8zM288.3,474.2h0.8v0.8h-0.8zM282.2,464.3h0.8v0.8h-0.8zM290.1,473.8h0.8v0.8h-0.8zM285.4,475.5h0.8v0.8h-0.8zM287.3,482.4h0.8v0.8h-0.8zM289.6,474.1h0.8v0.8h-0.8zM288.2,471.0h0.8v0.8h-0.8zM287.0,481.6h0.8v0.8h-0.8zM288.0,480.1h0.8v0.8h-0.8zM289.3,482.3h0.8v0.8h-0.8zM289.0,478.1h0.8v0.8h-0.8zM293.0,484.2h0.8v0.8h-0.8zM278.8,480.9h0.8v0.8h-0.8zM285.0,467.2h0.8v0.8h-0.8zM285.6,479.1h0.8v0.8h-0.8zM289.5,482.5h0.8v0.8h-0.8zM287.8,478.1h0.8v0.8h-0.8zM289.6,486.6h0.8v0.8h-0.8zM283.2,475.1h0.8v0.8h-0.8zM286.6,482.1h0.8v0.8h-0.8zM289.0,470.5h0.8v0.8h-0.8zM287.1,477.9h0.8v0.8h-0.8zM286.1,474.6h0.8v0.8h-0.8zM288.0,471.9h0.8v0.8h-0.8zM307.3,505.9h0.8v0.8h-0.8zM287.4,497.0h0.8v0.8h-0.8zM298.8,494.9h0.8v0.8h-0.8zM303.2,496.8h0.8v0.8h-0.8zM306.7,501.0h0.8v0.8h-0.8zM295.5,498.6h0.8v0.8h-0.8zM295.9,507.5h0.8v0.8h-0.8zM294.3,489.4h0.8v0.8h-0.8z" fill="#151515" fill-opacity="0.72"/>
<path d="M382.3,473.7h0.8v0.8h-0.8zM387.0,508.1h0.8v0.8h-0.8zM387.3,504.9h0.8v0.8h-0.8zM385.6,490.3h0.8v0.8h-0.8zM385.0,488.2h0.8v0.8h-0.8zM383.9,522.6h0.8v0.8h-0.8zM388.3,470.9h0.8v0.8h-0.8zM387.5,469.6h0.8v0.8h-0.8zM386.9,488.5h0.8v0.8h-0.8zM385.4,469.9h0.8v0.8h-0.8zM388.0,474.8h0.8v0.8h-0.8zM388.2,470.9h0.8v0.8h-0.8zM388.0,522.7h0.8v0.8h-0.8zM386.7,487.6h0.8v0.8h-0.8zM388.2,474.9h0.8v0.8h-0.8zM388.6,477.8h0.8v0.8h-0.8zM388.2,472.3h0.8v0.8h-0.8zM386.1,479.8h0.8v0.8h-0.8zM386.5,472.3h0.8v0.8h-0.8zM388.1,512.9h0.8v0.8h-0.8zM387.8,491.0h0.8v0.8h-0.8zM386.7,470.3h0.8v0.8h-0.8zM386.6,513.8h0.8v0.8h-0.8zM387.4,484.3h0.8v0.8h-0.8zM385.2,469.2h0.8v0.8h-0.8zM388.2,505.8h0.8v0.8h-0.8zM388.4,498.2h0.8v0.8h-0.8zM384.4,487.3h0.8v0.8h-0.8zM387.8,482.2h0.8v0.8h-0.8zM387.8,503.5h0.8v0.8h-0.8zM387.9,525.5h0.8v0.8h-0.8zM388.0,487.2h0.8v0.8h-0.8zM387.2,518.0h0.8v0.8h-0.8zM387.0,490.2h0.8v0.8h-0.8zM387.2,474.2h0.8v0.8h-0.8zM387.7,502.3h0.8v0.8h-0.8zM388.0,508.2h0.8v0.8h-0.8zM387.8,470.7h0.8v0.8h-0.8zM386.3,473.3h0.8v0.8h-0.8zM386.4,470.5h0.8v0.8h-0.8zM386.1,469.2h0.8v0.8h-0.8zM386.1,478.3h0.8v0.8h-0.8zM388.5,486.7h0.8v0.8h-0.8zM388.0,492.3h0.8v0.8h-0.8zM387.5,486.9h0.8v0.8h-0.8zM388.2,511.7h0.8v0.8h-0.8zM384.6,472.1h0.8v0.8h-0.8zM387.7,523.7h0.8v0.8h-0.8zM387.2,505.8h0.8v0.8h-0.8zM385.0,469.4h0.8v0.8h-0.8zM387.9,469.5h0.8v0.8h-0.8zM387.5,470.4h0.8v0.8h-0.8zM386.7,494.8h0.8v0.8h-0.8zM387.5,491.3h0.8v0.8h-0.8zM388.5,474.8h0.8v0.8h-0.8zM387.8,499.2h0.8v0.8h-0.8zM381.7,478.4h0.8v0.8h-0.8zM387.6,508.4h0.8v0.8h-0.8zM385.9,503.7h0.8v0.8h-0.8zM387.0,474.0h0.8v0.8h-0.8zM386.0,469.6h0.8v0.8h-0.8zM386.7,494.7h0.8v0.8h-0.8zM386.8,469.9h0.8v0.8h-0.8zM388.1,491.6h0.8v0.8h-0.8zM386.4,498.8h0.8v0.8h-0.8zM384.6,471.3h0.8v0.8h-0.8zM387.9,506.8h0.8v0.8h-0.8zM386.9,481.5h0.8v0.8h-0.8zM387.4,495.9h0.8v0.8h-0.8zM387.3,488.2h0.8v0.8h-0.8zM387.2,502.2h0.8v0.8h-0.8zM388.4,486.7h0.8v0.8h-0.8zM385.4,488.5h0.8v0.8h-0.8zM387.6,485.4h0.8v0.8h-0.8zM386.4,471.6h0.8v0.8h-0.8zM387.7,495.9h0.8v0.8h-0.8zM388.0,469.1h0.8v0.8h-0.8zM385.3,482.4h0.8v0.8h-0.8zM387.9,507.5h0.8v0.8h-0.8zM388.0,514.3h0.8v0.8h-0.8zM387.1,513.2h0.8v0.8h-0.8zM387.4,504.5h0.8v0.8h-0.8zM388.2,524.9h0.8v0.8h-0.8zM385.9,526.9h0.8v0.8h-0.8zM385.5,481.6h0.8v0.8h-0.8zM387.5,499.2h0.8v0.8h-0.8zM387.9,471.5h0.8v0.8h-0.8zM385.9,495.9h0.8v0.8h-0.8zM388.4,477.9h0.8v0.8h-0.8zM385.2,516.0h0.8v0.8h-0.8zM384.4,471.0h0.8v0.8h-0.8zM387.9,471.7h0.8v0.8h-0.8zM383.9,497.0h0.8v0.8h-0.8zM382.3,491.0h0.8v0.8h-0.8zM387.2,495.3h0.8v0.8h-0.8zM384.2,493.3h0.8v0.8h-0.8zM383.4,469.3h0.8v0.8h-0.8zM387.5,493.6h0.8v0.8h-0.8zM385.3,483.5h0.8v0.8h-0.8zM386.9,472.7h0.8v0.8h-0.8zM384.9,511.6h0.8v0.8h-0.8zM388.1,503.9h0.8v0.8h-0.8zM387.3,497.7h0.8v0.8h-0.8zM385.2,482.2h0.8v0.8h-0.8zM387.3,471.6h0.8v0.8h-0.8zM387.6,469.0h0.8v0.8h-0.8zM386.5,515.6h0.8v0.8h-0.8zM388.5,485.3h0.8v0.8h-0.8zM382.2,486.2h0.8v0.8h-0.8zM387.7,476.4h0.8v0.8h-0.8zM387.6,482.4h0.8v0.8h-0.8zM387.6,495.6h0.8v0.8h-0.8zM385.4,483.7h0.8v0.8h-0.8zM388.1,511.1h0.8v0.8h-0.8zM385.4,472.6h0.8v0.8h-0.8zM385.4,470.7h0.8v0.8h-0.8zM384.7,514.0h0.8v0.8h-0.8zM387.8,472.7h0.8v0.8h-0.8zM387.6,477.0h0.8v0.8h-0.8zM388.3,504.3h0.8v0.8h-0.8zM386.5,469.1h0.8v0.8h-0.8zM387.4,488.4h0.8v0.8h-0.8zM385.6,477.6h0.8v0.8h-0.8zM387.2,521.9h0.8v0.8h-0.8zM384.4,488.8h0.8v0.8h-0.8zM386.6,488.1h0.8v0.8h-0.8zM388.2,497.0h0.8v0.8h-0.8zM386.1,509.4h0.8v0.8h-0.8zM388.0,476.3h0.8v0.8h-0.8zM388.6,469.1h0.8v0.8h-0.8zM385.3,493.0h0.8v0.8h-0.8zM388.3,484.0h0.8v0.8h-0.8zM385.8,473.2h0.8v0.8h-0.8zM388.3,502.7h0.8v0.8h-0.8zM387.7,503.9h0.8v0.8h-0.8zM385.7,526.0h0.8v0.8h-0.8zM386.3,522.7h0.8v0.8h-0.8zM388.4,474.0h0.8v0.8h-0.8zM387.9,480.6h0.8v0.8h-0.8zM387.5,504.9h0.8v0.8h-0.8zM388.1,469.1h0.8v0.8h-0.8zM386.6,511.4h0.8v0.8h-0.8zM387.2,497.8h0.8v0.8h-0.8zM381.6,477.0h0.8v0.8h-0.8zM384.4,516.3h0.8v0.8h-0.8zM385.1,485.1h0.8v0.8h-0.8zM387.8,474.1h0.8v0.8h-0.8zM385.8,510.4h0.8v0.8h-0.8zM388.1,519.8h0.8v0.8h-0.8zM385.5,471.2h0.8v0.8h-0.8zM385.7,522.7h0.8v0.8h-0.8zM386.4,471.8h0.8v0.8h-0.8zM387.5,500.1h0.8v0.8h-0.8zM382.1,486.6h0.8v0.8h-0.8zM386.8,515.7h0.8v0.8h-0.8zM387.6,527.1h0.8v0.8h-0.8zM386.2,470.2h0.8v0.8h-0.8zM382.0,484.5h0.8v0.8h-0.8zM388.1,515.1h0.8v0.8h-0.8zM383.7,481.7h0.8v0.8h-0.8zM381.9,472.0h0.8v0.8h-0.8zM384.7,486.2h0.8v0.8h-0.8zM388.1,469.3h0.8v0.8h-0.8zM388.4,472.1h0.8v0.8h-0.8zM388.0,514.0h0.8v0.8h-0.8zM385.6,512.4h0.8v0.8h-0.8zM388.0,509.9h0.8v0.8h-0.8zM387.7,469.5h0.8v0.8h-0.8zM387.5,497.5h0.8v0.8h-0.8zM386.7,484.4h0.8v0.8h-0.8zM387.5,498.7h0.8v0.8h-0.8zM381.7,478.4h0.8v0.8h-0.8zM386.0,476.4h0.8v0.8h-0.8zM386.1,520.9h0.8v0.8h-0.8zM385.0,500.4h0.8v0.8h-0.8zM388.1,496.0h0.8v0.8h-0.8zM384.7,487.8h0.8v0.8h-0.8zM381.6,476.4h0.8v0.8h-0.8zM387.4,483.6h0.8v0.8h-0.8zM387.6,517.5h0.8v0.8h-0.8zM387.8,513.8h0.8v0.8h-0.8zM387.8,470.2h0.8v0.8h-0.8zM387.8,508.2h0.8v0.8h-0.8zM385.3,498.8h0.8v0.8h-0.8zM387.8,497.7h0.8v0.8h-0.8zM388.6,477.5h0.8v0.8h-0.8zM387.7,522.1h0.8v0.8h-0.8zM387.5,491.4h0.8v0.8h-0.8zM387.9,513.2h0.8v0.8h-0.8zM385.5,469.9h0.8v0.8h-0.8zM386.8,487.5h0.8v0.8h-0.8zM386.2,474.2h0.8v0.8h-0.8zM388.2,482.0h0.8v0.8h-0.8zM388.3,478.0h0.8v0.8h-0.8zM386.5,490.8h0.8v0.8h-0.8zM387.2,470.9h0.8v0.8h-0.8zM388.0,484.0h0.8v0.8h-0.8zM385.7,477.6h0.8v0.8h-0.8zM383.8,499.9h0.8v0.8h-0.8zM384.5,474.5h0.8v0.8h-0.8zM387.8,478.6h0.8v0.8h-0.8zM388.5,475.0h0.8v0.8h-0.8zM386.9,522.0h0.8v0.8h-0.8zM388.7,470.1h0.8v0.8h-0.8zM387.9,472.4h0.8v0.8h-0.8zM385.2,516.1h0.8v0.8h-0.8zM388.3,480.1h0.8v0.8h-0.8zM388.0,505.2h0.8v0.8h-0.8zM381.2,469.8h0.8v0.8h-0.8zM386.0,471.1h0.8v0.8h-0.8zM388.4,494.0h0.8v0.8h-0.8zM388.1,471.8h0.8v0.8h-0.8zM386.1,474.3h0.8v0.8h-0.8zM386.9,479.6h0.8v0.8h-0.8zM384.7,495.4h0.8v0.8h-0.8zM386.8,471.8h0.8v0.8h-0.8zM387.5,469.6h0.8v0.8h-0.8zM387.9,481.0h0.8v0.8h-0.8zM382.7,499.2h0.8v0.8h-0.8zM387.4,510.0h0.8v0.8h-0.8zM387.9,491.5h0.8v0.8h-0.8zM388.5,477.6h0.8v0.8h-0.8zM386.5,520.7h0.8v0.8h-0.8zM388.4,477.2h0.8v0.8h-0.8zM387.6,506.6h0.8v0.8h-0.8zM386.6,506.1h0.8v0.8h-0.8zM387.7,498.2h0.8v0.8h-0.8zM388.3,489.0h0.8v0.8h-0.8zM388.3,473.1h0.8v0.8h-0.8zM388.5,491.5h0.8v0.8h-0.8zM388.5,469.0h0.8v0.8h-0.8zM387.4,523.1h0.8v0.8h-0.8zM387.9,488.7h0.8v0.8h-0.8zM386.5,485.9h0.8v0.8h-0.8zM384.1,523.0h0.8v0.8h-0.8zM387.7,514.2h0.8v0.8h-0.8zM386.0,476.4h0.8v0.8h-0.8zM388.2,521.6h0.8v0.8h-0.8zM386.6,519.5h0.8v0.8h-0.8zM386.5,471.9h0.8v0.8h-0.8zM387.1,483.1h0.8v0.8h-0.8zM387.4,480.7h0.8v0.8h-0.8zM383.9,490.9h0.8v0.8h-0.8zM387.6,497.5h0.8v0.8h-0.8zM383.9,481.7h0.8v0.8h-0.8zM387.5,498.4h0.8v0.8h-0.8zM387.1,495.3h0.8v0.8h-0.8zM387.5,487.2h0.8v0.8h-0.8zM381.4,469.1h0.8v0.8h-0.8zM386.5,475.1h0.8v0.8h-0.8zM387.8,480.3h0.8v0.8h-0.8zM386.9,502.3h0.8v0.8h-0.8zM386.4,479.5h0.8v0.8h-0.8zM384.7,474.7h0.8v0.8h-0.8zM388.2,469.3h0.8v0.8h-0.8zM387.0,501.9h0.8v0.8h-0.8zM387.6,479.9h0.8v0.8h-0.8zM387.8,488.8h0.8v0.8h-0.8zM388.0,516.3h0.8v0.8h-0.8zM388.3,497.9h0.8v0.8h-0.8zM387.9,474.4h0.8v0.8h-0.8zM387.2,475.8h0.8v0.8h-0.8zM382.6,495.4h0.8v0.8h-0.8zM387.6,511.9h0.8v0.8h-0.8zM388.6,472.2h0.8v0.8h-0.8zM385.9,482.3h0.8v0.8h-0.8zM386.5,473.0h0.8v0.8h-0.8zM385.2,470.6h0.8v0.8h-0.8zM388.1,500.6h0.8v0.8h-0.8zM384.9,481.6h0.8v0.8h-0.8zM386.6,482.0h0.8v0.8h-0.8zM386.5,513.1h0.8v0.8h-0.8zM387.5,469.0h0.8v0.8h-0.8zM385.7,473.8h0.8v0.8h-0.8zM384.7,469.4h0.8v0.8h-0.8zM386.5,469.1h0.8v0.8h-0.8zM388.5,489.1h0.8v0.8h-0.8zM387.6,477.7h0.8v0.8h-0.8zM387.6,499.6h0.8v0.8h-0.8zM383.8,472.6h0.8v0.8h-0.8zM382.4,470.8h0.8v0.8h-0.8zM388.1,503.9h0.8v0.8h-0.8zM388.7,469.4h0.8v0.8h-0.8zM388.2,490.4h0.8v0.8h-0.8zM388.6,469.4h0.8v0.8h-0.8zM387.9,521.5h0.8v0.8h-0.8zM387.7,517.6h0.8v0.8h-0.8zM384.7,469.4h0.8v0.8h-0.8zM388.0,522.4h0.8v0.8h-0.8zM388.3,490.7h0.8v0.8h-0.8zM387.6,504.3h0.8v0.8h-0.8zM386.9,513.2h0.8v0.8h-0.8zM385.2,484.3h0.8v0.8h-0.8zM386.9,484.7h0.8v0.8h-0.8zM381.9,478.2h0.8v0.8h-0.8zM386.2,494.7h0.8v0.8h-0.8zM381.2,469.2h0.8v0.8h-0.8zM383.3,499.9h0.8v0.8h-0.8zM386.6,503.8h0.8v0.8h-0.8zM383.3,500.5h0.8v0.8h-0.8zM386.0,495.1h0.8v0.8h-0.8zM387.0,477.6h0.8v0.8h-0.8zM388.0,499.8h0.8v0.8h-0.8zM387.1,480.7h0.8v0.8h-0.8zM387.9,496.9h0.8v0.8h-0.8zM384.0,474.7h0.8v0.8h-0.8zM382.6,475.2h0.8v0.8h-0.8zM386.9,497.4h0.8v0.8h-0.8zM386.9,472.0h0.8v0.8h-0.8zM386.0,512.3h0.8v0.8h-0.8zM387.6,511.1h0.8v0.8h-0.8zM386.9,490.5h0.8v0.8h-0.8zM386.9,475.0h0.8v0.8h-0.8zM388.3,478.6h0.8v0.8h-0.8zM388.0,471.3h0.8v0.8h-0.8zM387.9,504.8h0.8v0.8h-0.8zM387.0,523.7h0.8v0.8h-0.8zM386.7,470.5h0.8v0.8h-0.8zM387.7,469.7h0.8v0.8h-0.8zM386.1,483.3h0.8v0.8h-0.8zM388.1,525.2h0.8v0.8h-0.8zM385.8,473.1h0.8v0.8h-0.8zM382.7,473.0h0.8v0.8h-0.8zM387.0,481.5h0.8v0.8h-0.8zM388.5,478.2h0.8v0.8h-0.8zM385.3,475.2h0.8v0.8h-0.8zM387.7,492.0h0.8v0.8h-0.8zM385.9,470.3h0.8v0.8h-0.8zM388.4,470.0h0.8v0.8h-0.8zM386.3,486.7h0.8v0.8h-0.8zM385.8,522.9h0.8v0.8h-0.8zM386.1,472.7h0.8v0.8h-0.8zM387.9,473.8h0.8v0.8h-0.8zM388.6,473.7h0.8v0.8h-0.8zM385.6,469.9h0.8v0.8h-0.8zM388.0,470.1h0.8v0.8h-0.8zM381.7,477.4h0.8v0.8h-0.8zM384.5,476.0h0.8v0.8h-0.8zM388.3,492.9h0.8v0.8h-0.8zM388.5,471.7h0.8v0.8h-0.8zM387.7,519.3h0.8v0.8h-0.8zM387.3,491.6h0.8v0.8h-0.8zM387.1,509.7h0.8v0.8h-0.8zM387.3,470.8h0.8v0.8h-0.8zM388.0,510.8h0.8v0.8h-0.8zM388.4,481.8h0.8v0.8h-0.8zM386.4,478.0h0.8v0.8h-0.8zM388.2,516.4h0.8v0.8h-0.8zM388.0,483.6h0.8v0.8h-0.8zM388.1,476.3h0.8v0.8h-0.8zM387.9,481.4h0.8v0.8h-0.8zM388.4,493.1h0.8v0.8h-0.8zM387.1,474.3h0.8v0.8h-0.8zM387.7,487.3h0.8v0.8h-0.8zM385.3,477.9h0.8v0.8h-0.8zM382.2,470.8h0.8v0.8h-0.8zM383.3,469.1h0.8v0.8h-0.8zM388.2,511.4h0.8v0.8h-0.8zM385.8,518.1h0.8v0.8h-0.8zM388.3,476.0h0.8v0.8h-0.8zM387.9,506.3h0.8v0.8h-0.8zM385.9,481.8h0.8v0.8h-0.8zM388.4,478.9h0.8v0.8h-0.8zM386.7,476.1h0.8v0.8h-0.8zM388.4,478.0h0.8v0.8h-0.8zM385.3,479.1h0.8v0.8h-0.8zM387.1,470.6h0.8v0.8h-0.8zM384.1,511.4h0.8v0.8h-0.8zM387.3,482.7h0.8v0.8h-0.8zM383.0,472.6h0.8v0.8h-0.8zM386.7,482.1h0.8v0.8h-0.8zM388.4,485.7h0.8v0.8h-0.8zM387.3,505.2h0.8v0.8h-0.8zM387.0,471.7h0.8v0.8h-0.8zM386.2,487.1h0.8v0.8h-0.8zM388.2,506.4h0.8v0.8h-0.8zM386.8,510.6h0.8v0.8h-0.8zM387.8,471.4h0.8v0.8h-0.8zM387.6,479.6h0.8v0.8h-0.8zM387.2,501.4h0.8v0.8h-0.8zM387.2,478.4h0.8v0.8h-0.8zM386.6,498.1h0.8v0.8h-0.8zM387.9,475.1h0.8v0.8h-0.8zM381.7,477.7h0.8v0.8h-0.8zM387.7,469.7h0.8v0.8h-0.8zM387.6,496.8h0.8v0.8h-0.8zM385.2,476.3h0.8v0.8h-0.8zM388.5,469.9h0.8v0.8h-0.8zM388.6,475.1h0.8v0.8h-0.8zM388.3,472.2h0.8v0.8h-0.8zM384.9,480.1h0.8v0.8h-0.8zM385.5,523.5h0.8v0.8h-0.8zM388.0,520.1h0.8v0.8h-0.8zM388.3,512.7h0.8v0.8h-0.8zM387.9,509.4h0.8v0.8h-0.8zM387.6,518.8h0.8v0.8h-0.8zM388.3,471.9h0.8v0.8h-0.8zM387.4,487.1h0.8v0.8h-0.8zM386.4,508.1h0.8v0.8h-0.8zM387.8,522.1h0.8v0.8h-0.8zM383.0,494.5h0.8v0.8h-0.8zM382.8,471.0h0.8v0.8h-0.8zM388.3,478.8h0.8v0.8h-0.8zM388.1,472.5h0.8v0.8h-0.8zM387.4,506.5h0.8v0.8h-0.8zM388.3,509.7h0.8v0.8h-0.8zM387.6,481.2h0.8v0.8h-0.8zM384.8,469.0h0.8v0.8h-0.8zM386.6,520.5h0.8v0.8h-0.8zM385.4,516.5h0.8v0.8h-0.8zM383.8,521.1h0.8v0.8h-0.8zM388.1,504.9h0.8v0.8h-0.8zM386.2,526.9h0.8v0.8h-0.8zM384.7,475.5h0.8v0.8h-0.8zM388.6,470.8h0.8v0.8h-0.8zM384.9,512.3h0.8v0.8h-0.8zM388.0,510.6h0.8v0.8h-0.8zM387.8,475.2h0.8v0.8h-0.8zM386.6,493.8h0.8v0.8h-0.8zM387.4,470.0h0.8v0.8h-0.8zM387.1,471.3h0.8v0.8h-0.8zM384.6,525.1h0.8v0.8h-0.8zM387.1,515.8h0.8v0.8h-0.8zM388.4,472.0h0.8v0.8h-0.8zM388.5,497.6h0.8v0.8h-0.8zM387.7,502.0h0.8v0.8h-0.8zM388.4,489.1h0.8v0.8h-0.8zM388.2,487.2h0.8v0.8h-0.8zM384.6,499.7h0.8v0.8h-0.8zM388.6,469.1h0.8v0.8h-0.8zM387.9,524.5h0.8v0.8h-0.8zM388.0,494.4h0.8v0.8h-0.8zM388.4,485.8h0.8v0.8h-0.8zM387.2,475.8h0.8v0.8h-0.8zM384.4,475.5h0.8v0.8h-0.8zM385.1,495.0h0.8v0.8h-0.8zM387.9,472.6h0.8v0.8h-0.8zM386.4,501.2h0.8v0.8h-0.8zM383.0,469.9h0.8v0.8h-0.8zM388.1,480.7h0.8v0.8h-0.8zM388.6,475.9h0.8v0.8h-0.8zM387.9,469.0h0.8v0.8h-0.8zM388.2,500.9h0.8v0.8h-0.8zM387.1,517.3h0.8v0.8h-0.8zM386.0,480.8h0.8v0.8h-0.8zM387.4,474.2h0.8v0.8h-0.8zM385.9,497.9h0.8v0.8h-0.8zM388.4,470.5h0.8v0.8h-0.8zM386.7,513.9h0.8v0.8h-0.8zM388.0,487.5h0.8v0.8h-0.8zM387.8,499.7h0.8v0.8h-0.8zM385.3,476.9h0.8v0.8h-0.8zM387.1,488.8h0.8v0.8h-0.8zM388.5,491.4h0.8v0.8h-0.8zM382.6,495.3h0.8v0.8h-0.8zM385.4,508.6h0.8v0.8h-0.8zM388.3,483.1h0.8v0.8h-0.8zM388.3,483.1h0.8v0.8h-0.8zM385.6,483.0h0.8v0.8h-0.8zM387.5,469.2h0.8v0.8h-0.8zM388.2,479.9h0.8v0.8h-0.8zM387.8,520.9h0.8v0.8h-0.8zM386.0,499.6h0.8v0.8h-0.8zM387.2,480.1h0.8v0.8h-0.8zM388.0,511.1h0.8v0.8h-0.8zM388.4,475.5h0.8v0.8h-0.8zM387.7,482.3h0.8v0.8h-0.8zM386.6,476.2h0.8v0.8h-0.8zM386.8,481.8h0.8v0.8h-0.8zM386.5,471.1h0.8v0.8h-0.8zM387.1,491.9h0.8v0.8h-0.8zM388.4,471.1h0.8v0.8h-0.8zM387.4,484.3h0.8v0.8h-0.8zM387.8,506.1h0.8v0.8h-0.8zM388.1,518.0h0.8v0.8h-0.8zM387.9,498.2h0.8v0.8h-0.8zM386.6,480.5h0.8v0.8h-0.8zM384.1,472.9h0.8v0.8h-0.8zM386.9,475.8h0.8v0.8h-0.8zM388.3,475.4h0.8v0.8h-0.8zM385.6,498.5h0.8v0.8h-0.8zM388.0,506.7h0.8v0.8h-0.8zM385.1,471.2h0.8v0.8h-0.8zM388.3,484.4h0.8v0.8h-0.8zM387.4,505.8h0.8v0.8h-0.8zM387.2,501.0h0.8v0.8h-0.8zM388.0,470.4h0.8v0.8h-0.8zM387.8,492.0h0.8v0.8h-0.8zM387.2,521.6h0.8v0.8h-0.8zM387.7,514.4h0.8v0.8h-0.8zM387.8,474.1h0.8v0.8h-0.8zM388.0,512.9h0.8v0.8h-0.8zM385.9,526.4h0.8v0.8h-0.8zM386.1,521.6h0.8v0.8h-0.8zM386.5,515.4h0.8v0.8h-0.8zM388.0,470.6h0.8v0.8h-0.8zM386.4,483.3h0.8v0.8h-0.8zM388.3,498.0h0.8v0.8h-0.8zM385.6,515.4h0.8v0.8h-0.8zM387.7,512.0h0.8v0.8h-0.8zM385.8,482.1h0.8v0.8h-0.8zM386.0,479.2h0.8v0.8h-0.8zM388.3,501.2h0.8v0.8h-0.8zM381.5,475.6h0.8v0.8h-0.8zM386.4,482.5h0.8v0.8h-0.8zM387.6,514.0h0.8v0.8h-0.8zM387.8,475.8h0.8v0.8h-0.8zM387.8,513.6h0.8v0.8h-0.8zM386.6,469.5h0.8v0.8h-0.8zM388.2,469.9h0.8v0.8h-0.8zM387.1,479.6h0.8v0.8h-0.8zM388.3,499.6h0.8v0.8h-0.8zM387.9,473.6h0.8v0.8h-0.8zM388.0,524.2h0.8v0.8h-0.8zM387.6,493.6h0.8v0.8h-0.8zM381.6,469.8h0.8v0.8h-0.8zM387.5,474.0h0.8v0.8h-0.8zM387.7,514.6h0.8v0.8h-0.8zM386.0,470.4h0.8v0.8h-0.8zM385.8,469.1h0.8v0.8h-0.8zM385.5,474.5h0.8v0.8h-0.8zM381.2,469.1h0.8v0.8h-0.8zM381.4,472.9h0.8v0.8h-0.8zM387.9,486.5h0.8v0.8h-0.8zM387.4,512.0h0.8v0.8h-0.8zM388.0,484.6h0.8v0.8h-0.8zM386.8,490.7h0.8v0.8h-0.8zM387.3,470.5h0.8v0.8h-0.8zM388.4,478.7h0.8v0.8h-0.8zM387.6,497.4h0.8v0.8h-0.8zM385.4,486.0h0.8v0.8h-0.8zM387.4,522.0h0.8v0.8h-0.8zM387.8,482.4h0.8v0.8h-0.8zM386.6,520.5h0.8v0.8h-0.8zM387.6,473.2h0.8v0.8h-0.8zM386.4,499.5h0.8v0.8h-0.8zM386.2,506.8h0.8v0.8h-0.8zM387.9,524.6h0.8v0.8h-0.8zM387.6,472.0h0.8v0.8h-0.8zM387.6,495.1h0.8v0.8h-0.8zM386.3,521.2h0.8v0.8h-0.8zM385.8,487.1h0.8v0.8h-0.8zM388.0,526.3h0.8v0.8h-0.8zM384.0,518.9h0.8v0.8h-0.8zM388.5,476.4h0.8v0.8h-0.8zM387.3,486.3h0.8v0.8h-0.8zM388.4,477.7h0.8v0.8h-0.8zM383.3,509.9h0.8v0.8h-0.8zM383.5,469.4h0.8v0.8h-0.8zM387.1,500.3h0.8v0.8h-0.8zM387.5,469.0h0.8v0.8h-0.8zM388.3,469.4h0.8v0.8h-0.8zM384.9,507.5h0.8v0.8h-0.8zM385.8,473.3h0.8v0.8h-0.8zM388.3,491.7h0.8v0.8h-0.8zM387.5,519.5h0.8v0.8h-0.8zM385.2,472.1h0.8v0.8h-0.8zM387.9,481.1h0.8v0.8h-0.8zM387.5,507.5h0.8v0.8h-0.8zM387.3,494.9h0.8v0.8h-0.8zM385.6,495.6h0.8v0.8h-0.8zM388.2,472.6h0.8v0.8h-0.8zM383.4,488.7h0.8v0.8h-0.8zM386.4,512.8h0.8v0.8h-0.8zM385.8,488.8h0.8v0.8h-0.8zM385.9,496.6h0.8v0.8h-0.8zM387.5,501.1h0.8v0.8h-0.8zM382.3,479.7h0.8v0.8h-0.8zM387.6,488.2h0.8v0.8h-0.8zM384.8,479.2h0.8v0.8h-0.8zM388.3,475.6h0.8v0.8h-0.8zM387.2,469.7h0.8v0.8h-0.8zM388.1,517.1h0.8v0.8h-0.8zM385.4,478.6h0.8v0.8h-0.8zM383.7,502.1h0.8v0.8h-0.8zM387.1,473.0h0.8v0.8h-0.8zM388.3,493.5h0.8v0.8h-0.8zM385.6,504.5h0.8v0.8h-0.8zM388.2,501.0h0.8v0.8h-0.8zM387.8,485.7h0.8v0.8h-0.8zM386.6,526.8h0.8v0.8h-0.8zM388.3,471.4h0.8v0.8h-0.8zM386.5,504.6h0.8v0.8h-0.8zM387.8,470.6h0.8v0.8h-0.8zM388.0,487.3h0.8v0.8h-0.8zM384.6,469.0h0.8v0.8h-0.8zM388.6,469.5h0.8v0.8h-0.8zM386.8,518.4h0.8v0.8h-0.8zM388.0,504.5h0.8v0.8h-0.8zM388.0,469.2h0.8v0.8h-0.8zM387.8,469.9h0.8v0.8h-0.8zM386.8,470.3h0.8v0.8h-0.8zM385.5,513.1h0.8v0.8h-0.8zM387.0,485.8h0.8v0.8h-0.8zM386.0,512.3h0.8v0.8h-0.8zM387.3,493.9h0.8v0.8h-0.8zM386.9,506.7h0.8v0.8h-0.8zM387.6,470.9h0.8v0.8h-0.8zM387.1,502.8h0.8v0.8h-0.8zM388.5,476.4h0.8v0.8h-0.8zM387.6,496.4h0.8v0.8h-0.8zM387.7,471.4h0.8v0.8h-0.8zM383.7,477.9h0.8v0.8h-0.8zM385.8,509.5h0.8v0.8h-0.8zM387.1,469.7h0.8v0.8h-0.8zM387.9,471.5h0.8v0.8h-0.8zM381.6,476.0h0.8v0.8h-0.8zM388.6,473.2h0.8v0.8h-0.8zM388.1,512.0h0.8v0.8h-0.8zM388.1,516.3h0.8v0.8h-0.8zM386.8,511.9h0.8v0.8h-0.8zM387.9,483.5h0.8v0.8h-0.8zM388.2,496.1h0.8v0.8h-0.8zM387.0,491.8h0.8v0.8h-0.8zM388.1,496.8h0.8v0.8h-0.8zM382.5,494.8h0.8v0.8h-0.8zM387.5,520.5h0.8v0.8h-0.8zM388.2,497.4h0.8v0.8h-0.8zM382.6,469.2h0.8v0.8h-0.8zM388.2,505.3h0.8v0.8h-0.8zM387.3,490.8h0.8v0.8h-0.8zM388.0,508.2h0.8v0.8h-0.8zM388.1,478.3h0.8v0.8h-0.8zM384.7,473.1h0.8v0.8h-0.8zM388.4,487.6h0.8v0.8h-0.8zM386.5,473.7h0.8v0.8h-0.8zM387.8,493.0h0.8v0.8h-0.8zM386.6,490.0h0.8v0.8h-0.8zM387.3,500.4h0.8v0.8h-0.8zM386.8,469.1h0.8v0.8h-0.8zM388.1,508.3h0.8v0.8h-0.8zM386.8,470.6h0.8v0.8h-0.8zM387.8,485.6h0.8v0.8h-0.8zM388.5,482.4h0.8v0.8h-0.8zM385.8,526.0h0.8v0.8h-0.8zM383.2,509.1h0.8v0.8h-0.8zM387.5,519.5h0.8v0.8h-0.8zM387.2,475.3h0.8v0.8h-0.8zM386.5,487.2h0.8v0.8h-0.8zM387.0,516.0h0.8v0.8h-0.8zM386.8,514.4h0.8v0.8h-0.8zM386.6,493.2h0.8v0.8h-0.8zM388.1,487.3h0.8v0.8h-0.8zM388.2,474.7h0.8v0.8h-0.8zM387.6,489.0h0.8v0.8h-0.8zM386.7,515.1h0.8v0.8h-0.8zM386.8,502.7h0.8v0.8h-0.8zM386.9,511.2h0.8v0.8h-0.8zM387.4,494.1h0.8v0.8h-0.8zM387.4,470.1h0.8v0.8h-0.8zM381.4,472.4h0.8v0.8h-0.8zM381.9,482.6h0.8v0.8h-0.8zM387.8,517.3h0.8v0.8h-0.8zM387.4,485.8h0.8v0.8h-0.8zM388.2,521.9h0.8v0.8h-0.8zM383.4,485.8h0.8v0.8h-0.8zM386.4,503.8h0.8v0.8h-0.8zM388.4,500.6h0.8v0.8h-0.8zM385.8,469.0h0.8v0.8h-0.8zM383.8,483.3h0.8v0.8h-0.8zM388.0,491.9h0.8v0.8h-0.8zM387.7,526.3h0.8v0.8h-0.8zM388.1,510.8h0.8v0.8h-0.8zM381.7,474.1h0.8v0.8h-0.8zM385.0,476.4h0.8v0.8h-0.8zM388.3,486.4h0.8v0.8h-0.8zM388.4,479.4h0.8v0.8h-0.8zM382.8,479.7h0.8v0.8h-0.8zM387.2,491.5h0.8v0.8h-0.8zM387.7,469.3h0.8v0.8h-0.8zM386.8,483.0h0.8v0.8h-0.8zM388.6,469.7h0.8v0.8h-0.8zM386.9,469.1h0.8v0.8h-0.8zM387.7,513.9h0.8v0.8h-0.8zM382.6,469.5h0.8v0.8h-0.8zM387.6,497.9h0.8v0.8h-0.8zM387.7,507.0h0.8v0.8h-0.8zM388.2,469.8h0.8v0.8h-0.8zM387.9,469.8h0.8v0.8h-0.8zM387.9,469.1h0.8v0.8h-0.8zM382.4,493.7h0.8v0.8h-0.8zM385.1,485.3h0.8v0.8h-0.8zM383.1,473.7h0.8v0.8h-0.8zM386.7,470.1h0.8v0.8h-0.8zM393.7,466.3h0.8v0.8h-0.8zM394.0,469.5h0.8v0.8h-0.8zM394.0,475.7h0.8v0.8h-0.8zM405.6,459.6h0.8v0.8h-0.8zM401.8,463.3h0.8v0.8h-0.8zM386.5,478.0h0.8v0.8h-0.8zM386.6,469.9h0.8v0.8h-0.8zM385.8,476.5h0.8v0.8h-0.8zM409.7,462.7h0.8v0.8h-0.8zM388.6,466.0h0.8v0.8h-0.8zM397.1,481.0h0.8v0.8h-0.8zM390.3,470.3h0.8v0.8h-0.8zM382.5,471.9h0.8v0.8h-0.8zM383.2,491.3h0.8v0.8h-0.8zM401.3,470.9h0.8v0.8h-0.8zM394.2,463.6h0.8v0.8h-0.8zM384.3,486.9h0.8v0.8h-0.8zM390.4,464.6h0.8v0.8h-0.8zM387.3,471.9h0.8v0.8h-0.8zM397.2,474.8h0.8v0.8h-0.8zM382.6,496.2h0.8v0.8h-0.8zM394.5,483.2h0.8v0.8h-0.8zM394.8,480.9h0.8v0.8h-0.8zM408.0,468.4h0.8v0.8h-0.8zM400.6,461.7h0.8v0.8h-0.8zM408.9,460.2h0.8v0.8h-0.8zM408.9,458.7h0.8v0.8h-0.8zM401.7,468.8h0.8v0.8h-0.8zM403.8,461.6h0.8v0.8h-0.8zM387.0,467.3h0.8v0.8h-0.8zM395.7,464.6h0.8v0.8h-0.8zM383.9,482.2h0.8v0.8h-0.8zM404.2,465.6h0.8v0.8h-0.8zM394.6,463.4h0.8v0.8h-0.8zM407.0,461.0h0.8v0.8h-0.8zM385.1,493.4h0.8v0.8h-0.8zM383.7,474.0h0.8v0.8h-0.8zM403.2,463.3h0.8v0.8h-0.8zM396.4,470.9h0.8v0.8h-0.8zM384.8,480.4h0.8v0.8h-0.8zM396.0,470.3h0.8v0.8h-0.8zM401.2,461.5h0.8v0.8h-0.8zM388.9,465.4h0.8v0.8h-0.8zM387.6,482.5h0.8v0.8h-0.8zM388.7,467.4h0.8v0.8h-0.8zM385.5,469.1h0.8v0.8h-0.8zM389.1,466.0h0.8v0.8h-0.8zM382.4,487.5h0.8v0.8h-0.8zM397.7,479.1h0.8v0.8h-0.8zM388.6,487.4h0.8v0.8h-0.8zM407.9,465.6h0.8v0.8h-0.8zM385.3,490.2h0.8v0.8h-0.8zM382.3,499.4h0.8v0.8h-0.8zM382.6,491.5h0.8v0.8h-0.8zM397.3,473.1h0.8v0.8h-0.8zM391.1,465.5h0.8v0.8h-0.8zM401.9,477.3h0.8v0.8h-0.8zM386.4,469.1h0.8v0.8h-0.8zM397.6,466.2h0.8v0.8h-0.8zM381.5,487.6h0.8v0.8h-0.8zM403.0,463.7h0.8v0.8h-0.8zM385.8,468.5h0.8v0.8h-0.8zM398.4,469.5h0.8v0.8h-0.8zM398.9,479.6h0.8v0.8h-0.8zM399.3,468.0h0.8v0.8h-0.8zM386.1,483.9h0.8v0.8h-0.8zM394.3,465.2h0.8v0.8h-0.8zM396.8,475.8h0.8v0.8h-0.8zM385.9,468.1h0.8v0.8h-0.8zM397.7,464.5h0.8v0.8h-0.8zM404.0,469.9h0.8v0.8h-0.8zM403.5,464.5h0.8v0.8h-0.8zM388.4,470.4h0.8v0.8h-0.8zM405.1,463.7h0.8v0.8h-0.8zM395.5,464.1h0.8v0.8h-0.8zM403.4,473.7h0.8v0.8h-0.8zM401.2,468.8h0.8v0.8h-0.8zM382.1,487.3h0.8v0.8h-0.8zM407.5,467.9h0.8v0.8h-0.8zM395.0,468.0h0.8v0.8h-0.8zM406.0,465.8h0.8v0.8h-0.8zM383.4,470.5h0.8v0.8h-0.8zM384.9,475.5h0.8v0.8h-0.8zM390.6,477.7h0.8v0.8h-0.8zM381.8,487.4h0.8v0.8h-0.8zM406.3,464.5h0.8v0.8h-0.8zM384.5,475.5h0.8v0.8h-0.8zM397.5,480.2h0.8v0.8h-0.8zM397.4,463.6h0.8v0.8h-0.8zM408.7,462.6h0.8v0.8h-0.8zM386.0,471.6h0.8v0.8h-0.8zM399.0,463.0h0.8v0.8h-0.8zM405.9,469.0h0.8v0.8h-0.8zM383.0,485.4h0.8v0.8h-0.8zM384.3,488.0h0.8v0.8h-0.8zM385.0,469.6h0.8v0.8h-0.8zM400.9,472.2h0.8v0.8h-0.8zM398.8,466.5h0.8v0.8h-0.8zM408.1,461.0h0.8v0.8h-0.8zM407.8,463.4h0.8v0.8h-0.8zM381.7,493.1h0.8v0.8h-0.8zM382.5,494.7h0.8v0.8h-0.8zM388.7,472.5h0.8v0.8h-0.8zM411.8,463.6h0.8v0.8h-0.8zM390.0,480.9h0.8v0.8h-0.8zM396.4,472.8h0.8v0.8h-0.8zM400.5,480.6h0.8v0.8h-0.8zM382.7,476.3h0.8v0.8h-0.8zM388.9,465.6h0.8v0.8h-0.8zM391.0,470.6h0.8v0.8h-0.8zM409.8,461.8h0.8v0.8h-0.8zM406.0,466.2h0.8v0.8h-0.8zM393.1,481.2h0.8v0.8h-0.8zM409.3,459.9h0.8v0.8h-0.8zM401.7,463.4h0.8v0.8h-0.8zM397.2,462.7h0.8v0.8h-0.8zM397.6,480.4h0.8v0.8h-0.8zM410.0,460.9h0.8v0.8h-0.8zM382.3,493.9h0.8v0.8h-0.8zM404.7,461.4h0.8v0.8h-0.8zM401.1,473.9h0.8v0.8h-0.8zM402.5,465.5h0.8v0.8h-0.8zM381.4,487.7h0.8v0.8h-0.8zM392.6,487.0h0.8v0.8h-0.8zM397.0,482.5h0.8v0.8h-0.8zM392.2,464.4h0.8v0.8h-0.8zM381.6,495.5h0.8v0.8h-0.8zM390.8,478.2h0.8v0.8h-0.8zM385.7,472.8h0.8v0.8h-0.8zM385.6,469.8h0.8v0.8h-0.8zM382.7,483.2h0.8v0.8h-0.8zM390.0,476.9h0.8v0.8h-0.8zM385.3,467.0h0.8v0.8h-0.8zM383.5,482.3h0.8v0.8h-0.8zM395.9,470.1h0.8v0.8h-0.8zM409.1,463.4h0.8v0.8h-0.8zM402.7,474.5h0.8v0.8h-0.8zM398.1,467.4h0.8v0.8h-0.8zM407.4,466.2h0.8v0.8h-0.8zM409.1,461.5h0.8v0.8h-0.8zM385.8,470.6h0.8v0.8h-0.8zM387.6,470.3h0.8v0.8h-0.8zM408.7,460.9h0.8v0.8h-0.8zM401.5,477.9h0.8v0.8h-0.8zM394.2,474.4h0.8v0.8h-0.8zM389.8,471.8h0.8v0.8h-0.8zM384.9,490.8h0.8v0.8h-0.8zM408.0,464.1h0.8v0.8h-0.8zM395.7,467.4h0.8v0.8h-0.8zM385.0,472.3h0.8v0.8h-0.8zM381.5,494.3h0.8v0.8h-0.8zM402.5,465.5h0.8v0.8h-0.8zM399.8,464.3h0.8v0.8h-0.8zM403.8,462.9h0.8v0.8h-0.8zM405.2,460.6h0.8v0.8h-0.8zM385.3,484.8h0.8v0.8h-0.8zM405.8,461.5h0.8v0.8h-0.8zM385.3,487.4h0.8v0.8h-0.8zM410.0,464.6h0.8v0.8h-0.8zM396.9,464.3h0.8v0.8h-0.8zM402.1,461.6h0.8v0.8h-0.8zM387.6,487.1h0.8v0.8h-0.8zM392.2,472.8h0.8v0.8h-0.8zM384.4,489.8h0.8v0.8h-0.8zM382.6,495.0h0.8v0.8h-0.8zM407.0,461.1h0.8v0.8h-0.8zM397.9,471.9h0.8v0.8h-0.8zM384.2,468.0h0.8v0.8h-0.8zM390.4,470.6h0.8v0.8h-0.8zM406.1,461.0h0.8v0.8h-0.8zM407.7,467.6h0.8v0.8h-0.8zM383.8,474.7h0.8v0.8h-0.8zM384.8,469.9h0.8v0.8h-0.8zM409.2,460.5h0.8v0.8h-0.8zM382.4,474.7h0.8v0.8h-0.8zM405.1,462.9h0.8v0.8h-0.8zM408.1,465.3h0.8v0.8h-0.8zM390.5,465.8h0.8v0.8h-0.8zM409.0,460.5h0.8v0.8h-0.8zM402.3,474.5h0.8v0.8h-0.8zM409.5,460.7h0.8v0.8h-0.8zM391.5,465.1h0.8v0.8h-0.8zM409.0,460.3h0.8v0.8h-0.8zM382.7,493.9h0.8v0.8h-0.8zM390.3,467.2h0.8v0.8h-0.8zM404.4,461.8h0.8v0.8h-0.8zM390.1,474.9h0.8v0.8h-0.8zM402.4,463.0h0.8v0.8h-0.8zM400.3,462.9h0.8v0.8h-0.8zM410.1,461.7h0.8v0.8h-0.8zM385.9,470.3h0.8v0.8h-0.8zM398.7,466.0h0.8v0.8h-0.8zM401.6,467.4h0.8v0.8h-0.8zM406.4,464.9h0.8v0.8h-0.8zM403.8,461.0h0.8v0.8h-0.8zM387.5,477.6h0.8v0.8h-0.8zM399.8,462.2h0.8v0.8h-0.8zM392.4,479.6h0.8v0.8h-0.8zM382.0,479.0h0.8v0.8h-0.8zM404.3,461.3h0.8v0.8h-0.8zM385.5,497.1h0.8v0.8h-0.8zM409.7,460.7h0.8v0.8h-0.8zM403.9,461.7h0.8v0.8h-0.8zM388.7,483.8h0.8v0.8h-0.8zM382.7,475.6h0.8v0.8h-0.8zM386.4,470.8h0.8v0.8h-0.8zM406.2,468.0h0.8v0.8h-0.8zM407.3,469.7h0.8v0.8h-0.8zM401.8,462.6h0.8v0.8h-0.8zM389.6,483.1h0.8v0.8h-0.8zM396.8,484.4h0.8v0.8h-0.8zM381.5,497.7h0.8v0.8h-0.8zM386.0,469.5h0.8v0.8h-0.8zM397.3,463.0h0.8v0.8h-0.8zM401.2,465.8h0.8v0.8h-0.8zM394.6,472.6h0.8v0.8h-0.8zM400.2,463.9h0.8v0.8h-0.8zM382.6,481.5h0.8v0.8h-0.8zM411.2,460.2h0.8v0.8h-0.8zM397.1,479.7h0.8v0.8h-0.8zM383.2,473.9h0.8v0.8h-0.8zM389.9,464.6h0.8v0.8h-0.8zM393.8,466.2h0.8v0.8h-0.8zM383.1,491.1h0.8v0.8h-0.8zM406.8,463.8h0.8v0.8h-0.8zM391.8,466.8h0.8v0.8h-0.8zM407.2,461.4h0.8v0.8h-0.8zM387.9,470.7h0.8v0.8h-0.8zM391.0,465.4h0.8v0.8h-0.8zM382.7,472.0h0.8v0.8h-0.8zM403.8,471.3h0.8v0.8h-0.8zM400.6,469.8h0.8v0.8h-0.8zM405.2,461.6h0.8v0.8h-0.8zM384.3,495.5h0.8v0.8h-0.8zM387.2,469.2h0.8v0.8h-0.8zM396.1,469.8h0.8v0.8h-0.8zM408.5,463.4h0.8v0.8h-0.8zM390.2,491.1h0.8v0.8h-0.8zM407.5,464.4h0.8v0.8h-0.8zM410.3,465.5h0.8v0.8h-0.8zM406.9,460.7h0.8v0.8h-0.8zM386.2,468.5h0.8v0.8h-0.8zM388.5,481.3h0.8v0.8h-0.8zM384.8,478.9h0.8v0.8h-0.8zM399.2,467.4h0.8v0.8h-0.8zM397.8,462.5h0.8v0.8h-0.8zM400.2,465.7h0.8v0.8h-0.8zM405.9,460.4h0.8v0.8h-0.8zM382.2,486.9h0.8v0.8h-0.8zM397.2,464.6h0.8v0.8h-0.8zM403.0,465.4h0.8v0.8h-0.8zM404.5,465.1h0.8v0.8h-0.8zM382.6,469.6h0.8v0.8h-0.8zM384.3,495.0h0.8v0.8h-0.8zM405.5,461.3h0.8v0.8h-0.8zM403.8,470.2h0.8v0.8h-0.8zM387.9,489.5h0.8v0.8h-0.8zM401.1,465.8h0.8v0.8h-0.8zM395.1,465.5h0.8v0.8h-0.8zM404.0,460.2h0.8v0.8h-0.8zM399.5,462.9h0.8v0.8h-0.8zM385.1,475.7h0.8v0.8h-0.8zM396.5,464.6h0.8v0.8h-0.8zM382.7,473.4h0.8v0.8h-0.8zM390.7,475.3h0.8v0.8h-0.8zM406.9,466.9h0.8v0.8h-0.8zM391.8,468.5h0.8v0.8h-0.8zM407.6,460.1h0.8v0.8h-0.8zM385.6,470.9h0.8v0.8h-0.8zM398.9,462.9h0.8v0.8h-0.8zM403.6,475.1h0.8v0.8h-0.8zM402.1,472.8h0.8v0.8h-0.8zM398.1,463.8h0.8v0.8h-0.8zM407.2,460.3h0.8v0.8h-0.8zM404.3,471.3h0.8v0.8h-0.8zM400.2,466.8h0.8v0.8h-0.8zM397.4,464.9h0.8v0.8h-0.8zM385.4,490.3h0.8v0.8h-0.8zM384.3,472.5h0.8v0.8h-0.8zM383.8,471.5h0.8v0.8h-0.8zM391.7,485.4h0.8v0.8h-0.8zM398.0,471.1h0.8v0.8h-0.8zM406.5,463.5h0.8v0.8h-0.8zM402.8,461.7h0.8v0.8h-0.8zM381.3,479.4h0.8v0.8h-0.8zM397.7,477.1h0.8v0.8h-0.8zM410.2,463.1h0.8v0.8h-0.8zM410.9,460.2h0.8v0.8h-0.8zM400.9,469.4h0.8v0.8h-0.8zM392.5,478.3h0.8v0.8h-0.8zM388.1,472.5h0.8v0.8h-0.8zM382.4,478.7h0.8v0.8h-0.8zM410.3,464.5h0.8v0.8h-0.8zM406.0,461.5h0.8v0.8h-0.8zM396.7,463.9h0.8v0.8h-0.8zM384.2,472.5h0.8v0.8h-0.8zM406.5,461.7h0.8v0.8h-0.8zM393.2,474.3h0.8v0.8h-0.8zM386.7,482.5h0.8v0.8h-0.8zM382.8,478.9h0.8v0.8h-0.8zM395.7,483.7h0.8v0.8h-0.8zM402.7,475.6h0.8v0.8h-0.8zM382.5,490.6h0.8v0.8h-0.8zM391.8,477.6h0.8v0.8h-0.8zM396.2,482.4h0.8v0.8h-0.8zM397.8,465.1h0.8v0.8h-0.8zM383.5,483.3h0.8v0.8h-0.8zM395.0,465.8h0.8v0.8h-0.8zM403.6,462.8h0.8v0.8h-0.8zM395.9,484.1h0.8v0.8h-0.8zM391.9,470.1h0.8v0.8h-0.8zM385.9,477.8h0.8v0.8h-0.8zM396.4,463.3h0.8v0.8h-0.8zM386.6,481.9h0.8v0.8h-0.8zM402.0,462.7h0.8v0.8h-0.8zM400.4,465.5h0.8v0.8h-0.8zM406.6,460.9h0.8v0.8h-0.8zM401.2,469.5h0.8v0.8h-0.8zM395.5,465.6h0.8v0.8h-0.8zM389.2,473.3h0.8v0.8h-0.8zM399.0,466.0h0.8v0.8h-0.8zM382.6,480.1h0.8v0.8h-0.8zM381.6,492.7h0.8v0.8h-0.8zM397.2,467.4h0.8v0.8h-0.8zM399.2,470.4h0.8v0.8h-0.8zM397.0,470.9h0.8v0.8h-0.8zM404.3,462.8h0.8v0.8h-0.8zM411.1,465.6h0.8v0.8h-0.8zM403.1,466.1h0.8v0.8h-0.8zM388.3,485.1h0.8v0.8h-0.8zM386.6,467.2h0.8v0.8h-0.8zM396.8,468.9h0.8v0.8h-0.8zM406.7,461.8h0.8v0.8h-0.8zM385.5,468.7h0.8v0.8h-0.8zM397.4,478.7h0.8v0.8h-0.8zM401.3,470.5h0.8v0.8h-0.8zM406.8,469.0h0.8v0.8h-0.8zM383.9,478.1h0.8v0.8h-0.8zM393.3,468.5h0.8v0.8h-0.8zM395.1,467.1h0.8v0.8h-0.8zM408.3,460.1h0.8v0.8h-0.8zM394.2,472.6h0.8v0.8h-0.8zM382.1,484.3h0.8v0.8h-0.8zM402.4,466.5h0.8v0.8h-0.8zM401.7,469.9h0.8v0.8h-0.8zM397.0,463.0h0.8v0.8h-0.8zM403.5,475.3h0.8v0.8h-0.8zM393.7,474.1h0.8v0.8h-0.8zM397.9,464.7h0.8v0.8h-0.8zM383.5,482.2h0.8v0.8h-0.8zM401.6,471.4h0.8v0.8h-0.8zM393.1,485.2h0.8v0.8h-0.8zM398.0,469.5h0.8v0.8h-0.8zM404.4,462.1h0.8v0.8h-0.8zM409.4,460.6h0.8v0.8h-0.8zM405.6,463.1h0.8v0.8h-0.8zM383.1,475.2h0.8v0.8h-0.8zM393.4,477.9h0.8v0.8h-0.8zM400.5,462.0h0.8v0.8h-0.8zM397.9,462.3h0.8v0.8h-0.8zM400.4,470.7h0.8v0.8h-0.8zM395.1,462.6h0.8v0.8h-0.8zM409.6,459.2h0.8v0.8h-0.8zM394.7,463.9h0.8v0.8h-0.8zM385.0,480.2h0.8v0.8h-0.8zM406.1,465.0h0.8v0.8h-0.8zM384.9,494.3h0.8v0.8h-0.8zM408.8,461.2h0.8v0.8h-0.8zM399.3,472.0h0.8v0.8h-0.8zM401.5,462.1h0.8v0.8h-0.8zM386.9,484.5h0.8v0.8h-0.8zM409.9,461.0h0.8v0.8h-0.8zM401.6,462.8h0.8v0.8h-0.8zM387.1,465.3h0.8v0.8h-0.8zM393.4,486.7h0.8v0.8h-0.8zM407.9,462.9h0.8v0.8h-0.8zM388.4,490.0h0.8v0.8h-0.8zM383.0,468.4h0.8v0.8h-0.8zM383.5,475.3h0.8v0.8h-0.8zM384.8,481.1h0.8v0.8h-0.8zM408.0,460.4h0.8v0.8h-0.8zM387.2,475.9h0.8v0.8h-0.8zM384.0,492.9h0.8v0.8h-0.8zM394.6,466.6h0.8v0.8h-0.8zM385.5,472.0h0.8v0.8h-0.8zM401.2,462.6h0.8v0.8h-0.8zM384.6,475.3h0.8v0.8h-0.8zM388.1,469.4h0.8v0.8h-0.8zM383.0,478.9h0.8v0.8h-0.8zM411.2,466.4h0.8v0.8h-0.8zM394.4,464.2h0.8v0.8h-0.8zM385.8,488.4h0.8v0.8h-0.8zM393.1,478.7h0.8v0.8h-0.8zM408.6,463.6h0.8v0.8h-0.8zM410.8,460.4h0.8v0.8h-0.8zM402.3,470.9h0.8v0.8h-0.8zM403.8,461.2h0.8v0.8h-0.8zM390.6,465.0h0.8v0.8h-0.8zM384.7,478.1h0.8v0.8h-0.8zM383.9,472.0h0.8v0.8h-0.8zM383.8,473.9h0.8v0.8h-0.8zM405.3,461.5h0.8v0.8h-0.8zM387.5,468.8h0.8v0.8h-0.8zM403.2,467.6h0.8v0.8h-0.8zM386.5,487.5h0.8v0.8h-0.8zM382.6,495.8h0.8v0.8h-0.8zM383.9,478.1h0.8v0.8h-0.8zM391.6,464.1h0.8v0.8h-0.8zM403.5,462.3h0.8v0.8h-0.8zM381.9,496.3h0.8v0.8h-0.8zM407.3,461.0h0.8v0.8h-0.8zM397.6,477.4h0.8v0.8h-0.8zM408.3,463.2h0.8v0.8h-0.8zM404.2,469.2h0.8v0.8h-0.8zM389.8,482.1h0.8v0.8h-0.8zM393.9,470.8h0.8v0.8h-0.8zM397.9,477.2h0.8v0.8h-0.8zM385.2,488.9h0.8v0.8h-0.8zM381.7,490.0h0.8v0.8h-0.8zM406.4,471.1h0.8v0.8h-0.8zM385.8,470.3h0.8v0.8h-0.8zM403.3,463.0h0.8v0.8h-0.8zM405.3,474.1h0.8v0.8h-0.8zM382.5,472.3h0.8v0.8h-0.8zM386.2,468.7h0.8v0.8h-0.8zM392.0,481.7h0.8v0.8h-0.8zM383.7,485.2h0.8v0.8h-0.8zM388.2,481.3h0.8v0.8h-0.8zM403.1,472.9h0.8v0.8h-0.8zM406.5,468.5h0.8v0.8h-0.8zM391.2,464.2h0.8v0.8h-0.8zM383.6,476.0h0.8v0.8h-0.8zM407.1,462.4h0.8v0.8h-0.8zM406.1,463.7h0.8v0.8h-0.8zM406.3,466.8h0.8v0.8h-0.8zM394.6,485.4h0.8v0.8h-0.8zM384.2,480.3h0.8v0.8h-0.8zM387.6,466.0h0.8v0.8h-0.8zM405.9,462.5h0.8v0.8h-0.8zM384.1,493.2h0.8v0.8h-0.8zM406.6,464.4h0.8v0.8h-0.8zM396.4,464.3h0.8v0.8h-0.8zM396.7,463.5h0.8v0.8h-0.8zM393.0,466.6h0.8v0.8h-0.8zM403.2,461.8h0.8v0.8h-0.8zM390.1,484.4h0.8v0.8h-0.8zM399.0,471.7h0.8v0.8h-0.8zM405.8,465.2h0.8v0.8h-0.8zM382.7,489.2h0.8v0.8h-0.8zM393.0,468.9h0.8v0.8h-0.8zM399.3,474.6h0.8v0.8h-0.8zM408.4,465.8h0.8v0.8h-0.8zM382.3,483.5h0.8v0.8h-0.8zM390.8,467.3h0.8v0.8h-0.8zM390.3,490.5h0.8v0.8h-0.8zM403.0,464.2h0.8v0.8h-0.8zM397.4,473.5h0.8v0.8h-0.8zM383.1,472.1h0.8v0.8h-0.8zM398.2,462.7h0.8v0.8h-0.8zM398.5,463.5h0.8v0.8h-0.8zM386.9,468.2h0.8v0.8h-0.8zM386.2,490.9h0.8v0.8h-0.8zM405.1,461.2h0.8v0.8h-0.8zM409.6,460.7h0.8v0.8h-0.8zM405.2,472.4h0.8v0.8h-0.8zM399.4,462.0h0.8v0.8h-0.8zM407.7,466.5h0.8v0.8h-0.8zM398.3,474.6h0.8v0.8h-0.8zM384.3,492.0h0.8v0.8h-0.8zM383.3,479.1h0.8v0.8h-0.8zM409.8,461.7h0.8v0.8h-0.8zM407.4,469.5h0.8v0.8h-0.8zM382.6,486.1h0.8v0.8h-0.8zM409.1,462.0h0.8v0.8h-0.8zM405.0,461.6h0.8v0.8h-0.8zM395.5,476.4h0.8v0.8h-0.8zM394.2,471.0h0.8v0.8h-0.8zM399.3,477.1h0.8v0.8h-0.8zM386.2,472.3h0.8v0.8h-0.8zM392.9,463.0h0.8v0.8h-0.8zM385.2,483.0h0.8v0.8h-0.8zM393.3,465.3h0.8v0.8h-0.8zM395.6,464.7h0.8v0.8h-0.8zM399.3,466.0h0.8v0.8h-0.8zM387.1,475.7h0.8v0.8h-0.8zM385.9,473.3h0.8v0.8h-0.8zM403.2,475.3h0.8v0.8h-0.8zM381.8,491.3h0.8v0.8h-0.8zM385.4,469.4h0.8v0.8h-0.8zM412.1,461.9h0.8v0.8h-0.8zM399.7,471.4h0.8v0.8h-0.8zM397.7,465.1h0.8v0.8h-0.8zM393.7,486.4h0.8v0.8h-0.8zM385.1,473.6h0.8v0.8h-0.8zM386.0,467.6h0.8v0.8h-0.8zM407.0,461.4h0.8v0.8h-0.8zM390.8,477.6h0.8v0.8h-0.8zM400.5,466.7h0.8v0.8h-0.8zM386.3,469.4h0.8v0.8h-0.8zM393.1,484.2h0.8v0.8h-0.8zM392.5,486.4h0.8v0.8h-0.8zM408.4,465.6h0.8v0.8h-0.8zM388.0,468.2h0.8v0.8h-0.8zM385.2,470.9h0.8v0.8h-0.8zM401.4,471.7h0.8v0.8h-0.8zM381.5,481.8h0.8v0.8h-0.8zM384.3,490.4h0.8v0.8h-0.8zM408.9,461.2h0.8v0.8h-0.8zM400.7,461.8h0.8v0.8h-0.8zM384.2,491.8h0.8v0.8h-0.8zM396.6,483.4h0.8v0.8h-0.8zM393.8,465.4h0.8v0.8h-0.8zM402.7,472.1h0.8v0.8h-0.8zM408.4,463.8h0.8v0.8h-0.8zM385.5,469.7h0.8v0.8h-0.8zM394.4,477.7h0.8v0.8h-0.8zM405.5,463.8h0.8v0.8h-0.8zM406.0,463.1h0.8v0.8h-0.8zM389.2,480.4h0.8v0.8h-0.8zM384.9,475.3h0.8v0.8h-0.8zM403.1,472.9h0.8v0.8h-0.8zM409.8,462.1h0.8v0.8h-0.8zM383.0,470.9h0.8v0.8h-0.8zM384.5,470.2h0.8v0.8h-0.8zM395.9,478.5h0.8v0.8h-0.8zM399.2,465.0h0.8v0.8h-0.8zM385.7,469.0h0.8v0.8h-0.8zM402.5,476.4h0.8v0.8h-0.8zM406.0,461.6h0.8v0.8h-0.8zM405.2,461.4h0.8v0.8h-0.8zM382.1,485.0h0.8v0.8h-0.8zM397.2,481.2h0.8v0.8h-0.8zM383.5,494.9h0.8v0.8h-0.8zM387.1,491.8h0.8v0.8h-0.8zM409.3,461.2h0.8v0.8h-0.8zM408.6,460.8h0.8v0.8h-0.8zM402.1,461.5h0.8v0.8h-0.8zM401.5,472.0h0.8v0.8h-0.8zM384.6,487.9h0.8v0.8h-0.8zM383.3,470.2h0.8v0.8h-0.8zM401.1,463.0h0.8v0.8h-0.8zM396.2,479.7h0.8v0.8h-0.8zM407.2,463.4h0.8v0.8h-0.8zM403.0,471.6h0.8v0.8h-0.8zM382.7,474.7h0.8v0.8h-0.8zM398.9,479.8h0.8v0.8h-0.8zM382.0,470.6h0.8v0.8h-0.8zM382.3,484.0h0.8v0.8h-0.8zM396.3,481.9h0.8v0.8h-0.8zM390.8,481.5h0.8v0.8h-0.8zM398.4,476.1h0.8v0.8h-0.8zM384.3,473.4h0.8v0.8h-0.8zM394.9,471.9h0.8v0.8h-0.8zM392.3,470.5h0.8v0.8h-0.8zM386.6,468.8h0.8v0.8h-0.8zM392.0,481.7h0.8v0.8h-0.8zM384.8,467.5h0.8v0.8h-0.8zM405.3,460.8h0.8v0.8h-0.8zM385.0,471.8h0.8v0.8h-0.8zM396.0,483.3h0.8v0.8h-0.8zM383.1,489.7h0.8v0.8h-0.8zM386.7,471.8h0.8v0.8h-0.8zM393.7,468.1h0.8v0.8h-0.8zM409.7,460.1h0.8v0.8h-0.8zM409.4,459.8h0.8v0.8h-0.8zM400.5,462.4h0.8v0.8h-0.8zM405.0,472.3h0.8v0.8h-0.8zM388.7,468.9h0.8v0.8h-0.8zM399.6,462.3h0.8v0.8h-0.8zM399.6,463.5h0.8v0.8h-0.8zM405.8,461.4h0.8v0.8h-0.8zM382.7,470.5h0.8v0.8h-0.8zM409.6,460.7h0.8v0.8h-0.8zM382.1,489.7h0.8v0.8h-0.8zM405.6,471.2h0.8v0.8h-0.8zM393.0,465.3h0.8v0.8h-0.8zM384.2,470.4h0.8v0.8h-0.8zM407.9,463.6h0.8v0.8h-0.8zM385.7,468.5h0.8v0.8h-0.8zM381.8,491.9h0.8v0.8h-0.8zM406.1,460.9h0.8v0.8h-0.8zM396.5,464.7h0.8v0.8h-0.8zM406.8,467.9h0.8v0.8h-0.8zM396.4,482.6h0.8v0.8h-0.8zM393.1,484.9h0.8v0.8h-0.8zM394.2,469.9h0.8v0.8h-0.8zM401.3,464.0h0.8v0.8h-0.8zM381.6,472.0h0.8v0.8h-0.8zM388.1,489.5h0.8v0.8h-0.8zM399.7,461.7h0.8v0.8h-0.8zM381.4,490.5h0.8v0.8h-0.8zM407.8,467.1h0.8v0.8h-0.8zM397.3,478.1h0.8v0.8h-0.8zM401.2,474.6h0.8v0.8h-0.8zM381.8,475.1h0.8v0.8h-0.8zM409.5,463.4h0.8v0.8h-0.8zM405.9,462.7h0.8v0.8h-0.8zM402.8,475.4h0.8v0.8h-0.8zM393.1,464.5h0.8v0.8h-0.8zM382.2,494.3h0.8v0.8h-0.8zM404.4,463.7h0.8v0.8h-0.8zM395.7,470.6h0.8v0.8h-0.8zM399.0,462.8h0.8v0.8h-0.8zM394.1,464.3h0.8v0.8h-0.8zM398.6,463.1h0.8v0.8h-0.8zM408.9,459.9h0.8v0.8h-0.8zM385.7,469.9h0.8v0.8h-0.8zM399.1,470.6h0.8v0.8h-0.8zM389.8,470.2h0.8v0.8h-0.8zM396.4,471.3h0.8v0.8h-0.8zM400.1,461.5h0.8v0.8h-0.8zM408.3,461.4h0.8v0.8h-0.8zM409.2,465.4h0.8v0.8h-0.8zM382.1,479.5h0.8v0.8h-0.8zM383.4,491.2h0.8v0.8h-0.8zM382.5,495.5h0.8v0.8h-0.8zM382.7,475.4h0.8v0.8h-0.8zM388.6,467.1h0.8v0.8h-0.8zM407.6,461.1h0.8v0.8h-0.8zM397.7,466.4h0.8v0.8h-0.8zM396.0,465.3h0.8v0.8h-0.8zM399.2,470.7h0.8v0.8h-0.8zM407.8,462.0h0.8v0.8h-0.8zM410.2,462.9h0.8v0.8h-0.8zM381.8,473.5h0.8v0.8h-0.8zM386.2,484.2h0.8v0.8h-0.8zM393.9,469.7h0.8v0.8h-0.8zM381.2,492.7h0.8v0.8h-0.8zM404.7,463.6h0.8v0.8h-0.8zM386.0,486.6h0.8v0.8h-0.8zM381.7,489.4h0.8v0.8h-0.8zM397.5,463.2h0.8v0.8h-0.8zM387.5,468.2h0.8v0.8h-0.8zM387.9,493.6h0.8v0.8h-0.8zM403.8,464.6h0.8v0.8h-0.8zM404.0,467.5h0.8v0.8h-0.8zM387.1,488.9h0.8v0.8h-0.8zM398.7,467.5h0.8v0.8h-0.8zM407.8,460.8h0.8v0.8h-0.8zM392.2,468.9h0.8v0.8h-0.8zM405.0,464.8h0.8v0.8h-0.8zM399.7,478.8h0.8v0.8h-0.8zM387.5,492.5h0.8v0.8h-0.8zM392.8,465.2h0.8v0.8h-0.8zM383.7,471.7h0.8v0.8h-0.8zM406.0,463.4h0.8v0.8h-0.8zM384.4,475.4h0.8v0.8h-0.8zM405.2,469.4h0.8v0.8h-0.8zM394.3,471.1h0.8v0.8h-0.8zM386.6,468.2h0.8v0.8h-0.8zM382.4,474.5h0.8v0.8h-0.8zM387.2,468.4h0.8v0.8h-0.8zM392.8,479.0h0.8v0.8h-0.8zM403.9,464.4h0.8v0.8h-0.8zM381.5,485.2h0.8v0.8h-0.8zM405.7,460.2h0.8v0.8h-0.8zM406.5,471.8h0.8v0.8h-0.8zM404.6,464.4h0.8v0.8h-0.8zM395.1,473.4h0.8v0.8h-0.8zM389.5,482.5h0.8v0.8h-0.8zM384.1,481.8h0.8v0.8h-0.8zM382.5,495.7h0.8v0.8h-0.8zM403.1,462.8h0.8v0.8h-0.8zM397.3,476.3h0.8v0.8h-0.8zM401.3,479.1h0.8v0.8h-0.8zM403.9,468.3h0.8v0.8h-0.8zM393.4,479.1h0.8v0.8h-0.8zM398.6,462.6h0.8v0.8h-0.8zM394.8,464.5h0.8v0.8h-0.8zM396.6,482.5h0.8v0.8h-0.8zM409.6,460.3h0.8v0.8h-0.8zM383.4,481.0h0.8v0.8h-0.8zM408.5,462.8h0.8v0.8h-0.8zM392.5,489.2h0.8v0.8h-0.8zM382.0,473.3h0.8v0.8h-0.8zM386.0,471.6h0.8v0.8h-0.8zM386.6,472.5h0.8v0.8h-0.8zM382.0,488.7h0.8v0.8h-0.8zM396.3,464.2h0.8v0.8h-0.8zM384.7,470.1h0.8v0.8h-0.8zM383.3,471.0h0.8v0.8h-0.8zM393.8,477.3h0.8v0.8h-0.8zM389.8,465.7h0.8v0.8h-0.8zM393.6,472.4h0.8v0.8h-0.8zM390.9,488.4h0.8v0.8h-0.8zM399.6,477.0h0.8v0.8h-0.8zM385.6,468.1h0.8v0.8h-0.8zM403.8,461.3h0.8v0.8h-0.8zM400.2,462.8h0.8v0.8h-0.8zM385.1,484.4h0.8v0.8h-0.8zM386.1,485.4h0.8v0.8h-0.8zM387.4,466.6h0.8v0.8h-0.8zM401.9,469.9h0.8v0.8h-0.8zM396.0,465.2h0.8v0.8h-0.8zM406.7,461.2h0.8v0.8h-0.8zM407.4,461.4h0.8v0.8h-0.8zM403.6,474.7h0.8v0.8h-0.8zM405.8,460.8h0.8v0.8h-0.8zM383.1,484.8h0.8v0.8h-0.8zM404.7,471.1h0.8v0.8h-0.8zM404.2,464.3h0.8v0.8h-0.8zM410.0,466.7h0.8v0.8h-0.8zM405.2,464.3h0.8v0.8h-0.8zM399.9,462.6h0.8v0.8h-0.8zM382.9,473.4h0.8v0.8h-0.8zM400.4,467.9h0.8v0.8h-0.8zM410.5,461.9h0.8v0.8h-0.8zM383.8,471.0h0.8v0.8h-0.8zM395.9,463.2h0.8v0.8h-0.8zM403.4,461.1h0.8v0.8h-0.8zM393.6,465.5h0.8v0.8h-0.8zM399.1,464.1h0.8v0.8h-0.8zM385.3,479.8h0.8v0.8h-0.8zM390.6,468.5h0.8v0.8h-0.8zM393.7,483.0h0.8v0.8h-0.8zM382.7,493.7h0.8v0.8h-0.8zM382.4,493.9h0.8v0.8h-0.8zM382.5,491.9h0.8v0.8h-0.8zM391.9,489.7h0.8v0.8h-0.8zM400.1,468.0h0.8v0.8h-0.8zM381.6,475.0h0.8v0.8h-0.8zM402.4,466.2h0.8v0.8h-0.8zM383.1,471.0h0.8v0.8h-0.8zM406.2,462.4h0.8v0.8h-0.8zM390.3,489.8h0.8v0.8h-0.8zM382.7,487.6h0.8v0.8h-0.8zM381.8,492.4h0.8v0.8h-0.8zM400.5,478.0h0.8v0.8h-0.8zM382.0,489.8h0.8v0.8h-0.8zM405.5,462.9h0.8v0.8h-0.8zM382.1,472.6h0.8v0.8h-0.8zM386.4,473.3h0.8v0.8h-0.8zM407.5,467.5h0.8v0.8h-0.8zM407.5,461.1h0.8v0.8h-0.8zM400.6,466.2h0.8v0.8h-0.8zM383.2,472.4h0.8v0.8h-0.8zM402.5,472.2h0.8v0.8h-0.8zM397.9,477.0h0.8v0.8h-0.8zM392.8,464.9h0.8v0.8h-0.8zM396.9,471.6h0.8v0.8h-0.8zM404.0,473.4h0.8v0.8h-0.8zM389.9,469.3h0.8v0.8h-0.8zM404.0,464.1h0.8v0.8h-0.8zM392.1,469.7h0.8v0.8h-0.8zM398.2,464.0h0.8v0.8h-0.8zM381.3,477.1h0.8v0.8h-0.8zM395.2,464.5h0.8v0.8h-0.8zM409.3,462.8h0.8v0.8h-0.8zM402.5,463.7h0.8v0.8h-0.8zM382.6,497.6h0.8v0.8h-0.8zM402.4,463.9h0.8v0.8h-0.8zM403.3,470.3h0.8v0.8h-0.8zM397.9,474.4h0.8v0.8h-0.8zM405.5,472.6h0.8v0.8h-0.8zM405.0,472.5h0.8v0.8h-0.8zM409.6,463.9h0.8v0.8h-0.8zM392.8,470.8h0.8v0.8h-0.8zM381.8,483.4h0.8v0.8h-0.8zM406.7,461.8h0.8v0.8h-0.8zM397.8,481.7h0.8v0.8h-0.8zM384.3,489.3h0.8v0.8h-0.8zM408.9,461.6h0.8v0.8h-0.8zM407.1,467.6h0.8v0.8h-0.8zM390.5,473.6h0.8v0.8h-0.8zM406.7,462.6h0.8v0.8h-0.8zM393.2,468.2h0.8v0.8h-0.8zM395.7,463.1h0.8v0.8h-0.8zM405.2,467.5h0.8v0.8h-0.8zM404.7,469.9h0.8v0.8h-0.8zM386.2,468.5h0.8v0.8h-0.8zM407.9,460.6h0.8v0.8h-0.8zM389.6,465.3h0.8v0.8h-0.8zM382.9,479.8h0.8v0.8h-0.8zM406.8,469.2h0.8v0.8h-0.8zM408.4,466.8h0.8v0.8h-0.8zM401.9,468.4h0.8v0.8h-0.8zM398.2,464.2h0.8v0.8h-0.8zM405.3,470.4h0.8v0.8h-0.8zM383.5,470.7h0.8v0.8h-0.8zM405.2,463.7h0.8v0.8h-0.8zM388.4,476.1h0.8v0.8h-0.8zM382.9,497.4h0.8v0.8h-0.8zM407.5,461.4h0.8v0.8h-0.8zM409.9,465.1h0.8v0.8h-0.8zM403.1,463.9h0.8v0.8h-0.8zM382.3,498.9h0.8v0.8h-0.8zM394.8,471.3h0.8v0.8h-0.8zM401.5,464.2h0.8v0.8h-0.8zM395.8,472.4h0.8v0.8h-0.8zM396.4,472.5h0.8v0.8h-0.8zM386.6,470.1h0.8v0.8h-0.8zM399.7,463.7h0.8v0.8h-0.8zM388.3,467.2h0.8v0.8h-0.8zM397.9,468.9h0.8v0.8h-0.8zM382.0,496.8h0.8v0.8h-0.8zM387.5,468.1h0.8v0.8h-0.8zM383.6,471.6h0.8v0.8h-0.8zM405.2,465.7h0.8v0.8h-0.8zM382.3,473.0h0.8v0.8h-0.8zM382.6,476.5h0.8v0.8h-0.8zM410.5,465.3h0.8v0.8h-0.8zM399.0,466.9h0.8v0.8h-0.8zM382.5,491.7h0.8v0.8h-0.8zM384.2,491.4h0.8v0.8h-0.8zM410.0,463.3h0.8v0.8h-0.8zM407.2,463.3h0.8v0.8h-0.8zM407.4,463.9h0.8v0.8h-0.8zM404.6,464.1h0.8v0.8h-0.8zM409.9,468.2h0.8v0.8h-0.8zM386.4,478.1h0.8v0.8h-0.8zM388.2,477.7h0.8v0.8h-0.8zM402.3,462.0h0.8v0.8h-0.8zM398.2,464.6h0.8v0.8h-0.8zM389.0,487.9h0.8v0.8h-0.8zM401.3,475.2h0.8v0.8h-0.8zM406.5,462.0h0.8v0.8h-0.8zM386.3,481.0h0.8v0.8h-0.8zM391.5,464.4h0.8v0.8h-0.8zM404.0,463.4h0.8v0.8h-0.8zM385.3,473.1h0.8v0.8h-0.8zM383.6,477.6h0.8v0.8h-0.8zM387.2,478.7h0.8v0.8h-0.8zM398.6,462.8h0.8v0.8h-0.8zM392.1,467.9h0.8v0.8h-0.8zM400.1,462.7h0.8v0.8h-0.8zM387.9,491.3h0.8v0.8h-0.8zM404.9,460.4h0.8v0.8h-0.8zM405.5,462.8h0.8v0.8h-0.8zM390.5,466.7h0.8v0.8h-0.8zM398.4,463.2h0.8v0.8h-0.8zM398.0,465.2h0.8v0.8h-0.8zM384.4,470.9h0.8v0.8h-0.8zM400.9,470.0h0.8v0.8h-0.8zM382.6,478.8h0.8v0.8h-0.8zM402.7,469.8h0.8v0.8h-0.8zM408.9,467.5h0.8v0.8h-0.8zM394.5,468.1h0.8v0.8h-0.8zM387.1,486.9h0.8v0.8h-0.8zM383.4,484.5h0.8v0.8h-0.8zM382.8,486.5h0.8v0.8h-0.8zM398.7,470.0h0.8v0.8h-0.8zM389.4,465.9h0.8v0.8h-0.8zM399.1,476.0h0.8v0.8h-0.8zM385.3,478.1h0.8v0.8h-0.8zM391.3,489.6h0.8v0.8h-0.8zM390.4,487.5h0.8v0.8h-0.8zM398.6,463.1h0.8v0.8h-0.8zM384.0,472.9h0.8v0.8h-0.8zM398.5,466.9h0.8v0.8h-0.8zM389.4,483.6h0.8v0.8h-0.8zM400.9,461.3h0.8v0.8h-0.8zM404.9,465.6h0.8v0.8h-0.8zM385.5,470.6h0.8v0.8h-0.8zM394.5,466.4h0.8v0.8h-0.8zM383.0,473.5h0.8v0.8h-0.8zM395.7,463.5h0.8v0.8h-0.8zM388.4,486.8h0.8v0.8h-0.8zM390.4,477.7h0.8v0.8h-0.8zM383.0,491.5h0.8v0.8h-0.8zM383.8,472.3h0.8v0.8h-0.8zM402.1,468.7h0.8v0.8h-0.8zM396.3,472.2h0.8v0.8h-0.8zM385.9,488.4h0.8v0.8h-0.8zM386.7,467.9h0.8v0.8h-0.8zM399.5,462.8h0.8v0.8h-0.8zM401.6,465.5h0.8v0.8h-0.8zM382.5,496.2h0.8v0.8h-0.8zM398.3,462.6h0.8v0.8h-0.8zM410.0,463.1h0.8v0.8h-0.8zM390.2,467.9h0.8v0.8h-0.8zM390.7,465.3h0.8v0.8h-0.8zM397.8,475.4h0.8v0.8h-0.8zM388.3,469.1h0.8v0.8h-0.8zM396.0,465.4h0.8v0.8h-0.8zM410.2,466.3h0.8v0.8h-0.8zM410.1,464.2h0.8v0.8h-0.8zM383.7,493.4h0.8v0.8h-0.8zM408.7,461.9h0.8v0.8h-0.8zM385.1,484.6h0.8v0.8h-0.8zM408.3,460.0h0.8v0.8h-0.8zM395.4,476.3h0.8v0.8h-0.8zM397.6,468.7h0.8v0.8h-0.8zM406.6,469.7h0.8v0.8h-0.8zM387.4,471.5h0.8v0.8h-0.8zM394.1,478.6h0.8v0.8h-0.8zM387.5,469.1h0.8v0.8h-0.8zM396.1,463.0h0.8v0.8h-0.8zM392.0,474.1h0.8v0.8h-0.8zM387.2,469.0h0.8v0.8h-0.8zM404.9,467.7h0.8v0.8h-0.8zM391.8,480.3h0.8v0.8h-0.8zM410.0,459.2h0.8v0.8h-0.8zM400.2,462.2h0.8v0.8h-0.8zM384.7,486.5h0.8v0.8h-0.8zM399.5,476.9h0.8v0.8h-0.8zM403.4,472.8h0.8v0.8h-0.8zM398.4,474.6h0.8v0.8h-0.8zM391.7,466.2h0.8v0.8h-0.8zM382.4,492.7h0.8v0.8h-0.8zM401.1,465.1h0.8v0.8h-0.8zM398.9,467.4h0.8v0.8h-0.8zM401.7,462.0h0.8v0.8h-0.8zM382.6,488.8h0.8v0.8h-0.8zM386.0,493.8h0.8v0.8h-0.8zM381.6,474.7h0.8v0.8h-0.8zM398.4,464.5h0.8v0.8h-0.8zM384.4,474.0h0.8v0.8h-0.8zM390.3,468.2h0.8v0.8h-0.8zM385.6,469.5h0.8v0.8h-0.8zM403.4,465.0h0.8v0.8h-0.8zM409.6,462.0h0.8v0.8h-0.8zM403.2,460.5h0.8v0.8h-0.8zM408.6,466.8h0.8v0.8h-0.8zM401.0,478.7h0.8v0.8h-0.8zM382.3,490.0h0.8v0.8h-0.8zM406.4,462.1h0.8v0.8h-0.8zM393.0,474.8h0.8v0.8h-0.8zM394.2,483.8h0.8v0.8h-0.8zM382.8,486.8h0.8v0.8h-0.8zM381.6,498.1h0.8v0.8h-0.8zM408.6,464.2h0.8v0.8h-0.8zM399.1,465.8h0.8v0.8h-0.8zM384.7,471.7h0.8v0.8h-0.8zM395.9,465.9h0.8v0.8h-0.8zM387.1,493.4h0.8v0.8h-0.8zM402.0,464.6h0.8v0.8h-0.8zM404.4,466.9h0.8v0.8h-0.8zM391.5,478.9h0.8v0.8h-0.8zM382.6,471.5h0.8v0.8h-0.8zM400.0,463.7h0.8v0.8h-0.8zM393.4,484.0h0.8v0.8h-0.8zM382.8,477.2h0.8v0.8h-0.8zM384.0,472.7h0.8v0.8h-0.8zM402.9,469.0h0.8v0.8h-0.8zM407.8,461.4h0.8v0.8h-0.8zM400.2,473.4h0.8v0.8h-0.8zM408.1,465.4h0.8v0.8h-0.8zM400.8,475.2h0.8v0.8h-0.8zM411.2,461.4h0.8v0.8h-0.8zM386.8,466.6h0.8v0.8h-0.8zM394.9,474.5h0.8v0.8h-0.8zM388.3,474.6h0.8v0.8h-0.8zM391.1,485.8h0.8v0.8h-0.8zM396.0,482.0h0.8v0.8h-0.8zM382.5,490.9h0.8v0.8h-0.8zM388.8,467.7h0.8v0.8h-0.8zM407.7,467.3h0.8v0.8h-0.8zM391.1,482.1h0.8v0.8h-0.8zM405.0,464.3h0.8v0.8h-0.8zM406.2,461.8h0.8v0.8h-0.8zM401.3,464.7h0.8v0.8h-0.8zM400.0,466.9h0.8v0.8h-0.8zM398.0,462.3h0.8v0.8h-0.8zM387.0,476.9h0.8v0.8h-0.8zM408.9,461.0h0.8v0.8h-0.8zM408.5,461.1h0.8v0.8h-0.8zM386.9,478.4h0.8v0.8h-0.8zM402.0,463.5h0.8v0.8h-0.8zM398.7,476.9h0.8v0.8h-0.8zM408.4,458.9h0.8v0.8h-0.8zM396.4,484.6h0.8v0.8h-0.8zM402.6,469.4h0.8v0.8h-0.8zM386.6,469.0h0.8v0.8h-0.8zM406.3,461.0h0.8v0.8h-0.8zM383.8,493.0h0.8v0.8h-0.8zM398.4,480.6h0.8v0.8h-0.8zM407.7,460.4h0.8v0.8h-0.8zM391.8,474.1h0.8v0.8h-0.8zM402.0,464.5h0.8v0.8h-0.8zM381.9,485.6h0.8v0.8h-0.8zM402.8,470.1h0.8v0.8h-0.8zM397.1,468.0h0.8v0.8h-0.8zM410.5,461.0h0.8v0.8h-0.8zM389.5,466.1h0.8v0.8h-0.8zM403.9,467.6h0.8v0.8h-0.8zM409.2,461.7h0.8v0.8h-0.8zM381.8,489.4h0.8v0.8h-0.8zM401.9,471.7h0.8v0.8h-0.8zM394.2,477.1h0.8v0.8h-0.8zM408.3,460.3h0.8v0.8h-0.8zM381.5,499.4h0.8v0.8h-0.8zM400.8,464.4h0.8v0.8h-0.8zM382.5,494.2h0.8v0.8h-0.8zM398.2,464.0h0.8v0.8h-0.8zM389.8,478.0h0.8v0.8h-0.8zM399.9,475.9h0.8v0.8h-0.8zM381.6,489.1h0.8v0.8h-0.8zM389.2,476.9h0.8v0.8h-0.8zM381.3,499.8h0.8v0.8h-0.8zM391.1,463.9h0.8v0.8h-0.8zM384.4,472.5h0.8v0.8h-0.8zM409.6,462.0h0.8v0.8h-0.8zM391.0,483.2h0.8v0.8h-0.8zM383.3,479.8h0.8v0.8h-0.8zM401.6,471.7h0.8v0.8h-0.8zM404.9,461.6h0.8v0.8h-0.8zM383.3,469.5h0.8v0.8h-0.8zM384.1,468.9h0.8v0.8h-0.8zM382.5,491.3h0.8v0.8h-0.8zM381.5,480.6h0.8v0.8h-0.8zM405.8,461.2h0.8v0.8h-0.8zM404.8,461.2h0.8v0.8h-0.8zM385.4,482.3h0.8v0.8h-0.8zM386.2,467.4h0.8v0.8h-0.8zM386.1,481.1h0.8v0.8h-0.8zM398.8,463.0h0.8v0.8h-0.8zM382.2,491.0h0.8v0.8h-0.8zM382.5,474.1h0.8v0.8h-0.8zM402.5,472.0h0.8v0.8h-0.8zM407.8,460.8h0.8v0.8h-0.8zM390.8,465.1h0.8v0.8h-0.8zM398.9,463.7h0.8v0.8h-0.8zM389.6,480.1h0.8v0.8h-0.8zM384.9,473.0h0.8v0.8h-0.8zM392.0,476.9h0.8v0.8h-0.8zM398.1,463.7h0.8v0.8h-0.8zM386.5,470.9h0.8v0.8h-0.8zM400.9,466.8h0.8v0.8h-0.8zM394.5,480.5h0.8v0.8h-0.8zM402.7,474.4h0.8v0.8h-0.8zM402.5,464.3h0.8v0.8h-0.8zM386.6,470.4h0.8v0.8h-0.8zM403.9,461.6h0.8v0.8h-0.8zM402.8,469.3h0.8v0.8h-0.8zM387.4,477.3h0.8v0.8h-0.8zM409.8,460.6h0.8v0.8h-0.8zM400.5,462.5h0.8v0.8h-0.8zM383.9,470.8h0.8v0.8h-0.8zM382.4,471.3h0.8v0.8h-0.8zM401.2,472.3h0.8v0.8h-0.8zM382.3,489.5h0.8v0.8h-0.8zM396.8,467.7h0.8v0.8h-0.8zM390.8,479.5h0.8v0.8h-0.8zM401.0,467.8h0.8v0.8h-0.8zM404.4,467.3h0.8v0.8h-0.8zM382.1,494.6h0.8v0.8h-0.8zM407.4,460.0h0.8v0.8h-0.8zM409.5,461.0h0.8v0.8h-0.8zM397.7,480.7h0.8v0.8h-0.8zM400.6,480.3h0.8v0.8h-0.8zM403.1,468.4h0.8v0.8h-0.8zM400.2,465.6h0.8v0.8h-0.8zM398.7,463.2h0.8v0.8h-0.8zM403.5,462.6h0.8v0.8h-0.8zM383.5,470.8h0.8v0.8h-0.8zM395.4,469.1h0.8v0.8h-0.8zM397.4,465.1h0.8v0.8h-0.8zM396.9,484.4h0.8v0.8h-0.8zM385.7,469.5h0.8v0.8h-0.8zM396.8,472.9h0.8v0.8h-0.8zM393.9,464.4h0.8v0.8h-0.8zM396.5,467.2h0.8v0.8h-0.8zM384.5,496.7h0.8v0.8h-0.8zM395.5,467.5h0.8v0.8h-0.8zM393.7,465.4h0.8v0.8h-0.8zM394.5,473.5h0.8v0.8h-0.8zM387.9,486.4h0.8v0.8h-0.8zM396.1,463.6h0.8v0.8h-0.8zM389.2,476.0h0.8v0.8h-0.8zM402.6,461.2h0.8v0.8h-0.8zM409.7,465.2h0.8v0.8h-0.8zM393.7,474.0h0.8v0.8h-0.8zM396.1,477.7h0.8v0.8h-0.8zM390.2,488.4h0.8v0.8h-0.8zM385.2,482.8h0.8v0.8h-0.8zM400.8,472.7h0.8v0.8h-0.8zM385.0,471.6h0.8v0.8h-0.8zM384.6,469.1h0.8v0.8h-0.8zM382.5,495.8h0.8v0.8h-0.8zM402.1,464.0h0.8v0.8h-0.8zM391.8,484.1h0.8v0.8h-0.8zM410.7,460.5h0.8v0.8h-0.8zM403.8,462.4h0.8v0.8h-0.8zM396.2,472.9h0.8v0.8h-0.8zM408.6,465.1h0.8v0.8h-0.8zM401.7,463.6h0.8v0.8h-0.8zM397.4,480.6h0.8v0.8h-0.8zM382.0,475.4h0.8v0.8h-0.8zM397.6,466.5h0.8v0.8h-0.8zM401.3,472.9h0.8v0.8h-0.8zM387.8,475.6h0.8v0.8h-0.8zM387.0,472.8h0.8v0.8h-0.8zM384.3,494.7h0.8v0.8h-0.8zM394.3,464.5h0.8v0.8h-0.8zM386.8,480.6h0.8v0.8h-0.8zM400.6,460.7h0.8v0.8h-0.8zM392.6,478.2h0.8v0.8h-0.8zM408.4,462.9h0.8v0.8h-0.8zM404.9,463.8h0.8v0.8h-0.8zM400.2,465.8h0.8v0.8h-0.8zM391.2,474.3h0.8v0.8h-0.8zM381.3,494.3h0.8v0.8h-0.8zM393.3,464.2h0.8v0.8h-0.8zM400.7,466.1h0.8v0.8h-0.8zM409.3,461.8h0.8v0.8h-0.8zM396.8,466.3h0.8v0.8h-0.8zM384.3,471.9h0.8v0.8h-0.8zM388.7,472.5h0.8v0.8h-0.8zM382.4,483.6h0.8v0.8h-0.8zM380.6,481.6h0.8v0.8h-0.8zM388.5,481.8h0.8v0.8h-0.8zM386.9,481.7h0.8v0.8h-0.8zM384.9,484.6h0.8v0.8h-0.8zM383.9,481.2h0.8v0.8h-0.8zM385.7,483.9h0.8v0.8h-0.8zM384.0,473.7h0.8v0.8h-0.8zM387.4,481.5h0.8v0.8h-0.8zM384.2,473.9h0.8v0.8h-0.8zM383.4,470.9h0.8v0.8h-0.8zM386.4,477.0h0.8v0.8h-0.8zM382.9,482.3h0.8v0.8h-0.8zM386.4,478.5h0.8v0.8h-0.8zM382.0,489.1h0.8v0.8h-0.8zM383.6,482.5h0.8v0.8h-0.8zM385.4,480.9h0.8v0.8h-0.8zM383.2,479.1h0.8v0.8h-0.8zM387.4,470.3h0.8v0.8h-0.8zM384.7,478.7h0.8v0.8h-0.8zM385.5,478.5h0.8v0.8h-0.8zM380.0,488.9h0.8v0.8h-0.8zM386.4,473.6h0.8v0.8h-0.8zM385.2,477.6h0.8v0.8h-0.8zM380.0,474.0h0.8v0.8h-0.8zM385.6,479.3h0.8v0.8h-0.8zM385.8,468.0h0.8v0.8h-0.8zM383.2,480.2h0.8v0.8h-0.8zM382.2,478.5h0.8v0.8h-0.8zM381.4,479.5h0.8v0.8h-0.8zM385.0,494.2h0.8v0.8h-0.8zM385.0,477.9h0.8v0.8h-0.8zM384.4,481.3h0.8v0.8h-0.8zM390.0,478.3h0.8v0.8h-0.8zM384.9,484.9h0.8v0.8h-0.8zM385.3,491.9h0.8v0.8h-0.8zM381.0,488.6h0.8v0.8h-0.8zM385.7,480.4h0.8v0.8h-0.8zM387.3,470.7h0.8v0.8h-0.8zM382.7,481.0h0.8v0.8h-0.8zM390.2,468.4h0.8v0.8h-0.8zM383.5,473.1h0.8v0.8h-0.8zM385.3,474.8h0.8v0.8h-0.8zM384.0,471.7h0.8v0.8h-0.8zM384.0,478.4h0.8v0.8h-0.8zM377.7,476.2h0.8v0.8h-0.8zM387.1,473.9h0.8v0.8h-0.8zM379.4,480.6h0.8v0.8h-0.8zM388.1,473.9h0.8v0.8h-0.8zM382.2,486.1h0.8v0.8h-0.8zM383.6,482.2h0.8v0.8h-0.8zM391.2,475.7h0.8v0.8h-0.8zM382.5,481.0h0.8v0.8h-0.8zM384.4,474.2h0.8v0.8h-0.8zM381.8,474.5h0.8v0.8h-0.8zM384.5,484.5h0.8v0.8h-0.8zM386.0,468.7h0.8v0.8h-0.8zM388.9,481.1h0.8v0.8h-0.8zM378.4,489.9h0.8v0.8h-0.8zM384.8,464.9h0.8v0.8h-0.8zM386.4,492.8h0.8v0.8h-0.8zM387.2,466.6h0.8v0.8h-0.8zM383.0,464.7h0.8v0.8h-0.8zM385.1,465.5h0.8v0.8h-0.8zM389.6,471.2h0.8v0.8h-0.8zM385.9,474.7h0.8v0.8h-0.8zM390.3,466.7h0.8v0.8h-0.8zM381.9,477.0h0.8v0.8h-0.8zM383.2,483.2h0.8v0.8h-0.8zM385.0,473.5h0.8v0.8h-0.8zM382.4,479.0h0.8v0.8h-0.8zM386.6,482.0h0.8v0.8h-0.8zM382.1,488.8h0.8v0.8h-0.8zM385.8,477.7h0.8v0.8h-0.8zM381.2,482.6h0.8v0.8h-0.8zM382.8,481.4h0.8v0.8h-0.8zM385.6,478.6h0.8v0.8h-0.8zM386.4,476.2h0.8v0.8h-0.8zM382.5,480.4h0.8v0.8h-0.8zM381.2,482.5h0.8v0.8h-0.8zM386.3,470.2h0.8v0.8h-0.8zM382.4,476.0h0.8v0.8h-0.8zM385.9,480.3h0.8v0.8h-0.8zM388.2,480.0h0.8v0.8h-0.8zM386.6,480.3h0.8v0.8h-0.8zM381.1,488.2h0.8v0.8h-0.8zM388.1,484.6h0.8v0.8h-0.8zM387.8,470.6h0.8v0.8h-0.8zM383.5,487.9h0.8v0.8h-0.8zM383.9,473.9h0.8v0.8h-0.8zM388.5,473.2h0.8v0.8h-0.8zM385.8,484.8h0.8v0.8h-0.8zM386.0,476.2h0.8v0.8h-0.8zM387.7,467.9h0.8v0.8h-0.8zM386.3,482.0h0.8v0.8h-0.8zM392.1,481.0h0.8v0.8h-0.8zM388.5,481.5h0.8v0.8h-0.8zM385.4,469.6h0.8v0.8h-0.8zM385.3,483.1h0.8v0.8h-0.8zM384.2,474.4h0.8v0.8h-0.8zM388.1,483.7h0.8v0.8h-0.8zM382.0,470.6h0.8v0.8h-0.8zM387.2,472.3h0.8v0.8h-0.8zM383.5,466.1h0.8v0.8h-0.8zM380.4,473.4h0.8v0.8h-0.8zM387.5,484.7h0.8v0.8h-0.8zM386.1,479.6h0.8v0.8h-0.8zM385.7,474.7h0.8v0.8h-0.8zM384.2,486.6h0.8v0.8h-0.8zM385.0,479.4h0.8v0.8h-0.8zM383.4,482.9h0.8v0.8h-0.8zM388.4,480.2h0.8v0.8h-0.8zM388.5,477.5h0.8v0.8h-0.8zM384.9,479.0h0.8v0.8h-0.8zM385.1,480.8h0.8v0.8h-0.8zM385.8,485.1h0.8v0.8h-0.8zM387.3,481.9h0.8v0.8h-0.8zM385.6,483.6h0.8v0.8h-0.8zM383.9,471.3h0.8v0.8h-0.8zM384.5,466.6h0.8v0.8h-0.8zM385.8,480.1h0.8v0.8h-0.8zM384.7,479.1h0.8v0.8h-0.8zM384.1,480.8h0.8v0.8h-0.8zM388.1,472.0h0.8v0.8h-0.8zM386.1,479.0h0.8v0.8h-0.8zM387.4,471.6h0.8v0.8h-0.8zM382.8,478.6h0.8v0.8h-0.8zM387.2,477.7h0.8v0.8h-0.8zM385.1,477.0h0.8v0.8h-0.8zM384.4,480.0h0.8v0.8h-0.8zM383.4,475.1h0.8v0.8h-0.8zM383.5,478.0h0.8v0.8h-0.8zM383.9,482.4h0.8v0.8h-0.8zM385.4,487.4h0.8v0.8h-0.8zM384.9,480.6h0.8v0.8h-0.8zM390.1,483.1h0.8v0.8h-0.8zM386.3,481.7h0.8v0.8h-0.8zM385.7,488.3h0.8v0.8h-0.8zM384.8,491.0h0.8v0.8h-0.8zM383.1,474.2h0.8v0.8h-0.8zM383.0,482.4h0.8v0.8h-0.8zM386.0,480.0h0.8v0.8h-0.8zM381.3,487.8h0.8v0.8h-0.8zM389.2,463.1h0.8v0.8h-0.8zM389.0,474.2h0.8v0.8h-0.8zM381.4,467.5h0.8v0.8h-0.8zM388.1,486.6h0.8v0.8h-0.8zM387.9,479.8h0.8v0.8h-0.8zM387.9,482.2h0.8v0.8h-0.8zM386.8,480.6h0.8v0.8h-0.8zM389.2,479.9h0.8v0.8h-0.8zM383.1,480.6h0.8v0.8h-0.8zM383.9,475.6h0.8v0.8h-0.8zM386.6,465.6h0.8v0.8h-0.8zM385.2,480.1h0.8v0.8h-0.8zM381.5,477.8h0.8v0.8h-0.8zM387.2,474.7h0.8v0.8h-0.8zM387.7,474.4h0.8v0.8h-0.8zM384.6,486.1h0.8v0.8h-0.8zM386.1,473.6h0.8v0.8h-0.8zM387.5,471.6h0.8v0.8h-0.8zM379.8,482.2h0.8v0.8h-0.8zM383.7,487.1h0.8v0.8h-0.8zM382.9,470.2h0.8v0.8h-0.8zM384.7,472.0h0.8v0.8h-0.8zM382.0,471.7h0.8v0.8h-0.8zM381.9,480.5h0.8v0.8h-0.8zM385.6,481.5h0.8v0.8h-0.8zM389.7,486.7h0.8v0.8h-0.8zM382.0,477.8h0.8v0.8h-0.8zM389.1,476.6h0.8v0.8h-0.8zM387.5,474.4h0.8v0.8h-0.8zM387.6,485.0h0.8v0.8h-0.8zM388.4,474.4h0.8v0.8h-0.8zM384.0,473.0h0.8v0.8h-0.8zM387.9,476.7h0.8v0.8h-0.8zM381.3,477.9h0.8v0.8h-0.8zM383.1,480.5h0.8v0.8h-0.8zM385.9,474.2h0.8v0.8h-0.8zM387.0,488.8h0.8v0.8h-0.8zM381.6,489.8h0.8v0.8h-0.8zM380.3,471.2h0.8v0.8h-0.8zM386.1,478.9h0.8v0.8h-0.8zM385.8,471.9h0.8v0.8h-0.8zM386.9,476.4h0.8v0.8h-0.8zM384.9,470.5h0.8v0.8h-0.8zM381.8,476.3h0.8v0.8h-0.8zM387.9,479.7h0.8v0.8h-0.8zM387.1,479.1h0.8v0.8h-0.8zM385.5,469.8h0.8v0.8h-0.8zM390.6,465.8h0.8v0.8h-0.8zM385.7,466.7h0.8v0.8h-0.8zM388.9,485.5h0.8v0.8h-0.8zM384.8,477.0h0.8v0.8h-0.8zM377.8,478.5h0.8v0.8h-0.8zM382.2,487.0h0.8v0.8h-0.8zM378.2,471.9h0.8v0.8h-0.8zM384.5,480.6h0.8v0.8h-0.8zM388.1,473.9h0.8v0.8h-0.8zM380.8,479.2h0.8v0.8h-0.8zM386.9,466.5h0.8v0.8h-0.8zM384.4,475.6h0.8v0.8h-0.8zM387.4,477.6h0.8v0.8h-0.8zM386.1,478.7h0.8v0.8h-0.8zM382.6,469.3h0.8v0.8h-0.8zM386.6,476.5h0.8v0.8h-0.8zM385.0,483.5h0.8v0.8h-0.8zM387.4,477.5h0.8v0.8h-0.8zM390.0,483.3h0.8v0.8h-0.8zM384.6,482.1h0.8v0.8h-0.8zM389.2,479.5h0.8v0.8h-0.8zM384.9,475.8h0.8v0.8h-0.8zM386.7,478.5h0.8v0.8h-0.8zM385.6,472.3h0.8v0.8h-0.8zM383.4,482.1h0.8v0.8h-0.8zM385.5,480.0h0.8v0.8h-0.8zM384.0,485.3h0.8v0.8h-0.8zM386.6,491.9h0.8v0.8h-0.8zM391.2,499.5h0.8v0.8h-0.8zM383.2,486.0h0.8v0.8h-0.8zM401.2,492.1h0.8v0.8h-0.8zM396.0,493.6h0.8v0.8h-0.8zM397.9,494.4h0.8v0.8h-0.8zM383.7,507.8h0.8v0.8h-0.8z" fill="#151515" fill-opacity="0.72"/>
<path d="M245,252 H248.3 V544.3 H440 V547.8 H245 Z" fill="#3c3c3c"/>
<path d="M246.6,243.2 L253.3,256.2 L246.6,253.2 L240.2,256.2 Z" fill="#3c3c3c"/>
<path d="M447.6,546 L435,551.6 L438.3,546 L435,540.4 Z" fill="#3c3c3c"/>
<text transform="translate(236.8,413.2) rotate(-90)" font-size="11.8" stroke="#000" stroke-width="0.4" text-anchor="middle" textLength="21.7" lengthAdjust="spacingAndGlyphs">Ki67</text>
<text x="326" y="556.8" font-size="11.5" text-anchor="start" fill="#000" textLength="41" lengthAdjust="spacingAndGlyphs" stroke="#000" stroke-width="0.45">Hoechst</text>
<text transform="translate(448,291.5) rotate(90)" font-size="8.8" stroke="#000" stroke-width="0.35" text-anchor="middle" textLength="42" lengthAdjust="spacingAndGlyphs">LKS+ 48-</text>
<text transform="translate(448,390.3) rotate(90)" font-size="8.8" stroke="#000" stroke-width="0.35" text-anchor="middle" textLength="44.5" lengthAdjust="spacingAndGlyphs">LKS+ 48+</text>
<text transform="translate(448.8,497.6) rotate(90)" font-size="10" stroke="#000" stroke-width="0.35" text-anchor="middle" textLength="21.5" lengthAdjust="spacingAndGlyphs">LKS-</text>
</svg></body></html>
